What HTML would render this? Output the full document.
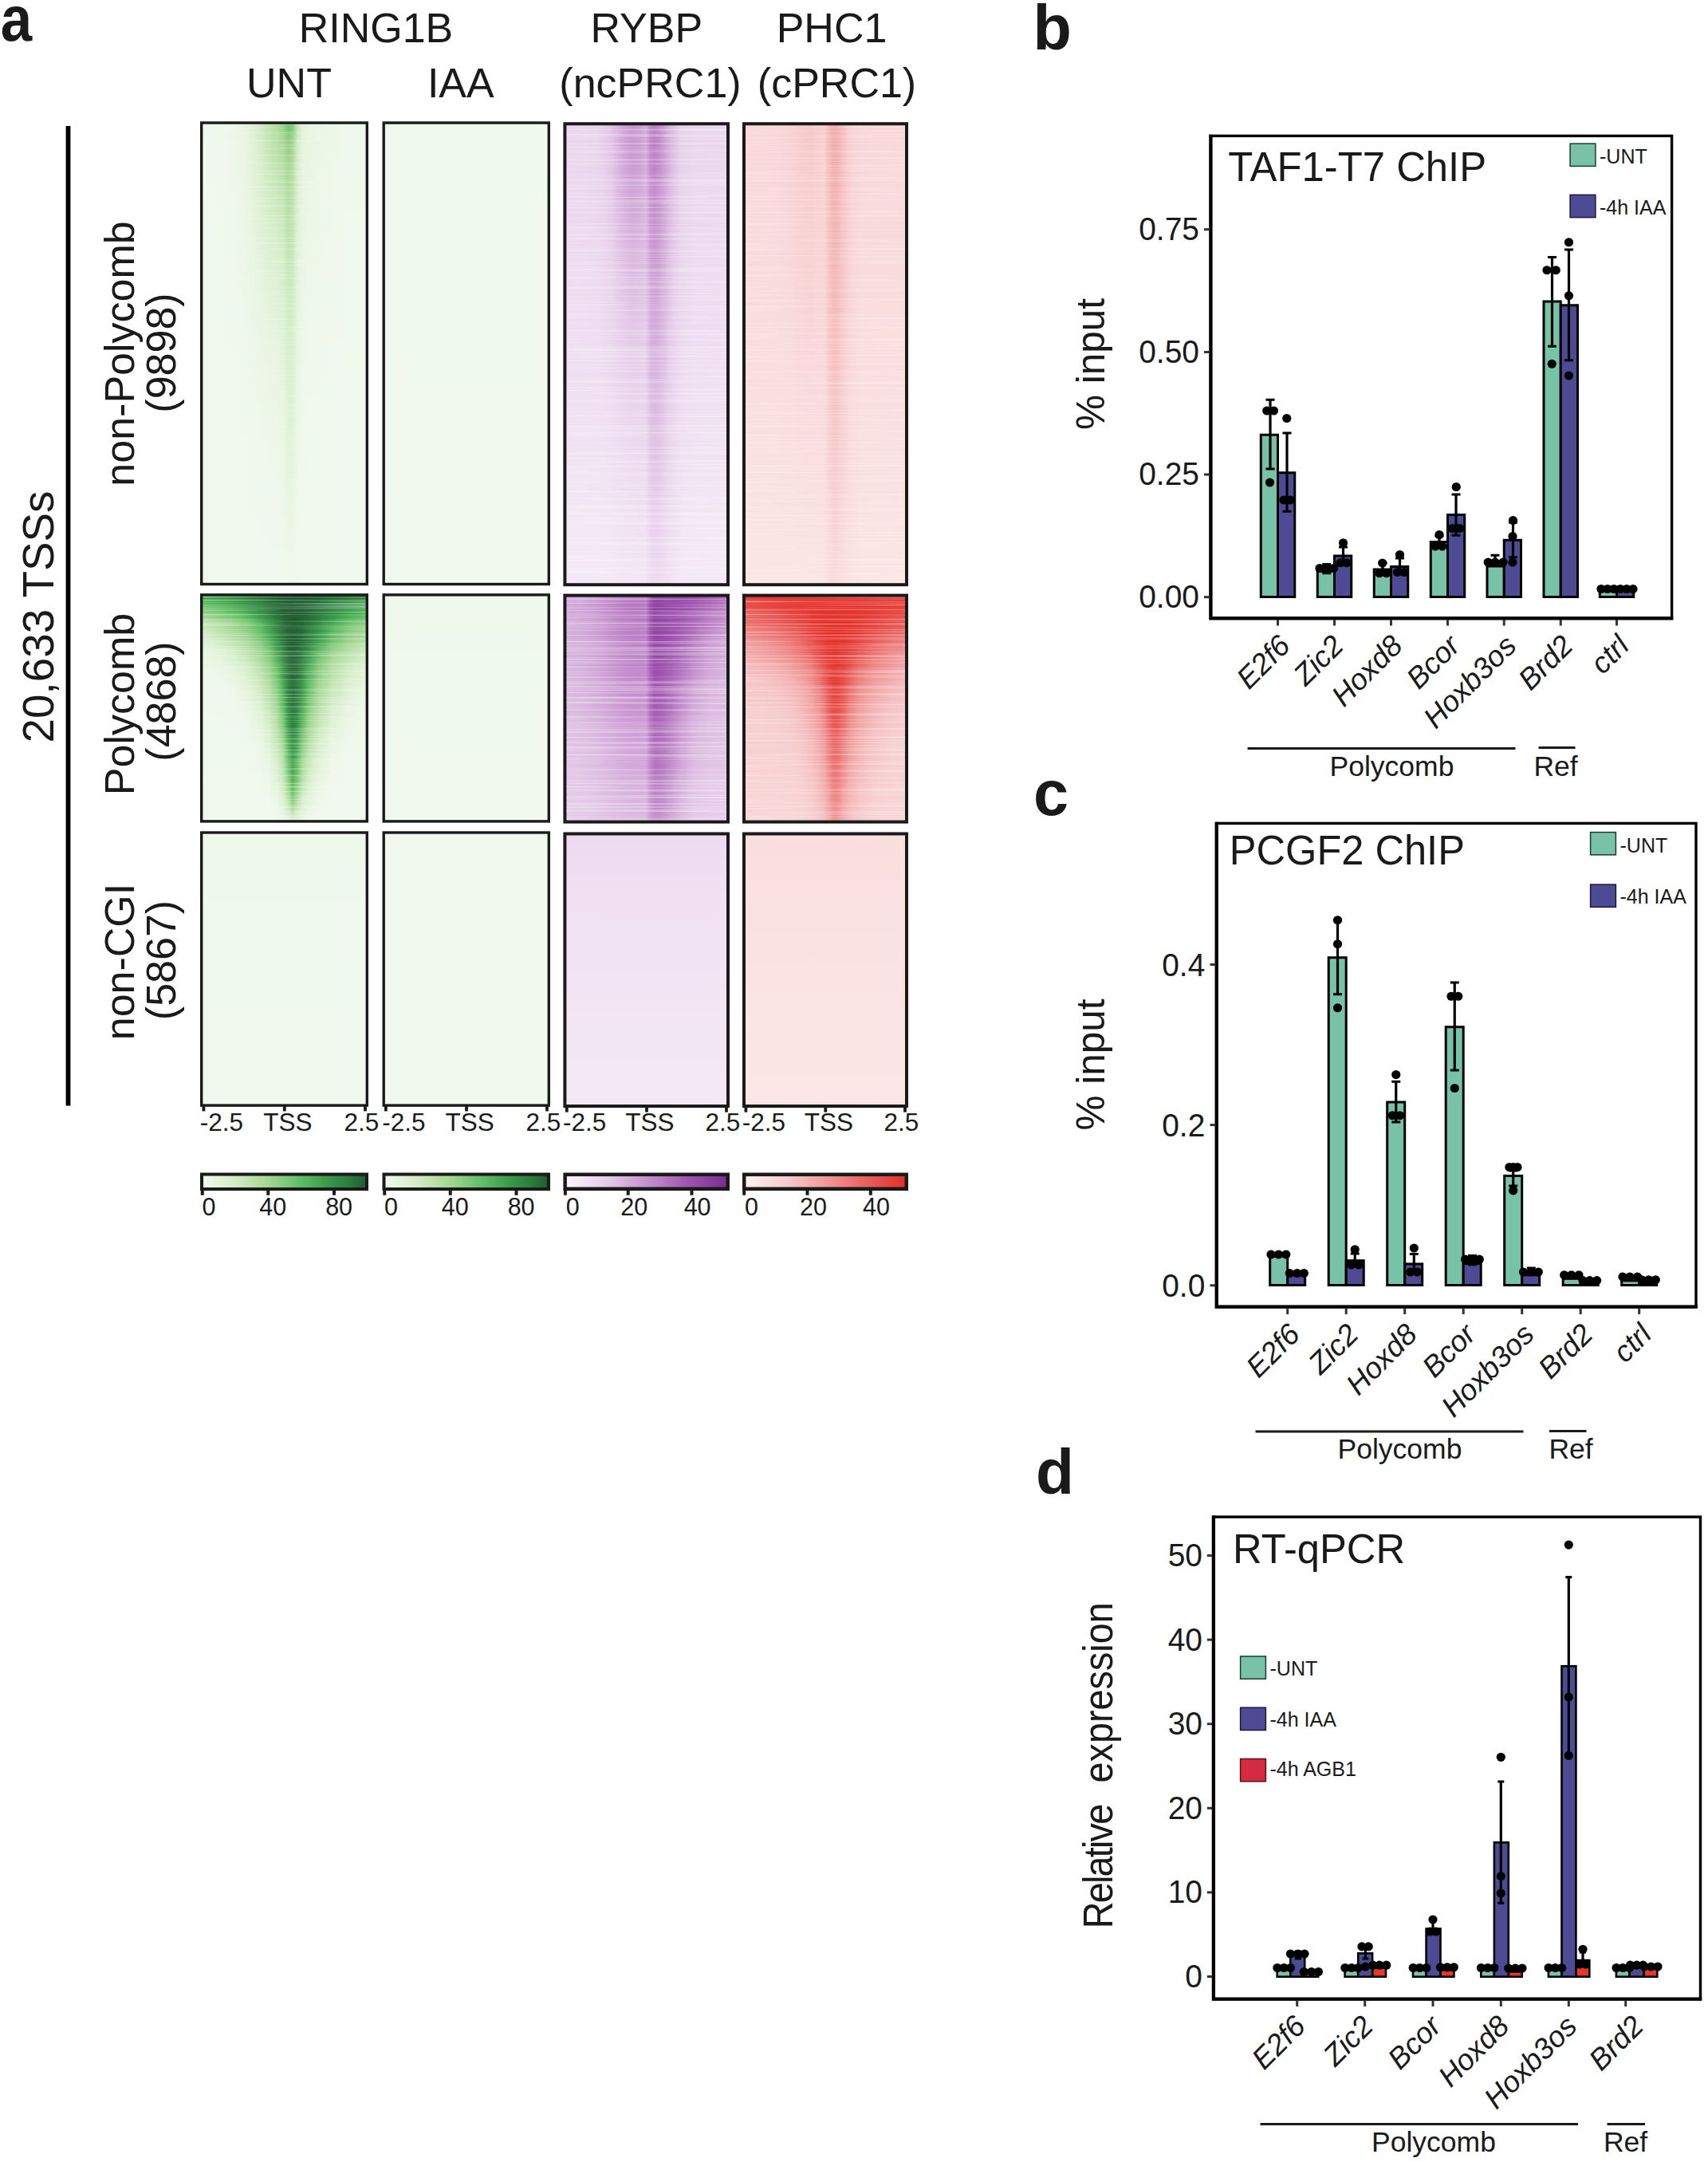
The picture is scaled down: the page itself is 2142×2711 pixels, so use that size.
<!DOCTYPE html>
<html lang="en"><head><meta charset="utf-8"><title>Figure</title>
<style>
html,body{margin:0;padding:0;background:#fff}
svg{display:block}
text{font-family:'Liberation Sans', Arial, Helvetica, sans-serif;}
</style></head><body>
<svg width="2142" height="2711" viewBox="0 0 2142 2711">
<defs>
<linearGradient id="h1"><stop offset="0" stop-color="#f0f9ed"/><stop offset="0.1" stop-color="#eff8ec"/><stop offset="0.2" stop-color="#ecf7e8"/><stop offset="0.28" stop-color="#e4f4dd"/><stop offset="0.35" stop-color="#d5eec8"/><stop offset="0.41" stop-color="#bee3ae"/><stop offset="0.46" stop-color="#afdc9e"/><stop offset="0.495" stop-color="#95d189"/><stop offset="0.525" stop-color="#70c470"/><stop offset="0.55" stop-color="#81ca7b"/><stop offset="0.575" stop-color="#c0e4b1"/><stop offset="0.61" stop-color="#e3f3db"/><stop offset="0.65" stop-color="#e8f5e2"/><stop offset="0.71" stop-color="#eaf6e5"/><stop offset="0.79" stop-color="#edf7e8"/><stop offset="0.89" stop-color="#eff8ec"/><stop offset="1" stop-color="#f0f9ed"/></linearGradient>
<linearGradient id="h2"><stop offset="0" stop-color="#f0f9ed"/><stop offset="0.1" stop-color="#eff8ec"/><stop offset="0.2" stop-color="#ecf7e8"/><stop offset="0.28" stop-color="#e5f4de"/><stop offset="0.35" stop-color="#d6eec9"/><stop offset="0.41" stop-color="#c0e4b1"/><stop offset="0.46" stop-color="#b3dea2"/><stop offset="0.495" stop-color="#9fd58f"/><stop offset="0.525" stop-color="#80ca7a"/><stop offset="0.55" stop-color="#90d085"/><stop offset="0.575" stop-color="#c5e6b7"/><stop offset="0.61" stop-color="#e4f4dc"/><stop offset="0.65" stop-color="#e8f5e2"/><stop offset="0.71" stop-color="#eaf6e5"/><stop offset="0.79" stop-color="#edf7e9"/><stop offset="0.89" stop-color="#eff8ec"/><stop offset="1" stop-color="#f0f9ed"/></linearGradient>
<linearGradient id="h3"><stop offset="0" stop-color="#f1f9ed"/><stop offset="0.1" stop-color="#eff8ec"/><stop offset="0.2" stop-color="#edf7e8"/><stop offset="0.28" stop-color="#e5f4de"/><stop offset="0.35" stop-color="#d7eecb"/><stop offset="0.41" stop-color="#c3e5b4"/><stop offset="0.46" stop-color="#b6dfa6"/><stop offset="0.495" stop-color="#a7d896"/><stop offset="0.525" stop-color="#8dcf83"/><stop offset="0.55" stop-color="#9dd48e"/><stop offset="0.575" stop-color="#cae9bc"/><stop offset="0.61" stop-color="#e4f4dd"/><stop offset="0.65" stop-color="#e8f6e3"/><stop offset="0.71" stop-color="#ebf6e5"/><stop offset="0.79" stop-color="#edf7e9"/><stop offset="0.89" stop-color="#eff8ec"/><stop offset="1" stop-color="#f1f9ed"/></linearGradient>
<linearGradient id="h4"><stop offset="0" stop-color="#f1f9ed"/><stop offset="0.1" stop-color="#f0f8ec"/><stop offset="0.2" stop-color="#edf7e8"/><stop offset="0.28" stop-color="#e6f4df"/><stop offset="0.35" stop-color="#d8efcc"/><stop offset="0.41" stop-color="#c5e6b7"/><stop offset="0.46" stop-color="#bae1aa"/><stop offset="0.495" stop-color="#acda9b"/><stop offset="0.525" stop-color="#95d188"/><stop offset="0.55" stop-color="#a5d793"/><stop offset="0.575" stop-color="#cdeabf"/><stop offset="0.61" stop-color="#e5f4de"/><stop offset="0.65" stop-color="#e9f6e3"/><stop offset="0.71" stop-color="#ebf7e6"/><stop offset="0.79" stop-color="#edf7e9"/><stop offset="0.89" stop-color="#eff8ec"/><stop offset="1" stop-color="#f1f9ed"/></linearGradient>
<linearGradient id="h5"><stop offset="0" stop-color="#f1f9ed"/><stop offset="0.1" stop-color="#f0f8ec"/><stop offset="0.2" stop-color="#edf7e8"/><stop offset="0.28" stop-color="#e6f5df"/><stop offset="0.35" stop-color="#d9efce"/><stop offset="0.41" stop-color="#c8e8ba"/><stop offset="0.46" stop-color="#bde2ae"/><stop offset="0.495" stop-color="#b0dc9f"/><stop offset="0.525" stop-color="#9dd48e"/><stop offset="0.55" stop-color="#a9d998"/><stop offset="0.575" stop-color="#d0ebc2"/><stop offset="0.61" stop-color="#e5f4df"/><stop offset="0.65" stop-color="#e9f6e3"/><stop offset="0.71" stop-color="#ebf7e6"/><stop offset="0.79" stop-color="#edf8e9"/><stop offset="0.89" stop-color="#eff8ec"/><stop offset="1" stop-color="#f1f9ed"/></linearGradient>
<linearGradient id="h6"><stop offset="0" stop-color="#f1f9ed"/><stop offset="0.1" stop-color="#f0f8ec"/><stop offset="0.2" stop-color="#edf7e9"/><stop offset="0.28" stop-color="#e6f5e0"/><stop offset="0.35" stop-color="#daf0cf"/><stop offset="0.41" stop-color="#cae9bc"/><stop offset="0.46" stop-color="#c0e4b1"/><stop offset="0.495" stop-color="#b4dea4"/><stop offset="0.525" stop-color="#a5d793"/><stop offset="0.55" stop-color="#aedb9d"/><stop offset="0.575" stop-color="#d2edc5"/><stop offset="0.61" stop-color="#e6f5df"/><stop offset="0.65" stop-color="#e9f6e4"/><stop offset="0.71" stop-color="#ebf7e6"/><stop offset="0.79" stop-color="#edf8e9"/><stop offset="0.89" stop-color="#eff8ec"/><stop offset="1" stop-color="#f1f9ed"/></linearGradient>
<linearGradient id="h7"><stop offset="0" stop-color="#f1f9ed"/><stop offset="0.1" stop-color="#f0f8ec"/><stop offset="0.2" stop-color="#edf7e9"/><stop offset="0.28" stop-color="#e7f5e0"/><stop offset="0.35" stop-color="#dbf0d0"/><stop offset="0.41" stop-color="#cdeabf"/><stop offset="0.46" stop-color="#c3e5b4"/><stop offset="0.495" stop-color="#b8e0a8"/><stop offset="0.525" stop-color="#aad998"/><stop offset="0.55" stop-color="#b3dea2"/><stop offset="0.575" stop-color="#d4eec8"/><stop offset="0.61" stop-color="#e6f5e0"/><stop offset="0.65" stop-color="#eaf6e4"/><stop offset="0.71" stop-color="#ebf7e7"/><stop offset="0.79" stop-color="#eef8e9"/><stop offset="0.89" stop-color="#f0f8ec"/><stop offset="1" stop-color="#f1f9ed"/></linearGradient>
<linearGradient id="h8"><stop offset="0" stop-color="#f1f9ed"/><stop offset="0.1" stop-color="#f0f8ec"/><stop offset="0.2" stop-color="#edf8e9"/><stop offset="0.28" stop-color="#e7f5e1"/><stop offset="0.35" stop-color="#dcf0d1"/><stop offset="0.41" stop-color="#cfebc1"/><stop offset="0.46" stop-color="#c5e7b7"/><stop offset="0.495" stop-color="#bbe2ac"/><stop offset="0.525" stop-color="#addb9c"/><stop offset="0.55" stop-color="#b6dfa6"/><stop offset="0.575" stop-color="#d6eeca"/><stop offset="0.61" stop-color="#e7f5e1"/><stop offset="0.65" stop-color="#eaf6e4"/><stop offset="0.71" stop-color="#ecf7e7"/><stop offset="0.79" stop-color="#eef8ea"/><stop offset="0.89" stop-color="#f0f8ec"/><stop offset="1" stop-color="#f1f9ed"/></linearGradient>
<linearGradient id="h9"><stop offset="0" stop-color="#f1f9ed"/><stop offset="0.1" stop-color="#f0f9ec"/><stop offset="0.2" stop-color="#edf8e9"/><stop offset="0.28" stop-color="#e8f5e1"/><stop offset="0.35" stop-color="#dcf1d3"/><stop offset="0.41" stop-color="#d1ecc3"/><stop offset="0.46" stop-color="#c8e8ba"/><stop offset="0.495" stop-color="#bee3af"/><stop offset="0.525" stop-color="#b0dc9f"/><stop offset="0.55" stop-color="#b8e0a8"/><stop offset="0.575" stop-color="#d7eecb"/><stop offset="0.61" stop-color="#e7f5e1"/><stop offset="0.65" stop-color="#eaf6e5"/><stop offset="0.71" stop-color="#ecf7e7"/><stop offset="0.79" stop-color="#eef8ea"/><stop offset="0.89" stop-color="#f0f8ec"/><stop offset="1" stop-color="#f1f9ed"/></linearGradient>
<linearGradient id="h10"><stop offset="0" stop-color="#f1f9ed"/><stop offset="0.1" stop-color="#f0f9ec"/><stop offset="0.2" stop-color="#eef8e9"/><stop offset="0.28" stop-color="#e8f5e2"/><stop offset="0.35" stop-color="#ddf1d4"/><stop offset="0.41" stop-color="#d3edc6"/><stop offset="0.46" stop-color="#cae9bc"/><stop offset="0.495" stop-color="#c1e4b2"/><stop offset="0.525" stop-color="#b2dda2"/><stop offset="0.55" stop-color="#bae1aa"/><stop offset="0.575" stop-color="#d8efcc"/><stop offset="0.61" stop-color="#e8f5e2"/><stop offset="0.65" stop-color="#eaf6e5"/><stop offset="0.71" stop-color="#ecf7e7"/><stop offset="0.79" stop-color="#eef8ea"/><stop offset="0.89" stop-color="#f0f8ec"/><stop offset="1" stop-color="#f1f9ed"/></linearGradient>
<linearGradient id="h11"><stop offset="0" stop-color="#f1f9ee"/><stop offset="0.1" stop-color="#f0f9ec"/><stop offset="0.2" stop-color="#eef8ea"/><stop offset="0.28" stop-color="#e8f6e2"/><stop offset="0.35" stop-color="#def1d5"/><stop offset="0.41" stop-color="#d4edc7"/><stop offset="0.46" stop-color="#cdeabf"/><stop offset="0.495" stop-color="#c3e6b5"/><stop offset="0.525" stop-color="#b4dea4"/><stop offset="0.55" stop-color="#bce2ac"/><stop offset="0.575" stop-color="#d8efcd"/><stop offset="0.61" stop-color="#e8f5e2"/><stop offset="0.65" stop-color="#ebf6e5"/><stop offset="0.71" stop-color="#ecf7e8"/><stop offset="0.79" stop-color="#eef8ea"/><stop offset="0.89" stop-color="#f0f8ec"/><stop offset="1" stop-color="#f1f9ee"/></linearGradient>
<linearGradient id="h12"><stop offset="0" stop-color="#f1f9ee"/><stop offset="0.1" stop-color="#f0f9ed"/><stop offset="0.2" stop-color="#eef8ea"/><stop offset="0.28" stop-color="#e9f6e3"/><stop offset="0.35" stop-color="#dff2d6"/><stop offset="0.41" stop-color="#d5eec9"/><stop offset="0.46" stop-color="#cfebc2"/><stop offset="0.495" stop-color="#c6e7b8"/><stop offset="0.525" stop-color="#b7e0a7"/><stop offset="0.55" stop-color="#bee3ae"/><stop offset="0.575" stop-color="#d9f0ce"/><stop offset="0.61" stop-color="#e9f6e3"/><stop offset="0.65" stop-color="#ebf7e6"/><stop offset="0.71" stop-color="#ecf7e8"/><stop offset="0.79" stop-color="#eef8ea"/><stop offset="0.89" stop-color="#f0f9ec"/><stop offset="1" stop-color="#f1f9ee"/></linearGradient>
<linearGradient id="h13"><stop offset="0" stop-color="#f1f9ee"/><stop offset="0.1" stop-color="#f0f9ed"/><stop offset="0.2" stop-color="#eef8ea"/><stop offset="0.28" stop-color="#e9f6e3"/><stop offset="0.35" stop-color="#e0f2d7"/><stop offset="0.41" stop-color="#d7efcb"/><stop offset="0.46" stop-color="#d2ecc5"/><stop offset="0.495" stop-color="#c9e8ba"/><stop offset="0.525" stop-color="#b9e1a9"/><stop offset="0.55" stop-color="#c0e4b0"/><stop offset="0.575" stop-color="#daf0d0"/><stop offset="0.61" stop-color="#e9f6e3"/><stop offset="0.65" stop-color="#ebf7e6"/><stop offset="0.71" stop-color="#edf7e8"/><stop offset="0.79" stop-color="#eef8ea"/><stop offset="0.89" stop-color="#f0f9ec"/><stop offset="1" stop-color="#f1f9ee"/></linearGradient>
<linearGradient id="h14"><stop offset="0" stop-color="#f1f9ee"/><stop offset="0.1" stop-color="#f0f9ed"/><stop offset="0.2" stop-color="#eef8ea"/><stop offset="0.28" stop-color="#eaf6e4"/><stop offset="0.35" stop-color="#e1f2d8"/><stop offset="0.41" stop-color="#d8efcd"/><stop offset="0.46" stop-color="#d4edc7"/><stop offset="0.495" stop-color="#cbe9bd"/><stop offset="0.525" stop-color="#bce2ac"/><stop offset="0.55" stop-color="#c1e5b3"/><stop offset="0.575" stop-color="#dbf0d1"/><stop offset="0.61" stop-color="#e9f6e4"/><stop offset="0.65" stop-color="#ebf7e7"/><stop offset="0.71" stop-color="#edf7e8"/><stop offset="0.79" stop-color="#eef8eb"/><stop offset="0.89" stop-color="#f0f9ed"/><stop offset="1" stop-color="#f1f9ee"/></linearGradient>
<linearGradient id="h15"><stop offset="0" stop-color="#f1f9ee"/><stop offset="0.1" stop-color="#f0f9ed"/><stop offset="0.2" stop-color="#eef8ea"/><stop offset="0.28" stop-color="#eaf6e5"/><stop offset="0.35" stop-color="#e2f3d9"/><stop offset="0.41" stop-color="#d9f0cf"/><stop offset="0.46" stop-color="#d5eec9"/><stop offset="0.495" stop-color="#ceebc0"/><stop offset="0.525" stop-color="#bee3af"/><stop offset="0.55" stop-color="#c3e6b5"/><stop offset="0.575" stop-color="#dcf1d2"/><stop offset="0.61" stop-color="#eaf6e4"/><stop offset="0.65" stop-color="#ecf7e7"/><stop offset="0.71" stop-color="#edf7e9"/><stop offset="0.79" stop-color="#eff8eb"/><stop offset="0.89" stop-color="#f0f9ed"/><stop offset="1" stop-color="#f1f9ee"/></linearGradient>
<linearGradient id="h16"><stop offset="0" stop-color="#f1f9ee"/><stop offset="0.1" stop-color="#f0f9ed"/><stop offset="0.2" stop-color="#eef8eb"/><stop offset="0.28" stop-color="#eaf6e5"/><stop offset="0.35" stop-color="#e2f3db"/><stop offset="0.41" stop-color="#dbf0d0"/><stop offset="0.46" stop-color="#d7efcb"/><stop offset="0.495" stop-color="#d0ecc3"/><stop offset="0.525" stop-color="#c0e4b1"/><stop offset="0.55" stop-color="#c5e6b7"/><stop offset="0.575" stop-color="#ddf1d3"/><stop offset="0.61" stop-color="#eaf6e5"/><stop offset="0.65" stop-color="#ecf7e7"/><stop offset="0.71" stop-color="#edf7e9"/><stop offset="0.79" stop-color="#eff8eb"/><stop offset="0.89" stop-color="#f0f9ed"/><stop offset="1" stop-color="#f1f9ee"/></linearGradient>
<linearGradient id="h17"><stop offset="0" stop-color="#f1f9ee"/><stop offset="0.1" stop-color="#f0f9ed"/><stop offset="0.2" stop-color="#eff8eb"/><stop offset="0.28" stop-color="#ebf6e6"/><stop offset="0.35" stop-color="#e3f4dc"/><stop offset="0.41" stop-color="#dcf1d2"/><stop offset="0.46" stop-color="#d9efcd"/><stop offset="0.495" stop-color="#d3edc6"/><stop offset="0.525" stop-color="#c3e5b4"/><stop offset="0.55" stop-color="#c7e7b9"/><stop offset="0.575" stop-color="#def1d4"/><stop offset="0.61" stop-color="#eaf6e5"/><stop offset="0.65" stop-color="#ecf7e8"/><stop offset="0.71" stop-color="#edf8e9"/><stop offset="0.79" stop-color="#eff8eb"/><stop offset="0.89" stop-color="#f0f9ed"/><stop offset="1" stop-color="#f1f9ee"/></linearGradient>
<linearGradient id="h18"><stop offset="0" stop-color="#f1f9ee"/><stop offset="0.1" stop-color="#f0f9ed"/><stop offset="0.2" stop-color="#eff8eb"/><stop offset="0.28" stop-color="#ebf7e6"/><stop offset="0.35" stop-color="#e4f4dd"/><stop offset="0.41" stop-color="#ddf1d4"/><stop offset="0.46" stop-color="#daf0cf"/><stop offset="0.495" stop-color="#d5eec8"/><stop offset="0.525" stop-color="#c5e6b7"/><stop offset="0.55" stop-color="#c9e8bb"/><stop offset="0.575" stop-color="#dff2d6"/><stop offset="0.61" stop-color="#ebf7e6"/><stop offset="0.65" stop-color="#ecf7e8"/><stop offset="0.71" stop-color="#eef8e9"/><stop offset="0.79" stop-color="#eff8eb"/><stop offset="0.89" stop-color="#f0f9ed"/><stop offset="1" stop-color="#f1f9ee"/></linearGradient>
<linearGradient id="h19"><stop offset="0" stop-color="#f1f9ee"/><stop offset="0.1" stop-color="#f0f9ed"/><stop offset="0.2" stop-color="#eff8eb"/><stop offset="0.28" stop-color="#ebf7e6"/><stop offset="0.35" stop-color="#e5f4de"/><stop offset="0.41" stop-color="#def2d5"/><stop offset="0.46" stop-color="#dbf0d1"/><stop offset="0.495" stop-color="#d6eeca"/><stop offset="0.525" stop-color="#c7e7b8"/><stop offset="0.55" stop-color="#cbe9bd"/><stop offset="0.575" stop-color="#dff2d7"/><stop offset="0.61" stop-color="#ebf7e6"/><stop offset="0.65" stop-color="#edf7e8"/><stop offset="0.71" stop-color="#eef8ea"/><stop offset="0.79" stop-color="#eff8eb"/><stop offset="0.89" stop-color="#f0f9ed"/><stop offset="1" stop-color="#f1f9ee"/></linearGradient>
<linearGradient id="h20"><stop offset="0" stop-color="#f1f9ee"/><stop offset="0.1" stop-color="#f0f9ed"/><stop offset="0.2" stop-color="#eff8eb"/><stop offset="0.28" stop-color="#ecf7e7"/><stop offset="0.35" stop-color="#e5f4de"/><stop offset="0.41" stop-color="#dff2d6"/><stop offset="0.46" stop-color="#dcf1d2"/><stop offset="0.495" stop-color="#d7efcb"/><stop offset="0.525" stop-color="#c9e8ba"/><stop offset="0.55" stop-color="#cceabe"/><stop offset="0.575" stop-color="#e0f2d7"/><stop offset="0.61" stop-color="#ebf7e7"/><stop offset="0.65" stop-color="#edf7e8"/><stop offset="0.71" stop-color="#eef8ea"/><stop offset="0.79" stop-color="#eff8eb"/><stop offset="0.89" stop-color="#f0f9ed"/><stop offset="1" stop-color="#f1f9ee"/></linearGradient>
<linearGradient id="h21"><stop offset="0" stop-color="#f1f9ee"/><stop offset="0.1" stop-color="#f0f9ed"/><stop offset="0.2" stop-color="#eff8eb"/><stop offset="0.28" stop-color="#ecf7e7"/><stop offset="0.35" stop-color="#e6f5df"/><stop offset="0.41" stop-color="#e0f2d7"/><stop offset="0.46" stop-color="#ddf1d4"/><stop offset="0.495" stop-color="#d8efcd"/><stop offset="0.525" stop-color="#cae9bc"/><stop offset="0.55" stop-color="#ceeac0"/><stop offset="0.575" stop-color="#e1f3d8"/><stop offset="0.61" stop-color="#ecf7e7"/><stop offset="0.65" stop-color="#edf7e9"/><stop offset="0.71" stop-color="#eef8ea"/><stop offset="0.79" stop-color="#eff8ec"/><stop offset="0.89" stop-color="#f0f9ed"/><stop offset="1" stop-color="#f1f9ee"/></linearGradient>
<linearGradient id="h22"><stop offset="0" stop-color="#f1f9ee"/><stop offset="0.1" stop-color="#f0f9ed"/><stop offset="0.2" stop-color="#eff8eb"/><stop offset="0.28" stop-color="#ecf7e7"/><stop offset="0.35" stop-color="#e6f5e0"/><stop offset="0.41" stop-color="#e1f3d9"/><stop offset="0.46" stop-color="#def2d5"/><stop offset="0.495" stop-color="#d9f0cf"/><stop offset="0.525" stop-color="#cceabe"/><stop offset="0.55" stop-color="#cfebc2"/><stop offset="0.575" stop-color="#e1f3d9"/><stop offset="0.61" stop-color="#ecf7e7"/><stop offset="0.65" stop-color="#edf7e9"/><stop offset="0.71" stop-color="#eef8ea"/><stop offset="0.79" stop-color="#eff8ec"/><stop offset="0.89" stop-color="#f0f9ed"/><stop offset="1" stop-color="#f1f9ee"/></linearGradient>
<linearGradient id="h23"><stop offset="0" stop-color="#f1f9ee"/><stop offset="0.1" stop-color="#f0f9ed"/><stop offset="0.2" stop-color="#eff8ec"/><stop offset="0.28" stop-color="#ecf7e8"/><stop offset="0.35" stop-color="#e7f5e1"/><stop offset="0.41" stop-color="#e2f3da"/><stop offset="0.46" stop-color="#dff2d7"/><stop offset="0.495" stop-color="#dbf0d0"/><stop offset="0.525" stop-color="#ceebc0"/><stop offset="0.55" stop-color="#d1ecc3"/><stop offset="0.575" stop-color="#e2f3da"/><stop offset="0.61" stop-color="#ecf7e8"/><stop offset="0.65" stop-color="#edf8e9"/><stop offset="0.71" stop-color="#eef8ea"/><stop offset="0.79" stop-color="#eff8ec"/><stop offset="0.89" stop-color="#f0f9ed"/><stop offset="1" stop-color="#f1f9ee"/></linearGradient>
<linearGradient id="h24"><stop offset="0" stop-color="#f1f9ee"/><stop offset="0.1" stop-color="#f0f9ed"/><stop offset="0.2" stop-color="#eff8ec"/><stop offset="0.28" stop-color="#edf7e8"/><stop offset="0.35" stop-color="#e8f5e2"/><stop offset="0.41" stop-color="#e3f3db"/><stop offset="0.46" stop-color="#e0f2d8"/><stop offset="0.495" stop-color="#dcf1d2"/><stop offset="0.525" stop-color="#d0ebc2"/><stop offset="0.55" stop-color="#d2edc5"/><stop offset="0.575" stop-color="#e3f3db"/><stop offset="0.61" stop-color="#edf7e8"/><stop offset="0.65" stop-color="#eef8ea"/><stop offset="0.71" stop-color="#eef8eb"/><stop offset="0.79" stop-color="#eff8ec"/><stop offset="0.89" stop-color="#f0f9ed"/><stop offset="1" stop-color="#f1f9ee"/></linearGradient>
<linearGradient id="h25"><stop offset="0" stop-color="#f1f9ee"/><stop offset="0.1" stop-color="#f0f9ed"/><stop offset="0.2" stop-color="#eff8ec"/><stop offset="0.28" stop-color="#edf7e9"/><stop offset="0.35" stop-color="#e8f6e2"/><stop offset="0.41" stop-color="#e4f4dc"/><stop offset="0.46" stop-color="#e2f3d9"/><stop offset="0.495" stop-color="#ddf1d3"/><stop offset="0.525" stop-color="#d1ecc4"/><stop offset="0.55" stop-color="#d3edc7"/><stop offset="0.575" stop-color="#e3f4dc"/><stop offset="0.61" stop-color="#edf7e8"/><stop offset="0.65" stop-color="#eef8ea"/><stop offset="0.71" stop-color="#eff8eb"/><stop offset="0.79" stop-color="#f0f8ec"/><stop offset="0.89" stop-color="#f0f9ed"/><stop offset="1" stop-color="#f1f9ee"/></linearGradient>
<linearGradient id="h26"><stop offset="0" stop-color="#f1f9ee"/><stop offset="0.1" stop-color="#f0f9ed"/><stop offset="0.2" stop-color="#eff8ec"/><stop offset="0.28" stop-color="#edf7e9"/><stop offset="0.35" stop-color="#e9f6e3"/><stop offset="0.41" stop-color="#e5f4de"/><stop offset="0.46" stop-color="#e3f3db"/><stop offset="0.495" stop-color="#def1d5"/><stop offset="0.525" stop-color="#d3edc6"/><stop offset="0.55" stop-color="#d4eec8"/><stop offset="0.575" stop-color="#e4f4dd"/><stop offset="0.61" stop-color="#edf7e9"/><stop offset="0.65" stop-color="#eef8ea"/><stop offset="0.71" stop-color="#eff8eb"/><stop offset="0.79" stop-color="#f0f8ec"/><stop offset="0.89" stop-color="#f0f9ed"/><stop offset="1" stop-color="#f1f9ee"/></linearGradient>
<linearGradient id="h27"><stop offset="0" stop-color="#f1f9ee"/><stop offset="0.1" stop-color="#f1f9ed"/><stop offset="0.2" stop-color="#f0f8ec"/><stop offset="0.28" stop-color="#edf8e9"/><stop offset="0.35" stop-color="#e9f6e4"/><stop offset="0.41" stop-color="#e6f4df"/><stop offset="0.46" stop-color="#e4f4dc"/><stop offset="0.495" stop-color="#dff2d7"/><stop offset="0.525" stop-color="#d4edc8"/><stop offset="0.55" stop-color="#d5eec9"/><stop offset="0.575" stop-color="#e5f4de"/><stop offset="0.61" stop-color="#edf8e9"/><stop offset="0.65" stop-color="#eef8ea"/><stop offset="0.71" stop-color="#eff8eb"/><stop offset="0.79" stop-color="#f0f8ec"/><stop offset="0.89" stop-color="#f0f9ed"/><stop offset="1" stop-color="#f1f9ee"/></linearGradient>
<linearGradient id="h28"><stop offset="0" stop-color="#f1f9ee"/><stop offset="0.1" stop-color="#f1f9ed"/><stop offset="0.2" stop-color="#f0f8ec"/><stop offset="0.28" stop-color="#eef8ea"/><stop offset="0.35" stop-color="#eaf6e5"/><stop offset="0.41" stop-color="#e6f5e0"/><stop offset="0.46" stop-color="#e5f4de"/><stop offset="0.495" stop-color="#e1f2d8"/><stop offset="0.525" stop-color="#d5eec9"/><stop offset="0.55" stop-color="#d6eeca"/><stop offset="0.575" stop-color="#e5f4df"/><stop offset="0.61" stop-color="#eef8ea"/><stop offset="0.65" stop-color="#eef8eb"/><stop offset="0.71" stop-color="#eff8eb"/><stop offset="0.79" stop-color="#f0f9ec"/><stop offset="0.89" stop-color="#f0f9ed"/><stop offset="1" stop-color="#f1f9ee"/></linearGradient>
<linearGradient id="h29"><stop offset="0" stop-color="#f1f9ee"/><stop offset="0.1" stop-color="#f1f9ed"/><stop offset="0.2" stop-color="#f0f9ec"/><stop offset="0.28" stop-color="#eef8ea"/><stop offset="0.35" stop-color="#ebf6e6"/><stop offset="0.41" stop-color="#e7f5e1"/><stop offset="0.46" stop-color="#e6f5df"/><stop offset="0.495" stop-color="#e2f3da"/><stop offset="0.525" stop-color="#d7eecb"/><stop offset="0.55" stop-color="#d7efcc"/><stop offset="0.575" stop-color="#e6f5df"/><stop offset="0.61" stop-color="#eef8ea"/><stop offset="0.65" stop-color="#eff8eb"/><stop offset="0.71" stop-color="#eff8ec"/><stop offset="0.79" stop-color="#f0f9ed"/><stop offset="0.89" stop-color="#f1f9ed"/><stop offset="1" stop-color="#f1f9ee"/></linearGradient>
<linearGradient id="h30"><stop offset="0" stop-color="#f1f9ee"/><stop offset="0.1" stop-color="#f1f9ed"/><stop offset="0.2" stop-color="#f0f9ed"/><stop offset="0.28" stop-color="#eef8ea"/><stop offset="0.35" stop-color="#ebf7e6"/><stop offset="0.41" stop-color="#e8f5e2"/><stop offset="0.46" stop-color="#e7f5e0"/><stop offset="0.495" stop-color="#e3f3db"/><stop offset="0.525" stop-color="#d8efcc"/><stop offset="0.55" stop-color="#d8efcd"/><stop offset="0.575" stop-color="#e7f5e0"/><stop offset="0.61" stop-color="#eef8ea"/><stop offset="0.65" stop-color="#eff8eb"/><stop offset="0.71" stop-color="#eff8ec"/><stop offset="0.79" stop-color="#f0f9ed"/><stop offset="0.89" stop-color="#f1f9ed"/><stop offset="1" stop-color="#f1f9ee"/></linearGradient>
<linearGradient id="h31"><stop offset="0" stop-color="#f1f9ee"/><stop offset="0.1" stop-color="#f1f9ee"/><stop offset="0.2" stop-color="#f0f9ed"/><stop offset="0.28" stop-color="#eef8eb"/><stop offset="0.35" stop-color="#ecf7e7"/><stop offset="0.41" stop-color="#e9f6e3"/><stop offset="0.46" stop-color="#e7f5e1"/><stop offset="0.495" stop-color="#e4f4dc"/><stop offset="0.525" stop-color="#d9efce"/><stop offset="0.55" stop-color="#d9efce"/><stop offset="0.575" stop-color="#e7f5e1"/><stop offset="0.61" stop-color="#eef8eb"/><stop offset="0.65" stop-color="#eff8eb"/><stop offset="0.71" stop-color="#f0f8ec"/><stop offset="0.79" stop-color="#f0f9ed"/><stop offset="0.89" stop-color="#f1f9ed"/><stop offset="1" stop-color="#f1f9ee"/></linearGradient>
<linearGradient id="h32"><stop offset="0" stop-color="#f1f9ee"/><stop offset="0.1" stop-color="#f1f9ee"/><stop offset="0.2" stop-color="#f0f9ed"/><stop offset="0.28" stop-color="#eff8eb"/><stop offset="0.35" stop-color="#ecf7e7"/><stop offset="0.41" stop-color="#e9f6e4"/><stop offset="0.46" stop-color="#e8f5e2"/><stop offset="0.495" stop-color="#e5f4dd"/><stop offset="0.525" stop-color="#daf0cf"/><stop offset="0.55" stop-color="#daf0d0"/><stop offset="0.575" stop-color="#e8f5e2"/><stop offset="0.61" stop-color="#eff8eb"/><stop offset="0.65" stop-color="#eff8ec"/><stop offset="0.71" stop-color="#f0f8ec"/><stop offset="0.79" stop-color="#f0f9ed"/><stop offset="0.89" stop-color="#f1f9ee"/><stop offset="1" stop-color="#f1f9ee"/></linearGradient>
<linearGradient id="h33"><stop offset="0" stop-color="#f1f9ee"/><stop offset="0.1" stop-color="#f1f9ee"/><stop offset="0.2" stop-color="#f0f9ed"/><stop offset="0.28" stop-color="#eff8eb"/><stop offset="0.35" stop-color="#ecf7e8"/><stop offset="0.41" stop-color="#eaf6e4"/><stop offset="0.46" stop-color="#e9f6e3"/><stop offset="0.495" stop-color="#e5f4de"/><stop offset="0.525" stop-color="#dbf0d0"/><stop offset="0.55" stop-color="#dbf0d1"/><stop offset="0.575" stop-color="#e9f6e3"/><stop offset="0.61" stop-color="#eff8eb"/><stop offset="0.65" stop-color="#eff8ec"/><stop offset="0.71" stop-color="#f0f9ec"/><stop offset="0.79" stop-color="#f0f9ed"/><stop offset="0.89" stop-color="#f1f9ee"/><stop offset="1" stop-color="#f1f9ee"/></linearGradient>
<linearGradient id="h34"><stop offset="0" stop-color="#f1f9ee"/><stop offset="0.1" stop-color="#f1f9ee"/><stop offset="0.2" stop-color="#f0f9ed"/><stop offset="0.28" stop-color="#eff8eb"/><stop offset="0.35" stop-color="#edf7e8"/><stop offset="0.41" stop-color="#eaf6e5"/><stop offset="0.46" stop-color="#e9f6e4"/><stop offset="0.495" stop-color="#e6f5e0"/><stop offset="0.525" stop-color="#dcf1d2"/><stop offset="0.55" stop-color="#dcf1d2"/><stop offset="0.575" stop-color="#e9f6e4"/><stop offset="0.61" stop-color="#eff8ec"/><stop offset="0.65" stop-color="#f0f8ec"/><stop offset="0.71" stop-color="#f0f9ed"/><stop offset="0.79" stop-color="#f0f9ed"/><stop offset="0.89" stop-color="#f1f9ee"/><stop offset="1" stop-color="#f1f9ee"/></linearGradient>
<linearGradient id="h35"><stop offset="0" stop-color="#f1f9ee"/><stop offset="0.1" stop-color="#f1f9ee"/><stop offset="0.2" stop-color="#f0f9ed"/><stop offset="0.28" stop-color="#eff8ec"/><stop offset="0.35" stop-color="#edf7e9"/><stop offset="0.41" stop-color="#ebf7e6"/><stop offset="0.46" stop-color="#eaf6e5"/><stop offset="0.495" stop-color="#e7f5e1"/><stop offset="0.525" stop-color="#ddf1d3"/><stop offset="0.55" stop-color="#ddf1d3"/><stop offset="0.575" stop-color="#eaf6e4"/><stop offset="0.61" stop-color="#eff8ec"/><stop offset="0.65" stop-color="#f0f9ec"/><stop offset="0.71" stop-color="#f0f9ed"/><stop offset="0.79" stop-color="#f0f9ed"/><stop offset="0.89" stop-color="#f1f9ee"/><stop offset="1" stop-color="#f1f9ee"/></linearGradient>
<linearGradient id="h36"><stop offset="0" stop-color="#f1f9ee"/><stop offset="0.1" stop-color="#f1f9ee"/><stop offset="0.2" stop-color="#f0f9ed"/><stop offset="0.28" stop-color="#eff8ec"/><stop offset="0.35" stop-color="#edf8e9"/><stop offset="0.41" stop-color="#ebf7e7"/><stop offset="0.46" stop-color="#ebf6e5"/><stop offset="0.495" stop-color="#e8f5e2"/><stop offset="0.525" stop-color="#def1d4"/><stop offset="0.55" stop-color="#def1d5"/><stop offset="0.575" stop-color="#eaf6e5"/><stop offset="0.61" stop-color="#f0f8ec"/><stop offset="0.65" stop-color="#f0f9ed"/><stop offset="0.71" stop-color="#f0f9ed"/><stop offset="0.79" stop-color="#f0f9ed"/><stop offset="0.89" stop-color="#f1f9ee"/><stop offset="1" stop-color="#f1f9ee"/></linearGradient>
<linearGradient id="h37"><stop offset="0" stop-color="#f1f9ee"/><stop offset="0.1" stop-color="#f1f9ee"/><stop offset="0.2" stop-color="#f0f9ed"/><stop offset="0.28" stop-color="#eff8ec"/><stop offset="0.35" stop-color="#eef8ea"/><stop offset="0.41" stop-color="#ecf7e7"/><stop offset="0.46" stop-color="#ebf7e6"/><stop offset="0.495" stop-color="#e8f6e2"/><stop offset="0.525" stop-color="#dff2d6"/><stop offset="0.55" stop-color="#dff2d6"/><stop offset="0.575" stop-color="#ebf6e5"/><stop offset="0.61" stop-color="#f0f8ec"/><stop offset="0.65" stop-color="#f0f9ed"/><stop offset="0.71" stop-color="#f0f9ed"/><stop offset="0.79" stop-color="#f1f9ed"/><stop offset="0.89" stop-color="#f1f9ee"/><stop offset="1" stop-color="#f1f9ee"/></linearGradient>
<linearGradient id="h38"><stop offset="0" stop-color="#f1f9ee"/><stop offset="0.1" stop-color="#f1f9ee"/><stop offset="0.2" stop-color="#f0f9ed"/><stop offset="0.28" stop-color="#f0f8ec"/><stop offset="0.35" stop-color="#eef8ea"/><stop offset="0.41" stop-color="#ecf7e8"/><stop offset="0.46" stop-color="#ebf7e7"/><stop offset="0.495" stop-color="#e9f6e3"/><stop offset="0.525" stop-color="#dff2d7"/><stop offset="0.55" stop-color="#dff2d7"/><stop offset="0.575" stop-color="#ebf7e6"/><stop offset="0.61" stop-color="#f0f8ec"/><stop offset="0.65" stop-color="#f0f9ed"/><stop offset="0.71" stop-color="#f0f9ed"/><stop offset="0.79" stop-color="#f1f9ed"/><stop offset="0.89" stop-color="#f1f9ee"/><stop offset="1" stop-color="#f1f9ee"/></linearGradient>
<linearGradient id="h39"><stop offset="0" stop-color="#f1f9ee"/><stop offset="0.1" stop-color="#f1f9ee"/><stop offset="0.2" stop-color="#f1f9ed"/><stop offset="0.28" stop-color="#f0f8ec"/><stop offset="0.35" stop-color="#eef8ea"/><stop offset="0.41" stop-color="#edf7e8"/><stop offset="0.46" stop-color="#ecf7e7"/><stop offset="0.495" stop-color="#eaf6e4"/><stop offset="0.525" stop-color="#e0f2d8"/><stop offset="0.55" stop-color="#e0f2d8"/><stop offset="0.575" stop-color="#ebf7e6"/><stop offset="0.61" stop-color="#f0f9ec"/><stop offset="0.65" stop-color="#f0f9ed"/><stop offset="0.71" stop-color="#f0f9ed"/><stop offset="0.79" stop-color="#f1f9ed"/><stop offset="0.89" stop-color="#f1f9ee"/><stop offset="1" stop-color="#f1f9ee"/></linearGradient>
<linearGradient id="h40"><stop offset="0" stop-color="#f1f9ee"/><stop offset="0.1" stop-color="#f1f9ee"/><stop offset="0.2" stop-color="#f1f9ed"/><stop offset="0.28" stop-color="#f0f9ec"/><stop offset="0.35" stop-color="#eef8ea"/><stop offset="0.41" stop-color="#edf7e9"/><stop offset="0.46" stop-color="#ecf7e8"/><stop offset="0.495" stop-color="#eaf6e5"/><stop offset="0.525" stop-color="#e1f3d9"/><stop offset="0.55" stop-color="#e1f3d9"/><stop offset="0.575" stop-color="#ecf7e7"/><stop offset="0.61" stop-color="#f0f9ec"/><stop offset="0.65" stop-color="#f0f9ed"/><stop offset="0.71" stop-color="#f0f9ed"/><stop offset="0.79" stop-color="#f1f9ed"/><stop offset="0.89" stop-color="#f1f9ee"/><stop offset="1" stop-color="#f1f9ee"/></linearGradient>
<linearGradient id="h41"><stop offset="0" stop-color="#f1f9ee"/><stop offset="0.1" stop-color="#f1f9ee"/><stop offset="0.2" stop-color="#f1f9ed"/><stop offset="0.28" stop-color="#f0f9ed"/><stop offset="0.35" stop-color="#eff8eb"/><stop offset="0.41" stop-color="#edf8e9"/><stop offset="0.46" stop-color="#edf7e8"/><stop offset="0.495" stop-color="#ebf7e6"/><stop offset="0.525" stop-color="#e2f3da"/><stop offset="0.55" stop-color="#e2f3da"/><stop offset="0.575" stop-color="#ecf7e7"/><stop offset="0.61" stop-color="#f0f9ed"/><stop offset="0.65" stop-color="#f0f9ed"/><stop offset="0.71" stop-color="#f0f9ed"/><stop offset="0.79" stop-color="#f1f9ed"/><stop offset="0.89" stop-color="#f1f9ee"/><stop offset="1" stop-color="#f1f9ee"/></linearGradient>
<linearGradient id="h42"><stop offset="0" stop-color="#f1f9ee"/><stop offset="0.1" stop-color="#f1f9ee"/><stop offset="0.2" stop-color="#f1f9ed"/><stop offset="0.28" stop-color="#f0f9ed"/><stop offset="0.35" stop-color="#eff8eb"/><stop offset="0.41" stop-color="#eef8e9"/><stop offset="0.46" stop-color="#edf7e9"/><stop offset="0.495" stop-color="#ebf7e6"/><stop offset="0.525" stop-color="#e3f3db"/><stop offset="0.55" stop-color="#e3f3db"/><stop offset="0.575" stop-color="#ecf7e8"/><stop offset="0.61" stop-color="#f0f9ed"/><stop offset="0.65" stop-color="#f0f9ed"/><stop offset="0.71" stop-color="#f0f9ed"/><stop offset="0.79" stop-color="#f1f9ee"/><stop offset="0.89" stop-color="#f1f9ee"/><stop offset="1" stop-color="#f1f9ee"/></linearGradient>
<linearGradient id="h43"><stop offset="0" stop-color="#f1f9ee"/><stop offset="0.1" stop-color="#f1f9ee"/><stop offset="0.2" stop-color="#f1f9ed"/><stop offset="0.28" stop-color="#f0f9ed"/><stop offset="0.35" stop-color="#eff8eb"/><stop offset="0.41" stop-color="#eef8ea"/><stop offset="0.46" stop-color="#edf8e9"/><stop offset="0.495" stop-color="#ecf7e7"/><stop offset="0.525" stop-color="#e4f4dc"/><stop offset="0.55" stop-color="#e4f4dc"/><stop offset="0.575" stop-color="#edf7e8"/><stop offset="0.61" stop-color="#f0f9ed"/><stop offset="0.65" stop-color="#f0f9ed"/><stop offset="0.71" stop-color="#f0f9ed"/><stop offset="0.79" stop-color="#f1f9ee"/><stop offset="0.89" stop-color="#f1f9ee"/><stop offset="1" stop-color="#f1f9ee"/></linearGradient>
<linearGradient id="h44"><stop offset="0" stop-color="#f1f9ee"/><stop offset="0.1" stop-color="#f1f9ee"/><stop offset="0.2" stop-color="#f1f9ee"/><stop offset="0.28" stop-color="#f0f9ed"/><stop offset="0.35" stop-color="#eff8eb"/><stop offset="0.41" stop-color="#eef8ea"/><stop offset="0.46" stop-color="#eef8e9"/><stop offset="0.495" stop-color="#ecf7e7"/><stop offset="0.525" stop-color="#e5f4de"/><stop offset="0.55" stop-color="#e5f4dd"/><stop offset="0.575" stop-color="#edf7e9"/><stop offset="0.61" stop-color="#f0f9ed"/><stop offset="0.65" stop-color="#f0f9ed"/><stop offset="0.71" stop-color="#f0f9ed"/><stop offset="0.79" stop-color="#f1f9ee"/><stop offset="0.89" stop-color="#f1f9ee"/><stop offset="1" stop-color="#f1f9ee"/></linearGradient>
<linearGradient id="h45"><stop offset="0" stop-color="#f1f9ee"/><stop offset="0.1" stop-color="#f1f9ee"/><stop offset="0.2" stop-color="#f1f9ee"/><stop offset="0.28" stop-color="#f0f9ed"/><stop offset="0.35" stop-color="#eff8ec"/><stop offset="0.41" stop-color="#eef8ea"/><stop offset="0.46" stop-color="#eef8ea"/><stop offset="0.495" stop-color="#ecf7e8"/><stop offset="0.525" stop-color="#e6f4df"/><stop offset="0.55" stop-color="#e5f4df"/><stop offset="0.575" stop-color="#eef8e9"/><stop offset="0.61" stop-color="#f0f9ed"/><stop offset="0.65" stop-color="#f0f9ed"/><stop offset="0.71" stop-color="#f1f9ed"/><stop offset="0.79" stop-color="#f1f9ee"/><stop offset="0.89" stop-color="#f1f9ee"/><stop offset="1" stop-color="#f1f9ee"/></linearGradient>
<linearGradient id="h46"><stop offset="0" stop-color="#f1f9ee"/><stop offset="0.1" stop-color="#f1f9ee"/><stop offset="0.2" stop-color="#f1f9ee"/><stop offset="0.28" stop-color="#f0f9ed"/><stop offset="0.35" stop-color="#eff8ec"/><stop offset="0.41" stop-color="#eef8eb"/><stop offset="0.46" stop-color="#eef8ea"/><stop offset="0.495" stop-color="#edf7e9"/><stop offset="0.525" stop-color="#e7f5e0"/><stop offset="0.55" stop-color="#e6f5e0"/><stop offset="0.575" stop-color="#eef8ea"/><stop offset="0.61" stop-color="#f0f9ed"/><stop offset="0.65" stop-color="#f0f9ed"/><stop offset="0.71" stop-color="#f1f9ed"/><stop offset="0.79" stop-color="#f1f9ee"/><stop offset="0.89" stop-color="#f1f9ee"/><stop offset="1" stop-color="#f1f9ee"/></linearGradient>
<linearGradient id="h47"><stop offset="0" stop-color="#f1f9ee"/><stop offset="0.1" stop-color="#f1f9ee"/><stop offset="0.2" stop-color="#f1f9ee"/><stop offset="0.28" stop-color="#f0f9ed"/><stop offset="0.35" stop-color="#eff8ec"/><stop offset="0.41" stop-color="#eff8eb"/><stop offset="0.46" stop-color="#eef8ea"/><stop offset="0.495" stop-color="#edf8e9"/><stop offset="0.525" stop-color="#e7f5e1"/><stop offset="0.55" stop-color="#e7f5e1"/><stop offset="0.575" stop-color="#eef8ea"/><stop offset="0.61" stop-color="#f0f9ed"/><stop offset="0.65" stop-color="#f0f9ed"/><stop offset="0.71" stop-color="#f1f9ed"/><stop offset="0.79" stop-color="#f1f9ee"/><stop offset="0.89" stop-color="#f1f9ee"/><stop offset="1" stop-color="#f1f9ee"/></linearGradient>
<linearGradient id="h48"><stop offset="0" stop-color="#f1f9ee"/><stop offset="0.1" stop-color="#f1f9ee"/><stop offset="0.2" stop-color="#f1f9ee"/><stop offset="0.28" stop-color="#f0f9ed"/><stop offset="0.35" stop-color="#f0f8ec"/><stop offset="0.41" stop-color="#eff8eb"/><stop offset="0.46" stop-color="#eff8eb"/><stop offset="0.495" stop-color="#eef8ea"/><stop offset="0.525" stop-color="#e8f6e2"/><stop offset="0.55" stop-color="#e8f5e2"/><stop offset="0.575" stop-color="#eef8eb"/><stop offset="0.61" stop-color="#f0f9ed"/><stop offset="0.65" stop-color="#f0f9ed"/><stop offset="0.71" stop-color="#f1f9ed"/><stop offset="0.79" stop-color="#f1f9ee"/><stop offset="0.89" stop-color="#f1f9ee"/><stop offset="1" stop-color="#f1f9ee"/></linearGradient>
<linearGradient id="h49"><stop offset="0" stop-color="#f1f9ee"/><stop offset="0.1" stop-color="#f1f9ee"/><stop offset="0.2" stop-color="#f1f9ee"/><stop offset="0.28" stop-color="#f0f9ed"/><stop offset="0.35" stop-color="#f0f8ec"/><stop offset="0.41" stop-color="#eff8eb"/><stop offset="0.46" stop-color="#eff8eb"/><stop offset="0.495" stop-color="#eef8ea"/><stop offset="0.525" stop-color="#e9f6e4"/><stop offset="0.55" stop-color="#e9f6e3"/><stop offset="0.575" stop-color="#eff8eb"/><stop offset="0.61" stop-color="#f0f9ed"/><stop offset="0.65" stop-color="#f1f9ed"/><stop offset="0.71" stop-color="#f1f9ee"/><stop offset="0.79" stop-color="#f1f9ee"/><stop offset="0.89" stop-color="#f1f9ee"/><stop offset="1" stop-color="#f1f9ee"/></linearGradient>
<linearGradient id="h50"><stop offset="0" stop-color="#f1f9ee"/><stop offset="0.1" stop-color="#f1f9ee"/><stop offset="0.2" stop-color="#f1f9ee"/><stop offset="0.28" stop-color="#f0f9ed"/><stop offset="0.35" stop-color="#f0f9ec"/><stop offset="0.41" stop-color="#eff8ec"/><stop offset="0.46" stop-color="#eff8eb"/><stop offset="0.495" stop-color="#eef8eb"/><stop offset="0.525" stop-color="#eaf6e5"/><stop offset="0.55" stop-color="#eaf6e4"/><stop offset="0.575" stop-color="#eff8eb"/><stop offset="0.61" stop-color="#f0f9ed"/><stop offset="0.65" stop-color="#f1f9ed"/><stop offset="0.71" stop-color="#f1f9ee"/><stop offset="0.79" stop-color="#f1f9ee"/><stop offset="0.89" stop-color="#f1f9ee"/><stop offset="1" stop-color="#f1f9ee"/></linearGradient>
<linearGradient id="h51"><stop offset="0" stop-color="#f1f9ee"/><stop offset="0.1" stop-color="#f1f9ee"/><stop offset="0.2" stop-color="#f1f9ee"/><stop offset="0.28" stop-color="#f1f9ed"/><stop offset="0.35" stop-color="#f0f9ed"/><stop offset="0.41" stop-color="#eff8ec"/><stop offset="0.46" stop-color="#eff8ec"/><stop offset="0.495" stop-color="#eff8eb"/><stop offset="0.525" stop-color="#ebf6e5"/><stop offset="0.55" stop-color="#eaf6e5"/><stop offset="0.575" stop-color="#eff8ec"/><stop offset="0.61" stop-color="#f1f9ed"/><stop offset="0.65" stop-color="#f1f9ee"/><stop offset="0.71" stop-color="#f1f9ee"/><stop offset="0.79" stop-color="#f1f9ee"/><stop offset="0.89" stop-color="#f1f9ee"/><stop offset="1" stop-color="#f1f9ee"/></linearGradient>
<linearGradient id="h52"><stop offset="0" stop-color="#f1f9ee"/><stop offset="0.1" stop-color="#f1f9ee"/><stop offset="0.2" stop-color="#f1f9ee"/><stop offset="0.28" stop-color="#f1f9ed"/><stop offset="0.35" stop-color="#f0f9ed"/><stop offset="0.41" stop-color="#f0f8ec"/><stop offset="0.46" stop-color="#eff8ec"/><stop offset="0.495" stop-color="#eff8eb"/><stop offset="0.525" stop-color="#ebf7e6"/><stop offset="0.55" stop-color="#ebf7e6"/><stop offset="0.575" stop-color="#f0f8ec"/><stop offset="0.61" stop-color="#f1f9ed"/><stop offset="0.65" stop-color="#f1f9ee"/><stop offset="0.71" stop-color="#f1f9ee"/><stop offset="0.79" stop-color="#f1f9ee"/><stop offset="0.89" stop-color="#f1f9ee"/><stop offset="1" stop-color="#f1f9ee"/></linearGradient>
<linearGradient id="h53"><stop offset="0" stop-color="#f1f9ee"/><stop offset="0.1" stop-color="#f1f9ee"/><stop offset="0.2" stop-color="#f1f9ee"/><stop offset="0.28" stop-color="#f1f9ee"/><stop offset="0.35" stop-color="#f0f9ed"/><stop offset="0.41" stop-color="#f0f9ed"/><stop offset="0.46" stop-color="#f0f8ec"/><stop offset="0.495" stop-color="#eff8ec"/><stop offset="0.525" stop-color="#ecf7e7"/><stop offset="0.55" stop-color="#ecf7e7"/><stop offset="0.575" stop-color="#f0f8ec"/><stop offset="0.61" stop-color="#f1f9ee"/><stop offset="0.65" stop-color="#f1f9ee"/><stop offset="0.71" stop-color="#f1f9ee"/><stop offset="0.79" stop-color="#f1f9ee"/><stop offset="0.89" stop-color="#f1f9ee"/><stop offset="1" stop-color="#f1f9ee"/></linearGradient>
<linearGradient id="h54"><stop offset="0" stop-color="#f1f9ee"/><stop offset="0.1" stop-color="#f1f9ee"/><stop offset="0.2" stop-color="#f1f9ee"/><stop offset="0.28" stop-color="#f1f9ee"/><stop offset="0.35" stop-color="#f0f9ed"/><stop offset="0.41" stop-color="#f0f9ed"/><stop offset="0.46" stop-color="#f0f9ed"/><stop offset="0.495" stop-color="#f0f8ec"/><stop offset="0.525" stop-color="#edf7e8"/><stop offset="0.55" stop-color="#ecf7e8"/><stop offset="0.575" stop-color="#f0f9ed"/><stop offset="0.61" stop-color="#f1f9ee"/><stop offset="0.65" stop-color="#f1f9ee"/><stop offset="0.71" stop-color="#f1f9ee"/><stop offset="0.79" stop-color="#f1f9ee"/><stop offset="0.89" stop-color="#f1f9ee"/><stop offset="1" stop-color="#f1f9ee"/></linearGradient>
<linearGradient id="h55"><stop offset="0" stop-color="#f1f9ee"/><stop offset="0.1" stop-color="#f1f9ee"/><stop offset="0.2" stop-color="#f1f9ee"/><stop offset="0.28" stop-color="#f1f9ee"/><stop offset="0.35" stop-color="#f1f9ed"/><stop offset="0.41" stop-color="#f0f9ed"/><stop offset="0.46" stop-color="#f0f9ed"/><stop offset="0.495" stop-color="#f0f9ed"/><stop offset="0.525" stop-color="#edf7e9"/><stop offset="0.55" stop-color="#edf7e9"/><stop offset="0.575" stop-color="#f0f9ed"/><stop offset="0.61" stop-color="#f1f9ee"/><stop offset="0.65" stop-color="#f1f9ee"/><stop offset="0.71" stop-color="#f1f9ee"/><stop offset="0.79" stop-color="#f1f9ee"/><stop offset="0.89" stop-color="#f1f9ee"/><stop offset="1" stop-color="#f1f9ee"/></linearGradient>
<linearGradient id="h56"><stop offset="0" stop-color="#f1f9ee"/><stop offset="0.1" stop-color="#f1f9ee"/><stop offset="0.2" stop-color="#f1f9ee"/><stop offset="0.28" stop-color="#f1f9ee"/><stop offset="0.35" stop-color="#f1f9ee"/><stop offset="0.41" stop-color="#f1f9ed"/><stop offset="0.46" stop-color="#f0f9ed"/><stop offset="0.495" stop-color="#f0f9ed"/><stop offset="0.525" stop-color="#eef8ea"/><stop offset="0.55" stop-color="#eef8ea"/><stop offset="0.575" stop-color="#f0f9ed"/><stop offset="0.61" stop-color="#f1f9ee"/><stop offset="0.65" stop-color="#f1f9ee"/><stop offset="0.71" stop-color="#f1f9ee"/><stop offset="0.79" stop-color="#f1f9ee"/><stop offset="0.89" stop-color="#f1f9ee"/><stop offset="1" stop-color="#f1f9ee"/></linearGradient>
<linearGradient id="h57"><stop offset="0" stop-color="#f1f9ee"/><stop offset="0.1" stop-color="#f1f9ee"/><stop offset="0.2" stop-color="#f1f9ee"/><stop offset="0.28" stop-color="#f1f9ee"/><stop offset="0.35" stop-color="#f1f9ee"/><stop offset="0.41" stop-color="#f1f9ee"/><stop offset="0.46" stop-color="#f1f9ee"/><stop offset="0.495" stop-color="#f0f9ed"/><stop offset="0.525" stop-color="#eef8eb"/><stop offset="0.55" stop-color="#eef8ea"/><stop offset="0.575" stop-color="#f0f9ed"/><stop offset="0.61" stop-color="#f1f9ee"/><stop offset="0.65" stop-color="#f1f9ee"/><stop offset="0.71" stop-color="#f1f9ee"/><stop offset="0.79" stop-color="#f1f9ee"/><stop offset="0.89" stop-color="#f1f9ee"/><stop offset="1" stop-color="#f1f9ee"/></linearGradient>
<linearGradient id="h58"><stop offset="0" stop-color="#f1f9ee"/><stop offset="0.1" stop-color="#f1f9ee"/><stop offset="0.2" stop-color="#f1f9ee"/><stop offset="0.28" stop-color="#f1f9ee"/><stop offset="0.35" stop-color="#f1f9ee"/><stop offset="0.41" stop-color="#f1f9ee"/><stop offset="0.46" stop-color="#f1f9ee"/><stop offset="0.495" stop-color="#f1f9ee"/><stop offset="0.525" stop-color="#eff8eb"/><stop offset="0.55" stop-color="#eff8eb"/><stop offset="0.575" stop-color="#f1f9ee"/><stop offset="0.61" stop-color="#f1f9ee"/><stop offset="0.65" stop-color="#f1f9ee"/><stop offset="0.71" stop-color="#f1f9ee"/><stop offset="0.79" stop-color="#f1f9ee"/><stop offset="0.89" stop-color="#f1f9ee"/><stop offset="1" stop-color="#f1f9ee"/></linearGradient>
<linearGradient id="h59"><stop offset="0" stop-color="#4aa955"/><stop offset="0.1" stop-color="#3e9e4c"/><stop offset="0.2" stop-color="#358f45"/><stop offset="0.28" stop-color="#2e823f"/><stop offset="0.35" stop-color="#277439"/><stop offset="0.41" stop-color="#226834"/><stop offset="0.46" stop-color="#1f6031"/><stop offset="0.495" stop-color="#1e5c2f"/><stop offset="0.525" stop-color="#1d5b2e"/><stop offset="0.55" stop-color="#1d5a2e"/><stop offset="0.575" stop-color="#1d5a2e"/><stop offset="0.61" stop-color="#1e5c2f"/><stop offset="0.65" stop-color="#1f5e30"/><stop offset="0.71" stop-color="#216432"/><stop offset="0.79" stop-color="#256f37"/><stop offset="0.89" stop-color="#2c7e3e"/><stop offset="1" stop-color="#338c44"/></linearGradient>
<linearGradient id="h60"><stop offset="0" stop-color="#5ebd63"/><stop offset="0.1" stop-color="#51b15a"/><stop offset="0.2" stop-color="#40a04e"/><stop offset="0.28" stop-color="#358f45"/><stop offset="0.35" stop-color="#2c7f3e"/><stop offset="0.41" stop-color="#256f37"/><stop offset="0.46" stop-color="#216432"/><stop offset="0.495" stop-color="#1f5e30"/><stop offset="0.525" stop-color="#1d5b2f"/><stop offset="0.55" stop-color="#1d5a2e"/><stop offset="0.575" stop-color="#1d5b2e"/><stop offset="0.61" stop-color="#1e5d2f"/><stop offset="0.65" stop-color="#206131"/><stop offset="0.71" stop-color="#236a35"/><stop offset="0.79" stop-color="#2a7a3c"/><stop offset="0.89" stop-color="#328a43"/><stop offset="1" stop-color="#3c9c4b"/></linearGradient>
<linearGradient id="h61"><stop offset="0" stop-color="#78c775"/><stop offset="0.1" stop-color="#64c067"/><stop offset="0.2" stop-color="#4faf59"/><stop offset="0.28" stop-color="#3b9b4b"/><stop offset="0.35" stop-color="#318842"/><stop offset="0.41" stop-color="#28773a"/><stop offset="0.46" stop-color="#226734"/><stop offset="0.495" stop-color="#1f6030"/><stop offset="0.525" stop-color="#1e5c2f"/><stop offset="0.55" stop-color="#1d5b2e"/><stop offset="0.575" stop-color="#1e5b2f"/><stop offset="0.61" stop-color="#1f5e30"/><stop offset="0.65" stop-color="#216332"/><stop offset="0.71" stop-color="#256f37"/><stop offset="0.79" stop-color="#2e813f"/><stop offset="0.89" stop-color="#389548"/><stop offset="1" stop-color="#4aaa55"/></linearGradient>
<linearGradient id="h62"><stop offset="0" stop-color="#8ecf83"/><stop offset="0.1" stop-color="#79c775"/><stop offset="0.2" stop-color="#5dbc63"/><stop offset="0.28" stop-color="#48a753"/><stop offset="0.35" stop-color="#369146"/><stop offset="0.41" stop-color="#2c7e3d"/><stop offset="0.46" stop-color="#246c35"/><stop offset="0.495" stop-color="#206231"/><stop offset="0.525" stop-color="#1e5d2f"/><stop offset="0.55" stop-color="#1e5b2f"/><stop offset="0.575" stop-color="#1e5c2f"/><stop offset="0.61" stop-color="#1f5f30"/><stop offset="0.65" stop-color="#226633"/><stop offset="0.71" stop-color="#28763a"/><stop offset="0.79" stop-color="#328943"/><stop offset="0.89" stop-color="#41a14f"/><stop offset="1" stop-color="#58b85f"/></linearGradient>
<linearGradient id="h63"><stop offset="0" stop-color="#a6d794"/><stop offset="0.1" stop-color="#90d085"/><stop offset="0.2" stop-color="#74c672"/><stop offset="0.28" stop-color="#57b65e"/><stop offset="0.35" stop-color="#3d9d4c"/><stop offset="0.41" stop-color="#308641"/><stop offset="0.46" stop-color="#267238"/><stop offset="0.495" stop-color="#216432"/><stop offset="0.525" stop-color="#1e5e30"/><stop offset="0.55" stop-color="#1e5c2f"/><stop offset="0.575" stop-color="#1e5d2f"/><stop offset="0.61" stop-color="#206131"/><stop offset="0.65" stop-color="#246b35"/><stop offset="0.71" stop-color="#2b7e3d"/><stop offset="0.79" stop-color="#389447"/><stop offset="0.89" stop-color="#50b059"/><stop offset="1" stop-color="#6dc36d"/></linearGradient>
<linearGradient id="h64"><stop offset="0" stop-color="#b9e1a9"/><stop offset="0.1" stop-color="#a9d998"/><stop offset="0.2" stop-color="#8fcf84"/><stop offset="0.28" stop-color="#6ec46e"/><stop offset="0.35" stop-color="#4ead58"/><stop offset="0.41" stop-color="#369146"/><stop offset="0.46" stop-color="#2a7a3c"/><stop offset="0.495" stop-color="#236834"/><stop offset="0.525" stop-color="#1f5f30"/><stop offset="0.55" stop-color="#1e5c2f"/><stop offset="0.575" stop-color="#1e5e30"/><stop offset="0.61" stop-color="#216432"/><stop offset="0.65" stop-color="#267138"/><stop offset="0.71" stop-color="#308641"/><stop offset="0.79" stop-color="#42a250"/><stop offset="0.89" stop-color="#64c067"/><stop offset="1" stop-color="#88cd7f"/></linearGradient>
<linearGradient id="h65"><stop offset="0" stop-color="#c6e7b7"/><stop offset="0.1" stop-color="#b5dfa5"/><stop offset="0.2" stop-color="#9fd58f"/><stop offset="0.28" stop-color="#80ca7a"/><stop offset="0.35" stop-color="#5ab960"/><stop offset="0.41" stop-color="#3b9a4a"/><stop offset="0.46" stop-color="#2d803e"/><stop offset="0.495" stop-color="#246c36"/><stop offset="0.525" stop-color="#1f6031"/><stop offset="0.55" stop-color="#1e5d2f"/><stop offset="0.575" stop-color="#1f5e30"/><stop offset="0.61" stop-color="#226733"/><stop offset="0.65" stop-color="#28763a"/><stop offset="0.71" stop-color="#348e45"/><stop offset="0.79" stop-color="#4ead58"/><stop offset="0.89" stop-color="#76c673"/><stop offset="1" stop-color="#99d38b"/></linearGradient>
<linearGradient id="h66"><stop offset="0" stop-color="#ceebc1"/><stop offset="0.1" stop-color="#bde3ae"/><stop offset="0.2" stop-color="#a9d997"/><stop offset="0.28" stop-color="#8cce82"/><stop offset="0.35" stop-color="#64c067"/><stop offset="0.41" stop-color="#41a14f"/><stop offset="0.46" stop-color="#2f8440"/><stop offset="0.495" stop-color="#256f37"/><stop offset="0.525" stop-color="#206131"/><stop offset="0.55" stop-color="#1e5d2f"/><stop offset="0.575" stop-color="#1f5f30"/><stop offset="0.61" stop-color="#236934"/><stop offset="0.65" stop-color="#2a7b3c"/><stop offset="0.71" stop-color="#379347"/><stop offset="0.79" stop-color="#56b55e"/><stop offset="0.89" stop-color="#82cb7c"/><stop offset="1" stop-color="#a4d792"/></linearGradient>
<linearGradient id="h67"><stop offset="0" stop-color="#d6eec9"/><stop offset="0.1" stop-color="#c6e7b8"/><stop offset="0.2" stop-color="#b1dda1"/><stop offset="0.28" stop-color="#99d38b"/><stop offset="0.35" stop-color="#72c570"/><stop offset="0.41" stop-color="#49a955"/><stop offset="0.46" stop-color="#318942"/><stop offset="0.495" stop-color="#277238"/><stop offset="0.525" stop-color="#206231"/><stop offset="0.55" stop-color="#1e5e30"/><stop offset="0.575" stop-color="#1f6031"/><stop offset="0.61" stop-color="#246b35"/><stop offset="0.65" stop-color="#2c7f3e"/><stop offset="0.71" stop-color="#3b9a4a"/><stop offset="0.79" stop-color="#5fbe64"/><stop offset="0.89" stop-color="#8fcf84"/><stop offset="1" stop-color="#addb9b"/></linearGradient>
<linearGradient id="h68"><stop offset="0" stop-color="#dbf0d1"/><stop offset="0.1" stop-color="#d0ecc3"/><stop offset="0.2" stop-color="#bae1ab"/><stop offset="0.28" stop-color="#a6d794"/><stop offset="0.35" stop-color="#80ca7a"/><stop offset="0.41" stop-color="#53b25b"/><stop offset="0.46" stop-color="#358f45"/><stop offset="0.495" stop-color="#28773a"/><stop offset="0.525" stop-color="#216432"/><stop offset="0.55" stop-color="#1f5e30"/><stop offset="0.575" stop-color="#206131"/><stop offset="0.61" stop-color="#256e37"/><stop offset="0.65" stop-color="#2f8340"/><stop offset="0.71" stop-color="#43a250"/><stop offset="0.79" stop-color="#6ec36e"/><stop offset="0.89" stop-color="#9cd48d"/><stop offset="1" stop-color="#b6dfa5"/></linearGradient>
<linearGradient id="h69"><stop offset="0" stop-color="#e1f3d9"/><stop offset="0.1" stop-color="#d8efcd"/><stop offset="0.2" stop-color="#c5e6b6"/><stop offset="0.28" stop-color="#afdc9e"/><stop offset="0.35" stop-color="#8fcf84"/><stop offset="0.41" stop-color="#5ebd63"/><stop offset="0.46" stop-color="#399648"/><stop offset="0.495" stop-color="#2a7c3c"/><stop offset="0.525" stop-color="#216533"/><stop offset="0.55" stop-color="#1f5f30"/><stop offset="0.575" stop-color="#206231"/><stop offset="0.61" stop-color="#277238"/><stop offset="0.65" stop-color="#328942"/><stop offset="0.71" stop-color="#4cac57"/><stop offset="0.79" stop-color="#7ec979"/><stop offset="0.89" stop-color="#a9d997"/><stop offset="1" stop-color="#c0e4b1"/></linearGradient>
<linearGradient id="h70"><stop offset="0" stop-color="#e7f5e0"/><stop offset="0.1" stop-color="#dff2d6"/><stop offset="0.2" stop-color="#d1ecc3"/><stop offset="0.28" stop-color="#bae1aa"/><stop offset="0.35" stop-color="#a0d58f"/><stop offset="0.41" stop-color="#6fc46f"/><stop offset="0.46" stop-color="#3f9f4d"/><stop offset="0.495" stop-color="#2d813f"/><stop offset="0.525" stop-color="#226734"/><stop offset="0.55" stop-color="#1f5f30"/><stop offset="0.575" stop-color="#216432"/><stop offset="0.61" stop-color="#29773a"/><stop offset="0.65" stop-color="#369046"/><stop offset="0.71" stop-color="#58b75f"/><stop offset="0.79" stop-color="#8fcf84"/><stop offset="0.89" stop-color="#b3dea3"/><stop offset="1" stop-color="#cbe9bd"/></linearGradient>
<linearGradient id="h71"><stop offset="0" stop-color="#e9f6e4"/><stop offset="0.1" stop-color="#e3f4dc"/><stop offset="0.2" stop-color="#d7efcb"/><stop offset="0.28" stop-color="#c2e5b3"/><stop offset="0.35" stop-color="#a9d998"/><stop offset="0.41" stop-color="#7cc978"/><stop offset="0.46" stop-color="#47a753"/><stop offset="0.495" stop-color="#308541"/><stop offset="0.525" stop-color="#236935"/><stop offset="0.55" stop-color="#1f6030"/><stop offset="0.575" stop-color="#216533"/><stop offset="0.61" stop-color="#2a7c3c"/><stop offset="0.65" stop-color="#399749"/><stop offset="0.71" stop-color="#62bf66"/><stop offset="0.79" stop-color="#9cd48d"/><stop offset="0.89" stop-color="#bbe2ac"/><stop offset="1" stop-color="#d4edc7"/></linearGradient>
<linearGradient id="h72"><stop offset="0" stop-color="#ebf7e6"/><stop offset="0.1" stop-color="#e6f5e0"/><stop offset="0.2" stop-color="#dbf0d1"/><stop offset="0.28" stop-color="#c9e8bb"/><stop offset="0.35" stop-color="#b0dc9f"/><stop offset="0.41" stop-color="#88cd7f"/><stop offset="0.46" stop-color="#4fae58"/><stop offset="0.495" stop-color="#328943"/><stop offset="0.525" stop-color="#246b35"/><stop offset="0.55" stop-color="#1f6031"/><stop offset="0.575" stop-color="#226633"/><stop offset="0.61" stop-color="#2c7f3e"/><stop offset="0.65" stop-color="#3c9c4b"/><stop offset="0.71" stop-color="#6ec36e"/><stop offset="0.79" stop-color="#a5d794"/><stop offset="0.89" stop-color="#c2e5b3"/><stop offset="1" stop-color="#d8efcd"/></linearGradient>
<linearGradient id="h73"><stop offset="0" stop-color="#edf7e8"/><stop offset="0.1" stop-color="#e9f6e4"/><stop offset="0.2" stop-color="#e0f2d7"/><stop offset="0.28" stop-color="#d1ecc4"/><stop offset="0.35" stop-color="#b7e0a7"/><stop offset="0.41" stop-color="#94d187"/><stop offset="0.46" stop-color="#57b65e"/><stop offset="0.495" stop-color="#358f45"/><stop offset="0.525" stop-color="#256e37"/><stop offset="0.55" stop-color="#206131"/><stop offset="0.575" stop-color="#236834"/><stop offset="0.61" stop-color="#2e8340"/><stop offset="0.65" stop-color="#44a451"/><stop offset="0.71" stop-color="#7bc877"/><stop offset="0.79" stop-color="#addb9b"/><stop offset="0.89" stop-color="#cae9bc"/><stop offset="1" stop-color="#ddf1d3"/></linearGradient>
<linearGradient id="h74"><stop offset="0" stop-color="#edf8e9"/><stop offset="0.1" stop-color="#ebf7e6"/><stop offset="0.2" stop-color="#e3f4dc"/><stop offset="0.28" stop-color="#d6eeca"/><stop offset="0.35" stop-color="#bee3ae"/><stop offset="0.41" stop-color="#9ed58e"/><stop offset="0.46" stop-color="#5fbe64"/><stop offset="0.495" stop-color="#389447"/><stop offset="0.525" stop-color="#267238"/><stop offset="0.55" stop-color="#216332"/><stop offset="0.575" stop-color="#246b35"/><stop offset="0.61" stop-color="#318742"/><stop offset="0.65" stop-color="#4bab56"/><stop offset="0.71" stop-color="#86cc7e"/><stop offset="0.79" stop-color="#b3dea3"/><stop offset="0.89" stop-color="#d1ecc4"/><stop offset="1" stop-color="#e1f3d8"/></linearGradient>
<linearGradient id="h75"><stop offset="0" stop-color="#eef8ea"/><stop offset="0.1" stop-color="#ecf7e8"/><stop offset="0.2" stop-color="#e6f4df"/><stop offset="0.28" stop-color="#d9efce"/><stop offset="0.35" stop-color="#c2e5b3"/><stop offset="0.41" stop-color="#a5d793"/><stop offset="0.46" stop-color="#67c169"/><stop offset="0.495" stop-color="#3a9849"/><stop offset="0.525" stop-color="#28753a"/><stop offset="0.55" stop-color="#216533"/><stop offset="0.575" stop-color="#256e37"/><stop offset="0.61" stop-color="#338b43"/><stop offset="0.65" stop-color="#50b05a"/><stop offset="0.71" stop-color="#8ecf83"/><stop offset="0.79" stop-color="#b7e0a7"/><stop offset="0.89" stop-color="#d4eec8"/><stop offset="1" stop-color="#e3f3dc"/></linearGradient>
<linearGradient id="h76"><stop offset="0" stop-color="#eff8eb"/><stop offset="0.1" stop-color="#edf8e9"/><stop offset="0.2" stop-color="#e8f5e1"/><stop offset="0.28" stop-color="#dcf1d2"/><stop offset="0.35" stop-color="#c6e7b8"/><stop offset="0.41" stop-color="#a9d998"/><stop offset="0.46" stop-color="#6fc46f"/><stop offset="0.495" stop-color="#3d9d4b"/><stop offset="0.525" stop-color="#29793b"/><stop offset="0.55" stop-color="#226734"/><stop offset="0.575" stop-color="#267138"/><stop offset="0.61" stop-color="#358e45"/><stop offset="0.65" stop-color="#56b55d"/><stop offset="0.71" stop-color="#95d188"/><stop offset="0.79" stop-color="#bce2ac"/><stop offset="0.89" stop-color="#d7efcc"/><stop offset="1" stop-color="#e5f4df"/></linearGradient>
<linearGradient id="h77"><stop offset="0" stop-color="#eff8ec"/><stop offset="0.1" stop-color="#eef8ea"/><stop offset="0.2" stop-color="#e9f6e4"/><stop offset="0.28" stop-color="#dff2d6"/><stop offset="0.35" stop-color="#cbe9bd"/><stop offset="0.41" stop-color="#aedb9d"/><stop offset="0.46" stop-color="#77c774"/><stop offset="0.495" stop-color="#41a14f"/><stop offset="0.525" stop-color="#2a7c3c"/><stop offset="0.55" stop-color="#236935"/><stop offset="0.575" stop-color="#277439"/><stop offset="0.61" stop-color="#379246"/><stop offset="0.65" stop-color="#5bba61"/><stop offset="0.71" stop-color="#9cd48d"/><stop offset="0.79" stop-color="#c0e4b1"/><stop offset="0.89" stop-color="#daf0d0"/><stop offset="1" stop-color="#e8f5e1"/></linearGradient>
<linearGradient id="h78"><stop offset="0" stop-color="#eff8ec"/><stop offset="0.1" stop-color="#eff8eb"/><stop offset="0.2" stop-color="#ebf7e6"/><stop offset="0.28" stop-color="#e1f3d9"/><stop offset="0.35" stop-color="#d0ebc2"/><stop offset="0.41" stop-color="#b2dda2"/><stop offset="0.46" stop-color="#80ca7a"/><stop offset="0.495" stop-color="#46a652"/><stop offset="0.525" stop-color="#2c7e3e"/><stop offset="0.55" stop-color="#246c35"/><stop offset="0.575" stop-color="#28773a"/><stop offset="0.61" stop-color="#399648"/><stop offset="0.65" stop-color="#62bf66"/><stop offset="0.71" stop-color="#a4d692"/><stop offset="0.79" stop-color="#c5e6b6"/><stop offset="0.89" stop-color="#ddf1d4"/><stop offset="1" stop-color="#e9f6e4"/></linearGradient>
<linearGradient id="h79"><stop offset="0" stop-color="#f0f8ec"/><stop offset="0.1" stop-color="#eff8ec"/><stop offset="0.2" stop-color="#ecf7e8"/><stop offset="0.28" stop-color="#e4f4dc"/><stop offset="0.35" stop-color="#d4edc7"/><stop offset="0.41" stop-color="#b7dfa7"/><stop offset="0.46" stop-color="#88cd7f"/><stop offset="0.495" stop-color="#4cab56"/><stop offset="0.525" stop-color="#2d813f"/><stop offset="0.55" stop-color="#256e36"/><stop offset="0.575" stop-color="#2a7a3c"/><stop offset="0.61" stop-color="#3b9a4a"/><stop offset="0.65" stop-color="#6ac26b"/><stop offset="0.71" stop-color="#a9d997"/><stop offset="0.79" stop-color="#c9e8bb"/><stop offset="0.89" stop-color="#e0f2d7"/><stop offset="1" stop-color="#ebf7e6"/></linearGradient>
<linearGradient id="h80"><stop offset="0" stop-color="#f0f8ec"/><stop offset="0.1" stop-color="#eff8ec"/><stop offset="0.2" stop-color="#edf8e9"/><stop offset="0.28" stop-color="#e6f5df"/><stop offset="0.35" stop-color="#d7efcb"/><stop offset="0.41" stop-color="#bbe2ac"/><stop offset="0.46" stop-color="#90d085"/><stop offset="0.495" stop-color="#51b15a"/><stop offset="0.525" stop-color="#2f8440"/><stop offset="0.55" stop-color="#267037"/><stop offset="0.575" stop-color="#2b7c3d"/><stop offset="0.61" stop-color="#3f9f4d"/><stop offset="0.65" stop-color="#73c571"/><stop offset="0.71" stop-color="#addb9c"/><stop offset="0.79" stop-color="#ceebc1"/><stop offset="0.89" stop-color="#e3f3db"/><stop offset="1" stop-color="#ecf7e8"/></linearGradient>
<linearGradient id="h81"><stop offset="0" stop-color="#f0f8ec"/><stop offset="0.1" stop-color="#f0f8ec"/><stop offset="0.2" stop-color="#eef8ea"/><stop offset="0.28" stop-color="#e8f5e2"/><stop offset="0.35" stop-color="#daf0d0"/><stop offset="0.41" stop-color="#c0e4b1"/><stop offset="0.46" stop-color="#98d28b"/><stop offset="0.495" stop-color="#57b65e"/><stop offset="0.525" stop-color="#308741"/><stop offset="0.55" stop-color="#267238"/><stop offset="0.575" stop-color="#2c7f3e"/><stop offset="0.61" stop-color="#44a451"/><stop offset="0.65" stop-color="#7cc878"/><stop offset="0.71" stop-color="#b2dda2"/><stop offset="0.79" stop-color="#d3edc6"/><stop offset="0.89" stop-color="#e5f4de"/><stop offset="1" stop-color="#edf7e9"/></linearGradient>
<linearGradient id="h82"><stop offset="0" stop-color="#f0f8ec"/><stop offset="0.1" stop-color="#f0f8ec"/><stop offset="0.2" stop-color="#eff8eb"/><stop offset="0.28" stop-color="#eaf6e5"/><stop offset="0.35" stop-color="#ddf1d4"/><stop offset="0.41" stop-color="#c5e6b7"/><stop offset="0.46" stop-color="#a1d690"/><stop offset="0.495" stop-color="#5dbc63"/><stop offset="0.525" stop-color="#328a43"/><stop offset="0.55" stop-color="#277439"/><stop offset="0.575" stop-color="#2d813f"/><stop offset="0.61" stop-color="#4aa955"/><stop offset="0.65" stop-color="#85cc7e"/><stop offset="0.71" stop-color="#b7e0a7"/><stop offset="0.79" stop-color="#d7eecb"/><stop offset="0.89" stop-color="#e7f5e1"/><stop offset="1" stop-color="#eef8ea"/></linearGradient>
<linearGradient id="h83"><stop offset="0" stop-color="#f0f9ec"/><stop offset="0.1" stop-color="#f0f9ec"/><stop offset="0.2" stop-color="#eff8ec"/><stop offset="0.28" stop-color="#ecf7e7"/><stop offset="0.35" stop-color="#e0f2d8"/><stop offset="0.41" stop-color="#cae9bc"/><stop offset="0.46" stop-color="#a8d896"/><stop offset="0.495" stop-color="#67c169"/><stop offset="0.525" stop-color="#358e45"/><stop offset="0.55" stop-color="#29783b"/><stop offset="0.575" stop-color="#2f8541"/><stop offset="0.61" stop-color="#50b059"/><stop offset="0.65" stop-color="#8fcf84"/><stop offset="0.71" stop-color="#bce2ad"/><stop offset="0.79" stop-color="#daf0cf"/><stop offset="0.89" stop-color="#e9f6e4"/><stop offset="1" stop-color="#eff8eb"/></linearGradient>
<linearGradient id="h84"><stop offset="0" stop-color="#f0f9ec"/><stop offset="0.1" stop-color="#f0f9ec"/><stop offset="0.2" stop-color="#eff8ec"/><stop offset="0.28" stop-color="#ecf7e8"/><stop offset="0.35" stop-color="#e2f3da"/><stop offset="0.41" stop-color="#ceebc1"/><stop offset="0.46" stop-color="#acda9b"/><stop offset="0.495" stop-color="#6fc46f"/><stop offset="0.525" stop-color="#379347"/><stop offset="0.55" stop-color="#2b7c3d"/><stop offset="0.575" stop-color="#328942"/><stop offset="0.61" stop-color="#56b55d"/><stop offset="0.65" stop-color="#96d289"/><stop offset="0.71" stop-color="#c0e4b1"/><stop offset="0.79" stop-color="#dcf1d2"/><stop offset="0.89" stop-color="#ebf6e5"/><stop offset="1" stop-color="#eff8eb"/></linearGradient>
<linearGradient id="h85"><stop offset="0" stop-color="#f0f9ed"/><stop offset="0.1" stop-color="#f0f9ed"/><stop offset="0.2" stop-color="#f0f8ec"/><stop offset="0.28" stop-color="#edf8e9"/><stop offset="0.35" stop-color="#e4f4dd"/><stop offset="0.41" stop-color="#d2edc5"/><stop offset="0.46" stop-color="#b0dc9f"/><stop offset="0.495" stop-color="#77c774"/><stop offset="0.525" stop-color="#399749"/><stop offset="0.55" stop-color="#2c7f3e"/><stop offset="0.575" stop-color="#348d44"/><stop offset="0.61" stop-color="#5bba61"/><stop offset="0.65" stop-color="#9ed48e"/><stop offset="0.71" stop-color="#c4e6b5"/><stop offset="0.79" stop-color="#def2d5"/><stop offset="0.89" stop-color="#ecf7e7"/><stop offset="1" stop-color="#eff8ec"/></linearGradient>
<linearGradient id="h86"><stop offset="0" stop-color="#f0f9ed"/><stop offset="0.1" stop-color="#f0f9ed"/><stop offset="0.2" stop-color="#f0f9ec"/><stop offset="0.28" stop-color="#eef8ea"/><stop offset="0.35" stop-color="#e6f5df"/><stop offset="0.41" stop-color="#d5eec9"/><stop offset="0.46" stop-color="#b4dea4"/><stop offset="0.495" stop-color="#7fca7a"/><stop offset="0.525" stop-color="#3c9b4b"/><stop offset="0.55" stop-color="#2e823f"/><stop offset="0.575" stop-color="#369046"/><stop offset="0.61" stop-color="#62bf66"/><stop offset="0.65" stop-color="#a5d793"/><stop offset="0.71" stop-color="#c8e8ba"/><stop offset="0.79" stop-color="#e1f2d8"/><stop offset="0.89" stop-color="#edf7e8"/><stop offset="1" stop-color="#f0f8ec"/></linearGradient>
<linearGradient id="h87"><stop offset="0" stop-color="#f0f9ed"/><stop offset="0.1" stop-color="#f0f9ed"/><stop offset="0.2" stop-color="#f0f9ed"/><stop offset="0.28" stop-color="#eff8eb"/><stop offset="0.35" stop-color="#e8f5e2"/><stop offset="0.41" stop-color="#d8efcc"/><stop offset="0.46" stop-color="#b9e0a9"/><stop offset="0.495" stop-color="#88cd7f"/><stop offset="0.525" stop-color="#40a04e"/><stop offset="0.55" stop-color="#308541"/><stop offset="0.575" stop-color="#389448"/><stop offset="0.61" stop-color="#6ac26c"/><stop offset="0.65" stop-color="#aad998"/><stop offset="0.71" stop-color="#cceabe"/><stop offset="0.79" stop-color="#e3f3db"/><stop offset="0.89" stop-color="#edf8e9"/><stop offset="1" stop-color="#f0f9ec"/></linearGradient>
<linearGradient id="h88"><stop offset="0" stop-color="#f0f9ed"/><stop offset="0.1" stop-color="#f0f9ed"/><stop offset="0.2" stop-color="#f0f9ed"/><stop offset="0.28" stop-color="#eff8eb"/><stop offset="0.35" stop-color="#e9f6e4"/><stop offset="0.41" stop-color="#daf0d0"/><stop offset="0.46" stop-color="#bde2ae"/><stop offset="0.495" stop-color="#90d085"/><stop offset="0.525" stop-color="#45a551"/><stop offset="0.55" stop-color="#318842"/><stop offset="0.575" stop-color="#3a9949"/><stop offset="0.61" stop-color="#73c572"/><stop offset="0.65" stop-color="#aedb9d"/><stop offset="0.71" stop-color="#d0ecc3"/><stop offset="0.79" stop-color="#e5f4de"/><stop offset="0.89" stop-color="#eef8ea"/><stop offset="1" stop-color="#f0f9ed"/></linearGradient>
<linearGradient id="h89"><stop offset="0" stop-color="#f0f9ed"/><stop offset="0.1" stop-color="#f0f9ed"/><stop offset="0.2" stop-color="#f0f9ed"/><stop offset="0.28" stop-color="#eff8ec"/><stop offset="0.35" stop-color="#ebf7e6"/><stop offset="0.41" stop-color="#ddf1d3"/><stop offset="0.46" stop-color="#c1e5b2"/><stop offset="0.495" stop-color="#99d38b"/><stop offset="0.525" stop-color="#4aaa55"/><stop offset="0.55" stop-color="#338c44"/><stop offset="0.575" stop-color="#3d9d4c"/><stop offset="0.61" stop-color="#7cc878"/><stop offset="0.65" stop-color="#b3dea3"/><stop offset="0.71" stop-color="#d4edc7"/><stop offset="0.79" stop-color="#e7f5e0"/><stop offset="0.89" stop-color="#eff8eb"/><stop offset="1" stop-color="#f0f9ed"/></linearGradient>
<linearGradient id="h90"><stop offset="0" stop-color="#f0f9ed"/><stop offset="0.1" stop-color="#f0f9ed"/><stop offset="0.2" stop-color="#f0f9ed"/><stop offset="0.28" stop-color="#f0f9ec"/><stop offset="0.35" stop-color="#ecf7e8"/><stop offset="0.41" stop-color="#dff2d7"/><stop offset="0.46" stop-color="#c6e7b8"/><stop offset="0.495" stop-color="#a2d691"/><stop offset="0.525" stop-color="#50af59"/><stop offset="0.55" stop-color="#359045"/><stop offset="0.575" stop-color="#42a24f"/><stop offset="0.61" stop-color="#86cc7e"/><stop offset="0.65" stop-color="#b8e0a8"/><stop offset="0.71" stop-color="#d7efcb"/><stop offset="0.79" stop-color="#e9f6e3"/><stop offset="0.89" stop-color="#eff8ec"/><stop offset="1" stop-color="#f0f9ed"/></linearGradient>
<linearGradient id="h91"><stop offset="0" stop-color="#f0f9ed"/><stop offset="0.1" stop-color="#f0f9ed"/><stop offset="0.2" stop-color="#f0f9ed"/><stop offset="0.28" stop-color="#f0f9ed"/><stop offset="0.35" stop-color="#edf8e9"/><stop offset="0.41" stop-color="#e2f3da"/><stop offset="0.46" stop-color="#cbe9bd"/><stop offset="0.495" stop-color="#a9d997"/><stop offset="0.525" stop-color="#57b65e"/><stop offset="0.55" stop-color="#389447"/><stop offset="0.575" stop-color="#48a854"/><stop offset="0.61" stop-color="#90d085"/><stop offset="0.65" stop-color="#bde3ae"/><stop offset="0.71" stop-color="#daf0cf"/><stop offset="0.79" stop-color="#eaf6e5"/><stop offset="0.89" stop-color="#f0f8ec"/><stop offset="1" stop-color="#f0f9ed"/></linearGradient>
<linearGradient id="h92"><stop offset="0" stop-color="#f0f9ed"/><stop offset="0.1" stop-color="#f0f9ed"/><stop offset="0.2" stop-color="#f0f9ed"/><stop offset="0.28" stop-color="#f0f9ed"/><stop offset="0.35" stop-color="#eef8ea"/><stop offset="0.41" stop-color="#e4f4dd"/><stop offset="0.46" stop-color="#cfebc2"/><stop offset="0.495" stop-color="#afdc9e"/><stop offset="0.525" stop-color="#5dbc63"/><stop offset="0.55" stop-color="#3a9849"/><stop offset="0.575" stop-color="#4ead58"/><stop offset="0.61" stop-color="#9ad38c"/><stop offset="0.65" stop-color="#c2e5b3"/><stop offset="0.71" stop-color="#ddf1d3"/><stop offset="0.79" stop-color="#ecf7e7"/><stop offset="0.89" stop-color="#f0f9ed"/><stop offset="1" stop-color="#f0f9ed"/></linearGradient>
<linearGradient id="h93"><stop offset="0" stop-color="#f0f9ed"/><stop offset="0.1" stop-color="#f0f9ed"/><stop offset="0.2" stop-color="#f0f9ed"/><stop offset="0.28" stop-color="#f0f9ed"/><stop offset="0.35" stop-color="#eff8eb"/><stop offset="0.41" stop-color="#e6f5e0"/><stop offset="0.46" stop-color="#d3edc6"/><stop offset="0.495" stop-color="#b3dea3"/><stop offset="0.525" stop-color="#65c068"/><stop offset="0.55" stop-color="#3d9d4b"/><stop offset="0.575" stop-color="#53b35c"/><stop offset="0.61" stop-color="#a2d691"/><stop offset="0.65" stop-color="#c6e7b7"/><stop offset="0.71" stop-color="#dff2d6"/><stop offset="0.79" stop-color="#edf7e8"/><stop offset="0.89" stop-color="#f0f9ed"/><stop offset="1" stop-color="#f0f9ed"/></linearGradient>
<linearGradient id="h94"><stop offset="0" stop-color="#f0f9ed"/><stop offset="0.1" stop-color="#f0f9ed"/><stop offset="0.2" stop-color="#f0f9ed"/><stop offset="0.28" stop-color="#f0f9ed"/><stop offset="0.35" stop-color="#eff8ec"/><stop offset="0.41" stop-color="#e8f5e2"/><stop offset="0.46" stop-color="#d6eeca"/><stop offset="0.495" stop-color="#b8e0a8"/><stop offset="0.525" stop-color="#6ec36e"/><stop offset="0.55" stop-color="#41a14f"/><stop offset="0.575" stop-color="#59b860"/><stop offset="0.61" stop-color="#a9d997"/><stop offset="0.65" stop-color="#cae9bc"/><stop offset="0.71" stop-color="#e1f3d9"/><stop offset="0.79" stop-color="#eef8ea"/><stop offset="0.89" stop-color="#f0f9ed"/><stop offset="1" stop-color="#f0f9ed"/></linearGradient>
<linearGradient id="h95"><stop offset="0" stop-color="#f0f9ed"/><stop offset="0.1" stop-color="#f0f9ed"/><stop offset="0.2" stop-color="#f0f9ed"/><stop offset="0.28" stop-color="#f0f9ed"/><stop offset="0.35" stop-color="#f0f8ec"/><stop offset="0.41" stop-color="#e9f6e4"/><stop offset="0.46" stop-color="#d8efcd"/><stop offset="0.495" stop-color="#bde2ad"/><stop offset="0.525" stop-color="#77c774"/><stop offset="0.55" stop-color="#46a652"/><stop offset="0.575" stop-color="#5fbe64"/><stop offset="0.61" stop-color="#aedb9d"/><stop offset="0.65" stop-color="#ceebc1"/><stop offset="0.71" stop-color="#e3f4dc"/><stop offset="0.79" stop-color="#eef8eb"/><stop offset="0.89" stop-color="#f0f9ed"/><stop offset="1" stop-color="#f0f9ed"/></linearGradient>
<linearGradient id="h96"><stop offset="0" stop-color="#f0f9ed"/><stop offset="0.1" stop-color="#f0f9ed"/><stop offset="0.2" stop-color="#f0f9ed"/><stop offset="0.28" stop-color="#f0f9ed"/><stop offset="0.35" stop-color="#f0f9ed"/><stop offset="0.41" stop-color="#ebf7e6"/><stop offset="0.46" stop-color="#dbf0d0"/><stop offset="0.495" stop-color="#c1e5b2"/><stop offset="0.525" stop-color="#80ca7a"/><stop offset="0.55" stop-color="#4aaa55"/><stop offset="0.575" stop-color="#67c16a"/><stop offset="0.61" stop-color="#b3dea3"/><stop offset="0.65" stop-color="#d2edc5"/><stop offset="0.71" stop-color="#e5f4df"/><stop offset="0.79" stop-color="#eff8eb"/><stop offset="0.89" stop-color="#f0f9ed"/><stop offset="1" stop-color="#f0f9ed"/></linearGradient>
<linearGradient id="h97"><stop offset="0" stop-color="#f1f9ed"/><stop offset="0.1" stop-color="#f1f9ed"/><stop offset="0.2" stop-color="#f1f9ed"/><stop offset="0.28" stop-color="#f1f9ed"/><stop offset="0.35" stop-color="#f0f9ed"/><stop offset="0.41" stop-color="#ecf7e8"/><stop offset="0.46" stop-color="#def1d4"/><stop offset="0.495" stop-color="#c7e7b8"/><stop offset="0.525" stop-color="#8cce82"/><stop offset="0.55" stop-color="#51b05a"/><stop offset="0.575" stop-color="#73c571"/><stop offset="0.61" stop-color="#bae1aa"/><stop offset="0.65" stop-color="#d6eec9"/><stop offset="0.71" stop-color="#e7f5e1"/><stop offset="0.79" stop-color="#f0f8ec"/><stop offset="0.89" stop-color="#f1f9ed"/><stop offset="1" stop-color="#f1f9ed"/></linearGradient>
<linearGradient id="h98"><stop offset="0" stop-color="#f1f9ed"/><stop offset="0.1" stop-color="#f1f9ed"/><stop offset="0.2" stop-color="#f1f9ed"/><stop offset="0.28" stop-color="#f1f9ed"/><stop offset="0.35" stop-color="#f0f9ed"/><stop offset="0.41" stop-color="#edf8e9"/><stop offset="0.46" stop-color="#e0f2d8"/><stop offset="0.495" stop-color="#cceabe"/><stop offset="0.525" stop-color="#99d38b"/><stop offset="0.55" stop-color="#59b860"/><stop offset="0.575" stop-color="#80ca7a"/><stop offset="0.61" stop-color="#c0e4b1"/><stop offset="0.65" stop-color="#d9efce"/><stop offset="0.71" stop-color="#e9f6e4"/><stop offset="0.79" stop-color="#f0f9ed"/><stop offset="0.89" stop-color="#f1f9ed"/><stop offset="1" stop-color="#f1f9ed"/></linearGradient>
<linearGradient id="h99"><stop offset="0" stop-color="#f1f9ee"/><stop offset="0.1" stop-color="#f1f9ee"/><stop offset="0.2" stop-color="#f1f9ee"/><stop offset="0.28" stop-color="#f1f9ee"/><stop offset="0.35" stop-color="#f1f9ed"/><stop offset="0.41" stop-color="#eef8eb"/><stop offset="0.46" stop-color="#e3f3db"/><stop offset="0.495" stop-color="#d2ecc4"/><stop offset="0.525" stop-color="#a5d793"/><stop offset="0.55" stop-color="#62bf66"/><stop offset="0.575" stop-color="#8dce83"/><stop offset="0.61" stop-color="#c6e7b8"/><stop offset="0.65" stop-color="#dcf1d2"/><stop offset="0.71" stop-color="#ebf7e6"/><stop offset="0.79" stop-color="#f0f9ed"/><stop offset="0.89" stop-color="#f1f9ee"/><stop offset="1" stop-color="#f1f9ee"/></linearGradient>
<linearGradient id="h100"><stop offset="0" stop-color="#f1f9ee"/><stop offset="0.1" stop-color="#f1f9ee"/><stop offset="0.2" stop-color="#f1f9ee"/><stop offset="0.28" stop-color="#f1f9ee"/><stop offset="0.35" stop-color="#f1f9ee"/><stop offset="0.41" stop-color="#eff8ec"/><stop offset="0.46" stop-color="#e6f4df"/><stop offset="0.495" stop-color="#d6eec9"/><stop offset="0.525" stop-color="#addb9c"/><stop offset="0.55" stop-color="#6ec36e"/><stop offset="0.575" stop-color="#9ad38b"/><stop offset="0.61" stop-color="#cceabf"/><stop offset="0.65" stop-color="#dff2d6"/><stop offset="0.71" stop-color="#edf7e8"/><stop offset="0.79" stop-color="#f0f9ed"/><stop offset="0.89" stop-color="#f1f9ee"/><stop offset="1" stop-color="#f1f9ee"/></linearGradient>
<linearGradient id="h101"><stop offset="0" stop-color="#f1f9ee"/><stop offset="0.1" stop-color="#f1f9ee"/><stop offset="0.2" stop-color="#f1f9ee"/><stop offset="0.28" stop-color="#f1f9ee"/><stop offset="0.35" stop-color="#f1f9ee"/><stop offset="0.41" stop-color="#f0f9ec"/><stop offset="0.46" stop-color="#e8f5e2"/><stop offset="0.495" stop-color="#d9efce"/><stop offset="0.525" stop-color="#b6dfa5"/><stop offset="0.55" stop-color="#7ac776"/><stop offset="0.575" stop-color="#a6d794"/><stop offset="0.61" stop-color="#d2edc5"/><stop offset="0.65" stop-color="#e2f3da"/><stop offset="0.71" stop-color="#eef8ea"/><stop offset="0.79" stop-color="#f1f9ee"/><stop offset="0.89" stop-color="#f1f9ee"/><stop offset="1" stop-color="#f1f9ee"/></linearGradient>
<linearGradient id="h102"><stop offset="0" stop-color="#f1f9ee"/><stop offset="0.1" stop-color="#f1f9ee"/><stop offset="0.2" stop-color="#f1f9ee"/><stop offset="0.28" stop-color="#f1f9ee"/><stop offset="0.35" stop-color="#f1f9ee"/><stop offset="0.41" stop-color="#f0f9ed"/><stop offset="0.46" stop-color="#ebf6e5"/><stop offset="0.495" stop-color="#def1d4"/><stop offset="0.525" stop-color="#c3e5b4"/><stop offset="0.55" stop-color="#93d187"/><stop offset="0.575" stop-color="#b5dfa5"/><stop offset="0.61" stop-color="#d8efcd"/><stop offset="0.65" stop-color="#e5f4df"/><stop offset="0.71" stop-color="#eff8eb"/><stop offset="0.79" stop-color="#f1f9ee"/><stop offset="0.89" stop-color="#f1f9ee"/><stop offset="1" stop-color="#f1f9ee"/></linearGradient>
<linearGradient id="h103"><stop offset="0" stop-color="#f1f9ee"/><stop offset="0.1" stop-color="#f1f9ee"/><stop offset="0.2" stop-color="#f1f9ee"/><stop offset="0.28" stop-color="#f1f9ee"/><stop offset="0.35" stop-color="#f1f9ee"/><stop offset="0.41" stop-color="#f1f9ed"/><stop offset="0.46" stop-color="#edf7e8"/><stop offset="0.495" stop-color="#e2f3db"/><stop offset="0.525" stop-color="#d0ebc3"/><stop offset="0.55" stop-color="#abda9a"/><stop offset="0.575" stop-color="#c4e6b6"/><stop offset="0.61" stop-color="#def1d4"/><stop offset="0.65" stop-color="#e9f6e3"/><stop offset="0.71" stop-color="#f0f9ec"/><stop offset="0.79" stop-color="#f1f9ee"/><stop offset="0.89" stop-color="#f1f9ee"/><stop offset="1" stop-color="#f1f9ee"/></linearGradient>
<linearGradient id="h104"><stop offset="0" stop-color="#f1f9ee"/><stop offset="0.1" stop-color="#f1f9ee"/><stop offset="0.2" stop-color="#f1f9ee"/><stop offset="0.28" stop-color="#f1f9ee"/><stop offset="0.35" stop-color="#f1f9ee"/><stop offset="0.41" stop-color="#f1f9ee"/><stop offset="0.46" stop-color="#eff8eb"/><stop offset="0.495" stop-color="#e7f5e0"/><stop offset="0.525" stop-color="#d9efce"/><stop offset="0.55" stop-color="#bde3ae"/><stop offset="0.575" stop-color="#d3edc6"/><stop offset="0.61" stop-color="#e3f3db"/><stop offset="0.65" stop-color="#ecf7e7"/><stop offset="0.71" stop-color="#f0f9ed"/><stop offset="0.79" stop-color="#f1f9ee"/><stop offset="0.89" stop-color="#f1f9ee"/><stop offset="1" stop-color="#f1f9ee"/></linearGradient>
<linearGradient id="h105"><stop offset="0" stop-color="#f1f9ee"/><stop offset="0.1" stop-color="#f1f9ee"/><stop offset="0.2" stop-color="#f1f9ee"/><stop offset="0.28" stop-color="#f1f9ee"/><stop offset="0.35" stop-color="#f1f9ee"/><stop offset="0.41" stop-color="#f1f9ee"/><stop offset="0.46" stop-color="#f0f9ec"/><stop offset="0.495" stop-color="#ebf7e6"/><stop offset="0.525" stop-color="#e2f3da"/><stop offset="0.55" stop-color="#d3edc6"/><stop offset="0.575" stop-color="#def1d4"/><stop offset="0.61" stop-color="#e8f5e2"/><stop offset="0.65" stop-color="#eef8ea"/><stop offset="0.71" stop-color="#f1f9ee"/><stop offset="0.79" stop-color="#f1f9ee"/><stop offset="0.89" stop-color="#f1f9ee"/><stop offset="1" stop-color="#f1f9ee"/></linearGradient>
<linearGradient id="h106"><stop offset="0" stop-color="#f1f9ee"/><stop offset="0.1" stop-color="#f1f9ee"/><stop offset="0.2" stop-color="#f1f9ee"/><stop offset="0.28" stop-color="#f1f9ee"/><stop offset="0.35" stop-color="#f1f9ee"/><stop offset="0.41" stop-color="#f1f9ee"/><stop offset="0.46" stop-color="#f0f9ed"/><stop offset="0.495" stop-color="#edf8e9"/><stop offset="0.525" stop-color="#e7f5e1"/><stop offset="0.55" stop-color="#ddf1d3"/><stop offset="0.575" stop-color="#e4f4dd"/><stop offset="0.61" stop-color="#ebf7e7"/><stop offset="0.65" stop-color="#eff8ec"/><stop offset="0.71" stop-color="#f1f9ee"/><stop offset="0.79" stop-color="#f1f9ee"/><stop offset="0.89" stop-color="#f1f9ee"/><stop offset="1" stop-color="#f1f9ee"/></linearGradient>
<linearGradient id="h107" x1="0" y1="0" x2="0" y2="1"><stop offset="0" stop-color="#eef8ea"/><stop offset="0.3" stop-color="#f0f9ed"/><stop offset="1" stop-color="#f1f9ee"/></linearGradient>
<linearGradient id="h108" x1="0" y1="0" x2="0" y2="1"><stop offset="0" stop-color="#f0f9ed"/><stop offset="1" stop-color="#f1f9ee"/></linearGradient>
<linearGradient id="h109" x1="0" y1="0" x2="0" y2="1"><stop offset="0" stop-color="#eff8eb"/><stop offset="0.3" stop-color="#f0f9ed"/><stop offset="1" stop-color="#f1f9ee"/></linearGradient>
<linearGradient id="h110" x1="0" y1="0" x2="0" y2="1"><stop offset="0" stop-color="#f1f9ee"/><stop offset="1" stop-color="#f1f9ee"/></linearGradient>
<linearGradient id="h111"><stop offset="0" stop-color="#ead6ee"/><stop offset="0.1" stop-color="#ead6ee"/><stop offset="0.2" stop-color="#e9d3ed"/><stop offset="0.28" stop-color="#e1c4e6"/><stop offset="0.35" stop-color="#d0a5d7"/><stop offset="0.41" stop-color="#c793cf"/><stop offset="0.46" stop-color="#ca9ad2"/><stop offset="0.495" stop-color="#d2a9d9"/><stop offset="0.525" stop-color="#bd84c7"/><stop offset="0.55" stop-color="#b97dc4"/><stop offset="0.575" stop-color="#bf86c8"/><stop offset="0.61" stop-color="#cb9bd2"/><stop offset="0.65" stop-color="#dab6df"/><stop offset="0.71" stop-color="#e7cfeb"/><stop offset="0.79" stop-color="#ead5ee"/><stop offset="0.89" stop-color="#ead6ee"/><stop offset="1" stop-color="#ead6ee"/></linearGradient>
<linearGradient id="h112"><stop offset="0" stop-color="#ebd6ee"/><stop offset="0.1" stop-color="#ebd6ee"/><stop offset="0.2" stop-color="#e9d4ed"/><stop offset="0.28" stop-color="#e2c5e6"/><stop offset="0.35" stop-color="#d1a6d8"/><stop offset="0.41" stop-color="#c795cf"/><stop offset="0.46" stop-color="#cb9cd3"/><stop offset="0.495" stop-color="#d3aad9"/><stop offset="0.525" stop-color="#be85c8"/><stop offset="0.55" stop-color="#ba7ec4"/><stop offset="0.575" stop-color="#bf87c9"/><stop offset="0.61" stop-color="#cc9cd3"/><stop offset="0.65" stop-color="#dab7e0"/><stop offset="0.71" stop-color="#e7d0eb"/><stop offset="0.79" stop-color="#ead6ee"/><stop offset="0.89" stop-color="#ebd6ee"/><stop offset="1" stop-color="#ebd6ee"/></linearGradient>
<linearGradient id="h113"><stop offset="0" stop-color="#ebd6ee"/><stop offset="0.1" stop-color="#ebd6ee"/><stop offset="0.2" stop-color="#ead4ed"/><stop offset="0.28" stop-color="#e2c6e6"/><stop offset="0.35" stop-color="#d2a8d8"/><stop offset="0.41" stop-color="#c896d0"/><stop offset="0.46" stop-color="#cc9dd3"/><stop offset="0.495" stop-color="#d4abda"/><stop offset="0.525" stop-color="#bf87c8"/><stop offset="0.55" stop-color="#bb80c5"/><stop offset="0.575" stop-color="#c089c9"/><stop offset="0.61" stop-color="#cc9dd3"/><stop offset="0.65" stop-color="#dab8e0"/><stop offset="0.71" stop-color="#e8d0eb"/><stop offset="0.79" stop-color="#ebd6ee"/><stop offset="0.89" stop-color="#ebd6ee"/><stop offset="1" stop-color="#ebd6ee"/></linearGradient>
<linearGradient id="h114"><stop offset="0" stop-color="#ebd7ee"/><stop offset="0.1" stop-color="#ebd7ee"/><stop offset="0.2" stop-color="#ead4ed"/><stop offset="0.28" stop-color="#e2c6e7"/><stop offset="0.35" stop-color="#d3a9d9"/><stop offset="0.41" stop-color="#c998d1"/><stop offset="0.46" stop-color="#cd9ed4"/><stop offset="0.495" stop-color="#d4acda"/><stop offset="0.525" stop-color="#c088c9"/><stop offset="0.55" stop-color="#bc81c6"/><stop offset="0.575" stop-color="#c18aca"/><stop offset="0.61" stop-color="#cd9ed4"/><stop offset="0.65" stop-color="#dbb8e0"/><stop offset="0.71" stop-color="#e8d0eb"/><stop offset="0.79" stop-color="#ebd6ee"/><stop offset="0.89" stop-color="#ebd7ee"/><stop offset="1" stop-color="#ebd7ee"/></linearGradient>
<linearGradient id="h115"><stop offset="0" stop-color="#ebd7ee"/><stop offset="0.1" stop-color="#ebd7ee"/><stop offset="0.2" stop-color="#ead5ed"/><stop offset="0.28" stop-color="#e3c7e7"/><stop offset="0.35" stop-color="#d3aada"/><stop offset="0.41" stop-color="#ca9ad2"/><stop offset="0.46" stop-color="#cea0d5"/><stop offset="0.495" stop-color="#d5addb"/><stop offset="0.525" stop-color="#c189ca"/><stop offset="0.55" stop-color="#bc83c6"/><stop offset="0.575" stop-color="#c28bcb"/><stop offset="0.61" stop-color="#cd9fd4"/><stop offset="0.65" stop-color="#dbb9e1"/><stop offset="0.71" stop-color="#e8d1ec"/><stop offset="0.79" stop-color="#ebd7ee"/><stop offset="0.89" stop-color="#ebd7ee"/><stop offset="1" stop-color="#ebd7ee"/></linearGradient>
<linearGradient id="h116"><stop offset="0" stop-color="#ebd7ee"/><stop offset="0.1" stop-color="#ebd7ee"/><stop offset="0.2" stop-color="#ead5ed"/><stop offset="0.28" stop-color="#e3c8e8"/><stop offset="0.35" stop-color="#d4acda"/><stop offset="0.41" stop-color="#cb9bd2"/><stop offset="0.46" stop-color="#cea1d5"/><stop offset="0.495" stop-color="#d5aedb"/><stop offset="0.525" stop-color="#c28bca"/><stop offset="0.55" stop-color="#bd84c7"/><stop offset="0.575" stop-color="#c38ccb"/><stop offset="0.61" stop-color="#cea0d5"/><stop offset="0.65" stop-color="#dcbae1"/><stop offset="0.71" stop-color="#e8d1ec"/><stop offset="0.79" stop-color="#ebd7ee"/><stop offset="0.89" stop-color="#ebd7ee"/><stop offset="1" stop-color="#ebd7ee"/></linearGradient>
<linearGradient id="h117"><stop offset="0" stop-color="#ebd8ee"/><stop offset="0.1" stop-color="#ebd7ee"/><stop offset="0.2" stop-color="#ead5ed"/><stop offset="0.28" stop-color="#e4c9e8"/><stop offset="0.35" stop-color="#d5addb"/><stop offset="0.41" stop-color="#cc9dd3"/><stop offset="0.46" stop-color="#cfa3d6"/><stop offset="0.495" stop-color="#d6b0dc"/><stop offset="0.525" stop-color="#c38dcb"/><stop offset="0.55" stop-color="#be86c8"/><stop offset="0.575" stop-color="#c48ecc"/><stop offset="0.61" stop-color="#cea1d5"/><stop offset="0.65" stop-color="#dcbbe1"/><stop offset="0.71" stop-color="#e8d2ec"/><stop offset="0.79" stop-color="#ebd7ee"/><stop offset="0.89" stop-color="#ebd8ee"/><stop offset="1" stop-color="#ebd8ee"/></linearGradient>
<linearGradient id="h118"><stop offset="0" stop-color="#ecd8ef"/><stop offset="0.1" stop-color="#ecd8ef"/><stop offset="0.2" stop-color="#ead6ee"/><stop offset="0.28" stop-color="#e4cae9"/><stop offset="0.35" stop-color="#d6afdc"/><stop offset="0.41" stop-color="#cea0d5"/><stop offset="0.46" stop-color="#d1a5d7"/><stop offset="0.495" stop-color="#d7b1dd"/><stop offset="0.525" stop-color="#c48fcc"/><stop offset="0.55" stop-color="#c088c9"/><stop offset="0.575" stop-color="#c590cd"/><stop offset="0.61" stop-color="#cfa3d6"/><stop offset="0.65" stop-color="#ddbce2"/><stop offset="0.71" stop-color="#e9d2ec"/><stop offset="0.79" stop-color="#ebd7ee"/><stop offset="0.89" stop-color="#ecd8ef"/><stop offset="1" stop-color="#ecd8ef"/></linearGradient>
<linearGradient id="h119"><stop offset="0" stop-color="#ecd8ef"/><stop offset="0.1" stop-color="#ecd8ef"/><stop offset="0.2" stop-color="#ebd6ee"/><stop offset="0.28" stop-color="#e5cbe9"/><stop offset="0.35" stop-color="#d7b1dd"/><stop offset="0.41" stop-color="#cfa2d6"/><stop offset="0.46" stop-color="#d2a8d8"/><stop offset="0.495" stop-color="#d8b3de"/><stop offset="0.525" stop-color="#c591cd"/><stop offset="0.55" stop-color="#c18aca"/><stop offset="0.575" stop-color="#c692ce"/><stop offset="0.61" stop-color="#d0a4d7"/><stop offset="0.65" stop-color="#ddbde2"/><stop offset="0.71" stop-color="#e9d2ec"/><stop offset="0.79" stop-color="#ecd8ef"/><stop offset="0.89" stop-color="#ecd8ef"/><stop offset="1" stop-color="#ecd8ef"/></linearGradient>
<linearGradient id="h120"><stop offset="0" stop-color="#ecd8ef"/><stop offset="0.1" stop-color="#ecd8ef"/><stop offset="0.2" stop-color="#ebd6ee"/><stop offset="0.28" stop-color="#e5cce9"/><stop offset="0.35" stop-color="#d8b3de"/><stop offset="0.41" stop-color="#d0a5d7"/><stop offset="0.46" stop-color="#d3aad9"/><stop offset="0.495" stop-color="#d9b5de"/><stop offset="0.525" stop-color="#c693ce"/><stop offset="0.55" stop-color="#c28ccb"/><stop offset="0.575" stop-color="#c794cf"/><stop offset="0.61" stop-color="#d1a6d7"/><stop offset="0.65" stop-color="#debee3"/><stop offset="0.71" stop-color="#e9d3ec"/><stop offset="0.79" stop-color="#ecd8ef"/><stop offset="0.89" stop-color="#ecd8ef"/><stop offset="1" stop-color="#ecd8ef"/></linearGradient>
<linearGradient id="h121"><stop offset="0" stop-color="#ecd9ef"/><stop offset="0.1" stop-color="#ecd9ef"/><stop offset="0.2" stop-color="#ebd7ee"/><stop offset="0.28" stop-color="#e6cdea"/><stop offset="0.35" stop-color="#d9b5df"/><stop offset="0.41" stop-color="#d1a7d8"/><stop offset="0.46" stop-color="#d4acda"/><stop offset="0.495" stop-color="#dab6df"/><stop offset="0.525" stop-color="#c795cf"/><stop offset="0.55" stop-color="#c38ecc"/><stop offset="0.575" stop-color="#c895d0"/><stop offset="0.61" stop-color="#d1a7d8"/><stop offset="0.65" stop-color="#debfe3"/><stop offset="0.71" stop-color="#e9d3ed"/><stop offset="0.79" stop-color="#ecd8ef"/><stop offset="0.89" stop-color="#ecd9ef"/><stop offset="1" stop-color="#ecd9ef"/></linearGradient>
<linearGradient id="h122"><stop offset="0" stop-color="#ecd9ef"/><stop offset="0.1" stop-color="#ecd9ef"/><stop offset="0.2" stop-color="#ebd7ee"/><stop offset="0.28" stop-color="#e6ceea"/><stop offset="0.35" stop-color="#dab7e0"/><stop offset="0.41" stop-color="#d3aad9"/><stop offset="0.46" stop-color="#d5aedb"/><stop offset="0.495" stop-color="#dab8e0"/><stop offset="0.525" stop-color="#c997d0"/><stop offset="0.55" stop-color="#c590cd"/><stop offset="0.575" stop-color="#c997d0"/><stop offset="0.61" stop-color="#d2a9d9"/><stop offset="0.65" stop-color="#dfc0e4"/><stop offset="0.71" stop-color="#e9d4ed"/><stop offset="0.79" stop-color="#ecd9ef"/><stop offset="0.89" stop-color="#ecd9ef"/><stop offset="1" stop-color="#ecd9ef"/></linearGradient>
<linearGradient id="h123"><stop offset="0" stop-color="#ecd9ef"/><stop offset="0.1" stop-color="#ecd9ef"/><stop offset="0.2" stop-color="#ebd7ee"/><stop offset="0.28" stop-color="#e7ceeb"/><stop offset="0.35" stop-color="#dbb9e0"/><stop offset="0.41" stop-color="#d4acda"/><stop offset="0.46" stop-color="#d6b0dc"/><stop offset="0.495" stop-color="#dbb9e1"/><stop offset="0.525" stop-color="#ca99d1"/><stop offset="0.55" stop-color="#c692ce"/><stop offset="0.575" stop-color="#ca99d1"/><stop offset="0.61" stop-color="#d3aad9"/><stop offset="0.65" stop-color="#dfc1e4"/><stop offset="0.71" stop-color="#ead4ed"/><stop offset="0.79" stop-color="#ecd9ef"/><stop offset="0.89" stop-color="#ecd9ef"/><stop offset="1" stop-color="#ecd9ef"/></linearGradient>
<linearGradient id="h124"><stop offset="0" stop-color="#ecdaef"/><stop offset="0.1" stop-color="#ecdaef"/><stop offset="0.2" stop-color="#ecd8ef"/><stop offset="0.28" stop-color="#e7cfeb"/><stop offset="0.35" stop-color="#dcbbe1"/><stop offset="0.41" stop-color="#d5aedc"/><stop offset="0.46" stop-color="#d8b2dd"/><stop offset="0.495" stop-color="#dcbbe1"/><stop offset="0.525" stop-color="#cb9bd2"/><stop offset="0.55" stop-color="#c794cf"/><stop offset="0.575" stop-color="#cb9bd2"/><stop offset="0.61" stop-color="#d4abda"/><stop offset="0.65" stop-color="#e0c2e5"/><stop offset="0.71" stop-color="#ead4ed"/><stop offset="0.79" stop-color="#ecd9ef"/><stop offset="0.89" stop-color="#ecdaef"/><stop offset="1" stop-color="#ecdaef"/></linearGradient>
<linearGradient id="h125"><stop offset="0" stop-color="#eddaef"/><stop offset="0.1" stop-color="#eddaef"/><stop offset="0.2" stop-color="#ecd8ef"/><stop offset="0.28" stop-color="#e8d0eb"/><stop offset="0.35" stop-color="#ddbde2"/><stop offset="0.41" stop-color="#d7b1dd"/><stop offset="0.46" stop-color="#d9b5de"/><stop offset="0.495" stop-color="#ddbce2"/><stop offset="0.525" stop-color="#cc9dd3"/><stop offset="0.55" stop-color="#c896d0"/><stop offset="0.575" stop-color="#cc9cd3"/><stop offset="0.61" stop-color="#d5addb"/><stop offset="0.65" stop-color="#e0c3e5"/><stop offset="0.71" stop-color="#ead5ed"/><stop offset="0.79" stop-color="#ecdaef"/><stop offset="0.89" stop-color="#eddaef"/><stop offset="1" stop-color="#eddaef"/></linearGradient>
<linearGradient id="h126"><stop offset="0" stop-color="#eddaf0"/><stop offset="0.1" stop-color="#eddaf0"/><stop offset="0.2" stop-color="#ecd9ef"/><stop offset="0.28" stop-color="#e8d1ec"/><stop offset="0.35" stop-color="#debfe3"/><stop offset="0.41" stop-color="#d8b3de"/><stop offset="0.46" stop-color="#dab7df"/><stop offset="0.495" stop-color="#debee3"/><stop offset="0.525" stop-color="#cd9fd4"/><stop offset="0.55" stop-color="#c998d1"/><stop offset="0.575" stop-color="#cd9ed4"/><stop offset="0.61" stop-color="#d5aedb"/><stop offset="0.65" stop-color="#e1c4e6"/><stop offset="0.71" stop-color="#ead5ed"/><stop offset="0.79" stop-color="#eddaef"/><stop offset="0.89" stop-color="#eddaf0"/><stop offset="1" stop-color="#eddaf0"/></linearGradient>
<linearGradient id="h127"><stop offset="0" stop-color="#eddbf0"/><stop offset="0.1" stop-color="#eddaf0"/><stop offset="0.2" stop-color="#ecd9ef"/><stop offset="0.28" stop-color="#e8d1ec"/><stop offset="0.35" stop-color="#dfc1e4"/><stop offset="0.41" stop-color="#d9b6df"/><stop offset="0.46" stop-color="#dbb9e0"/><stop offset="0.495" stop-color="#dfc0e4"/><stop offset="0.525" stop-color="#cea1d5"/><stop offset="0.55" stop-color="#ca9ad2"/><stop offset="0.575" stop-color="#cea0d5"/><stop offset="0.61" stop-color="#d6b0dc"/><stop offset="0.65" stop-color="#e1c5e6"/><stop offset="0.71" stop-color="#ead6ee"/><stop offset="0.79" stop-color="#eddaf0"/><stop offset="0.89" stop-color="#eddbf0"/><stop offset="1" stop-color="#eddbf0"/></linearGradient>
<linearGradient id="h128"><stop offset="0" stop-color="#eddbf0"/><stop offset="0.1" stop-color="#eddbf0"/><stop offset="0.2" stop-color="#ecd9ef"/><stop offset="0.28" stop-color="#e9d2ec"/><stop offset="0.35" stop-color="#e0c2e5"/><stop offset="0.41" stop-color="#dbb8e0"/><stop offset="0.46" stop-color="#dcbbe1"/><stop offset="0.495" stop-color="#e0c1e4"/><stop offset="0.525" stop-color="#cfa2d6"/><stop offset="0.55" stop-color="#cb9cd3"/><stop offset="0.575" stop-color="#cfa2d5"/><stop offset="0.61" stop-color="#d7b1dd"/><stop offset="0.65" stop-color="#e2c5e6"/><stop offset="0.71" stop-color="#ebd6ee"/><stop offset="0.79" stop-color="#eddbf0"/><stop offset="0.89" stop-color="#eddbf0"/><stop offset="1" stop-color="#eddbf0"/></linearGradient>
<linearGradient id="h129"><stop offset="0" stop-color="#eddbf0"/><stop offset="0.1" stop-color="#eddbf0"/><stop offset="0.2" stop-color="#ecdaef"/><stop offset="0.28" stop-color="#e9d3ec"/><stop offset="0.35" stop-color="#e1c4e6"/><stop offset="0.41" stop-color="#dcbae1"/><stop offset="0.46" stop-color="#ddbde2"/><stop offset="0.495" stop-color="#e0c3e5"/><stop offset="0.525" stop-color="#d0a4d7"/><stop offset="0.55" stop-color="#cc9ed4"/><stop offset="0.575" stop-color="#cfa3d6"/><stop offset="0.61" stop-color="#d8b2dd"/><stop offset="0.65" stop-color="#e2c6e7"/><stop offset="0.71" stop-color="#ebd6ee"/><stop offset="0.79" stop-color="#eddbf0"/><stop offset="0.89" stop-color="#eddbf0"/><stop offset="1" stop-color="#eddbf0"/></linearGradient>
<linearGradient id="h130"><stop offset="0" stop-color="#eddbf0"/><stop offset="0.1" stop-color="#eddbf0"/><stop offset="0.2" stop-color="#eddaef"/><stop offset="0.28" stop-color="#e9d3ed"/><stop offset="0.35" stop-color="#e2c5e6"/><stop offset="0.41" stop-color="#ddbce2"/><stop offset="0.46" stop-color="#debee3"/><stop offset="0.495" stop-color="#e1c4e6"/><stop offset="0.525" stop-color="#d1a6d8"/><stop offset="0.55" stop-color="#cda0d4"/><stop offset="0.575" stop-color="#d0a5d7"/><stop offset="0.61" stop-color="#d8b4de"/><stop offset="0.65" stop-color="#e3c7e7"/><stop offset="0.71" stop-color="#ebd7ee"/><stop offset="0.79" stop-color="#eddbf0"/><stop offset="0.89" stop-color="#eddbf0"/><stop offset="1" stop-color="#eddbf0"/></linearGradient>
<linearGradient id="h131"><stop offset="0" stop-color="#eedcf0"/><stop offset="0.1" stop-color="#eddcf0"/><stop offset="0.2" stop-color="#eddaf0"/><stop offset="0.28" stop-color="#ead4ed"/><stop offset="0.35" stop-color="#e3c7e7"/><stop offset="0.41" stop-color="#debee3"/><stop offset="0.46" stop-color="#dfc0e4"/><stop offset="0.495" stop-color="#e2c5e6"/><stop offset="0.525" stop-color="#d2a8d8"/><stop offset="0.55" stop-color="#cea2d5"/><stop offset="0.575" stop-color="#d1a7d8"/><stop offset="0.61" stop-color="#d9b5df"/><stop offset="0.65" stop-color="#e4c8e8"/><stop offset="0.71" stop-color="#ebd7ee"/><stop offset="0.79" stop-color="#eddbf0"/><stop offset="0.89" stop-color="#eedcf0"/><stop offset="1" stop-color="#eedcf0"/></linearGradient>
<linearGradient id="h132"><stop offset="0" stop-color="#eedcf0"/><stop offset="0.1" stop-color="#eedcf0"/><stop offset="0.2" stop-color="#eddbf0"/><stop offset="0.28" stop-color="#ead5ed"/><stop offset="0.35" stop-color="#e3c8e8"/><stop offset="0.41" stop-color="#dfbfe4"/><stop offset="0.46" stop-color="#e0c2e5"/><stop offset="0.495" stop-color="#e3c7e7"/><stop offset="0.525" stop-color="#d3aad9"/><stop offset="0.55" stop-color="#cfa3d6"/><stop offset="0.575" stop-color="#d2a9d9"/><stop offset="0.61" stop-color="#dab7df"/><stop offset="0.65" stop-color="#e4c9e8"/><stop offset="0.71" stop-color="#ebd8ee"/><stop offset="0.79" stop-color="#eedcf0"/><stop offset="0.89" stop-color="#eedcf0"/><stop offset="1" stop-color="#eedcf0"/></linearGradient>
<linearGradient id="h133"><stop offset="0" stop-color="#eedcf0"/><stop offset="0.1" stop-color="#eedcf0"/><stop offset="0.2" stop-color="#eddbf0"/><stop offset="0.28" stop-color="#ead5ed"/><stop offset="0.35" stop-color="#e4cae8"/><stop offset="0.41" stop-color="#e0c1e4"/><stop offset="0.46" stop-color="#e1c3e5"/><stop offset="0.495" stop-color="#e3c8e8"/><stop offset="0.525" stop-color="#d4acda"/><stop offset="0.55" stop-color="#d1a5d7"/><stop offset="0.575" stop-color="#d3aada"/><stop offset="0.61" stop-color="#dbb8e0"/><stop offset="0.65" stop-color="#e5cae9"/><stop offset="0.71" stop-color="#ecd8ef"/><stop offset="0.79" stop-color="#eedcf0"/><stop offset="0.89" stop-color="#eedcf0"/><stop offset="1" stop-color="#eedcf0"/></linearGradient>
<linearGradient id="h134"><stop offset="0" stop-color="#eeddf1"/><stop offset="0.1" stop-color="#eeddf1"/><stop offset="0.2" stop-color="#eddbf0"/><stop offset="0.28" stop-color="#ead6ee"/><stop offset="0.35" stop-color="#e5cbe9"/><stop offset="0.41" stop-color="#e1c3e5"/><stop offset="0.46" stop-color="#e2c5e6"/><stop offset="0.495" stop-color="#e4c9e8"/><stop offset="0.525" stop-color="#d5addb"/><stop offset="0.55" stop-color="#d1a7d8"/><stop offset="0.575" stop-color="#d4acda"/><stop offset="0.61" stop-color="#dbb9e1"/><stop offset="0.65" stop-color="#e5cbe9"/><stop offset="0.71" stop-color="#ecd8ef"/><stop offset="0.79" stop-color="#eedcf0"/><stop offset="0.89" stop-color="#eeddf1"/><stop offset="1" stop-color="#eeddf1"/></linearGradient>
<linearGradient id="h135"><stop offset="0" stop-color="#eeddf1"/><stop offset="0.1" stop-color="#eeddf1"/><stop offset="0.2" stop-color="#eedcf0"/><stop offset="0.28" stop-color="#ebd6ee"/><stop offset="0.35" stop-color="#e6cdea"/><stop offset="0.41" stop-color="#e2c5e6"/><stop offset="0.46" stop-color="#e2c6e7"/><stop offset="0.495" stop-color="#e5cae9"/><stop offset="0.525" stop-color="#d6afdc"/><stop offset="0.55" stop-color="#d2a9d9"/><stop offset="0.575" stop-color="#d5addb"/><stop offset="0.61" stop-color="#dcbae1"/><stop offset="0.65" stop-color="#e5ccea"/><stop offset="0.71" stop-color="#ecd9ef"/><stop offset="0.79" stop-color="#eeddf1"/><stop offset="0.89" stop-color="#eeddf1"/><stop offset="1" stop-color="#eeddf1"/></linearGradient>
<linearGradient id="h136"><stop offset="0" stop-color="#eeddf1"/><stop offset="0.1" stop-color="#eeddf1"/><stop offset="0.2" stop-color="#eedcf0"/><stop offset="0.28" stop-color="#ebd7ee"/><stop offset="0.35" stop-color="#e6ceea"/><stop offset="0.41" stop-color="#e3c7e7"/><stop offset="0.46" stop-color="#e3c8e8"/><stop offset="0.495" stop-color="#e5cce9"/><stop offset="0.525" stop-color="#d6b0dc"/><stop offset="0.55" stop-color="#d3aad9"/><stop offset="0.575" stop-color="#d6afdc"/><stop offset="0.61" stop-color="#ddbce2"/><stop offset="0.65" stop-color="#e6cdea"/><stop offset="0.71" stop-color="#ecd9ef"/><stop offset="0.79" stop-color="#eeddf1"/><stop offset="0.89" stop-color="#eeddf1"/><stop offset="1" stop-color="#eeddf1"/></linearGradient>
<linearGradient id="h137"><stop offset="0" stop-color="#eeddf1"/><stop offset="0.1" stop-color="#eeddf1"/><stop offset="0.2" stop-color="#eedcf0"/><stop offset="0.28" stop-color="#ebd8ee"/><stop offset="0.35" stop-color="#e7cfeb"/><stop offset="0.41" stop-color="#e4c9e8"/><stop offset="0.46" stop-color="#e4cae8"/><stop offset="0.495" stop-color="#e6cdea"/><stop offset="0.525" stop-color="#d7b2dd"/><stop offset="0.55" stop-color="#d4acda"/><stop offset="0.575" stop-color="#d6b0dc"/><stop offset="0.61" stop-color="#ddbde2"/><stop offset="0.65" stop-color="#e6cdea"/><stop offset="0.71" stop-color="#ecd9ef"/><stop offset="0.79" stop-color="#eeddf1"/><stop offset="0.89" stop-color="#eeddf1"/><stop offset="1" stop-color="#eeddf1"/></linearGradient>
<linearGradient id="h138"><stop offset="0" stop-color="#efdef1"/><stop offset="0.1" stop-color="#efdef1"/><stop offset="0.2" stop-color="#eeddf1"/><stop offset="0.28" stop-color="#ecd8ef"/><stop offset="0.35" stop-color="#e8d0eb"/><stop offset="0.41" stop-color="#e5cae9"/><stop offset="0.46" stop-color="#e5cbe9"/><stop offset="0.495" stop-color="#e6ceea"/><stop offset="0.525" stop-color="#d8b3de"/><stop offset="0.55" stop-color="#d5addb"/><stop offset="0.575" stop-color="#d7b1dd"/><stop offset="0.61" stop-color="#debee3"/><stop offset="0.65" stop-color="#e7ceea"/><stop offset="0.71" stop-color="#eddaef"/><stop offset="0.79" stop-color="#eedef1"/><stop offset="0.89" stop-color="#efdef1"/><stop offset="1" stop-color="#efdef1"/></linearGradient>
<linearGradient id="h139"><stop offset="0" stop-color="#efdef1"/><stop offset="0.1" stop-color="#efdef1"/><stop offset="0.2" stop-color="#eeddf1"/><stop offset="0.28" stop-color="#ecd9ef"/><stop offset="0.35" stop-color="#e8d1ec"/><stop offset="0.41" stop-color="#e6ccea"/><stop offset="0.46" stop-color="#e6cdea"/><stop offset="0.495" stop-color="#e7cfeb"/><stop offset="0.525" stop-color="#d9b5df"/><stop offset="0.55" stop-color="#d6afdc"/><stop offset="0.575" stop-color="#d8b3de"/><stop offset="0.61" stop-color="#debfe3"/><stop offset="0.65" stop-color="#e7cfeb"/><stop offset="0.71" stop-color="#eddaf0"/><stop offset="0.79" stop-color="#efdef1"/><stop offset="0.89" stop-color="#efdef1"/><stop offset="1" stop-color="#efdef1"/></linearGradient>
<linearGradient id="h140"><stop offset="0" stop-color="#efdef1"/><stop offset="0.1" stop-color="#efdef1"/><stop offset="0.2" stop-color="#eedef1"/><stop offset="0.28" stop-color="#ecd9ef"/><stop offset="0.35" stop-color="#e9d2ec"/><stop offset="0.41" stop-color="#e6ceea"/><stop offset="0.46" stop-color="#e7ceea"/><stop offset="0.495" stop-color="#e7d0eb"/><stop offset="0.525" stop-color="#dab6df"/><stop offset="0.55" stop-color="#d6b0dc"/><stop offset="0.575" stop-color="#d9b4de"/><stop offset="0.61" stop-color="#dfc0e4"/><stop offset="0.65" stop-color="#e7cfeb"/><stop offset="0.71" stop-color="#eddbf0"/><stop offset="0.79" stop-color="#efdef1"/><stop offset="0.89" stop-color="#efdef1"/><stop offset="1" stop-color="#efdef1"/></linearGradient>
<linearGradient id="h141"><stop offset="0" stop-color="#efdff1"/><stop offset="0.1" stop-color="#efdff1"/><stop offset="0.2" stop-color="#efdef1"/><stop offset="0.28" stop-color="#eddaef"/><stop offset="0.35" stop-color="#e9d3ed"/><stop offset="0.41" stop-color="#e7cfeb"/><stop offset="0.46" stop-color="#e7cfeb"/><stop offset="0.495" stop-color="#e8d0eb"/><stop offset="0.525" stop-color="#dbb8e0"/><stop offset="0.55" stop-color="#d7b2dd"/><stop offset="0.575" stop-color="#d9b6df"/><stop offset="0.61" stop-color="#e0c1e4"/><stop offset="0.65" stop-color="#e8d0eb"/><stop offset="0.71" stop-color="#eddbf0"/><stop offset="0.79" stop-color="#efdff1"/><stop offset="0.89" stop-color="#efdff1"/><stop offset="1" stop-color="#efdff1"/></linearGradient>
<linearGradient id="h142"><stop offset="0" stop-color="#efdff2"/><stop offset="0.1" stop-color="#efdff2"/><stop offset="0.2" stop-color="#efdef1"/><stop offset="0.28" stop-color="#eddbf0"/><stop offset="0.35" stop-color="#ead4ed"/><stop offset="0.41" stop-color="#e8d0eb"/><stop offset="0.46" stop-color="#e8d0eb"/><stop offset="0.495" stop-color="#e8d1ec"/><stop offset="0.525" stop-color="#dbb9e1"/><stop offset="0.55" stop-color="#d8b3de"/><stop offset="0.575" stop-color="#dab7e0"/><stop offset="0.61" stop-color="#e0c3e5"/><stop offset="0.65" stop-color="#e8d1ec"/><stop offset="0.71" stop-color="#eddcf0"/><stop offset="0.79" stop-color="#efdff2"/><stop offset="0.89" stop-color="#efdff2"/><stop offset="1" stop-color="#efdff2"/></linearGradient>
<linearGradient id="h143"><stop offset="0" stop-color="#f0e0f2"/><stop offset="0.1" stop-color="#efe0f2"/><stop offset="0.2" stop-color="#efdff1"/><stop offset="0.28" stop-color="#eddbf0"/><stop offset="0.35" stop-color="#ead5ed"/><stop offset="0.41" stop-color="#e8d1ec"/><stop offset="0.46" stop-color="#e8d1ec"/><stop offset="0.495" stop-color="#e9d2ec"/><stop offset="0.525" stop-color="#dcbbe1"/><stop offset="0.55" stop-color="#d9b5df"/><stop offset="0.575" stop-color="#dbb9e0"/><stop offset="0.61" stop-color="#e1c4e6"/><stop offset="0.65" stop-color="#e8d1ec"/><stop offset="0.71" stop-color="#eedcf0"/><stop offset="0.79" stop-color="#efdff2"/><stop offset="0.89" stop-color="#f0e0f2"/><stop offset="1" stop-color="#f0e0f2"/></linearGradient>
<linearGradient id="h144"><stop offset="0" stop-color="#f0e0f2"/><stop offset="0.1" stop-color="#f0e0f2"/><stop offset="0.2" stop-color="#efdff2"/><stop offset="0.28" stop-color="#eedcf0"/><stop offset="0.35" stop-color="#ebd6ee"/><stop offset="0.41" stop-color="#e9d2ec"/><stop offset="0.46" stop-color="#e9d2ec"/><stop offset="0.495" stop-color="#e9d3ec"/><stop offset="0.525" stop-color="#ddbde2"/><stop offset="0.55" stop-color="#dab6df"/><stop offset="0.575" stop-color="#dcbae1"/><stop offset="0.61" stop-color="#e2c5e6"/><stop offset="0.65" stop-color="#e9d2ec"/><stop offset="0.71" stop-color="#eedcf0"/><stop offset="0.79" stop-color="#f0e0f2"/><stop offset="0.89" stop-color="#f0e0f2"/><stop offset="1" stop-color="#f0e0f2"/></linearGradient>
<linearGradient id="h145"><stop offset="0" stop-color="#f0e0f2"/><stop offset="0.1" stop-color="#f0e0f2"/><stop offset="0.2" stop-color="#f0e0f2"/><stop offset="0.28" stop-color="#eedcf0"/><stop offset="0.35" stop-color="#ebd7ee"/><stop offset="0.41" stop-color="#e9d3ed"/><stop offset="0.46" stop-color="#e9d3ed"/><stop offset="0.495" stop-color="#e9d4ed"/><stop offset="0.525" stop-color="#debee3"/><stop offset="0.55" stop-color="#dbb8e0"/><stop offset="0.575" stop-color="#ddbce2"/><stop offset="0.61" stop-color="#e2c6e7"/><stop offset="0.65" stop-color="#e9d3ec"/><stop offset="0.71" stop-color="#eeddf1"/><stop offset="0.79" stop-color="#f0e0f2"/><stop offset="0.89" stop-color="#f0e0f2"/><stop offset="1" stop-color="#f0e0f2"/></linearGradient>
<linearGradient id="h146"><stop offset="0" stop-color="#f0e1f2"/><stop offset="0.1" stop-color="#f0e1f2"/><stop offset="0.2" stop-color="#f0e0f2"/><stop offset="0.28" stop-color="#eeddf1"/><stop offset="0.35" stop-color="#ebd8ee"/><stop offset="0.41" stop-color="#ead4ed"/><stop offset="0.46" stop-color="#ead4ed"/><stop offset="0.495" stop-color="#ead5ed"/><stop offset="0.525" stop-color="#dfc0e4"/><stop offset="0.55" stop-color="#dcbae1"/><stop offset="0.575" stop-color="#ddbde2"/><stop offset="0.61" stop-color="#e3c7e7"/><stop offset="0.65" stop-color="#e9d3ed"/><stop offset="0.71" stop-color="#eeddf1"/><stop offset="0.79" stop-color="#f0e1f2"/><stop offset="0.89" stop-color="#f0e1f2"/><stop offset="1" stop-color="#f0e1f2"/></linearGradient>
<linearGradient id="h147"><stop offset="0" stop-color="#f0e1f2"/><stop offset="0.1" stop-color="#f0e1f2"/><stop offset="0.2" stop-color="#f0e1f2"/><stop offset="0.28" stop-color="#efdef1"/><stop offset="0.35" stop-color="#ecd9ef"/><stop offset="0.41" stop-color="#ead6ee"/><stop offset="0.46" stop-color="#ead5ed"/><stop offset="0.495" stop-color="#ead6ee"/><stop offset="0.525" stop-color="#e0c1e4"/><stop offset="0.55" stop-color="#dcbbe2"/><stop offset="0.575" stop-color="#debfe3"/><stop offset="0.61" stop-color="#e4c9e8"/><stop offset="0.65" stop-color="#ead4ed"/><stop offset="0.71" stop-color="#efdef1"/><stop offset="0.79" stop-color="#f0e1f2"/><stop offset="0.89" stop-color="#f0e1f2"/><stop offset="1" stop-color="#f0e1f2"/></linearGradient>
<linearGradient id="h148"><stop offset="0" stop-color="#f1e2f3"/><stop offset="0.1" stop-color="#f0e2f3"/><stop offset="0.2" stop-color="#f0e1f2"/><stop offset="0.28" stop-color="#efdef1"/><stop offset="0.35" stop-color="#ecdaef"/><stop offset="0.41" stop-color="#ebd7ee"/><stop offset="0.46" stop-color="#ebd6ee"/><stop offset="0.495" stop-color="#ebd6ee"/><stop offset="0.525" stop-color="#e0c3e5"/><stop offset="0.55" stop-color="#ddbde2"/><stop offset="0.575" stop-color="#dfc0e4"/><stop offset="0.61" stop-color="#e4cae9"/><stop offset="0.65" stop-color="#ead5ed"/><stop offset="0.71" stop-color="#efdef1"/><stop offset="0.79" stop-color="#f0e1f3"/><stop offset="0.89" stop-color="#f1e2f3"/><stop offset="1" stop-color="#f1e2f3"/></linearGradient>
<linearGradient id="h149"><stop offset="0" stop-color="#f1e2f3"/><stop offset="0.1" stop-color="#f1e2f3"/><stop offset="0.2" stop-color="#f0e1f3"/><stop offset="0.28" stop-color="#efdff1"/><stop offset="0.35" stop-color="#eddaf0"/><stop offset="0.41" stop-color="#ecd8ef"/><stop offset="0.46" stop-color="#ebd7ee"/><stop offset="0.495" stop-color="#ebd7ee"/><stop offset="0.525" stop-color="#e1c4e6"/><stop offset="0.55" stop-color="#debee3"/><stop offset="0.575" stop-color="#e0c1e5"/><stop offset="0.61" stop-color="#e5cbe9"/><stop offset="0.65" stop-color="#ead5ed"/><stop offset="0.71" stop-color="#efdff1"/><stop offset="0.79" stop-color="#f1e2f3"/><stop offset="0.89" stop-color="#f1e2f3"/><stop offset="1" stop-color="#f1e2f3"/></linearGradient>
<linearGradient id="h150"><stop offset="0" stop-color="#f1e2f3"/><stop offset="0.1" stop-color="#f1e2f3"/><stop offset="0.2" stop-color="#f1e2f3"/><stop offset="0.28" stop-color="#efe0f2"/><stop offset="0.35" stop-color="#eddbf0"/><stop offset="0.41" stop-color="#ecd9ef"/><stop offset="0.46" stop-color="#ecd8ef"/><stop offset="0.495" stop-color="#ecd8ef"/><stop offset="0.525" stop-color="#e2c6e7"/><stop offset="0.55" stop-color="#dfc0e4"/><stop offset="0.575" stop-color="#e1c3e5"/><stop offset="0.61" stop-color="#e6ccea"/><stop offset="0.65" stop-color="#ebd6ee"/><stop offset="0.71" stop-color="#efdff2"/><stop offset="0.79" stop-color="#f1e2f3"/><stop offset="0.89" stop-color="#f1e2f3"/><stop offset="1" stop-color="#f1e2f3"/></linearGradient>
<linearGradient id="h151"><stop offset="0" stop-color="#f1e3f3"/><stop offset="0.1" stop-color="#f1e3f3"/><stop offset="0.2" stop-color="#f1e2f3"/><stop offset="0.28" stop-color="#f0e0f2"/><stop offset="0.35" stop-color="#eedcf0"/><stop offset="0.41" stop-color="#eddaef"/><stop offset="0.46" stop-color="#ecd9ef"/><stop offset="0.495" stop-color="#ecd9ef"/><stop offset="0.525" stop-color="#e3c7e7"/><stop offset="0.55" stop-color="#e0c2e5"/><stop offset="0.575" stop-color="#e1c4e6"/><stop offset="0.61" stop-color="#e6cdea"/><stop offset="0.65" stop-color="#ebd7ee"/><stop offset="0.71" stop-color="#f0e0f2"/><stop offset="0.79" stop-color="#f1e3f3"/><stop offset="0.89" stop-color="#f1e3f3"/><stop offset="1" stop-color="#f1e3f3"/></linearGradient>
<linearGradient id="h152"><stop offset="0" stop-color="#f1e3f3"/><stop offset="0.1" stop-color="#f1e3f3"/><stop offset="0.2" stop-color="#f1e3f3"/><stop offset="0.28" stop-color="#f0e1f2"/><stop offset="0.35" stop-color="#eeddf1"/><stop offset="0.41" stop-color="#eddbf0"/><stop offset="0.46" stop-color="#eddaf0"/><stop offset="0.495" stop-color="#ecdaef"/><stop offset="0.525" stop-color="#e4c9e8"/><stop offset="0.55" stop-color="#e1c3e5"/><stop offset="0.575" stop-color="#e2c6e7"/><stop offset="0.61" stop-color="#e7ceeb"/><stop offset="0.65" stop-color="#ebd7ee"/><stop offset="0.71" stop-color="#f0e0f2"/><stop offset="0.79" stop-color="#f1e3f3"/><stop offset="0.89" stop-color="#f1e3f3"/><stop offset="1" stop-color="#f1e3f3"/></linearGradient>
<linearGradient id="h153"><stop offset="0" stop-color="#f1e3f3"/><stop offset="0.1" stop-color="#f1e3f3"/><stop offset="0.2" stop-color="#f1e3f3"/><stop offset="0.28" stop-color="#f0e1f2"/><stop offset="0.35" stop-color="#eedef1"/><stop offset="0.41" stop-color="#eddbf0"/><stop offset="0.46" stop-color="#eddbf0"/><stop offset="0.495" stop-color="#eddaf0"/><stop offset="0.525" stop-color="#e5cbe9"/><stop offset="0.55" stop-color="#e2c5e6"/><stop offset="0.575" stop-color="#e3c8e8"/><stop offset="0.61" stop-color="#e7cfeb"/><stop offset="0.65" stop-color="#ecd8ef"/><stop offset="0.71" stop-color="#f0e1f2"/><stop offset="0.79" stop-color="#f1e3f3"/><stop offset="0.89" stop-color="#f1e3f3"/><stop offset="1" stop-color="#f1e3f3"/></linearGradient>
<linearGradient id="h154"><stop offset="0" stop-color="#f2e4f4"/><stop offset="0.1" stop-color="#f2e4f4"/><stop offset="0.2" stop-color="#f1e3f3"/><stop offset="0.28" stop-color="#f1e2f3"/><stop offset="0.35" stop-color="#efdef1"/><stop offset="0.41" stop-color="#eedcf0"/><stop offset="0.46" stop-color="#eddcf0"/><stop offset="0.495" stop-color="#eddbf0"/><stop offset="0.525" stop-color="#e6ccea"/><stop offset="0.55" stop-color="#e3c7e7"/><stop offset="0.575" stop-color="#e4cae8"/><stop offset="0.61" stop-color="#e8d1eb"/><stop offset="0.65" stop-color="#ecd9ef"/><stop offset="0.71" stop-color="#f0e1f2"/><stop offset="0.79" stop-color="#f2e4f3"/><stop offset="0.89" stop-color="#f2e4f4"/><stop offset="1" stop-color="#f2e4f4"/></linearGradient>
<linearGradient id="h155"><stop offset="0" stop-color="#f2e4f4"/><stop offset="0.1" stop-color="#f2e4f4"/><stop offset="0.2" stop-color="#f2e4f4"/><stop offset="0.28" stop-color="#f1e2f3"/><stop offset="0.35" stop-color="#efdff1"/><stop offset="0.41" stop-color="#eeddf1"/><stop offset="0.46" stop-color="#eedcf0"/><stop offset="0.495" stop-color="#eedcf0"/><stop offset="0.525" stop-color="#e6ceea"/><stop offset="0.55" stop-color="#e4c9e8"/><stop offset="0.575" stop-color="#e5cbe9"/><stop offset="0.61" stop-color="#e8d2ec"/><stop offset="0.65" stop-color="#ecdaef"/><stop offset="0.71" stop-color="#f1e2f3"/><stop offset="0.79" stop-color="#f2e4f4"/><stop offset="0.89" stop-color="#f2e4f4"/><stop offset="1" stop-color="#f2e4f4"/></linearGradient>
<linearGradient id="h156"><stop offset="0" stop-color="#f2e5f4"/><stop offset="0.1" stop-color="#f2e5f4"/><stop offset="0.2" stop-color="#f2e4f4"/><stop offset="0.28" stop-color="#f1e3f3"/><stop offset="0.35" stop-color="#efdff2"/><stop offset="0.41" stop-color="#eedef1"/><stop offset="0.46" stop-color="#eeddf1"/><stop offset="0.495" stop-color="#eeddf1"/><stop offset="0.525" stop-color="#e7cfeb"/><stop offset="0.55" stop-color="#e5cbe9"/><stop offset="0.575" stop-color="#e6cdea"/><stop offset="0.61" stop-color="#e9d3ec"/><stop offset="0.65" stop-color="#eddaf0"/><stop offset="0.71" stop-color="#f1e2f3"/><stop offset="0.79" stop-color="#f2e4f4"/><stop offset="0.89" stop-color="#f2e5f4"/><stop offset="1" stop-color="#f2e5f4"/></linearGradient>
<linearGradient id="h157"><stop offset="0" stop-color="#f2e5f4"/><stop offset="0.1" stop-color="#f2e5f4"/><stop offset="0.2" stop-color="#f2e5f4"/><stop offset="0.28" stop-color="#f1e3f3"/><stop offset="0.35" stop-color="#f0e0f2"/><stop offset="0.41" stop-color="#efdef1"/><stop offset="0.46" stop-color="#efdef1"/><stop offset="0.495" stop-color="#eeddf1"/><stop offset="0.525" stop-color="#e8d0eb"/><stop offset="0.55" stop-color="#e6ccea"/><stop offset="0.575" stop-color="#e7ceeb"/><stop offset="0.61" stop-color="#e9d4ed"/><stop offset="0.65" stop-color="#eddbf0"/><stop offset="0.71" stop-color="#f1e3f3"/><stop offset="0.79" stop-color="#f2e5f4"/><stop offset="0.89" stop-color="#f2e5f4"/><stop offset="1" stop-color="#f2e5f4"/></linearGradient>
<linearGradient id="h158"><stop offset="0" stop-color="#f2e5f4"/><stop offset="0.1" stop-color="#f2e5f4"/><stop offset="0.2" stop-color="#f2e5f4"/><stop offset="0.28" stop-color="#f1e3f3"/><stop offset="0.35" stop-color="#f0e1f2"/><stop offset="0.41" stop-color="#efdff1"/><stop offset="0.46" stop-color="#efdef1"/><stop offset="0.495" stop-color="#efdef1"/><stop offset="0.525" stop-color="#e8d1ec"/><stop offset="0.55" stop-color="#e6ceea"/><stop offset="0.575" stop-color="#e7cfeb"/><stop offset="0.61" stop-color="#ead5ed"/><stop offset="0.65" stop-color="#eedcf0"/><stop offset="0.71" stop-color="#f1e3f3"/><stop offset="0.79" stop-color="#f2e5f4"/><stop offset="0.89" stop-color="#f2e5f4"/><stop offset="1" stop-color="#f2e5f4"/></linearGradient>
<linearGradient id="h159"><stop offset="0" stop-color="#f3e6f4"/><stop offset="0.1" stop-color="#f3e6f4"/><stop offset="0.2" stop-color="#f3e5f4"/><stop offset="0.28" stop-color="#f2e4f4"/><stop offset="0.35" stop-color="#f0e1f2"/><stop offset="0.41" stop-color="#efe0f2"/><stop offset="0.46" stop-color="#efdff2"/><stop offset="0.495" stop-color="#efdff1"/><stop offset="0.525" stop-color="#e9d2ec"/><stop offset="0.55" stop-color="#e7cfeb"/><stop offset="0.575" stop-color="#e8d1ec"/><stop offset="0.61" stop-color="#ead6ee"/><stop offset="0.65" stop-color="#eeddf1"/><stop offset="0.71" stop-color="#f2e4f3"/><stop offset="0.79" stop-color="#f3e6f4"/><stop offset="0.89" stop-color="#f3e6f4"/><stop offset="1" stop-color="#f3e6f4"/></linearGradient>
<linearGradient id="h160"><stop offset="0" stop-color="#f3e6f5"/><stop offset="0.1" stop-color="#f3e6f5"/><stop offset="0.2" stop-color="#f3e6f4"/><stop offset="0.28" stop-color="#f2e4f4"/><stop offset="0.35" stop-color="#f1e2f3"/><stop offset="0.41" stop-color="#f0e0f2"/><stop offset="0.46" stop-color="#f0e0f2"/><stop offset="0.495" stop-color="#efe0f2"/><stop offset="0.525" stop-color="#e9d3ed"/><stop offset="0.55" stop-color="#e8d0eb"/><stop offset="0.575" stop-color="#e9d2ec"/><stop offset="0.61" stop-color="#ebd7ee"/><stop offset="0.65" stop-color="#eeddf1"/><stop offset="0.71" stop-color="#f2e4f4"/><stop offset="0.79" stop-color="#f3e6f4"/><stop offset="0.89" stop-color="#f3e6f5"/><stop offset="1" stop-color="#f3e6f5"/></linearGradient>
<linearGradient id="h161"><stop offset="0" stop-color="#f3e7f5"/><stop offset="0.1" stop-color="#f3e7f5"/><stop offset="0.2" stop-color="#f3e6f5"/><stop offset="0.28" stop-color="#f2e5f4"/><stop offset="0.35" stop-color="#f1e2f3"/><stop offset="0.41" stop-color="#f0e1f2"/><stop offset="0.46" stop-color="#f0e0f2"/><stop offset="0.495" stop-color="#f0e0f2"/><stop offset="0.525" stop-color="#ead5ed"/><stop offset="0.55" stop-color="#e8d2ec"/><stop offset="0.575" stop-color="#e9d3ed"/><stop offset="0.61" stop-color="#ecd8ef"/><stop offset="0.65" stop-color="#efdef1"/><stop offset="0.71" stop-color="#f2e4f4"/><stop offset="0.79" stop-color="#f3e6f5"/><stop offset="0.89" stop-color="#f3e7f5"/><stop offset="1" stop-color="#f3e7f5"/></linearGradient>
<linearGradient id="h162"><stop offset="0" stop-color="#f3e7f5"/><stop offset="0.1" stop-color="#f3e7f5"/><stop offset="0.2" stop-color="#f3e7f5"/><stop offset="0.28" stop-color="#f2e5f4"/><stop offset="0.35" stop-color="#f1e3f3"/><stop offset="0.41" stop-color="#f1e2f3"/><stop offset="0.46" stop-color="#f0e1f2"/><stop offset="0.495" stop-color="#f0e1f2"/><stop offset="0.525" stop-color="#ebd6ee"/><stop offset="0.55" stop-color="#e9d3ed"/><stop offset="0.575" stop-color="#ead4ed"/><stop offset="0.61" stop-color="#ecd9ef"/><stop offset="0.65" stop-color="#efdff2"/><stop offset="0.71" stop-color="#f2e5f4"/><stop offset="0.79" stop-color="#f3e7f5"/><stop offset="0.89" stop-color="#f3e7f5"/><stop offset="1" stop-color="#f3e7f5"/></linearGradient>
<linearGradient id="h163"><stop offset="0" stop-color="#f3e7f5"/><stop offset="0.1" stop-color="#f3e7f5"/><stop offset="0.2" stop-color="#f3e7f5"/><stop offset="0.28" stop-color="#f3e6f4"/><stop offset="0.35" stop-color="#f2e4f3"/><stop offset="0.41" stop-color="#f1e2f3"/><stop offset="0.46" stop-color="#f1e2f3"/><stop offset="0.495" stop-color="#f1e2f3"/><stop offset="0.525" stop-color="#ebd7ee"/><stop offset="0.55" stop-color="#ead4ed"/><stop offset="0.575" stop-color="#ead6ee"/><stop offset="0.61" stop-color="#eddaef"/><stop offset="0.65" stop-color="#f0e0f2"/><stop offset="0.71" stop-color="#f2e5f4"/><stop offset="0.79" stop-color="#f3e7f5"/><stop offset="0.89" stop-color="#f3e7f5"/><stop offset="1" stop-color="#f3e7f5"/></linearGradient>
<linearGradient id="h164"><stop offset="0" stop-color="#f4e8f5"/><stop offset="0.1" stop-color="#f4e8f5"/><stop offset="0.2" stop-color="#f4e7f5"/><stop offset="0.28" stop-color="#f3e6f5"/><stop offset="0.35" stop-color="#f2e4f4"/><stop offset="0.41" stop-color="#f1e3f3"/><stop offset="0.46" stop-color="#f1e3f3"/><stop offset="0.495" stop-color="#f1e3f3"/><stop offset="0.525" stop-color="#ecd8ef"/><stop offset="0.55" stop-color="#ead6ee"/><stop offset="0.575" stop-color="#ebd7ee"/><stop offset="0.61" stop-color="#eddbf0"/><stop offset="0.65" stop-color="#f0e0f2"/><stop offset="0.71" stop-color="#f3e6f4"/><stop offset="0.79" stop-color="#f4e8f5"/><stop offset="0.89" stop-color="#f4e8f5"/><stop offset="1" stop-color="#f4e8f5"/></linearGradient>
<linearGradient id="h165"><stop offset="0" stop-color="#f4e8f5"/><stop offset="0.1" stop-color="#f4e8f5"/><stop offset="0.2" stop-color="#f4e8f5"/><stop offset="0.28" stop-color="#f3e7f5"/><stop offset="0.35" stop-color="#f2e5f4"/><stop offset="0.41" stop-color="#f2e4f3"/><stop offset="0.46" stop-color="#f1e3f3"/><stop offset="0.495" stop-color="#f1e3f3"/><stop offset="0.525" stop-color="#ecd9ef"/><stop offset="0.55" stop-color="#ebd7ee"/><stop offset="0.575" stop-color="#ecd8ef"/><stop offset="0.61" stop-color="#eedcf0"/><stop offset="0.65" stop-color="#f0e1f2"/><stop offset="0.71" stop-color="#f3e6f5"/><stop offset="0.79" stop-color="#f4e8f5"/><stop offset="0.89" stop-color="#f4e8f5"/><stop offset="1" stop-color="#f4e8f5"/></linearGradient>
<linearGradient id="h166"><stop offset="0" stop-color="#f4e8f6"/><stop offset="0.1" stop-color="#f4e8f6"/><stop offset="0.2" stop-color="#f4e8f5"/><stop offset="0.28" stop-color="#f3e7f5"/><stop offset="0.35" stop-color="#f3e5f4"/><stop offset="0.41" stop-color="#f2e4f4"/><stop offset="0.46" stop-color="#f2e4f4"/><stop offset="0.495" stop-color="#f2e4f4"/><stop offset="0.525" stop-color="#eddbf0"/><stop offset="0.55" stop-color="#ecd8ef"/><stop offset="0.575" stop-color="#ecd9ef"/><stop offset="0.61" stop-color="#eeddf1"/><stop offset="0.65" stop-color="#f1e2f3"/><stop offset="0.71" stop-color="#f3e7f5"/><stop offset="0.79" stop-color="#f4e8f5"/><stop offset="0.89" stop-color="#f4e8f6"/><stop offset="1" stop-color="#f4e8f6"/></linearGradient>
<linearGradient id="h167"><stop offset="0" stop-color="#f4e9f6"/><stop offset="0.1" stop-color="#f4e9f6"/><stop offset="0.2" stop-color="#f4e9f6"/><stop offset="0.28" stop-color="#f4e8f5"/><stop offset="0.35" stop-color="#f3e6f4"/><stop offset="0.41" stop-color="#f2e5f4"/><stop offset="0.46" stop-color="#f2e5f4"/><stop offset="0.495" stop-color="#f2e5f4"/><stop offset="0.525" stop-color="#eedcf0"/><stop offset="0.55" stop-color="#ecdaef"/><stop offset="0.575" stop-color="#eddbf0"/><stop offset="0.61" stop-color="#efdef1"/><stop offset="0.65" stop-color="#f1e3f3"/><stop offset="0.71" stop-color="#f3e7f5"/><stop offset="0.79" stop-color="#f4e9f6"/><stop offset="0.89" stop-color="#f4e9f6"/><stop offset="1" stop-color="#f4e9f6"/></linearGradient>
<linearGradient id="h168"><stop offset="0" stop-color="#f4e9f6"/><stop offset="0.1" stop-color="#f4e9f6"/><stop offset="0.2" stop-color="#f4e9f6"/><stop offset="0.28" stop-color="#f4e8f5"/><stop offset="0.35" stop-color="#f3e7f5"/><stop offset="0.41" stop-color="#f3e6f4"/><stop offset="0.46" stop-color="#f2e5f4"/><stop offset="0.495" stop-color="#f2e5f4"/><stop offset="0.525" stop-color="#eeddf1"/><stop offset="0.55" stop-color="#eddbf0"/><stop offset="0.575" stop-color="#eedcf0"/><stop offset="0.61" stop-color="#efdff2"/><stop offset="0.65" stop-color="#f1e3f3"/><stop offset="0.71" stop-color="#f4e8f5"/><stop offset="0.79" stop-color="#f4e9f6"/><stop offset="0.89" stop-color="#f4e9f6"/><stop offset="1" stop-color="#f4e9f6"/></linearGradient>
<linearGradient id="h169"><stop offset="0" stop-color="#d2a9d9"/><stop offset="0.1" stop-color="#d0a4d7"/><stop offset="0.2" stop-color="#c998d1"/><stop offset="0.28" stop-color="#c088c9"/><stop offset="0.35" stop-color="#b87cc3"/><stop offset="0.41" stop-color="#b476c0"/><stop offset="0.46" stop-color="#b475c0"/><stop offset="0.495" stop-color="#b77ac2"/><stop offset="0.525" stop-color="#994daa"/><stop offset="0.55" stop-color="#8b3c9e"/><stop offset="0.575" stop-color="#8d3e9f"/><stop offset="0.61" stop-color="#9042a2"/><stop offset="0.65" stop-color="#9345a4"/><stop offset="0.71" stop-color="#9649a7"/><stop offset="0.79" stop-color="#9d52ae"/><stop offset="0.89" stop-color="#a963b7"/><stop offset="1" stop-color="#b678c1"/></linearGradient>
<linearGradient id="h170"><stop offset="0" stop-color="#d3aad9"/><stop offset="0.1" stop-color="#d0a5d7"/><stop offset="0.2" stop-color="#ca99d1"/><stop offset="0.28" stop-color="#c18aca"/><stop offset="0.35" stop-color="#b97dc4"/><stop offset="0.41" stop-color="#b577c1"/><stop offset="0.46" stop-color="#b577c1"/><stop offset="0.495" stop-color="#b87cc3"/><stop offset="0.525" stop-color="#9a4eab"/><stop offset="0.55" stop-color="#8c3e9f"/><stop offset="0.575" stop-color="#8e3fa0"/><stop offset="0.61" stop-color="#9143a3"/><stop offset="0.65" stop-color="#9446a5"/><stop offset="0.71" stop-color="#984ba9"/><stop offset="0.79" stop-color="#9f54af"/><stop offset="0.89" stop-color="#ab67b9"/><stop offset="1" stop-color="#b97dc4"/></linearGradient>
<linearGradient id="h171"><stop offset="0" stop-color="#d3abda"/><stop offset="0.1" stop-color="#d1a6d7"/><stop offset="0.2" stop-color="#ca9ad2"/><stop offset="0.28" stop-color="#c28bcb"/><stop offset="0.35" stop-color="#ba7ec4"/><stop offset="0.41" stop-color="#b678c1"/><stop offset="0.46" stop-color="#b678c1"/><stop offset="0.495" stop-color="#b97dc4"/><stop offset="0.525" stop-color="#9b4fab"/><stop offset="0.55" stop-color="#8d3f9f"/><stop offset="0.575" stop-color="#8f41a1"/><stop offset="0.61" stop-color="#9244a4"/><stop offset="0.65" stop-color="#9548a6"/><stop offset="0.71" stop-color="#994daa"/><stop offset="0.79" stop-color="#a258b1"/><stop offset="0.89" stop-color="#ae6cbb"/><stop offset="1" stop-color="#bc82c6"/></linearGradient>
<linearGradient id="h172"><stop offset="0" stop-color="#d4acda"/><stop offset="0.1" stop-color="#d1a7d8"/><stop offset="0.2" stop-color="#cb9bd2"/><stop offset="0.28" stop-color="#c28ccb"/><stop offset="0.35" stop-color="#bb80c5"/><stop offset="0.41" stop-color="#b77ac2"/><stop offset="0.46" stop-color="#b779c2"/><stop offset="0.495" stop-color="#ba7ec4"/><stop offset="0.525" stop-color="#9c50ac"/><stop offset="0.55" stop-color="#8e40a0"/><stop offset="0.575" stop-color="#9042a2"/><stop offset="0.61" stop-color="#9346a5"/><stop offset="0.65" stop-color="#9649a7"/><stop offset="0.71" stop-color="#9b4fac"/><stop offset="0.79" stop-color="#a45cb3"/><stop offset="0.89" stop-color="#b271be"/><stop offset="1" stop-color="#c088c9"/></linearGradient>
<linearGradient id="h173"><stop offset="0" stop-color="#d4addb"/><stop offset="0.1" stop-color="#d2a8d8"/><stop offset="0.2" stop-color="#cc9cd3"/><stop offset="0.28" stop-color="#c38dcc"/><stop offset="0.35" stop-color="#bb81c6"/><stop offset="0.41" stop-color="#b87bc3"/><stop offset="0.46" stop-color="#b77bc3"/><stop offset="0.495" stop-color="#ba7fc5"/><stop offset="0.525" stop-color="#9d51ad"/><stop offset="0.55" stop-color="#8f41a1"/><stop offset="0.575" stop-color="#9143a2"/><stop offset="0.61" stop-color="#9447a5"/><stop offset="0.65" stop-color="#974ba8"/><stop offset="0.71" stop-color="#9d51ad"/><stop offset="0.79" stop-color="#a760b5"/><stop offset="0.89" stop-color="#b577c1"/><stop offset="1" stop-color="#c38ecc"/></linearGradient>
<linearGradient id="h174"><stop offset="0" stop-color="#d5aedb"/><stop offset="0.1" stop-color="#d3a9d9"/><stop offset="0.2" stop-color="#cc9dd3"/><stop offset="0.28" stop-color="#c48fcc"/><stop offset="0.35" stop-color="#bc82c6"/><stop offset="0.41" stop-color="#b97dc3"/><stop offset="0.46" stop-color="#b87cc3"/><stop offset="0.495" stop-color="#bb81c5"/><stop offset="0.525" stop-color="#9e52ae"/><stop offset="0.55" stop-color="#9042a2"/><stop offset="0.575" stop-color="#9244a3"/><stop offset="0.61" stop-color="#9548a6"/><stop offset="0.65" stop-color="#994ca9"/><stop offset="0.71" stop-color="#9f53af"/><stop offset="0.79" stop-color="#aa65b8"/><stop offset="0.89" stop-color="#b97dc4"/><stop offset="1" stop-color="#c794cf"/></linearGradient>
<linearGradient id="h175"><stop offset="0" stop-color="#d6afdc"/><stop offset="0.1" stop-color="#d3aad9"/><stop offset="0.2" stop-color="#cd9ed4"/><stop offset="0.28" stop-color="#c590cd"/><stop offset="0.35" stop-color="#bd84c7"/><stop offset="0.41" stop-color="#ba7ec4"/><stop offset="0.46" stop-color="#b97dc4"/><stop offset="0.495" stop-color="#bc82c6"/><stop offset="0.525" stop-color="#9e53af"/><stop offset="0.55" stop-color="#9143a3"/><stop offset="0.575" stop-color="#9345a4"/><stop offset="0.61" stop-color="#9649a7"/><stop offset="0.65" stop-color="#9a4eab"/><stop offset="0.71" stop-color="#a156b1"/><stop offset="0.79" stop-color="#ad6aba"/><stop offset="0.89" stop-color="#bd83c7"/><stop offset="1" stop-color="#ca9ad2"/></linearGradient>
<linearGradient id="h176"><stop offset="0" stop-color="#d6b0dc"/><stop offset="0.1" stop-color="#d4abda"/><stop offset="0.2" stop-color="#cd9fd4"/><stop offset="0.28" stop-color="#c691ce"/><stop offset="0.35" stop-color="#be85c8"/><stop offset="0.41" stop-color="#ba7fc5"/><stop offset="0.46" stop-color="#ba7fc5"/><stop offset="0.495" stop-color="#bd83c7"/><stop offset="0.525" stop-color="#9f54af"/><stop offset="0.55" stop-color="#9244a4"/><stop offset="0.575" stop-color="#9446a5"/><stop offset="0.61" stop-color="#974ba8"/><stop offset="0.65" stop-color="#9b4fac"/><stop offset="0.71" stop-color="#a35ab2"/><stop offset="0.79" stop-color="#b16fbd"/><stop offset="0.89" stop-color="#c18aca"/><stop offset="1" stop-color="#cd9fd4"/></linearGradient>
<linearGradient id="h177"><stop offset="0" stop-color="#d7b1dd"/><stop offset="0.1" stop-color="#d4acda"/><stop offset="0.2" stop-color="#cea1d5"/><stop offset="0.28" stop-color="#c692ce"/><stop offset="0.35" stop-color="#bf86c8"/><stop offset="0.41" stop-color="#bb81c5"/><stop offset="0.46" stop-color="#bb80c5"/><stop offset="0.495" stop-color="#be84c7"/><stop offset="0.525" stop-color="#a055b0"/><stop offset="0.55" stop-color="#9345a4"/><stop offset="0.575" stop-color="#9547a6"/><stop offset="0.61" stop-color="#984ca9"/><stop offset="0.65" stop-color="#9d51ad"/><stop offset="0.71" stop-color="#a65eb5"/><stop offset="0.79" stop-color="#b476c0"/><stop offset="0.89" stop-color="#c691ce"/><stop offset="1" stop-color="#d0a5d7"/></linearGradient>
<linearGradient id="h178"><stop offset="0" stop-color="#d7b2dd"/><stop offset="0.1" stop-color="#d5addb"/><stop offset="0.2" stop-color="#cfa2d5"/><stop offset="0.28" stop-color="#c794cf"/><stop offset="0.35" stop-color="#c088c9"/><stop offset="0.41" stop-color="#bc82c6"/><stop offset="0.46" stop-color="#bc81c6"/><stop offset="0.495" stop-color="#be86c8"/><stop offset="0.525" stop-color="#a157b1"/><stop offset="0.55" stop-color="#9447a5"/><stop offset="0.575" stop-color="#9648a7"/><stop offset="0.61" stop-color="#9a4daa"/><stop offset="0.65" stop-color="#9f53af"/><stop offset="0.71" stop-color="#a963b7"/><stop offset="0.79" stop-color="#b97dc4"/><stop offset="0.89" stop-color="#ca99d1"/><stop offset="1" stop-color="#d3aad9"/></linearGradient>
<linearGradient id="h179"><stop offset="0" stop-color="#d8b3dd"/><stop offset="0.1" stop-color="#d5aedb"/><stop offset="0.2" stop-color="#cfa3d6"/><stop offset="0.28" stop-color="#c795cf"/><stop offset="0.35" stop-color="#c089c9"/><stop offset="0.41" stop-color="#bd83c7"/><stop offset="0.46" stop-color="#bc83c6"/><stop offset="0.495" stop-color="#bf87c9"/><stop offset="0.525" stop-color="#a259b2"/><stop offset="0.55" stop-color="#9548a6"/><stop offset="0.575" stop-color="#974aa8"/><stop offset="0.61" stop-color="#9b4fab"/><stop offset="0.65" stop-color="#a055b0"/><stop offset="0.71" stop-color="#ab66b8"/><stop offset="0.79" stop-color="#bb80c5"/><stop offset="0.89" stop-color="#cb9bd2"/><stop offset="1" stop-color="#d4acda"/></linearGradient>
<linearGradient id="h180"><stop offset="0" stop-color="#d8b3de"/><stop offset="0.1" stop-color="#d6afdc"/><stop offset="0.2" stop-color="#cfa3d6"/><stop offset="0.28" stop-color="#c896d0"/><stop offset="0.35" stop-color="#c18aca"/><stop offset="0.41" stop-color="#bd84c7"/><stop offset="0.46" stop-color="#bd84c7"/><stop offset="0.495" stop-color="#c088c9"/><stop offset="0.525" stop-color="#a35ab3"/><stop offset="0.55" stop-color="#9649a7"/><stop offset="0.575" stop-color="#984ba9"/><stop offset="0.61" stop-color="#9c50ac"/><stop offset="0.65" stop-color="#a157b1"/><stop offset="0.71" stop-color="#ac69ba"/><stop offset="0.79" stop-color="#bd83c7"/><stop offset="0.89" stop-color="#cd9ed4"/><stop offset="1" stop-color="#d5aedb"/></linearGradient>
<linearGradient id="h181"><stop offset="0" stop-color="#d8b4de"/><stop offset="0.1" stop-color="#d6b0dc"/><stop offset="0.2" stop-color="#d0a4d7"/><stop offset="0.28" stop-color="#c897d0"/><stop offset="0.35" stop-color="#c28bcb"/><stop offset="0.41" stop-color="#be85c8"/><stop offset="0.46" stop-color="#be85c8"/><stop offset="0.495" stop-color="#c089ca"/><stop offset="0.525" stop-color="#a45cb3"/><stop offset="0.55" stop-color="#974ba8"/><stop offset="0.575" stop-color="#994caa"/><stop offset="0.61" stop-color="#9d52ad"/><stop offset="0.65" stop-color="#a35ab2"/><stop offset="0.71" stop-color="#ae6bbb"/><stop offset="0.79" stop-color="#bf86c8"/><stop offset="0.89" stop-color="#cea1d5"/><stop offset="1" stop-color="#d6afdc"/></linearGradient>
<linearGradient id="h182"><stop offset="0" stop-color="#d9b5df"/><stop offset="0.1" stop-color="#d6b0dc"/><stop offset="0.2" stop-color="#d0a5d7"/><stop offset="0.28" stop-color="#c997d1"/><stop offset="0.35" stop-color="#c28ccb"/><stop offset="0.41" stop-color="#bf87c8"/><stop offset="0.46" stop-color="#bf86c8"/><stop offset="0.495" stop-color="#c18aca"/><stop offset="0.525" stop-color="#a55db4"/><stop offset="0.55" stop-color="#984ca9"/><stop offset="0.575" stop-color="#9a4eab"/><stop offset="0.61" stop-color="#9e53af"/><stop offset="0.65" stop-color="#a45cb3"/><stop offset="0.71" stop-color="#b06ebc"/><stop offset="0.79" stop-color="#c18aca"/><stop offset="0.89" stop-color="#cfa3d6"/><stop offset="1" stop-color="#d7b1dd"/></linearGradient>
<linearGradient id="h183"><stop offset="0" stop-color="#d9b6df"/><stop offset="0.1" stop-color="#d7b1dd"/><stop offset="0.2" stop-color="#d1a6d8"/><stop offset="0.28" stop-color="#ca99d1"/><stop offset="0.35" stop-color="#c38dcc"/><stop offset="0.41" stop-color="#c088c9"/><stop offset="0.46" stop-color="#bf87c9"/><stop offset="0.495" stop-color="#c28ccb"/><stop offset="0.525" stop-color="#a65fb5"/><stop offset="0.55" stop-color="#994daa"/><stop offset="0.575" stop-color="#9b4fac"/><stop offset="0.61" stop-color="#a054b0"/><stop offset="0.65" stop-color="#a65eb5"/><stop offset="0.71" stop-color="#b271be"/><stop offset="0.79" stop-color="#c38dcb"/><stop offset="0.89" stop-color="#d1a6d8"/><stop offset="1" stop-color="#d8b3dd"/></linearGradient>
<linearGradient id="h184"><stop offset="0" stop-color="#dab6df"/><stop offset="0.1" stop-color="#d7b2dd"/><stop offset="0.2" stop-color="#d1a7d8"/><stop offset="0.28" stop-color="#ca9ad2"/><stop offset="0.35" stop-color="#c48fcc"/><stop offset="0.41" stop-color="#c189ca"/><stop offset="0.46" stop-color="#c089ca"/><stop offset="0.495" stop-color="#c38dcc"/><stop offset="0.525" stop-color="#a761b6"/><stop offset="0.55" stop-color="#9b4fab"/><stop offset="0.575" stop-color="#9c50ad"/><stop offset="0.61" stop-color="#a156b1"/><stop offset="0.65" stop-color="#a761b6"/><stop offset="0.71" stop-color="#b374bf"/><stop offset="0.79" stop-color="#c590cd"/><stop offset="0.89" stop-color="#d2a9d9"/><stop offset="1" stop-color="#d8b4de"/></linearGradient>
<linearGradient id="h185"><stop offset="0" stop-color="#dab7e0"/><stop offset="0.1" stop-color="#d8b3de"/><stop offset="0.2" stop-color="#d2a8d9"/><stop offset="0.28" stop-color="#cb9bd2"/><stop offset="0.35" stop-color="#c590cd"/><stop offset="0.41" stop-color="#c28bcb"/><stop offset="0.46" stop-color="#c18aca"/><stop offset="0.495" stop-color="#c48ecc"/><stop offset="0.525" stop-color="#a963b7"/><stop offset="0.55" stop-color="#9c50ac"/><stop offset="0.575" stop-color="#9d52ae"/><stop offset="0.61" stop-color="#a258b2"/><stop offset="0.65" stop-color="#a963b7"/><stop offset="0.71" stop-color="#b577c1"/><stop offset="0.79" stop-color="#c794cf"/><stop offset="0.89" stop-color="#d4abda"/><stop offset="1" stop-color="#d9b5df"/></linearGradient>
<linearGradient id="h186"><stop offset="0" stop-color="#dbb8e0"/><stop offset="0.1" stop-color="#d8b4de"/><stop offset="0.2" stop-color="#d3a9d9"/><stop offset="0.28" stop-color="#cc9cd3"/><stop offset="0.35" stop-color="#c692ce"/><stop offset="0.41" stop-color="#c38dcb"/><stop offset="0.46" stop-color="#c28ccb"/><stop offset="0.495" stop-color="#c590cd"/><stop offset="0.525" stop-color="#aa65b8"/><stop offset="0.55" stop-color="#9d51ad"/><stop offset="0.575" stop-color="#9e53af"/><stop offset="0.61" stop-color="#a35ab3"/><stop offset="0.65" stop-color="#aa65b8"/><stop offset="0.71" stop-color="#b77ac2"/><stop offset="0.79" stop-color="#c997d0"/><stop offset="0.89" stop-color="#d5aedb"/><stop offset="1" stop-color="#dab7df"/></linearGradient>
<linearGradient id="h187"><stop offset="0" stop-color="#dbb9e0"/><stop offset="0.1" stop-color="#d9b5de"/><stop offset="0.2" stop-color="#d3aada"/><stop offset="0.28" stop-color="#cc9ed4"/><stop offset="0.35" stop-color="#c793cf"/><stop offset="0.41" stop-color="#c48ecc"/><stop offset="0.46" stop-color="#c38ecc"/><stop offset="0.495" stop-color="#c691ce"/><stop offset="0.525" stop-color="#ab66b9"/><stop offset="0.55" stop-color="#9e53ae"/><stop offset="0.575" stop-color="#a054b0"/><stop offset="0.61" stop-color="#a55cb4"/><stop offset="0.65" stop-color="#ac68b9"/><stop offset="0.71" stop-color="#b97ec4"/><stop offset="0.79" stop-color="#ca9ad2"/><stop offset="0.89" stop-color="#d6b0dc"/><stop offset="1" stop-color="#dbb8e0"/></linearGradient>
<linearGradient id="h188"><stop offset="0" stop-color="#dbb9e1"/><stop offset="0.1" stop-color="#d9b5df"/><stop offset="0.2" stop-color="#d4abda"/><stop offset="0.28" stop-color="#cd9fd4"/><stop offset="0.35" stop-color="#c895cf"/><stop offset="0.41" stop-color="#c590cd"/><stop offset="0.46" stop-color="#c48fcd"/><stop offset="0.495" stop-color="#c693ce"/><stop offset="0.525" stop-color="#ac68b9"/><stop offset="0.55" stop-color="#9f54af"/><stop offset="0.575" stop-color="#a156b1"/><stop offset="0.61" stop-color="#a65eb5"/><stop offset="0.65" stop-color="#ad6abb"/><stop offset="0.71" stop-color="#bb81c6"/><stop offset="0.79" stop-color="#cc9dd3"/><stop offset="0.89" stop-color="#d7b2dd"/><stop offset="1" stop-color="#dbb9e1"/></linearGradient>
<linearGradient id="h189"><stop offset="0" stop-color="#dcbae1"/><stop offset="0.1" stop-color="#dab6df"/><stop offset="0.2" stop-color="#d4acdb"/><stop offset="0.28" stop-color="#cea0d5"/><stop offset="0.35" stop-color="#c896d0"/><stop offset="0.41" stop-color="#c692ce"/><stop offset="0.46" stop-color="#c591cd"/><stop offset="0.495" stop-color="#c794cf"/><stop offset="0.525" stop-color="#ad6aba"/><stop offset="0.55" stop-color="#a056b0"/><stop offset="0.575" stop-color="#a258b2"/><stop offset="0.61" stop-color="#a761b6"/><stop offset="0.65" stop-color="#af6dbc"/><stop offset="0.71" stop-color="#bd84c7"/><stop offset="0.79" stop-color="#cea1d5"/><stop offset="0.89" stop-color="#d9b4de"/><stop offset="1" stop-color="#dcbae1"/></linearGradient>
<linearGradient id="h190"><stop offset="0" stop-color="#dcbbe1"/><stop offset="0.1" stop-color="#dab7e0"/><stop offset="0.2" stop-color="#d5addb"/><stop offset="0.28" stop-color="#cea2d5"/><stop offset="0.35" stop-color="#c998d1"/><stop offset="0.41" stop-color="#c793cf"/><stop offset="0.46" stop-color="#c692ce"/><stop offset="0.495" stop-color="#c896d0"/><stop offset="0.525" stop-color="#ae6cbb"/><stop offset="0.55" stop-color="#a258b1"/><stop offset="0.575" stop-color="#a35ab2"/><stop offset="0.61" stop-color="#a963b7"/><stop offset="0.65" stop-color="#b170bd"/><stop offset="0.71" stop-color="#c088c9"/><stop offset="0.79" stop-color="#d0a4d6"/><stop offset="0.89" stop-color="#dab6df"/><stop offset="1" stop-color="#dcbbe2"/></linearGradient>
<linearGradient id="h191"><stop offset="0" stop-color="#ddbce2"/><stop offset="0.1" stop-color="#dbb8e0"/><stop offset="0.2" stop-color="#d5aedb"/><stop offset="0.28" stop-color="#cfa3d6"/><stop offset="0.35" stop-color="#ca99d1"/><stop offset="0.41" stop-color="#c795cf"/><stop offset="0.46" stop-color="#c794cf"/><stop offset="0.495" stop-color="#c997d0"/><stop offset="0.525" stop-color="#af6ebc"/><stop offset="0.55" stop-color="#a35ab2"/><stop offset="0.575" stop-color="#a45cb3"/><stop offset="0.61" stop-color="#aa65b8"/><stop offset="0.65" stop-color="#b273bf"/><stop offset="0.71" stop-color="#c28bcb"/><stop offset="0.79" stop-color="#d1a7d8"/><stop offset="0.89" stop-color="#dbb8e0"/><stop offset="1" stop-color="#ddbce2"/></linearGradient>
<linearGradient id="h192"><stop offset="0" stop-color="#ddbce2"/><stop offset="0.1" stop-color="#dbb9e0"/><stop offset="0.2" stop-color="#d6afdc"/><stop offset="0.28" stop-color="#d0a4d7"/><stop offset="0.35" stop-color="#cb9bd2"/><stop offset="0.41" stop-color="#c896d0"/><stop offset="0.46" stop-color="#c896d0"/><stop offset="0.495" stop-color="#c998d1"/><stop offset="0.525" stop-color="#b06fbd"/><stop offset="0.55" stop-color="#a45cb3"/><stop offset="0.575" stop-color="#a65eb4"/><stop offset="0.61" stop-color="#ab67b9"/><stop offset="0.65" stop-color="#b475c0"/><stop offset="0.71" stop-color="#c48fcc"/><stop offset="0.79" stop-color="#d3aada"/><stop offset="0.89" stop-color="#dcbae1"/><stop offset="1" stop-color="#ddbde3"/></linearGradient>
<linearGradient id="h193"><stop offset="0" stop-color="#ddbde3"/><stop offset="0.1" stop-color="#dcbae1"/><stop offset="0.2" stop-color="#d7b1dc"/><stop offset="0.28" stop-color="#d1a5d7"/><stop offset="0.35" stop-color="#cc9cd3"/><stop offset="0.41" stop-color="#c998d1"/><stop offset="0.46" stop-color="#c997d0"/><stop offset="0.495" stop-color="#ca9ad2"/><stop offset="0.525" stop-color="#b271be"/><stop offset="0.55" stop-color="#a55eb4"/><stop offset="0.575" stop-color="#a760b5"/><stop offset="0.61" stop-color="#ad69ba"/><stop offset="0.65" stop-color="#b678c1"/><stop offset="0.71" stop-color="#c591ce"/><stop offset="0.79" stop-color="#d4acda"/><stop offset="0.89" stop-color="#dcbbe1"/><stop offset="1" stop-color="#debee3"/></linearGradient>
<linearGradient id="h194"><stop offset="0" stop-color="#debee3"/><stop offset="0.1" stop-color="#dcbbe1"/><stop offset="0.2" stop-color="#d7b2dd"/><stop offset="0.28" stop-color="#d1a7d8"/><stop offset="0.35" stop-color="#cc9ed4"/><stop offset="0.41" stop-color="#ca99d2"/><stop offset="0.46" stop-color="#ca99d1"/><stop offset="0.495" stop-color="#cb9bd2"/><stop offset="0.525" stop-color="#b373bf"/><stop offset="0.55" stop-color="#a760b5"/><stop offset="0.575" stop-color="#a862b6"/><stop offset="0.61" stop-color="#ae6bbb"/><stop offset="0.65" stop-color="#b77ac2"/><stop offset="0.71" stop-color="#c793cf"/><stop offset="0.79" stop-color="#d5aedb"/><stop offset="0.89" stop-color="#ddbce2"/><stop offset="1" stop-color="#debfe3"/></linearGradient>
<linearGradient id="h195"><stop offset="0" stop-color="#debfe3"/><stop offset="0.1" stop-color="#dcbbe2"/><stop offset="0.2" stop-color="#d8b3dd"/><stop offset="0.28" stop-color="#d2a8d8"/><stop offset="0.35" stop-color="#cd9fd4"/><stop offset="0.41" stop-color="#cb9bd2"/><stop offset="0.46" stop-color="#ca9ad2"/><stop offset="0.495" stop-color="#cc9dd3"/><stop offset="0.525" stop-color="#b475c0"/><stop offset="0.55" stop-color="#a862b6"/><stop offset="0.575" stop-color="#a964b7"/><stop offset="0.61" stop-color="#af6dbc"/><stop offset="0.65" stop-color="#b87cc3"/><stop offset="0.71" stop-color="#c895cf"/><stop offset="0.79" stop-color="#d6afdc"/><stop offset="0.89" stop-color="#ddbde2"/><stop offset="1" stop-color="#dfc0e4"/></linearGradient>
<linearGradient id="h196"><stop offset="0" stop-color="#dfc0e4"/><stop offset="0.1" stop-color="#ddbce2"/><stop offset="0.2" stop-color="#d8b4de"/><stop offset="0.28" stop-color="#d3a9d9"/><stop offset="0.35" stop-color="#cea1d5"/><stop offset="0.41" stop-color="#cc9dd3"/><stop offset="0.46" stop-color="#cb9cd3"/><stop offset="0.495" stop-color="#cd9ed4"/><stop offset="0.525" stop-color="#b577c1"/><stop offset="0.55" stop-color="#a964b7"/><stop offset="0.575" stop-color="#ab66b8"/><stop offset="0.61" stop-color="#b06fbd"/><stop offset="0.65" stop-color="#b97ec4"/><stop offset="0.71" stop-color="#c997d0"/><stop offset="0.79" stop-color="#d7b1dd"/><stop offset="0.89" stop-color="#debee3"/><stop offset="1" stop-color="#dfc0e4"/></linearGradient>
<linearGradient id="h197"><stop offset="0" stop-color="#dfc0e4"/><stop offset="0.1" stop-color="#ddbde2"/><stop offset="0.2" stop-color="#d9b5de"/><stop offset="0.28" stop-color="#d3abda"/><stop offset="0.35" stop-color="#cfa2d6"/><stop offset="0.41" stop-color="#cd9ed4"/><stop offset="0.46" stop-color="#cc9dd3"/><stop offset="0.495" stop-color="#cd9fd4"/><stop offset="0.525" stop-color="#b779c2"/><stop offset="0.55" stop-color="#ab66b8"/><stop offset="0.575" stop-color="#ac68ba"/><stop offset="0.61" stop-color="#b271be"/><stop offset="0.65" stop-color="#bb80c5"/><stop offset="0.71" stop-color="#ca99d1"/><stop offset="0.79" stop-color="#d8b2dd"/><stop offset="0.89" stop-color="#debfe3"/><stop offset="1" stop-color="#e0c1e4"/></linearGradient>
<linearGradient id="h198"><stop offset="0" stop-color="#e0c1e4"/><stop offset="0.1" stop-color="#debee3"/><stop offset="0.2" stop-color="#d9b6df"/><stop offset="0.28" stop-color="#d4acda"/><stop offset="0.35" stop-color="#d0a4d6"/><stop offset="0.41" stop-color="#cda0d5"/><stop offset="0.46" stop-color="#cd9fd4"/><stop offset="0.495" stop-color="#cea1d5"/><stop offset="0.525" stop-color="#b87bc3"/><stop offset="0.55" stop-color="#ac68ba"/><stop offset="0.575" stop-color="#ad6abb"/><stop offset="0.61" stop-color="#b373bf"/><stop offset="0.65" stop-color="#bc82c6"/><stop offset="0.71" stop-color="#cb9bd2"/><stop offset="0.79" stop-color="#d8b4de"/><stop offset="0.89" stop-color="#dfc0e4"/><stop offset="1" stop-color="#e0c2e5"/></linearGradient>
<linearGradient id="h199"><stop offset="0" stop-color="#e0c2e5"/><stop offset="0.1" stop-color="#debfe3"/><stop offset="0.2" stop-color="#dab7df"/><stop offset="0.28" stop-color="#d5addb"/><stop offset="0.35" stop-color="#d0a5d7"/><stop offset="0.41" stop-color="#cea1d5"/><stop offset="0.46" stop-color="#cea1d5"/><stop offset="0.495" stop-color="#cfa2d6"/><stop offset="0.525" stop-color="#b97dc4"/><stop offset="0.55" stop-color="#ad6bbb"/><stop offset="0.575" stop-color="#af6dbc"/><stop offset="0.61" stop-color="#b476c0"/><stop offset="0.65" stop-color="#bd84c7"/><stop offset="0.71" stop-color="#cc9dd3"/><stop offset="0.79" stop-color="#d9b5df"/><stop offset="0.89" stop-color="#dfc1e4"/><stop offset="1" stop-color="#e0c3e5"/></linearGradient>
<linearGradient id="h200"><stop offset="0" stop-color="#e0c3e5"/><stop offset="0.1" stop-color="#dfc0e4"/><stop offset="0.2" stop-color="#dbb8e0"/><stop offset="0.28" stop-color="#d5aedc"/><stop offset="0.35" stop-color="#d1a7d8"/><stop offset="0.41" stop-color="#cfa3d6"/><stop offset="0.46" stop-color="#cfa2d6"/><stop offset="0.495" stop-color="#d0a4d6"/><stop offset="0.525" stop-color="#ba7fc5"/><stop offset="0.55" stop-color="#af6dbc"/><stop offset="0.575" stop-color="#b06fbd"/><stop offset="0.61" stop-color="#b678c1"/><stop offset="0.65" stop-color="#bf86c8"/><stop offset="0.71" stop-color="#cd9fd4"/><stop offset="0.79" stop-color="#dab7df"/><stop offset="0.89" stop-color="#e0c2e5"/><stop offset="1" stop-color="#e1c3e5"/></linearGradient>
<linearGradient id="h201"><stop offset="0" stop-color="#e1c3e5"/><stop offset="0.1" stop-color="#dfc0e4"/><stop offset="0.2" stop-color="#dbb9e0"/><stop offset="0.28" stop-color="#d6b0dc"/><stop offset="0.35" stop-color="#d2a8d9"/><stop offset="0.41" stop-color="#d0a5d7"/><stop offset="0.46" stop-color="#d0a4d6"/><stop offset="0.495" stop-color="#d0a5d7"/><stop offset="0.525" stop-color="#bb81c6"/><stop offset="0.55" stop-color="#b06fbd"/><stop offset="0.575" stop-color="#b171be"/><stop offset="0.61" stop-color="#b77ac2"/><stop offset="0.65" stop-color="#c088c9"/><stop offset="0.71" stop-color="#cea0d5"/><stop offset="0.79" stop-color="#dbb8e0"/><stop offset="0.89" stop-color="#e0c3e5"/><stop offset="1" stop-color="#e1c4e6"/></linearGradient>
<linearGradient id="h202"><stop offset="0" stop-color="#e1c4e6"/><stop offset="0.1" stop-color="#e0c1e4"/><stop offset="0.2" stop-color="#dcbae1"/><stop offset="0.28" stop-color="#d7b1dd"/><stop offset="0.35" stop-color="#d3aad9"/><stop offset="0.41" stop-color="#d1a6d8"/><stop offset="0.46" stop-color="#d0a5d7"/><stop offset="0.495" stop-color="#d1a7d8"/><stop offset="0.525" stop-color="#bd83c7"/><stop offset="0.55" stop-color="#b171be"/><stop offset="0.575" stop-color="#b373bf"/><stop offset="0.61" stop-color="#b87cc3"/><stop offset="0.65" stop-color="#c18aca"/><stop offset="0.71" stop-color="#cfa2d6"/><stop offset="0.79" stop-color="#dbb9e1"/><stop offset="0.89" stop-color="#e1c3e5"/><stop offset="1" stop-color="#e2c5e6"/></linearGradient>
<linearGradient id="h203"><stop offset="0" stop-color="#e2c5e6"/><stop offset="0.1" stop-color="#e0c2e5"/><stop offset="0.2" stop-color="#dcbbe1"/><stop offset="0.28" stop-color="#d8b2dd"/><stop offset="0.35" stop-color="#d4abda"/><stop offset="0.41" stop-color="#d2a8d8"/><stop offset="0.46" stop-color="#d1a7d8"/><stop offset="0.495" stop-color="#d2a8d9"/><stop offset="0.525" stop-color="#be85c8"/><stop offset="0.55" stop-color="#b373bf"/><stop offset="0.575" stop-color="#b475c0"/><stop offset="0.61" stop-color="#b97ec4"/><stop offset="0.65" stop-color="#c28ccb"/><stop offset="0.71" stop-color="#d0a4d7"/><stop offset="0.79" stop-color="#dcbbe1"/><stop offset="0.89" stop-color="#e1c4e6"/><stop offset="1" stop-color="#e2c6e7"/></linearGradient>
<linearGradient id="h204"><stop offset="0" stop-color="#e2c6e7"/><stop offset="0.1" stop-color="#e1c3e5"/><stop offset="0.2" stop-color="#ddbce2"/><stop offset="0.28" stop-color="#d8b4de"/><stop offset="0.35" stop-color="#d5addb"/><stop offset="0.41" stop-color="#d3a9d9"/><stop offset="0.46" stop-color="#d2a9d9"/><stop offset="0.495" stop-color="#d3aad9"/><stop offset="0.525" stop-color="#bf87c8"/><stop offset="0.55" stop-color="#b475c0"/><stop offset="0.575" stop-color="#b577c1"/><stop offset="0.61" stop-color="#bb80c5"/><stop offset="0.65" stop-color="#c48ecc"/><stop offset="0.71" stop-color="#d1a6d8"/><stop offset="0.79" stop-color="#ddbce2"/><stop offset="0.89" stop-color="#e2c5e6"/><stop offset="1" stop-color="#e2c6e7"/></linearGradient>
<linearGradient id="h205"><stop offset="0" stop-color="#e2c6e7"/><stop offset="0.1" stop-color="#e1c4e6"/><stop offset="0.2" stop-color="#ddbde2"/><stop offset="0.28" stop-color="#d9b5df"/><stop offset="0.35" stop-color="#d5aedb"/><stop offset="0.41" stop-color="#d4abda"/><stop offset="0.46" stop-color="#d3aad9"/><stop offset="0.495" stop-color="#d4abda"/><stop offset="0.525" stop-color="#c089c9"/><stop offset="0.55" stop-color="#b577c1"/><stop offset="0.575" stop-color="#b679c2"/><stop offset="0.61" stop-color="#bc82c6"/><stop offset="0.65" stop-color="#c590cd"/><stop offset="0.71" stop-color="#d2a8d8"/><stop offset="0.79" stop-color="#debee3"/><stop offset="0.89" stop-color="#e2c6e7"/><stop offset="1" stop-color="#e3c7e7"/></linearGradient>
<linearGradient id="h206"><stop offset="0" stop-color="#e3c7e7"/><stop offset="0.1" stop-color="#e2c5e6"/><stop offset="0.2" stop-color="#debee3"/><stop offset="0.28" stop-color="#dab6df"/><stop offset="0.35" stop-color="#d6b0dc"/><stop offset="0.41" stop-color="#d4addb"/><stop offset="0.46" stop-color="#d4acda"/><stop offset="0.495" stop-color="#d4addb"/><stop offset="0.525" stop-color="#c18bca"/><stop offset="0.55" stop-color="#b77ac2"/><stop offset="0.575" stop-color="#b87bc3"/><stop offset="0.61" stop-color="#bd84c7"/><stop offset="0.65" stop-color="#c692ce"/><stop offset="0.71" stop-color="#d3aad9"/><stop offset="0.79" stop-color="#debfe3"/><stop offset="0.89" stop-color="#e3c7e7"/><stop offset="1" stop-color="#e3c8e8"/></linearGradient>
<linearGradient id="h207"><stop offset="0" stop-color="#e3c8e8"/><stop offset="0.1" stop-color="#e2c6e6"/><stop offset="0.2" stop-color="#dfbfe3"/><stop offset="0.28" stop-color="#dab8e0"/><stop offset="0.35" stop-color="#d7b1dd"/><stop offset="0.41" stop-color="#d5aedb"/><stop offset="0.46" stop-color="#d5addb"/><stop offset="0.495" stop-color="#d5aedb"/><stop offset="0.525" stop-color="#c38dcb"/><stop offset="0.55" stop-color="#b87cc3"/><stop offset="0.575" stop-color="#b97ec4"/><stop offset="0.61" stop-color="#bf86c8"/><stop offset="0.65" stop-color="#c795cf"/><stop offset="0.71" stop-color="#d4acda"/><stop offset="0.79" stop-color="#dfc0e4"/><stop offset="0.89" stop-color="#e3c8e8"/><stop offset="1" stop-color="#e4c9e8"/></linearGradient>
<linearGradient id="h208"><stop offset="0" stop-color="#e4c9e8"/><stop offset="0.1" stop-color="#e2c6e7"/><stop offset="0.2" stop-color="#dfc0e4"/><stop offset="0.28" stop-color="#dbb9e0"/><stop offset="0.35" stop-color="#d8b3de"/><stop offset="0.41" stop-color="#d6b0dc"/><stop offset="0.46" stop-color="#d6afdc"/><stop offset="0.495" stop-color="#d6b0dc"/><stop offset="0.525" stop-color="#c48fcd"/><stop offset="0.55" stop-color="#ba7fc5"/><stop offset="0.575" stop-color="#bb80c5"/><stop offset="0.61" stop-color="#c089ca"/><stop offset="0.65" stop-color="#c997d0"/><stop offset="0.71" stop-color="#d5aedb"/><stop offset="0.79" stop-color="#e0c2e5"/><stop offset="0.89" stop-color="#e4c9e8"/><stop offset="1" stop-color="#e4c9e8"/></linearGradient>
<linearGradient id="h209"><stop offset="0" stop-color="#e4cae8"/><stop offset="0.1" stop-color="#e3c7e7"/><stop offset="0.2" stop-color="#e0c1e4"/><stop offset="0.28" stop-color="#dcbae1"/><stop offset="0.35" stop-color="#d9b4de"/><stop offset="0.41" stop-color="#d7b2dd"/><stop offset="0.46" stop-color="#d7b1dd"/><stop offset="0.495" stop-color="#d7b1dd"/><stop offset="0.525" stop-color="#c692ce"/><stop offset="0.55" stop-color="#bc82c6"/><stop offset="0.575" stop-color="#bd83c7"/><stop offset="0.61" stop-color="#c28bcb"/><stop offset="0.65" stop-color="#ca99d2"/><stop offset="0.71" stop-color="#d6b0dc"/><stop offset="0.79" stop-color="#e1c3e5"/><stop offset="0.89" stop-color="#e4cae8"/><stop offset="1" stop-color="#e4cae9"/></linearGradient>
<linearGradient id="h210"><stop offset="0" stop-color="#e5cae9"/><stop offset="0.1" stop-color="#e3c8e8"/><stop offset="0.2" stop-color="#e0c2e5"/><stop offset="0.28" stop-color="#ddbce2"/><stop offset="0.35" stop-color="#d9b6df"/><stop offset="0.41" stop-color="#d8b3de"/><stop offset="0.46" stop-color="#d7b2dd"/><stop offset="0.495" stop-color="#d8b3de"/><stop offset="0.525" stop-color="#c794cf"/><stop offset="0.55" stop-color="#bd84c7"/><stop offset="0.575" stop-color="#be86c8"/><stop offset="0.61" stop-color="#c48ecc"/><stop offset="0.65" stop-color="#cb9cd3"/><stop offset="0.71" stop-color="#d7b2dd"/><stop offset="0.79" stop-color="#e1c4e6"/><stop offset="0.89" stop-color="#e5cae9"/><stop offset="1" stop-color="#e5cbe9"/></linearGradient>
<linearGradient id="h211"><stop offset="0" stop-color="#e5cbe9"/><stop offset="0.1" stop-color="#e4c9e8"/><stop offset="0.2" stop-color="#e1c4e6"/><stop offset="0.28" stop-color="#ddbde2"/><stop offset="0.35" stop-color="#dab7e0"/><stop offset="0.41" stop-color="#d9b5df"/><stop offset="0.46" stop-color="#d8b4de"/><stop offset="0.495" stop-color="#d9b5de"/><stop offset="0.525" stop-color="#c896d0"/><stop offset="0.55" stop-color="#bf87c9"/><stop offset="0.575" stop-color="#c088c9"/><stop offset="0.61" stop-color="#c591cd"/><stop offset="0.65" stop-color="#cd9ed4"/><stop offset="0.71" stop-color="#d8b4de"/><stop offset="0.79" stop-color="#e2c6e6"/><stop offset="0.89" stop-color="#e5cbe9"/><stop offset="1" stop-color="#e5cce9"/></linearGradient>
<linearGradient id="h212"><stop offset="0" stop-color="#e5cce9"/><stop offset="0.1" stop-color="#e4cae9"/><stop offset="0.2" stop-color="#e1c5e6"/><stop offset="0.28" stop-color="#debee3"/><stop offset="0.35" stop-color="#dbb9e0"/><stop offset="0.41" stop-color="#dab6df"/><stop offset="0.46" stop-color="#d9b5df"/><stop offset="0.495" stop-color="#dab6df"/><stop offset="0.525" stop-color="#ca99d1"/><stop offset="0.55" stop-color="#c18aca"/><stop offset="0.575" stop-color="#c28bcb"/><stop offset="0.61" stop-color="#c793cf"/><stop offset="0.65" stop-color="#cea1d5"/><stop offset="0.71" stop-color="#d9b6df"/><stop offset="0.79" stop-color="#e3c7e7"/><stop offset="0.89" stop-color="#e5ccea"/><stop offset="1" stop-color="#e6ccea"/></linearGradient>
<linearGradient id="h213"><stop offset="0" stop-color="#e6cdea"/><stop offset="0.1" stop-color="#e5cbe9"/><stop offset="0.2" stop-color="#e2c6e7"/><stop offset="0.28" stop-color="#dfbfe4"/><stop offset="0.35" stop-color="#dcbae1"/><stop offset="0.41" stop-color="#dbb8e0"/><stop offset="0.46" stop-color="#dab7e0"/><stop offset="0.495" stop-color="#dbb8e0"/><stop offset="0.525" stop-color="#cb9bd2"/><stop offset="0.55" stop-color="#c38ccb"/><stop offset="0.575" stop-color="#c38ecc"/><stop offset="0.61" stop-color="#c896d0"/><stop offset="0.65" stop-color="#cfa3d6"/><stop offset="0.71" stop-color="#dab8e0"/><stop offset="0.79" stop-color="#e3c8e8"/><stop offset="0.89" stop-color="#e6cdea"/><stop offset="1" stop-color="#e6cdea"/></linearGradient>
<linearGradient id="h214"><stop offset="0" stop-color="#e6cdea"/><stop offset="0.1" stop-color="#e5cce9"/><stop offset="0.2" stop-color="#e3c7e7"/><stop offset="0.28" stop-color="#dfc1e4"/><stop offset="0.35" stop-color="#ddbce2"/><stop offset="0.41" stop-color="#dbbae1"/><stop offset="0.46" stop-color="#dbb9e0"/><stop offset="0.495" stop-color="#dbb9e1"/><stop offset="0.525" stop-color="#cc9dd3"/><stop offset="0.55" stop-color="#c48fcd"/><stop offset="0.575" stop-color="#c590cd"/><stop offset="0.61" stop-color="#c998d1"/><stop offset="0.65" stop-color="#d0a5d7"/><stop offset="0.71" stop-color="#dbbae1"/><stop offset="0.79" stop-color="#e4c9e8"/><stop offset="0.89" stop-color="#e6cdea"/><stop offset="1" stop-color="#e6ceea"/></linearGradient>
<linearGradient id="h215"><stop offset="0" stop-color="#e6ceea"/><stop offset="0.1" stop-color="#e6ccea"/><stop offset="0.2" stop-color="#e3c8e8"/><stop offset="0.28" stop-color="#e0c2e5"/><stop offset="0.35" stop-color="#debde3"/><stop offset="0.41" stop-color="#dcbbe2"/><stop offset="0.46" stop-color="#dcbae1"/><stop offset="0.495" stop-color="#dcbbe1"/><stop offset="0.525" stop-color="#cd9fd4"/><stop offset="0.55" stop-color="#c692ce"/><stop offset="0.575" stop-color="#c793ce"/><stop offset="0.61" stop-color="#cb9bd2"/><stop offset="0.65" stop-color="#d2a8d8"/><stop offset="0.71" stop-color="#dcbbe2"/><stop offset="0.79" stop-color="#e5cae9"/><stop offset="0.89" stop-color="#e7ceea"/><stop offset="1" stop-color="#e7ceeb"/></linearGradient>
<linearGradient id="h216"><stop offset="0" stop-color="#e7ceeb"/><stop offset="0.1" stop-color="#e6cdea"/><stop offset="0.2" stop-color="#e4c8e8"/><stop offset="0.28" stop-color="#e1c3e5"/><stop offset="0.35" stop-color="#debee3"/><stop offset="0.41" stop-color="#ddbce2"/><stop offset="0.46" stop-color="#dcbbe2"/><stop offset="0.495" stop-color="#ddbce2"/><stop offset="0.525" stop-color="#cea1d5"/><stop offset="0.55" stop-color="#c794cf"/><stop offset="0.575" stop-color="#c795cf"/><stop offset="0.61" stop-color="#cc9cd3"/><stop offset="0.65" stop-color="#d3a9d9"/><stop offset="0.71" stop-color="#ddbde2"/><stop offset="0.79" stop-color="#e5cbe9"/><stop offset="0.89" stop-color="#e7ceeb"/><stop offset="1" stop-color="#e7cfeb"/></linearGradient>
<linearGradient id="h217" x1="0" y1="0" x2="0" y2="1"><stop offset="0" stop-color="#ecd9ef"/><stop offset="0.2" stop-color="#f0e0f2"/><stop offset="1" stop-color="#f5e9f6"/></linearGradient>
<linearGradient id="h218"><stop offset="0" stop-color="#f9d7d8"/><stop offset="0.1" stop-color="#f9d7d8"/><stop offset="0.2" stop-color="#f9d7d7"/><stop offset="0.28" stop-color="#f8d3d3"/><stop offset="0.35" stop-color="#f7cbcc"/><stop offset="0.41" stop-color="#f6c8c8"/><stop offset="0.46" stop-color="#f7cecf"/><stop offset="0.495" stop-color="#f7cfd0"/><stop offset="0.525" stop-color="#f4b7b8"/><stop offset="0.55" stop-color="#f2aaab"/><stop offset="0.575" stop-color="#f3aeae"/><stop offset="0.61" stop-color="#f5bebf"/><stop offset="0.65" stop-color="#f7d0d0"/><stop offset="0.71" stop-color="#f9d7d7"/><stop offset="0.79" stop-color="#f9d7d8"/><stop offset="0.89" stop-color="#f9d7d8"/><stop offset="1" stop-color="#f9d7d8"/></linearGradient>
<linearGradient id="h219"><stop offset="0" stop-color="#f9d8d8"/><stop offset="0.1" stop-color="#f9d8d8"/><stop offset="0.2" stop-color="#f9d7d7"/><stop offset="0.28" stop-color="#f8d3d4"/><stop offset="0.35" stop-color="#f7cccc"/><stop offset="0.41" stop-color="#f6c8c9"/><stop offset="0.46" stop-color="#f7cecf"/><stop offset="0.495" stop-color="#f7cfd0"/><stop offset="0.525" stop-color="#f4b8b9"/><stop offset="0.55" stop-color="#f2abab"/><stop offset="0.575" stop-color="#f3aeaf"/><stop offset="0.61" stop-color="#f5bebf"/><stop offset="0.65" stop-color="#f7d0d1"/><stop offset="0.71" stop-color="#f9d7d7"/><stop offset="0.79" stop-color="#f9d8d8"/><stop offset="0.89" stop-color="#f9d8d8"/><stop offset="1" stop-color="#f9d8d8"/></linearGradient>
<linearGradient id="h220"><stop offset="0" stop-color="#f9d8d8"/><stop offset="0.1" stop-color="#f9d8d8"/><stop offset="0.2" stop-color="#f9d7d8"/><stop offset="0.28" stop-color="#f8d3d4"/><stop offset="0.35" stop-color="#f7cccd"/><stop offset="0.41" stop-color="#f6c9ca"/><stop offset="0.46" stop-color="#f7cfcf"/><stop offset="0.495" stop-color="#f7d0d0"/><stop offset="0.525" stop-color="#f4b9b9"/><stop offset="0.55" stop-color="#f2acac"/><stop offset="0.575" stop-color="#f3afaf"/><stop offset="0.61" stop-color="#f5bfc0"/><stop offset="0.65" stop-color="#f7d0d1"/><stop offset="0.71" stop-color="#f9d7d8"/><stop offset="0.79" stop-color="#f9d8d8"/><stop offset="0.89" stop-color="#f9d8d8"/><stop offset="1" stop-color="#f9d8d8"/></linearGradient>
<linearGradient id="h221"><stop offset="0" stop-color="#f9d8d8"/><stop offset="0.1" stop-color="#f9d8d8"/><stop offset="0.2" stop-color="#f9d7d8"/><stop offset="0.28" stop-color="#f8d4d4"/><stop offset="0.35" stop-color="#f7cdce"/><stop offset="0.41" stop-color="#f7cacb"/><stop offset="0.46" stop-color="#f7cfd0"/><stop offset="0.495" stop-color="#f7d0d1"/><stop offset="0.525" stop-color="#f4b9ba"/><stop offset="0.55" stop-color="#f3adad"/><stop offset="0.575" stop-color="#f3b0b0"/><stop offset="0.61" stop-color="#f5c0c0"/><stop offset="0.65" stop-color="#f8d0d1"/><stop offset="0.71" stop-color="#f9d7d8"/><stop offset="0.79" stop-color="#f9d8d8"/><stop offset="0.89" stop-color="#f9d8d8"/><stop offset="1" stop-color="#f9d8d8"/></linearGradient>
<linearGradient id="h222"><stop offset="0" stop-color="#f9d8d9"/><stop offset="0.1" stop-color="#f9d8d9"/><stop offset="0.2" stop-color="#f9d8d8"/><stop offset="0.28" stop-color="#f8d4d5"/><stop offset="0.35" stop-color="#f7cdce"/><stop offset="0.41" stop-color="#f7cbcb"/><stop offset="0.46" stop-color="#f7cfd0"/><stop offset="0.495" stop-color="#f8d0d1"/><stop offset="0.525" stop-color="#f4babb"/><stop offset="0.55" stop-color="#f3adae"/><stop offset="0.575" stop-color="#f3b0b1"/><stop offset="0.61" stop-color="#f5c0c1"/><stop offset="0.65" stop-color="#f8d1d1"/><stop offset="0.71" stop-color="#f9d8d8"/><stop offset="0.79" stop-color="#f9d8d9"/><stop offset="0.89" stop-color="#f9d8d9"/><stop offset="1" stop-color="#f9d8d9"/></linearGradient>
<linearGradient id="h223"><stop offset="0" stop-color="#f9d8d9"/><stop offset="0.1" stop-color="#f9d8d9"/><stop offset="0.2" stop-color="#f9d8d8"/><stop offset="0.28" stop-color="#f8d4d5"/><stop offset="0.35" stop-color="#f7cecf"/><stop offset="0.41" stop-color="#f7cbcc"/><stop offset="0.46" stop-color="#f7d0d1"/><stop offset="0.495" stop-color="#f8d1d1"/><stop offset="0.525" stop-color="#f4bbbb"/><stop offset="0.55" stop-color="#f3aeaf"/><stop offset="0.575" stop-color="#f3b1b2"/><stop offset="0.61" stop-color="#f5c1c1"/><stop offset="0.65" stop-color="#f8d1d2"/><stop offset="0.71" stop-color="#f9d8d8"/><stop offset="0.79" stop-color="#f9d8d9"/><stop offset="0.89" stop-color="#f9d8d9"/><stop offset="1" stop-color="#f9d8d9"/></linearGradient>
<linearGradient id="h224"><stop offset="0" stop-color="#f9d9d9"/><stop offset="0.1" stop-color="#f9d9d9"/><stop offset="0.2" stop-color="#f9d8d9"/><stop offset="0.28" stop-color="#f8d5d5"/><stop offset="0.35" stop-color="#f7cecf"/><stop offset="0.41" stop-color="#f7cccd"/><stop offset="0.46" stop-color="#f8d0d1"/><stop offset="0.495" stop-color="#f8d1d2"/><stop offset="0.525" stop-color="#f5bbbc"/><stop offset="0.55" stop-color="#f3afaf"/><stop offset="0.575" stop-color="#f3b2b2"/><stop offset="0.61" stop-color="#f5c1c2"/><stop offset="0.65" stop-color="#f8d1d2"/><stop offset="0.71" stop-color="#f9d8d8"/><stop offset="0.79" stop-color="#f9d9d9"/><stop offset="0.89" stop-color="#f9d9d9"/><stop offset="1" stop-color="#f9d9d9"/></linearGradient>
<linearGradient id="h225"><stop offset="0" stop-color="#f9d9d9"/><stop offset="0.1" stop-color="#f9d9d9"/><stop offset="0.2" stop-color="#f9d8d9"/><stop offset="0.28" stop-color="#f8d5d5"/><stop offset="0.35" stop-color="#f7cfd0"/><stop offset="0.41" stop-color="#f7cdce"/><stop offset="0.46" stop-color="#f8d1d1"/><stop offset="0.495" stop-color="#f8d1d2"/><stop offset="0.525" stop-color="#f5bcbd"/><stop offset="0.55" stop-color="#f3b0b0"/><stop offset="0.575" stop-color="#f3b3b3"/><stop offset="0.61" stop-color="#f5c2c3"/><stop offset="0.65" stop-color="#f8d1d2"/><stop offset="0.71" stop-color="#f9d8d9"/><stop offset="0.79" stop-color="#f9d9d9"/><stop offset="0.89" stop-color="#f9d9d9"/><stop offset="1" stop-color="#f9d9d9"/></linearGradient>
<linearGradient id="h226"><stop offset="0" stop-color="#f9d9d9"/><stop offset="0.1" stop-color="#f9d9d9"/><stop offset="0.2" stop-color="#f9d9d9"/><stop offset="0.28" stop-color="#f8d5d6"/><stop offset="0.35" stop-color="#f7cfd0"/><stop offset="0.41" stop-color="#f7cdce"/><stop offset="0.46" stop-color="#f8d1d2"/><stop offset="0.495" stop-color="#f8d2d2"/><stop offset="0.525" stop-color="#f5bdbd"/><stop offset="0.55" stop-color="#f3b0b1"/><stop offset="0.575" stop-color="#f3b3b4"/><stop offset="0.61" stop-color="#f6c2c3"/><stop offset="0.65" stop-color="#f8d2d3"/><stop offset="0.71" stop-color="#f9d8d9"/><stop offset="0.79" stop-color="#f9d9d9"/><stop offset="0.89" stop-color="#f9d9d9"/><stop offset="1" stop-color="#f9d9d9"/></linearGradient>
<linearGradient id="h227"><stop offset="0" stop-color="#f9d9da"/><stop offset="0.1" stop-color="#f9d9da"/><stop offset="0.2" stop-color="#f9d9d9"/><stop offset="0.28" stop-color="#f8d6d6"/><stop offset="0.35" stop-color="#f7d0d1"/><stop offset="0.41" stop-color="#f7cecf"/><stop offset="0.46" stop-color="#f8d1d2"/><stop offset="0.495" stop-color="#f8d2d3"/><stop offset="0.525" stop-color="#f5bdbe"/><stop offset="0.55" stop-color="#f3b1b2"/><stop offset="0.575" stop-color="#f4b4b5"/><stop offset="0.61" stop-color="#f6c3c4"/><stop offset="0.65" stop-color="#f8d2d3"/><stop offset="0.71" stop-color="#f9d9d9"/><stop offset="0.79" stop-color="#f9d9da"/><stop offset="0.89" stop-color="#f9d9da"/><stop offset="1" stop-color="#f9d9da"/></linearGradient>
<linearGradient id="h228"><stop offset="0" stop-color="#f9dada"/><stop offset="0.1" stop-color="#f9dada"/><stop offset="0.2" stop-color="#f9d9d9"/><stop offset="0.28" stop-color="#f8d6d6"/><stop offset="0.35" stop-color="#f8d0d1"/><stop offset="0.41" stop-color="#f7cecf"/><stop offset="0.46" stop-color="#f8d2d3"/><stop offset="0.495" stop-color="#f8d2d3"/><stop offset="0.525" stop-color="#f5bebf"/><stop offset="0.55" stop-color="#f3b2b2"/><stop offset="0.575" stop-color="#f4b5b5"/><stop offset="0.61" stop-color="#f6c4c4"/><stop offset="0.65" stop-color="#f8d2d3"/><stop offset="0.71" stop-color="#f9d9d9"/><stop offset="0.79" stop-color="#f9dada"/><stop offset="0.89" stop-color="#f9dada"/><stop offset="1" stop-color="#f9dada"/></linearGradient>
<linearGradient id="h229"><stop offset="0" stop-color="#f9dada"/><stop offset="0.1" stop-color="#f9dada"/><stop offset="0.2" stop-color="#f9d9da"/><stop offset="0.28" stop-color="#f8d6d7"/><stop offset="0.35" stop-color="#f8d1d2"/><stop offset="0.41" stop-color="#f7cfd0"/><stop offset="0.46" stop-color="#f8d2d3"/><stop offset="0.495" stop-color="#f8d3d3"/><stop offset="0.525" stop-color="#f5bfbf"/><stop offset="0.55" stop-color="#f3b3b3"/><stop offset="0.575" stop-color="#f4b6b6"/><stop offset="0.61" stop-color="#f6c4c5"/><stop offset="0.65" stop-color="#f8d3d3"/><stop offset="0.71" stop-color="#f9d9d9"/><stop offset="0.79" stop-color="#f9dada"/><stop offset="0.89" stop-color="#f9dada"/><stop offset="1" stop-color="#f9dada"/></linearGradient>
<linearGradient id="h230"><stop offset="0" stop-color="#f9dada"/><stop offset="0.1" stop-color="#f9dada"/><stop offset="0.2" stop-color="#f9d9da"/><stop offset="0.28" stop-color="#f9d7d7"/><stop offset="0.35" stop-color="#f8d1d2"/><stop offset="0.41" stop-color="#f7d0d0"/><stop offset="0.46" stop-color="#f8d3d3"/><stop offset="0.495" stop-color="#f8d3d4"/><stop offset="0.525" stop-color="#f5bfc0"/><stop offset="0.55" stop-color="#f4b4b4"/><stop offset="0.575" stop-color="#f4b6b7"/><stop offset="0.61" stop-color="#f6c5c5"/><stop offset="0.65" stop-color="#f8d3d4"/><stop offset="0.71" stop-color="#f9d9da"/><stop offset="0.79" stop-color="#f9dada"/><stop offset="0.89" stop-color="#f9dada"/><stop offset="1" stop-color="#f9dada"/></linearGradient>
<linearGradient id="h231"><stop offset="0" stop-color="#f9dada"/><stop offset="0.1" stop-color="#f9dada"/><stop offset="0.2" stop-color="#f9dada"/><stop offset="0.28" stop-color="#f9d7d7"/><stop offset="0.35" stop-color="#f8d2d2"/><stop offset="0.41" stop-color="#f7d0d1"/><stop offset="0.46" stop-color="#f8d3d4"/><stop offset="0.495" stop-color="#f8d3d4"/><stop offset="0.525" stop-color="#f5c0c1"/><stop offset="0.55" stop-color="#f4b4b5"/><stop offset="0.575" stop-color="#f4b7b8"/><stop offset="0.61" stop-color="#f6c5c6"/><stop offset="0.65" stop-color="#f8d3d4"/><stop offset="0.71" stop-color="#f9dada"/><stop offset="0.79" stop-color="#f9dada"/><stop offset="0.89" stop-color="#f9dada"/><stop offset="1" stop-color="#f9dada"/></linearGradient>
<linearGradient id="h232"><stop offset="0" stop-color="#f9dadb"/><stop offset="0.1" stop-color="#f9dadb"/><stop offset="0.2" stop-color="#f9dada"/><stop offset="0.28" stop-color="#f9d7d8"/><stop offset="0.35" stop-color="#f8d2d3"/><stop offset="0.41" stop-color="#f8d1d1"/><stop offset="0.46" stop-color="#f8d4d4"/><stop offset="0.495" stop-color="#f8d4d4"/><stop offset="0.525" stop-color="#f5c1c1"/><stop offset="0.55" stop-color="#f4b5b6"/><stop offset="0.575" stop-color="#f4b8b8"/><stop offset="0.61" stop-color="#f6c6c7"/><stop offset="0.65" stop-color="#f8d3d4"/><stop offset="0.71" stop-color="#f9dada"/><stop offset="0.79" stop-color="#f9dadb"/><stop offset="0.89" stop-color="#f9dadb"/><stop offset="1" stop-color="#f9dadb"/></linearGradient>
<linearGradient id="h233"><stop offset="0" stop-color="#f9dbdb"/><stop offset="0.1" stop-color="#f9dbdb"/><stop offset="0.2" stop-color="#f9dada"/><stop offset="0.28" stop-color="#f9d7d8"/><stop offset="0.35" stop-color="#f8d3d3"/><stop offset="0.41" stop-color="#f8d1d2"/><stop offset="0.46" stop-color="#f8d4d5"/><stop offset="0.495" stop-color="#f8d4d5"/><stop offset="0.525" stop-color="#f5c1c2"/><stop offset="0.55" stop-color="#f4b6b6"/><stop offset="0.575" stop-color="#f4b8b9"/><stop offset="0.61" stop-color="#f6c6c7"/><stop offset="0.65" stop-color="#f8d4d4"/><stop offset="0.71" stop-color="#f9dada"/><stop offset="0.79" stop-color="#f9dbdb"/><stop offset="0.89" stop-color="#f9dbdb"/><stop offset="1" stop-color="#f9dbdb"/></linearGradient>
<linearGradient id="h234"><stop offset="0" stop-color="#f9dbdb"/><stop offset="0.1" stop-color="#f9dbdb"/><stop offset="0.2" stop-color="#f9dadb"/><stop offset="0.28" stop-color="#f9d8d8"/><stop offset="0.35" stop-color="#f8d3d4"/><stop offset="0.41" stop-color="#f8d2d2"/><stop offset="0.46" stop-color="#f8d4d5"/><stop offset="0.495" stop-color="#f8d4d5"/><stop offset="0.525" stop-color="#f5c2c3"/><stop offset="0.55" stop-color="#f4b7b7"/><stop offset="0.575" stop-color="#f4b9ba"/><stop offset="0.61" stop-color="#f6c7c8"/><stop offset="0.65" stop-color="#f8d4d5"/><stop offset="0.71" stop-color="#f9dada"/><stop offset="0.79" stop-color="#f9dbdb"/><stop offset="0.89" stop-color="#f9dbdb"/><stop offset="1" stop-color="#f9dbdb"/></linearGradient>
<linearGradient id="h235"><stop offset="0" stop-color="#f9dbdb"/><stop offset="0.1" stop-color="#f9dbdb"/><stop offset="0.2" stop-color="#f9dbdb"/><stop offset="0.28" stop-color="#f9d8d8"/><stop offset="0.35" stop-color="#f8d4d4"/><stop offset="0.41" stop-color="#f8d2d3"/><stop offset="0.46" stop-color="#f8d5d5"/><stop offset="0.495" stop-color="#f8d5d5"/><stop offset="0.525" stop-color="#f6c3c3"/><stop offset="0.55" stop-color="#f4b7b8"/><stop offset="0.575" stop-color="#f4babb"/><stop offset="0.61" stop-color="#f6c7c8"/><stop offset="0.65" stop-color="#f8d4d5"/><stop offset="0.71" stop-color="#f9dadb"/><stop offset="0.79" stop-color="#f9dbdb"/><stop offset="0.89" stop-color="#f9dbdb"/><stop offset="1" stop-color="#f9dbdb"/></linearGradient>
<linearGradient id="h236"><stop offset="0" stop-color="#f9dbdb"/><stop offset="0.1" stop-color="#f9dbdb"/><stop offset="0.2" stop-color="#f9dbdb"/><stop offset="0.28" stop-color="#f9d8d9"/><stop offset="0.35" stop-color="#f8d4d5"/><stop offset="0.41" stop-color="#f8d3d3"/><stop offset="0.46" stop-color="#f8d5d6"/><stop offset="0.495" stop-color="#f8d5d6"/><stop offset="0.525" stop-color="#f6c3c4"/><stop offset="0.55" stop-color="#f4b8b9"/><stop offset="0.575" stop-color="#f4bbbb"/><stop offset="0.61" stop-color="#f6c8c9"/><stop offset="0.65" stop-color="#f8d5d5"/><stop offset="0.71" stop-color="#f9dbdb"/><stop offset="0.79" stop-color="#f9dbdb"/><stop offset="0.89" stop-color="#f9dbdb"/><stop offset="1" stop-color="#f9dbdb"/></linearGradient>
<linearGradient id="h237"><stop offset="0" stop-color="#f9dbdc"/><stop offset="0.1" stop-color="#f9dbdc"/><stop offset="0.2" stop-color="#f9dbdb"/><stop offset="0.28" stop-color="#f9d9d9"/><stop offset="0.35" stop-color="#f8d5d5"/><stop offset="0.41" stop-color="#f8d3d4"/><stop offset="0.46" stop-color="#f8d6d6"/><stop offset="0.495" stop-color="#f8d5d6"/><stop offset="0.525" stop-color="#f6c4c5"/><stop offset="0.55" stop-color="#f4b9b9"/><stop offset="0.575" stop-color="#f5bbbc"/><stop offset="0.61" stop-color="#f6c9ca"/><stop offset="0.65" stop-color="#f8d5d5"/><stop offset="0.71" stop-color="#f9dbdb"/><stop offset="0.79" stop-color="#f9dbdc"/><stop offset="0.89" stop-color="#f9dbdc"/><stop offset="1" stop-color="#f9dbdc"/></linearGradient>
<linearGradient id="h238"><stop offset="0" stop-color="#f9dcdc"/><stop offset="0.1" stop-color="#f9dcdc"/><stop offset="0.2" stop-color="#f9dbdb"/><stop offset="0.28" stop-color="#f9d9d9"/><stop offset="0.35" stop-color="#f8d5d5"/><stop offset="0.41" stop-color="#f8d4d4"/><stop offset="0.46" stop-color="#f8d6d6"/><stop offset="0.495" stop-color="#f8d6d6"/><stop offset="0.525" stop-color="#f6c5c5"/><stop offset="0.55" stop-color="#f4baba"/><stop offset="0.575" stop-color="#f5bcbd"/><stop offset="0.61" stop-color="#f6c9ca"/><stop offset="0.65" stop-color="#f8d5d6"/><stop offset="0.71" stop-color="#f9dbdb"/><stop offset="0.79" stop-color="#f9dcdc"/><stop offset="0.89" stop-color="#f9dcdc"/><stop offset="1" stop-color="#f9dcdc"/></linearGradient>
<linearGradient id="h239"><stop offset="0" stop-color="#f9dcdc"/><stop offset="0.1" stop-color="#f9dcdc"/><stop offset="0.2" stop-color="#f9dbdc"/><stop offset="0.28" stop-color="#f9d9da"/><stop offset="0.35" stop-color="#f8d5d6"/><stop offset="0.41" stop-color="#f8d4d5"/><stop offset="0.46" stop-color="#f9d6d7"/><stop offset="0.495" stop-color="#f8d6d7"/><stop offset="0.525" stop-color="#f6c5c6"/><stop offset="0.55" stop-color="#f4babb"/><stop offset="0.575" stop-color="#f5bdbd"/><stop offset="0.61" stop-color="#f7cacb"/><stop offset="0.65" stop-color="#f8d5d6"/><stop offset="0.71" stop-color="#f9dbdb"/><stop offset="0.79" stop-color="#f9dcdc"/><stop offset="0.89" stop-color="#f9dcdc"/><stop offset="1" stop-color="#f9dcdc"/></linearGradient>
<linearGradient id="h240"><stop offset="0" stop-color="#f9dcdc"/><stop offset="0.1" stop-color="#f9dcdc"/><stop offset="0.2" stop-color="#f9dcdc"/><stop offset="0.28" stop-color="#f9dada"/><stop offset="0.35" stop-color="#f8d6d6"/><stop offset="0.41" stop-color="#f8d5d5"/><stop offset="0.46" stop-color="#f9d7d7"/><stop offset="0.495" stop-color="#f9d6d7"/><stop offset="0.525" stop-color="#f6c6c7"/><stop offset="0.55" stop-color="#f5bbbc"/><stop offset="0.575" stop-color="#f5bdbe"/><stop offset="0.61" stop-color="#f7cacb"/><stop offset="0.65" stop-color="#f8d6d6"/><stop offset="0.71" stop-color="#f9dbdc"/><stop offset="0.79" stop-color="#f9dcdc"/><stop offset="0.89" stop-color="#f9dcdc"/><stop offset="1" stop-color="#f9dcdc"/></linearGradient>
<linearGradient id="h241"><stop offset="0" stop-color="#f9dcdc"/><stop offset="0.1" stop-color="#f9dcdc"/><stop offset="0.2" stop-color="#f9dcdc"/><stop offset="0.28" stop-color="#f9dada"/><stop offset="0.35" stop-color="#f8d6d7"/><stop offset="0.41" stop-color="#f8d5d6"/><stop offset="0.46" stop-color="#f9d7d8"/><stop offset="0.495" stop-color="#f9d7d7"/><stop offset="0.525" stop-color="#f6c6c7"/><stop offset="0.55" stop-color="#f5bcbc"/><stop offset="0.575" stop-color="#f5bebf"/><stop offset="0.61" stop-color="#f7cbcc"/><stop offset="0.65" stop-color="#f8d6d6"/><stop offset="0.71" stop-color="#f9dcdc"/><stop offset="0.79" stop-color="#f9dcdc"/><stop offset="0.89" stop-color="#f9dcdc"/><stop offset="1" stop-color="#f9dcdc"/></linearGradient>
<linearGradient id="h242"><stop offset="0" stop-color="#f9dcdd"/><stop offset="0.1" stop-color="#f9dcdd"/><stop offset="0.2" stop-color="#f9dcdc"/><stop offset="0.28" stop-color="#f9dada"/><stop offset="0.35" stop-color="#f9d7d7"/><stop offset="0.41" stop-color="#f8d5d6"/><stop offset="0.46" stop-color="#f9d7d8"/><stop offset="0.495" stop-color="#f9d7d7"/><stop offset="0.525" stop-color="#f6c7c8"/><stop offset="0.55" stop-color="#f5bdbd"/><stop offset="0.575" stop-color="#f5bfc0"/><stop offset="0.61" stop-color="#f7cbcc"/><stop offset="0.65" stop-color="#f8d6d7"/><stop offset="0.71" stop-color="#f9dcdc"/><stop offset="0.79" stop-color="#f9dcdd"/><stop offset="0.89" stop-color="#f9dcdd"/><stop offset="1" stop-color="#f9dcdd"/></linearGradient>
<linearGradient id="h243"><stop offset="0" stop-color="#fadddd"/><stop offset="0.1" stop-color="#fadddd"/><stop offset="0.2" stop-color="#f9dcdc"/><stop offset="0.28" stop-color="#f9dadb"/><stop offset="0.35" stop-color="#f9d7d7"/><stop offset="0.41" stop-color="#f8d6d6"/><stop offset="0.46" stop-color="#f9d8d8"/><stop offset="0.495" stop-color="#f9d7d8"/><stop offset="0.525" stop-color="#f6c8c9"/><stop offset="0.55" stop-color="#f5bdbe"/><stop offset="0.575" stop-color="#f5c0c0"/><stop offset="0.61" stop-color="#f7cccd"/><stop offset="0.65" stop-color="#f9d7d7"/><stop offset="0.71" stop-color="#f9dcdc"/><stop offset="0.79" stop-color="#fadddd"/><stop offset="0.89" stop-color="#fadddd"/><stop offset="1" stop-color="#fadddd"/></linearGradient>
<linearGradient id="h244"><stop offset="0" stop-color="#fadddd"/><stop offset="0.1" stop-color="#fadddd"/><stop offset="0.2" stop-color="#fadddd"/><stop offset="0.28" stop-color="#f9dbdb"/><stop offset="0.35" stop-color="#f9d7d8"/><stop offset="0.41" stop-color="#f9d6d7"/><stop offset="0.46" stop-color="#f9d8d9"/><stop offset="0.495" stop-color="#f9d8d8"/><stop offset="0.525" stop-color="#f6c8c9"/><stop offset="0.55" stop-color="#f5bebf"/><stop offset="0.575" stop-color="#f5c0c1"/><stop offset="0.61" stop-color="#f7cccd"/><stop offset="0.65" stop-color="#f9d7d7"/><stop offset="0.71" stop-color="#f9dcdc"/><stop offset="0.79" stop-color="#fadddd"/><stop offset="0.89" stop-color="#fadddd"/><stop offset="1" stop-color="#fadddd"/></linearGradient>
<linearGradient id="h245"><stop offset="0" stop-color="#fadddd"/><stop offset="0.1" stop-color="#fadddd"/><stop offset="0.2" stop-color="#fadddd"/><stop offset="0.28" stop-color="#f9dbdb"/><stop offset="0.35" stop-color="#f9d8d8"/><stop offset="0.41" stop-color="#f9d7d7"/><stop offset="0.46" stop-color="#f9d9d9"/><stop offset="0.495" stop-color="#f9d8d8"/><stop offset="0.525" stop-color="#f6c9ca"/><stop offset="0.55" stop-color="#f5bfbf"/><stop offset="0.575" stop-color="#f5c1c2"/><stop offset="0.61" stop-color="#f7cdce"/><stop offset="0.65" stop-color="#f9d7d8"/><stop offset="0.71" stop-color="#fadcdd"/><stop offset="0.79" stop-color="#fadddd"/><stop offset="0.89" stop-color="#fadddd"/><stop offset="1" stop-color="#fadddd"/></linearGradient>
<linearGradient id="h246"><stop offset="0" stop-color="#fadddd"/><stop offset="0.1" stop-color="#fadddd"/><stop offset="0.2" stop-color="#fadddd"/><stop offset="0.28" stop-color="#f9dbdb"/><stop offset="0.35" stop-color="#f9d8d9"/><stop offset="0.41" stop-color="#f9d7d8"/><stop offset="0.46" stop-color="#f9d9d9"/><stop offset="0.495" stop-color="#f9d8d9"/><stop offset="0.525" stop-color="#f7cacb"/><stop offset="0.55" stop-color="#f5bfc0"/><stop offset="0.575" stop-color="#f5c2c2"/><stop offset="0.61" stop-color="#f7cdce"/><stop offset="0.65" stop-color="#f9d7d8"/><stop offset="0.71" stop-color="#fadddd"/><stop offset="0.79" stop-color="#fadddd"/><stop offset="0.89" stop-color="#fadddd"/><stop offset="1" stop-color="#fadddd"/></linearGradient>
<linearGradient id="h247"><stop offset="0" stop-color="#faddde"/><stop offset="0.1" stop-color="#faddde"/><stop offset="0.2" stop-color="#fadddd"/><stop offset="0.28" stop-color="#f9dcdc"/><stop offset="0.35" stop-color="#f9d9d9"/><stop offset="0.41" stop-color="#f9d8d8"/><stop offset="0.46" stop-color="#f9d9da"/><stop offset="0.495" stop-color="#f9d9d9"/><stop offset="0.525" stop-color="#f7cacb"/><stop offset="0.55" stop-color="#f5c0c1"/><stop offset="0.575" stop-color="#f6c2c3"/><stop offset="0.61" stop-color="#f7cecf"/><stop offset="0.65" stop-color="#f9d8d8"/><stop offset="0.71" stop-color="#fadddd"/><stop offset="0.79" stop-color="#faddde"/><stop offset="0.89" stop-color="#faddde"/><stop offset="1" stop-color="#faddde"/></linearGradient>
<linearGradient id="h248"><stop offset="0" stop-color="#fadede"/><stop offset="0.1" stop-color="#fadede"/><stop offset="0.2" stop-color="#faddde"/><stop offset="0.28" stop-color="#f9dcdc"/><stop offset="0.35" stop-color="#f9d9da"/><stop offset="0.41" stop-color="#f9d8d9"/><stop offset="0.46" stop-color="#f9dada"/><stop offset="0.495" stop-color="#f9d9d9"/><stop offset="0.525" stop-color="#f7cbcc"/><stop offset="0.55" stop-color="#f5c1c2"/><stop offset="0.575" stop-color="#f6c3c4"/><stop offset="0.61" stop-color="#f7cecf"/><stop offset="0.65" stop-color="#f9d8d8"/><stop offset="0.71" stop-color="#fadddd"/><stop offset="0.79" stop-color="#fadede"/><stop offset="0.89" stop-color="#fadede"/><stop offset="1" stop-color="#fadede"/></linearGradient>
<linearGradient id="h249"><stop offset="0" stop-color="#fadede"/><stop offset="0.1" stop-color="#fadede"/><stop offset="0.2" stop-color="#fadede"/><stop offset="0.28" stop-color="#f9dcdc"/><stop offset="0.35" stop-color="#f9dada"/><stop offset="0.41" stop-color="#f9d9d9"/><stop offset="0.46" stop-color="#f9dada"/><stop offset="0.495" stop-color="#f9d9da"/><stop offset="0.525" stop-color="#f7cccd"/><stop offset="0.55" stop-color="#f5c2c3"/><stop offset="0.575" stop-color="#f6c4c5"/><stop offset="0.61" stop-color="#f7cfd0"/><stop offset="0.65" stop-color="#f9d8d9"/><stop offset="0.71" stop-color="#fadede"/><stop offset="0.79" stop-color="#fadede"/><stop offset="0.89" stop-color="#fadede"/><stop offset="1" stop-color="#fadede"/></linearGradient>
<linearGradient id="h250"><stop offset="0" stop-color="#fadede"/><stop offset="0.1" stop-color="#fadede"/><stop offset="0.2" stop-color="#fadede"/><stop offset="0.28" stop-color="#fadddd"/><stop offset="0.35" stop-color="#f9dada"/><stop offset="0.41" stop-color="#f9d9da"/><stop offset="0.46" stop-color="#f9dbdb"/><stop offset="0.495" stop-color="#f9dada"/><stop offset="0.525" stop-color="#f7cccd"/><stop offset="0.55" stop-color="#f6c3c4"/><stop offset="0.575" stop-color="#f6c5c6"/><stop offset="0.61" stop-color="#f7cfd0"/><stop offset="0.65" stop-color="#f9d9d9"/><stop offset="0.71" stop-color="#fadede"/><stop offset="0.79" stop-color="#fadede"/><stop offset="0.89" stop-color="#fadede"/><stop offset="1" stop-color="#fadede"/></linearGradient>
<linearGradient id="h251"><stop offset="0" stop-color="#fadfdf"/><stop offset="0.1" stop-color="#fadfdf"/><stop offset="0.2" stop-color="#fadede"/><stop offset="0.28" stop-color="#fadddd"/><stop offset="0.35" stop-color="#f9dbdb"/><stop offset="0.41" stop-color="#f9dada"/><stop offset="0.46" stop-color="#f9dbdb"/><stop offset="0.495" stop-color="#f9dada"/><stop offset="0.525" stop-color="#f7cdce"/><stop offset="0.55" stop-color="#f6c4c4"/><stop offset="0.575" stop-color="#f6c6c6"/><stop offset="0.61" stop-color="#f7d0d1"/><stop offset="0.65" stop-color="#f9d9d9"/><stop offset="0.71" stop-color="#fadede"/><stop offset="0.79" stop-color="#fadfdf"/><stop offset="0.89" stop-color="#fadfdf"/><stop offset="1" stop-color="#fadfdf"/></linearGradient>
<linearGradient id="h252"><stop offset="0" stop-color="#fadfdf"/><stop offset="0.1" stop-color="#fadfdf"/><stop offset="0.2" stop-color="#fadfdf"/><stop offset="0.28" stop-color="#faddde"/><stop offset="0.35" stop-color="#f9dbdb"/><stop offset="0.41" stop-color="#f9dadb"/><stop offset="0.46" stop-color="#f9dcdc"/><stop offset="0.495" stop-color="#f9dbdb"/><stop offset="0.525" stop-color="#f7cecf"/><stop offset="0.55" stop-color="#f6c4c5"/><stop offset="0.575" stop-color="#f6c6c7"/><stop offset="0.61" stop-color="#f8d0d1"/><stop offset="0.65" stop-color="#f9d9da"/><stop offset="0.71" stop-color="#fadede"/><stop offset="0.79" stop-color="#fadfdf"/><stop offset="0.89" stop-color="#fadfdf"/><stop offset="1" stop-color="#fadfdf"/></linearGradient>
<linearGradient id="h253"><stop offset="0" stop-color="#fadfdf"/><stop offset="0.1" stop-color="#fadfdf"/><stop offset="0.2" stop-color="#fadfdf"/><stop offset="0.28" stop-color="#fadede"/><stop offset="0.35" stop-color="#f9dcdc"/><stop offset="0.41" stop-color="#f9dbdb"/><stop offset="0.46" stop-color="#f9dcdc"/><stop offset="0.495" stop-color="#f9dbdb"/><stop offset="0.525" stop-color="#f7cecf"/><stop offset="0.55" stop-color="#f6c5c6"/><stop offset="0.575" stop-color="#f6c7c8"/><stop offset="0.61" stop-color="#f8d1d2"/><stop offset="0.65" stop-color="#f9dada"/><stop offset="0.71" stop-color="#fadfdf"/><stop offset="0.79" stop-color="#fadfdf"/><stop offset="0.89" stop-color="#fadfdf"/><stop offset="1" stop-color="#fadfdf"/></linearGradient>
<linearGradient id="h254"><stop offset="0" stop-color="#fadfdf"/><stop offset="0.1" stop-color="#fadfdf"/><stop offset="0.2" stop-color="#fadfdf"/><stop offset="0.28" stop-color="#fadede"/><stop offset="0.35" stop-color="#f9dcdc"/><stop offset="0.41" stop-color="#f9dbdc"/><stop offset="0.46" stop-color="#fadcdd"/><stop offset="0.495" stop-color="#f9dbdc"/><stop offset="0.525" stop-color="#f7cfd0"/><stop offset="0.55" stop-color="#f6c6c7"/><stop offset="0.575" stop-color="#f6c8c9"/><stop offset="0.61" stop-color="#f8d1d2"/><stop offset="0.65" stop-color="#f9dada"/><stop offset="0.71" stop-color="#fadfdf"/><stop offset="0.79" stop-color="#fadfdf"/><stop offset="0.89" stop-color="#fadfdf"/><stop offset="1" stop-color="#fadfdf"/></linearGradient>
<linearGradient id="h255"><stop offset="0" stop-color="#fae0e0"/><stop offset="0.1" stop-color="#fae0e0"/><stop offset="0.2" stop-color="#fae0e0"/><stop offset="0.28" stop-color="#fadedf"/><stop offset="0.35" stop-color="#fadddd"/><stop offset="0.41" stop-color="#f9dcdc"/><stop offset="0.46" stop-color="#fadddd"/><stop offset="0.495" stop-color="#f9dcdc"/><stop offset="0.525" stop-color="#f7cfd0"/><stop offset="0.55" stop-color="#f6c7c8"/><stop offset="0.575" stop-color="#f6c9ca"/><stop offset="0.61" stop-color="#f8d2d2"/><stop offset="0.65" stop-color="#f9dadb"/><stop offset="0.71" stop-color="#fadfdf"/><stop offset="0.79" stop-color="#fae0e0"/><stop offset="0.89" stop-color="#fae0e0"/><stop offset="1" stop-color="#fae0e0"/></linearGradient>
<linearGradient id="h256"><stop offset="0" stop-color="#fae0e0"/><stop offset="0.1" stop-color="#fae0e0"/><stop offset="0.2" stop-color="#fae0e0"/><stop offset="0.28" stop-color="#fadfdf"/><stop offset="0.35" stop-color="#fadddd"/><stop offset="0.41" stop-color="#fadddd"/><stop offset="0.46" stop-color="#fadddd"/><stop offset="0.495" stop-color="#f9dcdc"/><stop offset="0.525" stop-color="#f7d0d1"/><stop offset="0.55" stop-color="#f6c8c9"/><stop offset="0.575" stop-color="#f7cacb"/><stop offset="0.61" stop-color="#f8d2d3"/><stop offset="0.65" stop-color="#f9dbdb"/><stop offset="0.71" stop-color="#fae0e0"/><stop offset="0.79" stop-color="#fae0e0"/><stop offset="0.89" stop-color="#fae0e0"/><stop offset="1" stop-color="#fae0e0"/></linearGradient>
<linearGradient id="h257"><stop offset="0" stop-color="#fae0e0"/><stop offset="0.1" stop-color="#fae0e0"/><stop offset="0.2" stop-color="#fae0e0"/><stop offset="0.28" stop-color="#fadfdf"/><stop offset="0.35" stop-color="#fadede"/><stop offset="0.41" stop-color="#fadddd"/><stop offset="0.46" stop-color="#fadede"/><stop offset="0.495" stop-color="#fadcdd"/><stop offset="0.525" stop-color="#f8d0d1"/><stop offset="0.55" stop-color="#f6c9ca"/><stop offset="0.575" stop-color="#f7cacb"/><stop offset="0.61" stop-color="#f8d3d3"/><stop offset="0.65" stop-color="#f9dbdb"/><stop offset="0.71" stop-color="#fae0e0"/><stop offset="0.79" stop-color="#fae0e0"/><stop offset="0.89" stop-color="#fae0e0"/><stop offset="1" stop-color="#fae0e0"/></linearGradient>
<linearGradient id="h258"><stop offset="0" stop-color="#fae1e0"/><stop offset="0.1" stop-color="#fae1e0"/><stop offset="0.2" stop-color="#fae0e0"/><stop offset="0.28" stop-color="#fae0e0"/><stop offset="0.35" stop-color="#fadede"/><stop offset="0.41" stop-color="#fadede"/><stop offset="0.46" stop-color="#fadede"/><stop offset="0.495" stop-color="#fadddd"/><stop offset="0.525" stop-color="#f8d1d2"/><stop offset="0.55" stop-color="#f7caca"/><stop offset="0.575" stop-color="#f7cbcc"/><stop offset="0.61" stop-color="#f8d3d4"/><stop offset="0.65" stop-color="#f9dcdc"/><stop offset="0.71" stop-color="#fae0e0"/><stop offset="0.79" stop-color="#fae1e0"/><stop offset="0.89" stop-color="#fae1e0"/><stop offset="1" stop-color="#fae1e0"/></linearGradient>
<linearGradient id="h259"><stop offset="0" stop-color="#fae1e1"/><stop offset="0.1" stop-color="#fae1e1"/><stop offset="0.2" stop-color="#fae1e1"/><stop offset="0.28" stop-color="#fae0e0"/><stop offset="0.35" stop-color="#fadfdf"/><stop offset="0.41" stop-color="#fadede"/><stop offset="0.46" stop-color="#fadfdf"/><stop offset="0.495" stop-color="#fadddd"/><stop offset="0.525" stop-color="#f8d2d2"/><stop offset="0.55" stop-color="#f7cbcc"/><stop offset="0.575" stop-color="#f7cdce"/><stop offset="0.61" stop-color="#f8d4d4"/><stop offset="0.65" stop-color="#f9dcdc"/><stop offset="0.71" stop-color="#fae0e0"/><stop offset="0.79" stop-color="#fae1e1"/><stop offset="0.89" stop-color="#fae1e1"/><stop offset="1" stop-color="#fae1e1"/></linearGradient>
<linearGradient id="h260"><stop offset="0" stop-color="#fae1e1"/><stop offset="0.1" stop-color="#fae1e1"/><stop offset="0.2" stop-color="#fae1e1"/><stop offset="0.28" stop-color="#fae0e0"/><stop offset="0.35" stop-color="#fadfdf"/><stop offset="0.41" stop-color="#fadfdf"/><stop offset="0.46" stop-color="#fadfdf"/><stop offset="0.495" stop-color="#fadede"/><stop offset="0.525" stop-color="#f8d2d3"/><stop offset="0.55" stop-color="#f7cccd"/><stop offset="0.575" stop-color="#f7cecf"/><stop offset="0.61" stop-color="#f8d4d5"/><stop offset="0.65" stop-color="#fadcdd"/><stop offset="0.71" stop-color="#fae1e1"/><stop offset="0.79" stop-color="#fae1e1"/><stop offset="0.89" stop-color="#fae1e1"/><stop offset="1" stop-color="#fae1e1"/></linearGradient>
<linearGradient id="h261"><stop offset="0" stop-color="#fae1e1"/><stop offset="0.1" stop-color="#fae1e1"/><stop offset="0.2" stop-color="#fae1e1"/><stop offset="0.28" stop-color="#fae1e1"/><stop offset="0.35" stop-color="#fadfdf"/><stop offset="0.41" stop-color="#fadfdf"/><stop offset="0.46" stop-color="#fadfdf"/><stop offset="0.495" stop-color="#fadede"/><stop offset="0.525" stop-color="#f8d3d4"/><stop offset="0.55" stop-color="#f7cdce"/><stop offset="0.575" stop-color="#f7cfcf"/><stop offset="0.61" stop-color="#f8d5d6"/><stop offset="0.65" stop-color="#fadddd"/><stop offset="0.71" stop-color="#fae1e1"/><stop offset="0.79" stop-color="#fae1e1"/><stop offset="0.89" stop-color="#fae1e1"/><stop offset="1" stop-color="#fae1e1"/></linearGradient>
<linearGradient id="h262"><stop offset="0" stop-color="#fae2e2"/><stop offset="0.1" stop-color="#fae2e2"/><stop offset="0.2" stop-color="#fae2e1"/><stop offset="0.28" stop-color="#fae1e1"/><stop offset="0.35" stop-color="#fae0e0"/><stop offset="0.41" stop-color="#fadfdf"/><stop offset="0.46" stop-color="#fae0e0"/><stop offset="0.495" stop-color="#fadfdf"/><stop offset="0.525" stop-color="#f8d4d5"/><stop offset="0.55" stop-color="#f7cecf"/><stop offset="0.575" stop-color="#f7cfd0"/><stop offset="0.61" stop-color="#f8d6d6"/><stop offset="0.65" stop-color="#fadddd"/><stop offset="0.71" stop-color="#fae1e1"/><stop offset="0.79" stop-color="#fae2e2"/><stop offset="0.89" stop-color="#fae2e2"/><stop offset="1" stop-color="#fae2e2"/></linearGradient>
<linearGradient id="h263"><stop offset="0" stop-color="#fae2e2"/><stop offset="0.1" stop-color="#fae2e2"/><stop offset="0.2" stop-color="#fae2e2"/><stop offset="0.28" stop-color="#fae1e1"/><stop offset="0.35" stop-color="#fae0e0"/><stop offset="0.41" stop-color="#fae0e0"/><stop offset="0.46" stop-color="#fae0e0"/><stop offset="0.495" stop-color="#fadfdf"/><stop offset="0.525" stop-color="#f8d5d5"/><stop offset="0.55" stop-color="#f7cfd0"/><stop offset="0.575" stop-color="#f8d0d1"/><stop offset="0.61" stop-color="#f9d7d7"/><stop offset="0.65" stop-color="#fadede"/><stop offset="0.71" stop-color="#fae2e1"/><stop offset="0.79" stop-color="#fae2e2"/><stop offset="0.89" stop-color="#fae2e2"/><stop offset="1" stop-color="#fae2e2"/></linearGradient>
<linearGradient id="h264"><stop offset="0" stop-color="#fae2e2"/><stop offset="0.1" stop-color="#fae2e2"/><stop offset="0.2" stop-color="#fae2e2"/><stop offset="0.28" stop-color="#fae2e1"/><stop offset="0.35" stop-color="#fae1e1"/><stop offset="0.41" stop-color="#fae0e0"/><stop offset="0.46" stop-color="#fae1e1"/><stop offset="0.495" stop-color="#fae0e0"/><stop offset="0.525" stop-color="#f8d6d6"/><stop offset="0.55" stop-color="#f8d0d1"/><stop offset="0.575" stop-color="#f8d1d2"/><stop offset="0.61" stop-color="#f9d7d8"/><stop offset="0.65" stop-color="#fadede"/><stop offset="0.71" stop-color="#fae2e2"/><stop offset="0.79" stop-color="#fae2e2"/><stop offset="0.89" stop-color="#fae2e2"/><stop offset="1" stop-color="#fae2e2"/></linearGradient>
<linearGradient id="h265"><stop offset="0" stop-color="#fae3e2"/><stop offset="0.1" stop-color="#fae3e2"/><stop offset="0.2" stop-color="#fae2e2"/><stop offset="0.28" stop-color="#fae2e2"/><stop offset="0.35" stop-color="#fae1e1"/><stop offset="0.41" stop-color="#fae1e1"/><stop offset="0.46" stop-color="#fae1e1"/><stop offset="0.495" stop-color="#fae0e0"/><stop offset="0.525" stop-color="#f9d6d7"/><stop offset="0.55" stop-color="#f8d1d2"/><stop offset="0.575" stop-color="#f8d2d3"/><stop offset="0.61" stop-color="#f9d8d8"/><stop offset="0.65" stop-color="#fadfdf"/><stop offset="0.71" stop-color="#fae2e2"/><stop offset="0.79" stop-color="#fae3e2"/><stop offset="0.89" stop-color="#fae3e2"/><stop offset="1" stop-color="#fae3e2"/></linearGradient>
<linearGradient id="h266"><stop offset="0" stop-color="#fbe3e3"/><stop offset="0.1" stop-color="#fbe3e3"/><stop offset="0.2" stop-color="#fbe3e3"/><stop offset="0.28" stop-color="#fae2e2"/><stop offset="0.35" stop-color="#fae1e1"/><stop offset="0.41" stop-color="#fae1e1"/><stop offset="0.46" stop-color="#fae1e1"/><stop offset="0.495" stop-color="#fae0e0"/><stop offset="0.525" stop-color="#f9d7d8"/><stop offset="0.55" stop-color="#f8d2d3"/><stop offset="0.575" stop-color="#f8d3d4"/><stop offset="0.61" stop-color="#f9d9d9"/><stop offset="0.65" stop-color="#fadfdf"/><stop offset="0.71" stop-color="#fae2e2"/><stop offset="0.79" stop-color="#fbe3e3"/><stop offset="0.89" stop-color="#fbe3e3"/><stop offset="1" stop-color="#fbe3e3"/></linearGradient>
<linearGradient id="h267"><stop offset="0" stop-color="#fbe3e3"/><stop offset="0.1" stop-color="#fbe3e3"/><stop offset="0.2" stop-color="#fbe3e3"/><stop offset="0.28" stop-color="#fbe3e2"/><stop offset="0.35" stop-color="#fae2e2"/><stop offset="0.41" stop-color="#fae2e2"/><stop offset="0.46" stop-color="#fae2e2"/><stop offset="0.495" stop-color="#fae1e1"/><stop offset="0.525" stop-color="#f9d8d8"/><stop offset="0.55" stop-color="#f8d3d4"/><stop offset="0.575" stop-color="#f8d4d5"/><stop offset="0.61" stop-color="#f9d9da"/><stop offset="0.65" stop-color="#fadfdf"/><stop offset="0.71" stop-color="#fbe3e3"/><stop offset="0.79" stop-color="#fbe3e3"/><stop offset="0.89" stop-color="#fbe3e3"/><stop offset="1" stop-color="#fbe3e3"/></linearGradient>
<linearGradient id="h268"><stop offset="0" stop-color="#fbe3e3"/><stop offset="0.1" stop-color="#fbe3e3"/><stop offset="0.2" stop-color="#fbe3e3"/><stop offset="0.28" stop-color="#fbe3e3"/><stop offset="0.35" stop-color="#fae2e2"/><stop offset="0.41" stop-color="#fae2e2"/><stop offset="0.46" stop-color="#fae2e2"/><stop offset="0.495" stop-color="#fae1e1"/><stop offset="0.525" stop-color="#f9d9d9"/><stop offset="0.55" stop-color="#f8d4d5"/><stop offset="0.575" stop-color="#f8d5d6"/><stop offset="0.61" stop-color="#f9dada"/><stop offset="0.65" stop-color="#fae0e0"/><stop offset="0.71" stop-color="#fbe3e3"/><stop offset="0.79" stop-color="#fbe3e3"/><stop offset="0.89" stop-color="#fbe3e3"/><stop offset="1" stop-color="#fbe3e3"/></linearGradient>
<linearGradient id="h269"><stop offset="0" stop-color="#fbe4e3"/><stop offset="0.1" stop-color="#fbe4e3"/><stop offset="0.2" stop-color="#fbe4e3"/><stop offset="0.28" stop-color="#fbe3e3"/><stop offset="0.35" stop-color="#fbe3e3"/><stop offset="0.41" stop-color="#fae3e2"/><stop offset="0.46" stop-color="#fbe3e2"/><stop offset="0.495" stop-color="#fae2e2"/><stop offset="0.525" stop-color="#f9d9da"/><stop offset="0.55" stop-color="#f8d5d6"/><stop offset="0.575" stop-color="#f8d6d6"/><stop offset="0.61" stop-color="#f9dbdb"/><stop offset="0.65" stop-color="#fae0e0"/><stop offset="0.71" stop-color="#fbe3e3"/><stop offset="0.79" stop-color="#fbe4e3"/><stop offset="0.89" stop-color="#fbe4e3"/><stop offset="1" stop-color="#fbe4e3"/></linearGradient>
<linearGradient id="h270"><stop offset="0" stop-color="#fbe4e4"/><stop offset="0.1" stop-color="#fbe4e4"/><stop offset="0.2" stop-color="#fbe4e4"/><stop offset="0.28" stop-color="#fbe4e3"/><stop offset="0.35" stop-color="#fbe3e3"/><stop offset="0.41" stop-color="#fbe3e3"/><stop offset="0.46" stop-color="#fbe3e3"/><stop offset="0.495" stop-color="#fae2e2"/><stop offset="0.525" stop-color="#f9dada"/><stop offset="0.55" stop-color="#f8d6d7"/><stop offset="0.575" stop-color="#f9d7d7"/><stop offset="0.61" stop-color="#f9dbdc"/><stop offset="0.65" stop-color="#fae1e1"/><stop offset="0.71" stop-color="#fbe4e3"/><stop offset="0.79" stop-color="#fbe4e4"/><stop offset="0.89" stop-color="#fbe4e4"/><stop offset="1" stop-color="#fbe4e4"/></linearGradient>
<linearGradient id="h271"><stop offset="0" stop-color="#fbe4e4"/><stop offset="0.1" stop-color="#fbe4e4"/><stop offset="0.2" stop-color="#fbe4e4"/><stop offset="0.28" stop-color="#fbe4e4"/><stop offset="0.35" stop-color="#fbe4e3"/><stop offset="0.41" stop-color="#fbe3e3"/><stop offset="0.46" stop-color="#fbe3e3"/><stop offset="0.495" stop-color="#fbe3e2"/><stop offset="0.525" stop-color="#f9dbdb"/><stop offset="0.55" stop-color="#f9d7d7"/><stop offset="0.575" stop-color="#f9d8d8"/><stop offset="0.61" stop-color="#f9dcdc"/><stop offset="0.65" stop-color="#fae1e1"/><stop offset="0.71" stop-color="#fbe4e4"/><stop offset="0.79" stop-color="#fbe4e4"/><stop offset="0.89" stop-color="#fbe4e4"/><stop offset="1" stop-color="#fbe4e4"/></linearGradient>
<linearGradient id="h272"><stop offset="0" stop-color="#fbe4e4"/><stop offset="0.1" stop-color="#fbe4e4"/><stop offset="0.2" stop-color="#fbe4e4"/><stop offset="0.28" stop-color="#fbe4e4"/><stop offset="0.35" stop-color="#fbe4e4"/><stop offset="0.41" stop-color="#fbe4e4"/><stop offset="0.46" stop-color="#fbe4e4"/><stop offset="0.495" stop-color="#fbe3e3"/><stop offset="0.525" stop-color="#f9dcdc"/><stop offset="0.55" stop-color="#f9d8d8"/><stop offset="0.575" stop-color="#f9d9d9"/><stop offset="0.61" stop-color="#fadddd"/><stop offset="0.65" stop-color="#fae2e2"/><stop offset="0.71" stop-color="#fbe4e4"/><stop offset="0.79" stop-color="#fbe4e4"/><stop offset="0.89" stop-color="#fbe4e4"/><stop offset="1" stop-color="#fbe4e4"/></linearGradient>
<linearGradient id="h273"><stop offset="0" stop-color="#fbe5e4"/><stop offset="0.1" stop-color="#fbe5e4"/><stop offset="0.2" stop-color="#fbe5e4"/><stop offset="0.28" stop-color="#fbe5e4"/><stop offset="0.35" stop-color="#fbe4e4"/><stop offset="0.41" stop-color="#fbe4e4"/><stop offset="0.46" stop-color="#fbe4e4"/><stop offset="0.495" stop-color="#fbe3e3"/><stop offset="0.525" stop-color="#fadcdd"/><stop offset="0.55" stop-color="#f9d9d9"/><stop offset="0.575" stop-color="#f9dada"/><stop offset="0.61" stop-color="#fadede"/><stop offset="0.65" stop-color="#fae2e2"/><stop offset="0.71" stop-color="#fbe5e4"/><stop offset="0.79" stop-color="#fbe5e4"/><stop offset="0.89" stop-color="#fbe5e4"/><stop offset="1" stop-color="#fbe5e4"/></linearGradient>
<linearGradient id="h274"><stop offset="0" stop-color="#fbe5e5"/><stop offset="0.1" stop-color="#fbe5e5"/><stop offset="0.2" stop-color="#fbe5e5"/><stop offset="0.28" stop-color="#fbe5e5"/><stop offset="0.35" stop-color="#fbe5e5"/><stop offset="0.41" stop-color="#fbe5e5"/><stop offset="0.46" stop-color="#fbe5e4"/><stop offset="0.495" stop-color="#fbe4e4"/><stop offset="0.525" stop-color="#fadddd"/><stop offset="0.55" stop-color="#f9dada"/><stop offset="0.575" stop-color="#f9dbdb"/><stop offset="0.61" stop-color="#fadede"/><stop offset="0.65" stop-color="#fae3e2"/><stop offset="0.71" stop-color="#fbe5e5"/><stop offset="0.79" stop-color="#fbe5e5"/><stop offset="0.89" stop-color="#fbe5e5"/><stop offset="1" stop-color="#fbe5e5"/></linearGradient>
<linearGradient id="h275"><stop offset="0" stop-color="#fbe5e5"/><stop offset="0.1" stop-color="#fbe5e5"/><stop offset="0.2" stop-color="#fbe5e5"/><stop offset="0.28" stop-color="#fbe5e5"/><stop offset="0.35" stop-color="#fbe5e5"/><stop offset="0.41" stop-color="#fbe5e5"/><stop offset="0.46" stop-color="#fbe5e5"/><stop offset="0.495" stop-color="#fbe4e4"/><stop offset="0.525" stop-color="#fadede"/><stop offset="0.55" stop-color="#f9dbdb"/><stop offset="0.575" stop-color="#f9dbdc"/><stop offset="0.61" stop-color="#fadfdf"/><stop offset="0.65" stop-color="#fbe3e3"/><stop offset="0.71" stop-color="#fbe5e5"/><stop offset="0.79" stop-color="#fbe5e5"/><stop offset="0.89" stop-color="#fbe5e5"/><stop offset="1" stop-color="#fbe5e5"/></linearGradient>
<linearGradient id="h276"><stop offset="0" stop-color="#e63f3a"/><stop offset="0.1" stop-color="#e53a35"/><stop offset="0.2" stop-color="#e53530"/><stop offset="0.28" stop-color="#e4322c"/><stop offset="0.35" stop-color="#e42f29"/><stop offset="0.41" stop-color="#e42e28"/><stop offset="0.46" stop-color="#e42e28"/><stop offset="0.495" stop-color="#e42e28"/><stop offset="0.525" stop-color="#e42e28"/><stop offset="0.55" stop-color="#e42e28"/><stop offset="0.575" stop-color="#e42e28"/><stop offset="0.61" stop-color="#e42e28"/><stop offset="0.65" stop-color="#e42e28"/><stop offset="0.71" stop-color="#e42e28"/><stop offset="0.79" stop-color="#e42e28"/><stop offset="0.89" stop-color="#e4312b"/><stop offset="1" stop-color="#e5342f"/></linearGradient>
<linearGradient id="h277"><stop offset="0" stop-color="#e64742"/><stop offset="0.1" stop-color="#e6413c"/><stop offset="0.2" stop-color="#e53a35"/><stop offset="0.28" stop-color="#e5352f"/><stop offset="0.35" stop-color="#e4312b"/><stop offset="0.41" stop-color="#e42e28"/><stop offset="0.46" stop-color="#e42e28"/><stop offset="0.495" stop-color="#e42e28"/><stop offset="0.525" stop-color="#e42e28"/><stop offset="0.55" stop-color="#e42e28"/><stop offset="0.575" stop-color="#e42e28"/><stop offset="0.61" stop-color="#e42e28"/><stop offset="0.65" stop-color="#e42e28"/><stop offset="0.71" stop-color="#e42e28"/><stop offset="0.79" stop-color="#e42f29"/><stop offset="0.89" stop-color="#e5342e"/><stop offset="1" stop-color="#e53934"/></linearGradient>
<linearGradient id="h278"><stop offset="0" stop-color="#e8514d"/><stop offset="0.1" stop-color="#e74a46"/><stop offset="0.2" stop-color="#e6413d"/><stop offset="0.28" stop-color="#e53a35"/><stop offset="0.35" stop-color="#e5342f"/><stop offset="0.41" stop-color="#e4302a"/><stop offset="0.46" stop-color="#e42e28"/><stop offset="0.495" stop-color="#e42e28"/><stop offset="0.525" stop-color="#e42e28"/><stop offset="0.55" stop-color="#e42e28"/><stop offset="0.575" stop-color="#e42e28"/><stop offset="0.61" stop-color="#e42e28"/><stop offset="0.65" stop-color="#e42e28"/><stop offset="0.71" stop-color="#e42e28"/><stop offset="0.79" stop-color="#e4322c"/><stop offset="0.89" stop-color="#e53833"/><stop offset="1" stop-color="#e6403b"/></linearGradient>
<linearGradient id="h279"><stop offset="0" stop-color="#e95b58"/><stop offset="0.1" stop-color="#e85450"/><stop offset="0.2" stop-color="#e74a45"/><stop offset="0.28" stop-color="#e6403b"/><stop offset="0.35" stop-color="#e53833"/><stop offset="0.41" stop-color="#e4322c"/><stop offset="0.46" stop-color="#e42e28"/><stop offset="0.495" stop-color="#e42e28"/><stop offset="0.525" stop-color="#e42e28"/><stop offset="0.55" stop-color="#e42e28"/><stop offset="0.575" stop-color="#e42e28"/><stop offset="0.61" stop-color="#e42e28"/><stop offset="0.65" stop-color="#e42e28"/><stop offset="0.71" stop-color="#e4302a"/><stop offset="0.79" stop-color="#e53530"/><stop offset="0.89" stop-color="#e63e39"/><stop offset="1" stop-color="#e74843"/></linearGradient>
<linearGradient id="h280"><stop offset="0" stop-color="#ea6866"/><stop offset="0.1" stop-color="#e95f5c"/><stop offset="0.2" stop-color="#e85451"/><stop offset="0.28" stop-color="#e74945"/><stop offset="0.35" stop-color="#e63f3a"/><stop offset="0.41" stop-color="#e53630"/><stop offset="0.46" stop-color="#e4302a"/><stop offset="0.495" stop-color="#e42e28"/><stop offset="0.525" stop-color="#e42e28"/><stop offset="0.55" stop-color="#e42e28"/><stop offset="0.575" stop-color="#e42e28"/><stop offset="0.61" stop-color="#e42e28"/><stop offset="0.65" stop-color="#e42e28"/><stop offset="0.71" stop-color="#e4322c"/><stop offset="0.79" stop-color="#e53a35"/><stop offset="0.89" stop-color="#e64641"/><stop offset="1" stop-color="#e8524e"/></linearGradient>
<linearGradient id="h281"><stop offset="0" stop-color="#eb716f"/><stop offset="0.1" stop-color="#ea6866"/><stop offset="0.2" stop-color="#e95c59"/><stop offset="0.28" stop-color="#e7504c"/><stop offset="0.35" stop-color="#e6443f"/><stop offset="0.41" stop-color="#e53934"/><stop offset="0.46" stop-color="#e4322c"/><stop offset="0.495" stop-color="#e42e28"/><stop offset="0.525" stop-color="#e42e28"/><stop offset="0.55" stop-color="#e42e28"/><stop offset="0.575" stop-color="#e42e28"/><stop offset="0.61" stop-color="#e42e28"/><stop offset="0.65" stop-color="#e42f29"/><stop offset="0.71" stop-color="#e5342f"/><stop offset="0.79" stop-color="#e63f3a"/><stop offset="0.89" stop-color="#e74d48"/><stop offset="1" stop-color="#e85a57"/></linearGradient>
<linearGradient id="h282"><stop offset="0" stop-color="#ec7a78"/><stop offset="0.1" stop-color="#eb706e"/><stop offset="0.2" stop-color="#e96461"/><stop offset="0.28" stop-color="#e85753"/><stop offset="0.35" stop-color="#e74945"/><stop offset="0.41" stop-color="#e53d38"/><stop offset="0.46" stop-color="#e5342e"/><stop offset="0.495" stop-color="#e42f29"/><stop offset="0.525" stop-color="#e42e28"/><stop offset="0.55" stop-color="#e42e28"/><stop offset="0.575" stop-color="#e42e28"/><stop offset="0.61" stop-color="#e42e28"/><stop offset="0.65" stop-color="#e4302a"/><stop offset="0.71" stop-color="#e53731"/><stop offset="0.79" stop-color="#e6433e"/><stop offset="0.89" stop-color="#e8534f"/><stop offset="1" stop-color="#e9615e"/></linearGradient>
<linearGradient id="h283"><stop offset="0" stop-color="#ed8382"/><stop offset="0.1" stop-color="#ec7a78"/><stop offset="0.2" stop-color="#eb6d6b"/><stop offset="0.28" stop-color="#e95f5c"/><stop offset="0.35" stop-color="#e7504c"/><stop offset="0.41" stop-color="#e6423d"/><stop offset="0.46" stop-color="#e53731"/><stop offset="0.495" stop-color="#e4312b"/><stop offset="0.525" stop-color="#e42e28"/><stop offset="0.55" stop-color="#e42e28"/><stop offset="0.575" stop-color="#e42e28"/><stop offset="0.61" stop-color="#e42e28"/><stop offset="0.65" stop-color="#e4322c"/><stop offset="0.71" stop-color="#e53a35"/><stop offset="0.79" stop-color="#e74944"/><stop offset="0.89" stop-color="#e85a57"/><stop offset="1" stop-color="#ea6b68"/></linearGradient>
<linearGradient id="h284"><stop offset="0" stop-color="#ef8e8e"/><stop offset="0.1" stop-color="#ed8483"/><stop offset="0.2" stop-color="#ec7775"/><stop offset="0.28" stop-color="#ea6966"/><stop offset="0.35" stop-color="#e85855"/><stop offset="0.41" stop-color="#e74844"/><stop offset="0.46" stop-color="#e53b36"/><stop offset="0.495" stop-color="#e5332e"/><stop offset="0.525" stop-color="#e42f29"/><stop offset="0.55" stop-color="#e42e28"/><stop offset="0.575" stop-color="#e42e28"/><stop offset="0.61" stop-color="#e4302a"/><stop offset="0.65" stop-color="#e5342f"/><stop offset="0.71" stop-color="#e63f3a"/><stop offset="0.79" stop-color="#e7504d"/><stop offset="0.89" stop-color="#e96461"/><stop offset="1" stop-color="#eb7573"/></linearGradient>
<linearGradient id="h285"><stop offset="0" stop-color="#f09a9a"/><stop offset="0.1" stop-color="#ef8f8f"/><stop offset="0.2" stop-color="#ed8281"/><stop offset="0.28" stop-color="#eb7472"/><stop offset="0.35" stop-color="#e96260"/><stop offset="0.41" stop-color="#e7504c"/><stop offset="0.46" stop-color="#e6403b"/><stop offset="0.495" stop-color="#e53731"/><stop offset="0.525" stop-color="#e4312b"/><stop offset="0.55" stop-color="#e42f29"/><stop offset="0.575" stop-color="#e42f29"/><stop offset="0.61" stop-color="#e4312c"/><stop offset="0.65" stop-color="#e53832"/><stop offset="0.71" stop-color="#e64641"/><stop offset="0.79" stop-color="#e85a56"/><stop offset="0.89" stop-color="#eb6f6d"/><stop offset="1" stop-color="#ed807e"/></linearGradient>
<linearGradient id="h286"><stop offset="0" stop-color="#f1a1a1"/><stop offset="0.1" stop-color="#f09796"/><stop offset="0.2" stop-color="#ee8988"/><stop offset="0.28" stop-color="#ec7b7a"/><stop offset="0.35" stop-color="#ea6a68"/><stop offset="0.41" stop-color="#e85653"/><stop offset="0.46" stop-color="#e64440"/><stop offset="0.495" stop-color="#e53934"/><stop offset="0.525" stop-color="#e4332d"/><stop offset="0.55" stop-color="#e4302a"/><stop offset="0.575" stop-color="#e4302a"/><stop offset="0.61" stop-color="#e5332e"/><stop offset="0.65" stop-color="#e53b36"/><stop offset="0.71" stop-color="#e74a46"/><stop offset="0.79" stop-color="#e9605d"/><stop offset="0.89" stop-color="#ec7775"/><stop offset="1" stop-color="#ee8685"/></linearGradient>
<linearGradient id="h287"><stop offset="0" stop-color="#f2a8a8"/><stop offset="0.1" stop-color="#f19e9e"/><stop offset="0.2" stop-color="#ef9090"/><stop offset="0.28" stop-color="#ed8382"/><stop offset="0.35" stop-color="#eb7270"/><stop offset="0.41" stop-color="#e95d5a"/><stop offset="0.46" stop-color="#e74945"/><stop offset="0.495" stop-color="#e53d37"/><stop offset="0.525" stop-color="#e5352f"/><stop offset="0.55" stop-color="#e4312c"/><stop offset="0.575" stop-color="#e4312c"/><stop offset="0.61" stop-color="#e53530"/><stop offset="0.65" stop-color="#e63e39"/><stop offset="0.71" stop-color="#e7504c"/><stop offset="0.79" stop-color="#ea6866"/><stop offset="0.89" stop-color="#ed7e7d"/><stop offset="1" stop-color="#ef8e8d"/></linearGradient>
<linearGradient id="h288"><stop offset="0" stop-color="#f3afaf"/><stop offset="0.1" stop-color="#f2a6a6"/><stop offset="0.2" stop-color="#f09999"/><stop offset="0.28" stop-color="#ee8b8a"/><stop offset="0.35" stop-color="#ec7b79"/><stop offset="0.41" stop-color="#ea6562"/><stop offset="0.46" stop-color="#e74f4b"/><stop offset="0.495" stop-color="#e6403b"/><stop offset="0.525" stop-color="#e53731"/><stop offset="0.55" stop-color="#e4332d"/><stop offset="0.575" stop-color="#e4332d"/><stop offset="0.61" stop-color="#e53832"/><stop offset="0.65" stop-color="#e6433e"/><stop offset="0.71" stop-color="#e85753"/><stop offset="0.79" stop-color="#eb716f"/><stop offset="0.89" stop-color="#ee8685"/><stop offset="1" stop-color="#f09696"/></linearGradient>
<linearGradient id="h289"><stop offset="0" stop-color="#f4b5b6"/><stop offset="0.1" stop-color="#f3adae"/><stop offset="0.2" stop-color="#f1a1a1"/><stop offset="0.28" stop-color="#ef9393"/><stop offset="0.35" stop-color="#ed8482"/><stop offset="0.41" stop-color="#eb6f6d"/><stop offset="0.46" stop-color="#e85753"/><stop offset="0.495" stop-color="#e64541"/><stop offset="0.525" stop-color="#e53934"/><stop offset="0.55" stop-color="#e5342f"/><stop offset="0.575" stop-color="#e5342f"/><stop offset="0.61" stop-color="#e53b35"/><stop offset="0.65" stop-color="#e74843"/><stop offset="0.71" stop-color="#e95f5c"/><stop offset="0.79" stop-color="#ec7b79"/><stop offset="0.89" stop-color="#ef8f8e"/><stop offset="1" stop-color="#f19f9f"/></linearGradient>
<linearGradient id="h290"><stop offset="0" stop-color="#f4babb"/><stop offset="0.1" stop-color="#f4b4b5"/><stop offset="0.2" stop-color="#f2a9a9"/><stop offset="0.28" stop-color="#f09c9c"/><stop offset="0.35" stop-color="#ee8c8b"/><stop offset="0.41" stop-color="#ec7977"/><stop offset="0.46" stop-color="#e95e5b"/><stop offset="0.495" stop-color="#e74b46"/><stop offset="0.525" stop-color="#e53c37"/><stop offset="0.55" stop-color="#e53630"/><stop offset="0.575" stop-color="#e53631"/><stop offset="0.61" stop-color="#e63e39"/><stop offset="0.65" stop-color="#e74e49"/><stop offset="0.71" stop-color="#ea6866"/><stop offset="0.79" stop-color="#ed8482"/><stop offset="0.89" stop-color="#f09897"/><stop offset="1" stop-color="#f2a7a7"/></linearGradient>
<linearGradient id="h291"><stop offset="0" stop-color="#f5bebf"/><stop offset="0.1" stop-color="#f4b9ba"/><stop offset="0.2" stop-color="#f3afb0"/><stop offset="0.28" stop-color="#f1a2a2"/><stop offset="0.35" stop-color="#ef9392"/><stop offset="0.41" stop-color="#ed807e"/><stop offset="0.46" stop-color="#ea6563"/><stop offset="0.495" stop-color="#e7504c"/><stop offset="0.525" stop-color="#e6403b"/><stop offset="0.55" stop-color="#e53833"/><stop offset="0.575" stop-color="#e53933"/><stop offset="0.61" stop-color="#e6413d"/><stop offset="0.65" stop-color="#e8534f"/><stop offset="0.71" stop-color="#eb706e"/><stop offset="0.79" stop-color="#ee8a89"/><stop offset="0.89" stop-color="#f19e9e"/><stop offset="1" stop-color="#f3adad"/></linearGradient>
<linearGradient id="h292"><stop offset="0" stop-color="#f5c1c2"/><stop offset="0.1" stop-color="#f5bebf"/><stop offset="0.2" stop-color="#f4b5b6"/><stop offset="0.28" stop-color="#f2a9a9"/><stop offset="0.35" stop-color="#f09a9a"/><stop offset="0.41" stop-color="#ee8786"/><stop offset="0.46" stop-color="#eb6d6b"/><stop offset="0.495" stop-color="#e85551"/><stop offset="0.525" stop-color="#e6433e"/><stop offset="0.55" stop-color="#e53b36"/><stop offset="0.575" stop-color="#e53b36"/><stop offset="0.61" stop-color="#e64541"/><stop offset="0.65" stop-color="#e85955"/><stop offset="0.71" stop-color="#ec7876"/><stop offset="0.79" stop-color="#ef9191"/><stop offset="0.89" stop-color="#f1a4a4"/><stop offset="1" stop-color="#f3b3b4"/></linearGradient>
<linearGradient id="h293"><stop offset="0" stop-color="#f6c3c4"/><stop offset="0.1" stop-color="#f5c1c2"/><stop offset="0.2" stop-color="#f4babb"/><stop offset="0.28" stop-color="#f3aeaf"/><stop offset="0.35" stop-color="#f19fa0"/><stop offset="0.41" stop-color="#ef8e8d"/><stop offset="0.46" stop-color="#ec7573"/><stop offset="0.495" stop-color="#e85b58"/><stop offset="0.525" stop-color="#e64742"/><stop offset="0.55" stop-color="#e63d38"/><stop offset="0.575" stop-color="#e63e38"/><stop offset="0.61" stop-color="#e74945"/><stop offset="0.65" stop-color="#e95f5c"/><stop offset="0.71" stop-color="#ed7f7e"/><stop offset="0.79" stop-color="#f09898"/><stop offset="0.89" stop-color="#f2aaaa"/><stop offset="1" stop-color="#f4b8b9"/></linearGradient>
<linearGradient id="h294"><stop offset="0" stop-color="#f6c5c5"/><stop offset="0.1" stop-color="#f6c3c4"/><stop offset="0.2" stop-color="#f5bebf"/><stop offset="0.28" stop-color="#f4b4b5"/><stop offset="0.35" stop-color="#f2a6a6"/><stop offset="0.41" stop-color="#ef9594"/><stop offset="0.46" stop-color="#ec7d7b"/><stop offset="0.495" stop-color="#e9625f"/><stop offset="0.525" stop-color="#e74b47"/><stop offset="0.55" stop-color="#e6403b"/><stop offset="0.575" stop-color="#e6403b"/><stop offset="0.61" stop-color="#e74e4a"/><stop offset="0.65" stop-color="#ea6664"/><stop offset="0.71" stop-color="#ee8786"/><stop offset="0.79" stop-color="#f19e9e"/><stop offset="0.89" stop-color="#f3b0b1"/><stop offset="1" stop-color="#f5bdbe"/></linearGradient>
<linearGradient id="h295"><stop offset="0" stop-color="#f6c6c7"/><stop offset="0.1" stop-color="#f6c5c6"/><stop offset="0.2" stop-color="#f5c1c2"/><stop offset="0.28" stop-color="#f4b8b9"/><stop offset="0.35" stop-color="#f2aaab"/><stop offset="0.41" stop-color="#f09a9a"/><stop offset="0.46" stop-color="#ed8382"/><stop offset="0.495" stop-color="#ea6865"/><stop offset="0.525" stop-color="#e74f4b"/><stop offset="0.55" stop-color="#e6423d"/><stop offset="0.575" stop-color="#e6433e"/><stop offset="0.61" stop-color="#e8524e"/><stop offset="0.65" stop-color="#eb6d6a"/><stop offset="0.71" stop-color="#ee8c8c"/><stop offset="0.79" stop-color="#f1a2a3"/><stop offset="0.89" stop-color="#f4b5b5"/><stop offset="1" stop-color="#f5c0c1"/></linearGradient>
<linearGradient id="h296"><stop offset="0" stop-color="#f6c7c8"/><stop offset="0.1" stop-color="#f6c6c7"/><stop offset="0.2" stop-color="#f6c3c4"/><stop offset="0.28" stop-color="#f5bbbc"/><stop offset="0.35" stop-color="#f3aeae"/><stop offset="0.41" stop-color="#f09d9d"/><stop offset="0.46" stop-color="#ee8786"/><stop offset="0.495" stop-color="#ea6c6a"/><stop offset="0.525" stop-color="#e8524e"/><stop offset="0.55" stop-color="#e64540"/><stop offset="0.575" stop-color="#e64540"/><stop offset="0.61" stop-color="#e85552"/><stop offset="0.65" stop-color="#eb716f"/><stop offset="0.71" stop-color="#ef9190"/><stop offset="0.79" stop-color="#f2a6a6"/><stop offset="0.89" stop-color="#f4b8b8"/><stop offset="1" stop-color="#f6c2c3"/></linearGradient>
<linearGradient id="h297"><stop offset="0" stop-color="#f6c8c9"/><stop offset="0.1" stop-color="#f6c8c8"/><stop offset="0.2" stop-color="#f6c5c6"/><stop offset="0.28" stop-color="#f5bebf"/><stop offset="0.35" stop-color="#f3b1b2"/><stop offset="0.41" stop-color="#f1a1a1"/><stop offset="0.46" stop-color="#ee8c8b"/><stop offset="0.495" stop-color="#eb716f"/><stop offset="0.525" stop-color="#e85652"/><stop offset="0.55" stop-color="#e74743"/><stop offset="0.575" stop-color="#e74843"/><stop offset="0.61" stop-color="#e85955"/><stop offset="0.65" stop-color="#ec7674"/><stop offset="0.71" stop-color="#ef9595"/><stop offset="0.79" stop-color="#f2a9aa"/><stop offset="0.89" stop-color="#f5bbbc"/><stop offset="1" stop-color="#f6c4c5"/></linearGradient>
<linearGradient id="h298"><stop offset="0" stop-color="#f6c9ca"/><stop offset="0.1" stop-color="#f6c9ca"/><stop offset="0.2" stop-color="#f6c7c8"/><stop offset="0.28" stop-color="#f5c1c2"/><stop offset="0.35" stop-color="#f4b5b5"/><stop offset="0.41" stop-color="#f1a4a5"/><stop offset="0.46" stop-color="#ef9190"/><stop offset="0.495" stop-color="#ec7775"/><stop offset="0.525" stop-color="#e85a56"/><stop offset="0.55" stop-color="#e74a46"/><stop offset="0.575" stop-color="#e74b47"/><stop offset="0.61" stop-color="#e95d5a"/><stop offset="0.65" stop-color="#ec7c7a"/><stop offset="0.71" stop-color="#f09999"/><stop offset="0.79" stop-color="#f3adad"/><stop offset="0.89" stop-color="#f5bebf"/><stop offset="1" stop-color="#f6c6c7"/></linearGradient>
<linearGradient id="h299"><stop offset="0" stop-color="#f7cacb"/><stop offset="0.1" stop-color="#f7cacb"/><stop offset="0.2" stop-color="#f6c9c9"/><stop offset="0.28" stop-color="#f6c4c4"/><stop offset="0.35" stop-color="#f4b8b9"/><stop offset="0.41" stop-color="#f2a8a8"/><stop offset="0.46" stop-color="#ef9595"/><stop offset="0.495" stop-color="#ec7c7b"/><stop offset="0.525" stop-color="#e95e5b"/><stop offset="0.55" stop-color="#e74e49"/><stop offset="0.575" stop-color="#e74e4a"/><stop offset="0.61" stop-color="#e9625f"/><stop offset="0.65" stop-color="#ed8180"/><stop offset="0.71" stop-color="#f09d9d"/><stop offset="0.79" stop-color="#f3b1b1"/><stop offset="0.89" stop-color="#f5c1c2"/><stop offset="1" stop-color="#f6c8c9"/></linearGradient>
<linearGradient id="h300"><stop offset="0" stop-color="#f7cbcc"/><stop offset="0.1" stop-color="#f7cbcc"/><stop offset="0.2" stop-color="#f7cacb"/><stop offset="0.28" stop-color="#f6c5c6"/><stop offset="0.35" stop-color="#f4bbbb"/><stop offset="0.41" stop-color="#f2abab"/><stop offset="0.46" stop-color="#f09999"/><stop offset="0.495" stop-color="#ed807f"/><stop offset="0.525" stop-color="#e9615f"/><stop offset="0.55" stop-color="#e7514d"/><stop offset="0.575" stop-color="#e8514e"/><stop offset="0.61" stop-color="#ea6663"/><stop offset="0.65" stop-color="#ed8584"/><stop offset="0.71" stop-color="#f1a0a0"/><stop offset="0.79" stop-color="#f4b4b4"/><stop offset="0.89" stop-color="#f6c3c4"/><stop offset="1" stop-color="#f7c9ca"/></linearGradient>
<linearGradient id="h301"><stop offset="0" stop-color="#f7cccd"/><stop offset="0.1" stop-color="#f7cccd"/><stop offset="0.2" stop-color="#f7cbcc"/><stop offset="0.28" stop-color="#f6c7c8"/><stop offset="0.35" stop-color="#f5bdbe"/><stop offset="0.41" stop-color="#f3adae"/><stop offset="0.46" stop-color="#f09c9c"/><stop offset="0.495" stop-color="#ed8483"/><stop offset="0.525" stop-color="#ea6563"/><stop offset="0.55" stop-color="#e85450"/><stop offset="0.575" stop-color="#e85551"/><stop offset="0.61" stop-color="#ea6a67"/><stop offset="0.65" stop-color="#ee8988"/><stop offset="0.71" stop-color="#f1a3a3"/><stop offset="0.79" stop-color="#f4b6b6"/><stop offset="0.89" stop-color="#f6c5c6"/><stop offset="1" stop-color="#f7cbcc"/></linearGradient>
<linearGradient id="h302"><stop offset="0" stop-color="#f7cdce"/><stop offset="0.1" stop-color="#f7cdce"/><stop offset="0.2" stop-color="#f7cccd"/><stop offset="0.28" stop-color="#f6c9ca"/><stop offset="0.35" stop-color="#f5bfc0"/><stop offset="0.41" stop-color="#f3b0b0"/><stop offset="0.46" stop-color="#f19f9f"/><stop offset="0.495" stop-color="#ee8887"/><stop offset="0.525" stop-color="#ea6967"/><stop offset="0.55" stop-color="#e85754"/><stop offset="0.575" stop-color="#e85854"/><stop offset="0.61" stop-color="#eb6e6c"/><stop offset="0.65" stop-color="#ee8d8c"/><stop offset="0.71" stop-color="#f2a5a6"/><stop offset="0.79" stop-color="#f4b8b9"/><stop offset="0.89" stop-color="#f6c7c7"/><stop offset="1" stop-color="#f7cccd"/></linearGradient>
<linearGradient id="h303"><stop offset="0" stop-color="#f7cecf"/><stop offset="0.1" stop-color="#f7cecf"/><stop offset="0.2" stop-color="#f7cdce"/><stop offset="0.28" stop-color="#f7cacb"/><stop offset="0.35" stop-color="#f5c1c2"/><stop offset="0.41" stop-color="#f3b3b3"/><stop offset="0.46" stop-color="#f1a2a2"/><stop offset="0.495" stop-color="#ee8c8b"/><stop offset="0.525" stop-color="#eb6e6b"/><stop offset="0.55" stop-color="#e85a57"/><stop offset="0.575" stop-color="#e95b58"/><stop offset="0.61" stop-color="#eb7270"/><stop offset="0.65" stop-color="#ef9190"/><stop offset="0.71" stop-color="#f2a8a8"/><stop offset="0.79" stop-color="#f4bbbb"/><stop offset="0.89" stop-color="#f6c8c9"/><stop offset="1" stop-color="#f7cdce"/></linearGradient>
<linearGradient id="h304"><stop offset="0" stop-color="#f7cfcf"/><stop offset="0.1" stop-color="#f7cfcf"/><stop offset="0.2" stop-color="#f7cecf"/><stop offset="0.28" stop-color="#f7cccd"/><stop offset="0.35" stop-color="#f6c3c4"/><stop offset="0.41" stop-color="#f4b5b6"/><stop offset="0.46" stop-color="#f1a4a5"/><stop offset="0.495" stop-color="#ef908f"/><stop offset="0.525" stop-color="#eb726f"/><stop offset="0.55" stop-color="#e95e5b"/><stop offset="0.575" stop-color="#e95e5b"/><stop offset="0.61" stop-color="#ec7674"/><stop offset="0.65" stop-color="#ef9494"/><stop offset="0.71" stop-color="#f2abab"/><stop offset="0.79" stop-color="#f5bdbe"/><stop offset="0.89" stop-color="#f7cacb"/><stop offset="1" stop-color="#f7cecf"/></linearGradient>
<linearGradient id="h305"><stop offset="0" stop-color="#f7cfd0"/><stop offset="0.1" stop-color="#f7cfd0"/><stop offset="0.2" stop-color="#f7cfd0"/><stop offset="0.28" stop-color="#f7cdce"/><stop offset="0.35" stop-color="#f6c5c6"/><stop offset="0.41" stop-color="#f4b7b7"/><stop offset="0.46" stop-color="#f2a6a7"/><stop offset="0.495" stop-color="#ef9392"/><stop offset="0.525" stop-color="#ec7573"/><stop offset="0.55" stop-color="#e9605d"/><stop offset="0.575" stop-color="#e9615e"/><stop offset="0.61" stop-color="#ec7977"/><stop offset="0.65" stop-color="#f09797"/><stop offset="0.71" stop-color="#f3adad"/><stop offset="0.79" stop-color="#f5bfbf"/><stop offset="0.89" stop-color="#f7cbcc"/><stop offset="1" stop-color="#f7cecf"/></linearGradient>
<linearGradient id="h306"><stop offset="0" stop-color="#f7cfd0"/><stop offset="0.1" stop-color="#f7cfd0"/><stop offset="0.2" stop-color="#f7cfd0"/><stop offset="0.28" stop-color="#f7cdce"/><stop offset="0.35" stop-color="#f6c6c7"/><stop offset="0.41" stop-color="#f4b9b9"/><stop offset="0.46" stop-color="#f2a9a9"/><stop offset="0.495" stop-color="#ef9696"/><stop offset="0.525" stop-color="#ec7876"/><stop offset="0.55" stop-color="#e96360"/><stop offset="0.575" stop-color="#e96461"/><stop offset="0.61" stop-color="#ec7c7b"/><stop offset="0.65" stop-color="#f09a9a"/><stop offset="0.71" stop-color="#f3afaf"/><stop offset="0.79" stop-color="#f5c0c1"/><stop offset="0.89" stop-color="#f7cccd"/><stop offset="1" stop-color="#f7cfd0"/></linearGradient>
<linearGradient id="h307"><stop offset="0" stop-color="#f7d0d1"/><stop offset="0.1" stop-color="#f7d0d1"/><stop offset="0.2" stop-color="#f7d0d0"/><stop offset="0.28" stop-color="#f7cecf"/><stop offset="0.35" stop-color="#f6c8c9"/><stop offset="0.41" stop-color="#f4bbbb"/><stop offset="0.46" stop-color="#f2abab"/><stop offset="0.495" stop-color="#f09999"/><stop offset="0.525" stop-color="#ec7b7a"/><stop offset="0.55" stop-color="#ea6663"/><stop offset="0.575" stop-color="#ea6764"/><stop offset="0.61" stop-color="#ed807e"/><stop offset="0.65" stop-color="#f09d9d"/><stop offset="0.71" stop-color="#f3b1b1"/><stop offset="0.79" stop-color="#f6c2c3"/><stop offset="0.89" stop-color="#f7cdce"/><stop offset="1" stop-color="#f7cfd0"/></linearGradient>
<linearGradient id="h308"><stop offset="0" stop-color="#f7d0d1"/><stop offset="0.1" stop-color="#f7d0d1"/><stop offset="0.2" stop-color="#f7d0d1"/><stop offset="0.28" stop-color="#f7cfd0"/><stop offset="0.35" stop-color="#f6c9ca"/><stop offset="0.41" stop-color="#f5bdbd"/><stop offset="0.46" stop-color="#f3adad"/><stop offset="0.495" stop-color="#f09c9c"/><stop offset="0.525" stop-color="#ed7e7d"/><stop offset="0.55" stop-color="#ea6966"/><stop offset="0.575" stop-color="#ea6a67"/><stop offset="0.61" stop-color="#ed8382"/><stop offset="0.65" stop-color="#f19f9f"/><stop offset="0.71" stop-color="#f3b3b3"/><stop offset="0.79" stop-color="#f6c4c5"/><stop offset="0.89" stop-color="#f7cecf"/><stop offset="1" stop-color="#f7d0d1"/></linearGradient>
<linearGradient id="h309"><stop offset="0" stop-color="#f8d0d1"/><stop offset="0.1" stop-color="#f8d0d1"/><stop offset="0.2" stop-color="#f8d0d1"/><stop offset="0.28" stop-color="#f7cfd0"/><stop offset="0.35" stop-color="#f7cbcb"/><stop offset="0.41" stop-color="#f5bebf"/><stop offset="0.46" stop-color="#f3afaf"/><stop offset="0.495" stop-color="#f19e9e"/><stop offset="0.525" stop-color="#ed8280"/><stop offset="0.55" stop-color="#ea6c69"/><stop offset="0.575" stop-color="#eb6d6a"/><stop offset="0.61" stop-color="#ee8685"/><stop offset="0.65" stop-color="#f1a1a2"/><stop offset="0.71" stop-color="#f4b5b5"/><stop offset="0.79" stop-color="#f6c5c6"/><stop offset="0.89" stop-color="#f7cfd0"/><stop offset="1" stop-color="#f8d0d1"/></linearGradient>
<linearGradient id="h310"><stop offset="0" stop-color="#f8d1d2"/><stop offset="0.1" stop-color="#f8d1d2"/><stop offset="0.2" stop-color="#f8d1d2"/><stop offset="0.28" stop-color="#f7d0d1"/><stop offset="0.35" stop-color="#f7cccd"/><stop offset="0.41" stop-color="#f5c0c1"/><stop offset="0.46" stop-color="#f3b1b1"/><stop offset="0.495" stop-color="#f1a0a0"/><stop offset="0.525" stop-color="#ed8584"/><stop offset="0.55" stop-color="#eb6f6c"/><stop offset="0.575" stop-color="#eb706d"/><stop offset="0.61" stop-color="#ee8988"/><stop offset="0.65" stop-color="#f1a4a4"/><stop offset="0.71" stop-color="#f4b6b7"/><stop offset="0.79" stop-color="#f6c7c8"/><stop offset="0.89" stop-color="#f7cfd0"/><stop offset="1" stop-color="#f8d1d2"/></linearGradient>
<linearGradient id="h311"><stop offset="0" stop-color="#f8d1d2"/><stop offset="0.1" stop-color="#f8d1d2"/><stop offset="0.2" stop-color="#f8d1d2"/><stop offset="0.28" stop-color="#f8d0d1"/><stop offset="0.35" stop-color="#f7cdce"/><stop offset="0.41" stop-color="#f5c1c2"/><stop offset="0.46" stop-color="#f3b2b3"/><stop offset="0.495" stop-color="#f1a3a3"/><stop offset="0.525" stop-color="#ee8887"/><stop offset="0.55" stop-color="#eb7270"/><stop offset="0.575" stop-color="#eb7371"/><stop offset="0.61" stop-color="#ee8c8b"/><stop offset="0.65" stop-color="#f2a6a6"/><stop offset="0.71" stop-color="#f4b8b9"/><stop offset="0.79" stop-color="#f6c8c9"/><stop offset="0.89" stop-color="#f7d0d1"/><stop offset="1" stop-color="#f8d1d2"/></linearGradient>
<linearGradient id="h312"><stop offset="0" stop-color="#f8d2d2"/><stop offset="0.1" stop-color="#f8d2d2"/><stop offset="0.2" stop-color="#f8d2d2"/><stop offset="0.28" stop-color="#f8d1d2"/><stop offset="0.35" stop-color="#f7cecf"/><stop offset="0.41" stop-color="#f6c3c4"/><stop offset="0.46" stop-color="#f4b4b5"/><stop offset="0.495" stop-color="#f1a5a5"/><stop offset="0.525" stop-color="#ee8b8a"/><stop offset="0.55" stop-color="#eb7573"/><stop offset="0.575" stop-color="#ec7674"/><stop offset="0.61" stop-color="#ef8f8f"/><stop offset="0.65" stop-color="#f2a8a8"/><stop offset="0.71" stop-color="#f4babb"/><stop offset="0.79" stop-color="#f7c9ca"/><stop offset="0.89" stop-color="#f8d0d1"/><stop offset="1" stop-color="#f8d2d2"/></linearGradient>
<linearGradient id="h313"><stop offset="0" stop-color="#f8d2d3"/><stop offset="0.1" stop-color="#f8d2d3"/><stop offset="0.2" stop-color="#f8d2d3"/><stop offset="0.28" stop-color="#f8d1d2"/><stop offset="0.35" stop-color="#f7cecf"/><stop offset="0.41" stop-color="#f6c4c5"/><stop offset="0.46" stop-color="#f4b6b7"/><stop offset="0.495" stop-color="#f2a7a7"/><stop offset="0.525" stop-color="#ef8e8d"/><stop offset="0.55" stop-color="#ec7876"/><stop offset="0.575" stop-color="#ec7977"/><stop offset="0.61" stop-color="#ef9292"/><stop offset="0.65" stop-color="#f2aaaa"/><stop offset="0.71" stop-color="#f5bcbc"/><stop offset="0.79" stop-color="#f7cbcc"/><stop offset="0.89" stop-color="#f8d1d2"/><stop offset="1" stop-color="#f8d2d3"/></linearGradient>
<linearGradient id="h314"><stop offset="0" stop-color="#f8d2d3"/><stop offset="0.1" stop-color="#f8d2d3"/><stop offset="0.2" stop-color="#f8d2d3"/><stop offset="0.28" stop-color="#f8d2d3"/><stop offset="0.35" stop-color="#f7cfd0"/><stop offset="0.41" stop-color="#f6c6c7"/><stop offset="0.46" stop-color="#f4b8b9"/><stop offset="0.495" stop-color="#f2a9aa"/><stop offset="0.525" stop-color="#ef9190"/><stop offset="0.55" stop-color="#ec7b79"/><stop offset="0.575" stop-color="#ec7c7a"/><stop offset="0.61" stop-color="#ef9595"/><stop offset="0.65" stop-color="#f3acad"/><stop offset="0.71" stop-color="#f5bdbe"/><stop offset="0.79" stop-color="#f7cccd"/><stop offset="0.89" stop-color="#f8d1d2"/><stop offset="1" stop-color="#f8d2d3"/></linearGradient>
<linearGradient id="h315"><stop offset="0" stop-color="#f8d3d4"/><stop offset="0.1" stop-color="#f8d3d4"/><stop offset="0.2" stop-color="#f8d3d3"/><stop offset="0.28" stop-color="#f8d2d3"/><stop offset="0.35" stop-color="#f7d0d1"/><stop offset="0.41" stop-color="#f6c8c8"/><stop offset="0.46" stop-color="#f4baba"/><stop offset="0.495" stop-color="#f2acac"/><stop offset="0.525" stop-color="#ef9494"/><stop offset="0.55" stop-color="#ed7e7d"/><stop offset="0.575" stop-color="#ed7f7e"/><stop offset="0.61" stop-color="#f09898"/><stop offset="0.65" stop-color="#f3aeaf"/><stop offset="0.71" stop-color="#f5bfc0"/><stop offset="0.79" stop-color="#f7cdce"/><stop offset="0.89" stop-color="#f8d2d3"/><stop offset="1" stop-color="#f8d3d3"/></linearGradient>
<linearGradient id="h316"><stop offset="0" stop-color="#f8d3d4"/><stop offset="0.1" stop-color="#f8d3d4"/><stop offset="0.2" stop-color="#f8d3d4"/><stop offset="0.28" stop-color="#f8d3d4"/><stop offset="0.35" stop-color="#f8d1d1"/><stop offset="0.41" stop-color="#f6c9ca"/><stop offset="0.46" stop-color="#f5bcbc"/><stop offset="0.495" stop-color="#f3aeae"/><stop offset="0.525" stop-color="#f09897"/><stop offset="0.55" stop-color="#ed8280"/><stop offset="0.575" stop-color="#ed8381"/><stop offset="0.61" stop-color="#f09c9c"/><stop offset="0.65" stop-color="#f3b1b1"/><stop offset="0.71" stop-color="#f5c1c2"/><stop offset="0.79" stop-color="#f7cecf"/><stop offset="0.89" stop-color="#f8d2d3"/><stop offset="1" stop-color="#f8d3d4"/></linearGradient>
<linearGradient id="h317"><stop offset="0" stop-color="#f8d4d4"/><stop offset="0.1" stop-color="#f8d4d4"/><stop offset="0.2" stop-color="#f8d4d4"/><stop offset="0.28" stop-color="#f8d3d4"/><stop offset="0.35" stop-color="#f8d1d2"/><stop offset="0.41" stop-color="#f7cacb"/><stop offset="0.46" stop-color="#f5bebe"/><stop offset="0.495" stop-color="#f3b0b1"/><stop offset="0.525" stop-color="#f09b9b"/><stop offset="0.55" stop-color="#ed8584"/><stop offset="0.575" stop-color="#ee8685"/><stop offset="0.61" stop-color="#f19e9e"/><stop offset="0.65" stop-color="#f3b3b3"/><stop offset="0.71" stop-color="#f6c3c3"/><stop offset="0.79" stop-color="#f7cfd0"/><stop offset="0.89" stop-color="#f8d3d4"/><stop offset="1" stop-color="#f8d4d4"/></linearGradient>
<linearGradient id="h318"><stop offset="0" stop-color="#f8d4d5"/><stop offset="0.1" stop-color="#f8d4d5"/><stop offset="0.2" stop-color="#f8d4d5"/><stop offset="0.28" stop-color="#f8d4d4"/><stop offset="0.35" stop-color="#f8d2d3"/><stop offset="0.41" stop-color="#f7cccd"/><stop offset="0.46" stop-color="#f5bfc0"/><stop offset="0.495" stop-color="#f3b3b3"/><stop offset="0.525" stop-color="#f19e9e"/><stop offset="0.55" stop-color="#ee8888"/><stop offset="0.575" stop-color="#ee8989"/><stop offset="0.61" stop-color="#f1a1a1"/><stop offset="0.65" stop-color="#f4b5b6"/><stop offset="0.71" stop-color="#f6c4c5"/><stop offset="0.79" stop-color="#f7d0d1"/><stop offset="0.89" stop-color="#f8d3d4"/><stop offset="1" stop-color="#f8d4d5"/></linearGradient>
<linearGradient id="h319"><stop offset="0" stop-color="#f8d4d5"/><stop offset="0.1" stop-color="#f8d4d5"/><stop offset="0.2" stop-color="#f8d4d5"/><stop offset="0.28" stop-color="#f8d4d5"/><stop offset="0.35" stop-color="#f8d3d3"/><stop offset="0.41" stop-color="#f7cdce"/><stop offset="0.46" stop-color="#f5c1c2"/><stop offset="0.495" stop-color="#f4b5b5"/><stop offset="0.525" stop-color="#f1a1a1"/><stop offset="0.55" stop-color="#ee8c8b"/><stop offset="0.575" stop-color="#ee8d8c"/><stop offset="0.61" stop-color="#f1a4a4"/><stop offset="0.65" stop-color="#f4b7b8"/><stop offset="0.71" stop-color="#f6c6c7"/><stop offset="0.79" stop-color="#f8d1d1"/><stop offset="0.89" stop-color="#f8d4d5"/><stop offset="1" stop-color="#f8d4d5"/></linearGradient>
<linearGradient id="h320"><stop offset="0" stop-color="#f8d5d5"/><stop offset="0.1" stop-color="#f8d5d5"/><stop offset="0.2" stop-color="#f8d5d5"/><stop offset="0.28" stop-color="#f8d5d5"/><stop offset="0.35" stop-color="#f8d3d4"/><stop offset="0.41" stop-color="#f7cecf"/><stop offset="0.46" stop-color="#f6c3c4"/><stop offset="0.495" stop-color="#f4b7b8"/><stop offset="0.525" stop-color="#f1a3a4"/><stop offset="0.55" stop-color="#ef8f8f"/><stop offset="0.575" stop-color="#ef9090"/><stop offset="0.61" stop-color="#f2a7a7"/><stop offset="0.65" stop-color="#f4b9ba"/><stop offset="0.71" stop-color="#f6c8c9"/><stop offset="0.79" stop-color="#f8d1d2"/><stop offset="0.89" stop-color="#f8d4d5"/><stop offset="1" stop-color="#f8d5d5"/></linearGradient>
<linearGradient id="h321"><stop offset="0" stop-color="#f8d5d6"/><stop offset="0.1" stop-color="#f8d5d6"/><stop offset="0.2" stop-color="#f8d5d6"/><stop offset="0.28" stop-color="#f8d5d6"/><stop offset="0.35" stop-color="#f8d4d4"/><stop offset="0.41" stop-color="#f7cfd0"/><stop offset="0.46" stop-color="#f6c5c6"/><stop offset="0.495" stop-color="#f4b9ba"/><stop offset="0.525" stop-color="#f2a6a7"/><stop offset="0.55" stop-color="#ef9393"/><stop offset="0.575" stop-color="#ef9494"/><stop offset="0.61" stop-color="#f2aaaa"/><stop offset="0.65" stop-color="#f5bbbc"/><stop offset="0.71" stop-color="#f6c9ca"/><stop offset="0.79" stop-color="#f8d2d3"/><stop offset="0.89" stop-color="#f8d5d5"/><stop offset="1" stop-color="#f8d5d6"/></linearGradient>
<linearGradient id="h322"><stop offset="0" stop-color="#f8d6d6"/><stop offset="0.1" stop-color="#f8d6d6"/><stop offset="0.2" stop-color="#f8d6d6"/><stop offset="0.28" stop-color="#f8d5d6"/><stop offset="0.35" stop-color="#f8d4d5"/><stop offset="0.41" stop-color="#f8d0d1"/><stop offset="0.46" stop-color="#f6c7c7"/><stop offset="0.495" stop-color="#f5bbbc"/><stop offset="0.525" stop-color="#f2a9aa"/><stop offset="0.55" stop-color="#f09696"/><stop offset="0.575" stop-color="#f09797"/><stop offset="0.61" stop-color="#f3adad"/><stop offset="0.65" stop-color="#f5bebe"/><stop offset="0.71" stop-color="#f7cbcc"/><stop offset="0.79" stop-color="#f8d3d4"/><stop offset="0.89" stop-color="#f8d5d6"/><stop offset="1" stop-color="#f8d6d6"/></linearGradient>
<linearGradient id="h323"><stop offset="0" stop-color="#f8d6d6"/><stop offset="0.1" stop-color="#f8d6d6"/><stop offset="0.2" stop-color="#f8d6d6"/><stop offset="0.28" stop-color="#f8d6d6"/><stop offset="0.35" stop-color="#f8d5d5"/><stop offset="0.41" stop-color="#f8d1d2"/><stop offset="0.46" stop-color="#f6c8c9"/><stop offset="0.495" stop-color="#f5bdbe"/><stop offset="0.525" stop-color="#f2abac"/><stop offset="0.55" stop-color="#f09999"/><stop offset="0.575" stop-color="#f09a9a"/><stop offset="0.61" stop-color="#f3aeaf"/><stop offset="0.65" stop-color="#f5bfc0"/><stop offset="0.71" stop-color="#f7cccd"/><stop offset="0.79" stop-color="#f8d3d4"/><stop offset="0.89" stop-color="#f8d6d6"/><stop offset="1" stop-color="#f8d6d6"/></linearGradient>
<linearGradient id="h324" x1="0" y1="0" x2="0" y2="1"><stop offset="0" stop-color="#fadede"/><stop offset="0.3" stop-color="#fae1e1"/><stop offset="1" stop-color="#fbe7e6"/></linearGradient>
<filter id="streak00" x="0" y="0" width="1" height="1" color-interpolation-filters="sRGB"><feTurbulence type="fractalNoise" baseFrequency="0.003 0.5" numOctaves="2" seed="2"/><feColorMatrix type="matrix" values="0 0 0 0 0.945 0 0 0 0 0.976 0 0 0 0 0.933 1.2 0 0 0 -0.56"/></filter>
<filter id="streak01" x="0" y="0" width="1" height="1" color-interpolation-filters="sRGB"><feTurbulence type="fractalNoise" baseFrequency="0.003 0.5" numOctaves="2" seed="3"/><feColorMatrix type="matrix" values="0 0 0 0 0.945 0 0 0 0 0.976 0 0 0 0 0.933 1.4 0 0 0 -0.64"/></filter>
<filter id="streak02" x="0" y="0" width="1" height="1" color-interpolation-filters="sRGB"><feTurbulence type="fractalNoise" baseFrequency="0.003 0.5" numOctaves="2" seed="4"/><feColorMatrix type="matrix" values="0 0 0 0 0.945 0 0 0 0 0.976 0 0 0 0 0.933 1.0 0 0 0 -0.47"/></filter>
<filter id="streak20" x="0" y="0" width="1" height="1" color-interpolation-filters="sRGB"><feTurbulence type="fractalNoise" baseFrequency="0.003 0.5" numOctaves="2" seed="8"/><feColorMatrix type="matrix" values="0 0 0 0 0.988 0 0 0 0 0.973 0 0 0 0 0.988 1.2 0 0 0 -0.56"/></filter>
<filter id="streak21" x="0" y="0" width="1" height="1" color-interpolation-filters="sRGB"><feTurbulence type="fractalNoise" baseFrequency="0.003 0.5" numOctaves="2" seed="9"/><feColorMatrix type="matrix" values="0 0 0 0 0.988 0 0 0 0 0.973 0 0 0 0 0.988 1.4 0 0 0 -0.64"/></filter>
<filter id="streak22" x="0" y="0" width="1" height="1" color-interpolation-filters="sRGB"><feTurbulence type="fractalNoise" baseFrequency="0.003 0.5" numOctaves="2" seed="10"/><feColorMatrix type="matrix" values="0 0 0 0 0.988 0 0 0 0 0.973 0 0 0 0 0.988 1.0 0 0 0 -0.47"/></filter>
<filter id="streak30" x="0" y="0" width="1" height="1" color-interpolation-filters="sRGB"><feTurbulence type="fractalNoise" baseFrequency="0.003 0.5" numOctaves="2" seed="11"/><feColorMatrix type="matrix" values="0 0 0 0 0.992 0 0 0 0 0.949 0 0 0 0 0.945 1.2 0 0 0 -0.56"/></filter>
<filter id="streak31" x="0" y="0" width="1" height="1" color-interpolation-filters="sRGB"><feTurbulence type="fractalNoise" baseFrequency="0.003 0.5" numOctaves="2" seed="12"/><feColorMatrix type="matrix" values="0 0 0 0 0.992 0 0 0 0 0.949 0 0 0 0 0.945 1.4 0 0 0 -0.64"/></filter>
<filter id="streak32" x="0" y="0" width="1" height="1" color-interpolation-filters="sRGB"><feTurbulence type="fractalNoise" baseFrequency="0.003 0.5" numOctaves="2" seed="13"/><feColorMatrix type="matrix" values="0 0 0 0 0.992 0 0 0 0 0.949 0 0 0 0 0.945 1.0 0 0 0 -0.47"/></filter>
<clipPath id="clipA"><rect x="0" y="0" width="2142" height="2711"/></clipPath>
<linearGradient id="h325"><stop offset="0" stop-color="#f1f9ee"/><stop offset="0.2" stop-color="#d3edc6"/><stop offset="0.4" stop-color="#a5d793"/><stop offset="0.6" stop-color="#5fbe64"/><stop offset="0.75" stop-color="#3c9c4b"/><stop offset="0.9" stop-color="#2a7b3c"/><stop offset="1" stop-color="#1d5a2e"/></linearGradient>
<linearGradient id="h326"><stop offset="0" stop-color="#f1f9ee"/><stop offset="0.2" stop-color="#d3edc6"/><stop offset="0.4" stop-color="#a5d793"/><stop offset="0.6" stop-color="#5fbe64"/><stop offset="0.75" stop-color="#3c9c4b"/><stop offset="0.9" stop-color="#2a7b3c"/><stop offset="1" stop-color="#1d5a2e"/></linearGradient>
<linearGradient id="h327"><stop offset="0" stop-color="#fcf8fc"/><stop offset="0.25" stop-color="#e6cdea"/><stop offset="0.5" stop-color="#c692ce"/><stop offset="0.75" stop-color="#a055b0"/><stop offset="1" stop-color="#7c2a90"/></linearGradient>
<linearGradient id="h328"><stop offset="0" stop-color="#fdf2f1"/><stop offset="0.25" stop-color="#f7cdce"/><stop offset="0.5" stop-color="#f09a9a"/><stop offset="0.75" stop-color="#e9605d"/><stop offset="1" stop-color="#e42e28"/></linearGradient>
</defs>
<rect width="2142" height="2711" fill="#fff"/>
<g clip-path="url(#clipA)">
<rect x="252.70" y="154.00" width="207.60" height="10.60" fill="url(#h1)"/>
<rect x="252.70" y="164.00" width="207.60" height="10.60" fill="url(#h2)"/>
<rect x="252.70" y="174.00" width="207.60" height="10.60" fill="url(#h3)"/>
<rect x="252.70" y="184.00" width="207.60" height="10.60" fill="url(#h4)"/>
<rect x="252.70" y="194.00" width="207.60" height="10.60" fill="url(#h5)"/>
<rect x="252.70" y="204.00" width="207.60" height="10.60" fill="url(#h6)"/>
<rect x="252.70" y="214.00" width="207.60" height="10.60" fill="url(#h7)"/>
<rect x="252.70" y="224.00" width="207.60" height="10.60" fill="url(#h8)"/>
<rect x="252.70" y="234.00" width="207.60" height="10.60" fill="url(#h9)"/>
<rect x="252.70" y="244.00" width="207.60" height="10.60" fill="url(#h10)"/>
<rect x="252.70" y="254.00" width="207.60" height="10.60" fill="url(#h11)"/>
<rect x="252.70" y="264.00" width="207.60" height="10.60" fill="url(#h12)"/>
<rect x="252.70" y="274.00" width="207.60" height="10.60" fill="url(#h13)"/>
<rect x="252.70" y="284.00" width="207.60" height="10.60" fill="url(#h14)"/>
<rect x="252.70" y="294.00" width="207.60" height="10.60" fill="url(#h15)"/>
<rect x="252.70" y="304.00" width="207.60" height="10.60" fill="url(#h16)"/>
<rect x="252.70" y="314.00" width="207.60" height="10.60" fill="url(#h17)"/>
<rect x="252.70" y="324.00" width="207.60" height="10.60" fill="url(#h18)"/>
<rect x="252.70" y="334.00" width="207.60" height="10.60" fill="url(#h19)"/>
<rect x="252.70" y="344.00" width="207.60" height="10.60" fill="url(#h20)"/>
<rect x="252.70" y="354.00" width="207.60" height="10.60" fill="url(#h21)"/>
<rect x="252.70" y="364.00" width="207.60" height="10.60" fill="url(#h22)"/>
<rect x="252.70" y="374.00" width="207.60" height="10.60" fill="url(#h23)"/>
<rect x="252.70" y="384.00" width="207.60" height="10.60" fill="url(#h24)"/>
<rect x="252.70" y="394.00" width="207.60" height="10.60" fill="url(#h25)"/>
<rect x="252.70" y="404.00" width="207.60" height="10.60" fill="url(#h26)"/>
<rect x="252.70" y="414.00" width="207.60" height="10.60" fill="url(#h27)"/>
<rect x="252.70" y="424.00" width="207.60" height="10.60" fill="url(#h28)"/>
<rect x="252.70" y="434.00" width="207.60" height="10.60" fill="url(#h29)"/>
<rect x="252.70" y="444.00" width="207.60" height="10.60" fill="url(#h30)"/>
<rect x="252.70" y="454.00" width="207.60" height="10.60" fill="url(#h31)"/>
<rect x="252.70" y="464.00" width="207.60" height="10.60" fill="url(#h32)"/>
<rect x="252.70" y="474.00" width="207.60" height="10.60" fill="url(#h33)"/>
<rect x="252.70" y="484.00" width="207.60" height="10.60" fill="url(#h34)"/>
<rect x="252.70" y="494.00" width="207.60" height="10.60" fill="url(#h35)"/>
<rect x="252.70" y="504.00" width="207.60" height="10.60" fill="url(#h36)"/>
<rect x="252.70" y="514.00" width="207.60" height="10.60" fill="url(#h37)"/>
<rect x="252.70" y="524.00" width="207.60" height="10.60" fill="url(#h38)"/>
<rect x="252.70" y="534.00" width="207.60" height="10.60" fill="url(#h39)"/>
<rect x="252.70" y="544.00" width="207.60" height="10.60" fill="url(#h40)"/>
<rect x="252.70" y="554.00" width="207.60" height="10.60" fill="url(#h41)"/>
<rect x="252.70" y="564.00" width="207.60" height="10.60" fill="url(#h42)"/>
<rect x="252.70" y="574.00" width="207.60" height="10.60" fill="url(#h43)"/>
<rect x="252.70" y="584.00" width="207.60" height="10.60" fill="url(#h44)"/>
<rect x="252.70" y="594.00" width="207.60" height="10.60" fill="url(#h45)"/>
<rect x="252.70" y="604.00" width="207.60" height="10.60" fill="url(#h46)"/>
<rect x="252.70" y="614.00" width="207.60" height="10.60" fill="url(#h47)"/>
<rect x="252.70" y="624.00" width="207.60" height="10.60" fill="url(#h48)"/>
<rect x="252.70" y="634.00" width="207.60" height="10.60" fill="url(#h49)"/>
<rect x="252.70" y="644.00" width="207.60" height="10.60" fill="url(#h50)"/>
<rect x="252.70" y="654.00" width="207.60" height="10.60" fill="url(#h51)"/>
<rect x="252.70" y="664.00" width="207.60" height="10.60" fill="url(#h52)"/>
<rect x="252.70" y="674.00" width="207.60" height="10.60" fill="url(#h53)"/>
<rect x="252.70" y="684.00" width="207.60" height="10.60" fill="url(#h54)"/>
<rect x="252.70" y="694.00" width="207.60" height="10.60" fill="url(#h55)"/>
<rect x="252.70" y="704.00" width="207.60" height="10.60" fill="url(#h56)"/>
<rect x="252.70" y="714.00" width="207.60" height="10.60" fill="url(#h57)"/>
<rect x="252.70" y="724.00" width="207.60" height="9.10" fill="url(#h58)"/>
<rect x="252.70" y="154.00" width="207.60" height="578.50" fill="#fff" filter="url(#streak00)"/>
<rect x="252.70" y="154.00" width="207.60" height="578.50" fill="none" stroke="#1a1a1a" stroke-width="3.4"/>
<rect x="252.70" y="745.90" width="207.60" height="6.60" fill="url(#h59)"/>
<rect x="252.70" y="751.90" width="207.60" height="6.60" fill="url(#h60)"/>
<rect x="252.70" y="757.90" width="207.60" height="6.60" fill="url(#h61)"/>
<rect x="252.70" y="763.90" width="207.60" height="6.60" fill="url(#h62)"/>
<rect x="252.70" y="769.90" width="207.60" height="6.60" fill="url(#h63)"/>
<rect x="252.70" y="775.90" width="207.60" height="6.60" fill="url(#h64)"/>
<rect x="252.70" y="781.90" width="207.60" height="6.60" fill="url(#h65)"/>
<rect x="252.70" y="787.90" width="207.60" height="6.60" fill="url(#h66)"/>
<rect x="252.70" y="793.90" width="207.60" height="6.60" fill="url(#h67)"/>
<rect x="252.70" y="799.90" width="207.60" height="6.60" fill="url(#h68)"/>
<rect x="252.70" y="805.90" width="207.60" height="6.60" fill="url(#h69)"/>
<rect x="252.70" y="811.90" width="207.60" height="6.60" fill="url(#h70)"/>
<rect x="252.70" y="817.90" width="207.60" height="6.60" fill="url(#h71)"/>
<rect x="252.70" y="823.90" width="207.60" height="6.60" fill="url(#h72)"/>
<rect x="252.70" y="829.90" width="207.60" height="6.60" fill="url(#h73)"/>
<rect x="252.70" y="835.90" width="207.60" height="6.60" fill="url(#h74)"/>
<rect x="252.70" y="841.90" width="207.60" height="6.60" fill="url(#h75)"/>
<rect x="252.70" y="847.90" width="207.60" height="6.60" fill="url(#h76)"/>
<rect x="252.70" y="853.90" width="207.60" height="6.60" fill="url(#h77)"/>
<rect x="252.70" y="859.90" width="207.60" height="6.60" fill="url(#h78)"/>
<rect x="252.70" y="865.90" width="207.60" height="6.60" fill="url(#h79)"/>
<rect x="252.70" y="871.90" width="207.60" height="6.60" fill="url(#h80)"/>
<rect x="252.70" y="877.90" width="207.60" height="6.60" fill="url(#h81)"/>
<rect x="252.70" y="883.90" width="207.60" height="6.60" fill="url(#h82)"/>
<rect x="252.70" y="889.90" width="207.60" height="6.60" fill="url(#h83)"/>
<rect x="252.70" y="895.90" width="207.60" height="6.60" fill="url(#h84)"/>
<rect x="252.70" y="901.90" width="207.60" height="6.60" fill="url(#h85)"/>
<rect x="252.70" y="907.90" width="207.60" height="6.60" fill="url(#h86)"/>
<rect x="252.70" y="913.90" width="207.60" height="6.60" fill="url(#h87)"/>
<rect x="252.70" y="919.90" width="207.60" height="6.60" fill="url(#h88)"/>
<rect x="252.70" y="925.90" width="207.60" height="6.60" fill="url(#h89)"/>
<rect x="252.70" y="931.90" width="207.60" height="6.60" fill="url(#h90)"/>
<rect x="252.70" y="937.90" width="207.60" height="6.60" fill="url(#h91)"/>
<rect x="252.70" y="943.90" width="207.60" height="6.60" fill="url(#h92)"/>
<rect x="252.70" y="949.90" width="207.60" height="6.60" fill="url(#h93)"/>
<rect x="252.70" y="955.90" width="207.60" height="6.60" fill="url(#h94)"/>
<rect x="252.70" y="961.90" width="207.60" height="6.60" fill="url(#h95)"/>
<rect x="252.70" y="967.90" width="207.60" height="6.60" fill="url(#h96)"/>
<rect x="252.70" y="973.90" width="207.60" height="6.60" fill="url(#h97)"/>
<rect x="252.70" y="979.90" width="207.60" height="6.60" fill="url(#h98)"/>
<rect x="252.70" y="985.90" width="207.60" height="6.60" fill="url(#h99)"/>
<rect x="252.70" y="991.90" width="207.60" height="6.60" fill="url(#h100)"/>
<rect x="252.70" y="997.90" width="207.60" height="6.60" fill="url(#h101)"/>
<rect x="252.70" y="1003.90" width="207.60" height="6.60" fill="url(#h102)"/>
<rect x="252.70" y="1009.90" width="207.60" height="6.60" fill="url(#h103)"/>
<rect x="252.70" y="1015.90" width="207.60" height="6.60" fill="url(#h104)"/>
<rect x="252.70" y="1021.90" width="207.60" height="6.60" fill="url(#h105)"/>
<rect x="252.70" y="1027.90" width="207.60" height="2.60" fill="url(#h106)"/>
<rect x="252.70" y="745.90" width="207.60" height="284.00" fill="#fff" filter="url(#streak01)"/>
<rect x="252.70" y="745.90" width="207.60" height="284.00" fill="none" stroke="#1a1a1a" stroke-width="3.4"/>
<rect x="252.70" y="1044.00" width="207.60" height="342.10" fill="url(#h107)"/>
<rect x="252.70" y="1044.00" width="207.60" height="342.10" fill="none" stroke="#1a1a1a" stroke-width="3.4"/>
<rect x="481.20" y="154.00" width="207.10" height="578.50" fill="url(#h108)"/>
<rect x="481.20" y="154.00" width="207.10" height="578.50" fill="none" stroke="#1a1a1a" stroke-width="3.4"/>
<rect x="481.20" y="745.90" width="207.10" height="284.00" fill="url(#h109)"/>
<rect x="481.20" y="745.90" width="207.10" height="284.00" fill="none" stroke="#1a1a1a" stroke-width="3.4"/>
<rect x="481.20" y="1044.00" width="207.10" height="342.10" fill="url(#h110)"/>
<rect x="481.20" y="1044.00" width="207.10" height="342.10" fill="none" stroke="#1a1a1a" stroke-width="3.4"/>
<rect x="708.40" y="155.20" width="204.60" height="10.60" fill="url(#h111)"/>
<rect x="708.40" y="165.20" width="204.60" height="10.60" fill="url(#h112)"/>
<rect x="708.40" y="175.20" width="204.60" height="10.60" fill="url(#h113)"/>
<rect x="708.40" y="185.20" width="204.60" height="10.60" fill="url(#h114)"/>
<rect x="708.40" y="195.20" width="204.60" height="10.60" fill="url(#h115)"/>
<rect x="708.40" y="205.20" width="204.60" height="10.60" fill="url(#h116)"/>
<rect x="708.40" y="215.20" width="204.60" height="10.60" fill="url(#h117)"/>
<rect x="708.40" y="225.20" width="204.60" height="10.60" fill="url(#h118)"/>
<rect x="708.40" y="235.20" width="204.60" height="10.60" fill="url(#h119)"/>
<rect x="708.40" y="245.20" width="204.60" height="10.60" fill="url(#h120)"/>
<rect x="708.40" y="255.20" width="204.60" height="10.60" fill="url(#h121)"/>
<rect x="708.40" y="265.20" width="204.60" height="10.60" fill="url(#h122)"/>
<rect x="708.40" y="275.20" width="204.60" height="10.60" fill="url(#h123)"/>
<rect x="708.40" y="285.20" width="204.60" height="10.60" fill="url(#h124)"/>
<rect x="708.40" y="295.20" width="204.60" height="10.60" fill="url(#h125)"/>
<rect x="708.40" y="305.20" width="204.60" height="10.60" fill="url(#h126)"/>
<rect x="708.40" y="315.20" width="204.60" height="10.60" fill="url(#h127)"/>
<rect x="708.40" y="325.20" width="204.60" height="10.60" fill="url(#h128)"/>
<rect x="708.40" y="335.20" width="204.60" height="10.60" fill="url(#h129)"/>
<rect x="708.40" y="345.20" width="204.60" height="10.60" fill="url(#h130)"/>
<rect x="708.40" y="355.20" width="204.60" height="10.60" fill="url(#h131)"/>
<rect x="708.40" y="365.20" width="204.60" height="10.60" fill="url(#h132)"/>
<rect x="708.40" y="375.20" width="204.60" height="10.60" fill="url(#h133)"/>
<rect x="708.40" y="385.20" width="204.60" height="10.60" fill="url(#h134)"/>
<rect x="708.40" y="395.20" width="204.60" height="10.60" fill="url(#h135)"/>
<rect x="708.40" y="405.20" width="204.60" height="10.60" fill="url(#h136)"/>
<rect x="708.40" y="415.20" width="204.60" height="10.60" fill="url(#h137)"/>
<rect x="708.40" y="425.20" width="204.60" height="10.60" fill="url(#h138)"/>
<rect x="708.40" y="435.20" width="204.60" height="10.60" fill="url(#h139)"/>
<rect x="708.40" y="445.20" width="204.60" height="10.60" fill="url(#h140)"/>
<rect x="708.40" y="455.20" width="204.60" height="10.60" fill="url(#h141)"/>
<rect x="708.40" y="465.20" width="204.60" height="10.60" fill="url(#h142)"/>
<rect x="708.40" y="475.20" width="204.60" height="10.60" fill="url(#h143)"/>
<rect x="708.40" y="485.20" width="204.60" height="10.60" fill="url(#h144)"/>
<rect x="708.40" y="495.20" width="204.60" height="10.60" fill="url(#h145)"/>
<rect x="708.40" y="505.20" width="204.60" height="10.60" fill="url(#h146)"/>
<rect x="708.40" y="515.20" width="204.60" height="10.60" fill="url(#h147)"/>
<rect x="708.40" y="525.20" width="204.60" height="10.60" fill="url(#h148)"/>
<rect x="708.40" y="535.20" width="204.60" height="10.60" fill="url(#h149)"/>
<rect x="708.40" y="545.20" width="204.60" height="10.60" fill="url(#h150)"/>
<rect x="708.40" y="555.20" width="204.60" height="10.60" fill="url(#h151)"/>
<rect x="708.40" y="565.20" width="204.60" height="10.60" fill="url(#h152)"/>
<rect x="708.40" y="575.20" width="204.60" height="10.60" fill="url(#h153)"/>
<rect x="708.40" y="585.20" width="204.60" height="10.60" fill="url(#h154)"/>
<rect x="708.40" y="595.20" width="204.60" height="10.60" fill="url(#h155)"/>
<rect x="708.40" y="605.20" width="204.60" height="10.60" fill="url(#h156)"/>
<rect x="708.40" y="615.20" width="204.60" height="10.60" fill="url(#h157)"/>
<rect x="708.40" y="625.20" width="204.60" height="10.60" fill="url(#h158)"/>
<rect x="708.40" y="635.20" width="204.60" height="10.60" fill="url(#h159)"/>
<rect x="708.40" y="645.20" width="204.60" height="10.60" fill="url(#h160)"/>
<rect x="708.40" y="655.20" width="204.60" height="10.60" fill="url(#h161)"/>
<rect x="708.40" y="665.20" width="204.60" height="10.60" fill="url(#h162)"/>
<rect x="708.40" y="675.20" width="204.60" height="10.60" fill="url(#h163)"/>
<rect x="708.40" y="685.20" width="204.60" height="10.60" fill="url(#h164)"/>
<rect x="708.40" y="695.20" width="204.60" height="10.60" fill="url(#h165)"/>
<rect x="708.40" y="705.20" width="204.60" height="10.60" fill="url(#h166)"/>
<rect x="708.40" y="715.20" width="204.60" height="10.60" fill="url(#h167)"/>
<rect x="708.40" y="725.20" width="204.60" height="8.60" fill="url(#h168)"/>
<rect x="708.40" y="155.20" width="204.60" height="578.00" fill="#fff" filter="url(#streak20)"/>
<rect x="708.40" y="155.20" width="204.60" height="578.00" fill="none" stroke="#1a1a1a" stroke-width="4"/>
<rect x="708.40" y="746.60" width="204.60" height="6.60" fill="url(#h169)"/>
<rect x="708.40" y="752.60" width="204.60" height="6.60" fill="url(#h170)"/>
<rect x="708.40" y="758.60" width="204.60" height="6.60" fill="url(#h171)"/>
<rect x="708.40" y="764.60" width="204.60" height="6.60" fill="url(#h172)"/>
<rect x="708.40" y="770.60" width="204.60" height="6.60" fill="url(#h173)"/>
<rect x="708.40" y="776.60" width="204.60" height="6.60" fill="url(#h174)"/>
<rect x="708.40" y="782.60" width="204.60" height="6.60" fill="url(#h175)"/>
<rect x="708.40" y="788.60" width="204.60" height="6.60" fill="url(#h176)"/>
<rect x="708.40" y="794.60" width="204.60" height="6.60" fill="url(#h177)"/>
<rect x="708.40" y="800.60" width="204.60" height="6.60" fill="url(#h178)"/>
<rect x="708.40" y="806.60" width="204.60" height="6.60" fill="url(#h179)"/>
<rect x="708.40" y="812.60" width="204.60" height="6.60" fill="url(#h180)"/>
<rect x="708.40" y="818.60" width="204.60" height="6.60" fill="url(#h181)"/>
<rect x="708.40" y="824.60" width="204.60" height="6.60" fill="url(#h182)"/>
<rect x="708.40" y="830.60" width="204.60" height="6.60" fill="url(#h183)"/>
<rect x="708.40" y="836.60" width="204.60" height="6.60" fill="url(#h184)"/>
<rect x="708.40" y="842.60" width="204.60" height="6.60" fill="url(#h185)"/>
<rect x="708.40" y="848.60" width="204.60" height="6.60" fill="url(#h186)"/>
<rect x="708.40" y="854.60" width="204.60" height="6.60" fill="url(#h187)"/>
<rect x="708.40" y="860.60" width="204.60" height="6.60" fill="url(#h188)"/>
<rect x="708.40" y="866.60" width="204.60" height="6.60" fill="url(#h189)"/>
<rect x="708.40" y="872.60" width="204.60" height="6.60" fill="url(#h190)"/>
<rect x="708.40" y="878.60" width="204.60" height="6.60" fill="url(#h191)"/>
<rect x="708.40" y="884.60" width="204.60" height="6.60" fill="url(#h192)"/>
<rect x="708.40" y="890.60" width="204.60" height="6.60" fill="url(#h193)"/>
<rect x="708.40" y="896.60" width="204.60" height="6.60" fill="url(#h194)"/>
<rect x="708.40" y="902.60" width="204.60" height="6.60" fill="url(#h195)"/>
<rect x="708.40" y="908.60" width="204.60" height="6.60" fill="url(#h196)"/>
<rect x="708.40" y="914.60" width="204.60" height="6.60" fill="url(#h197)"/>
<rect x="708.40" y="920.60" width="204.60" height="6.60" fill="url(#h198)"/>
<rect x="708.40" y="926.60" width="204.60" height="6.60" fill="url(#h199)"/>
<rect x="708.40" y="932.60" width="204.60" height="6.60" fill="url(#h200)"/>
<rect x="708.40" y="938.60" width="204.60" height="6.60" fill="url(#h201)"/>
<rect x="708.40" y="944.60" width="204.60" height="6.60" fill="url(#h202)"/>
<rect x="708.40" y="950.60" width="204.60" height="6.60" fill="url(#h203)"/>
<rect x="708.40" y="956.60" width="204.60" height="6.60" fill="url(#h204)"/>
<rect x="708.40" y="962.60" width="204.60" height="6.60" fill="url(#h205)"/>
<rect x="708.40" y="968.60" width="204.60" height="6.60" fill="url(#h206)"/>
<rect x="708.40" y="974.60" width="204.60" height="6.60" fill="url(#h207)"/>
<rect x="708.40" y="980.60" width="204.60" height="6.60" fill="url(#h208)"/>
<rect x="708.40" y="986.60" width="204.60" height="6.60" fill="url(#h209)"/>
<rect x="708.40" y="992.60" width="204.60" height="6.60" fill="url(#h210)"/>
<rect x="708.40" y="998.60" width="204.60" height="6.60" fill="url(#h211)"/>
<rect x="708.40" y="1004.60" width="204.60" height="6.60" fill="url(#h212)"/>
<rect x="708.40" y="1010.60" width="204.60" height="6.60" fill="url(#h213)"/>
<rect x="708.40" y="1016.60" width="204.60" height="6.60" fill="url(#h214)"/>
<rect x="708.40" y="1022.60" width="204.60" height="6.60" fill="url(#h215)"/>
<rect x="708.40" y="1028.60" width="204.60" height="2.60" fill="url(#h216)"/>
<rect x="708.40" y="746.60" width="204.60" height="284.00" fill="#fff" filter="url(#streak21)"/>
<rect x="708.40" y="746.60" width="204.60" height="284.00" fill="none" stroke="#1a1a1a" stroke-width="4"/>
<rect x="708.40" y="1045.50" width="204.60" height="341.50" fill="url(#h217)"/>
<rect x="708.40" y="1045.50" width="204.60" height="341.50" fill="none" stroke="#1a1a1a" stroke-width="4"/>
<rect x="933.00" y="155.20" width="204.00" height="10.60" fill="url(#h218)"/>
<rect x="933.00" y="165.20" width="204.00" height="10.60" fill="url(#h219)"/>
<rect x="933.00" y="175.20" width="204.00" height="10.60" fill="url(#h220)"/>
<rect x="933.00" y="185.20" width="204.00" height="10.60" fill="url(#h221)"/>
<rect x="933.00" y="195.20" width="204.00" height="10.60" fill="url(#h222)"/>
<rect x="933.00" y="205.20" width="204.00" height="10.60" fill="url(#h223)"/>
<rect x="933.00" y="215.20" width="204.00" height="10.60" fill="url(#h224)"/>
<rect x="933.00" y="225.20" width="204.00" height="10.60" fill="url(#h225)"/>
<rect x="933.00" y="235.20" width="204.00" height="10.60" fill="url(#h226)"/>
<rect x="933.00" y="245.20" width="204.00" height="10.60" fill="url(#h227)"/>
<rect x="933.00" y="255.20" width="204.00" height="10.60" fill="url(#h228)"/>
<rect x="933.00" y="265.20" width="204.00" height="10.60" fill="url(#h229)"/>
<rect x="933.00" y="275.20" width="204.00" height="10.60" fill="url(#h230)"/>
<rect x="933.00" y="285.20" width="204.00" height="10.60" fill="url(#h231)"/>
<rect x="933.00" y="295.20" width="204.00" height="10.60" fill="url(#h232)"/>
<rect x="933.00" y="305.20" width="204.00" height="10.60" fill="url(#h233)"/>
<rect x="933.00" y="315.20" width="204.00" height="10.60" fill="url(#h234)"/>
<rect x="933.00" y="325.20" width="204.00" height="10.60" fill="url(#h235)"/>
<rect x="933.00" y="335.20" width="204.00" height="10.60" fill="url(#h236)"/>
<rect x="933.00" y="345.20" width="204.00" height="10.60" fill="url(#h237)"/>
<rect x="933.00" y="355.20" width="204.00" height="10.60" fill="url(#h238)"/>
<rect x="933.00" y="365.20" width="204.00" height="10.60" fill="url(#h239)"/>
<rect x="933.00" y="375.20" width="204.00" height="10.60" fill="url(#h240)"/>
<rect x="933.00" y="385.20" width="204.00" height="10.60" fill="url(#h241)"/>
<rect x="933.00" y="395.20" width="204.00" height="10.60" fill="url(#h242)"/>
<rect x="933.00" y="405.20" width="204.00" height="10.60" fill="url(#h243)"/>
<rect x="933.00" y="415.20" width="204.00" height="10.60" fill="url(#h244)"/>
<rect x="933.00" y="425.20" width="204.00" height="10.60" fill="url(#h245)"/>
<rect x="933.00" y="435.20" width="204.00" height="10.60" fill="url(#h246)"/>
<rect x="933.00" y="445.20" width="204.00" height="10.60" fill="url(#h247)"/>
<rect x="933.00" y="455.20" width="204.00" height="10.60" fill="url(#h248)"/>
<rect x="933.00" y="465.20" width="204.00" height="10.60" fill="url(#h249)"/>
<rect x="933.00" y="475.20" width="204.00" height="10.60" fill="url(#h250)"/>
<rect x="933.00" y="485.20" width="204.00" height="10.60" fill="url(#h251)"/>
<rect x="933.00" y="495.20" width="204.00" height="10.60" fill="url(#h252)"/>
<rect x="933.00" y="505.20" width="204.00" height="10.60" fill="url(#h253)"/>
<rect x="933.00" y="515.20" width="204.00" height="10.60" fill="url(#h254)"/>
<rect x="933.00" y="525.20" width="204.00" height="10.60" fill="url(#h255)"/>
<rect x="933.00" y="535.20" width="204.00" height="10.60" fill="url(#h256)"/>
<rect x="933.00" y="545.20" width="204.00" height="10.60" fill="url(#h257)"/>
<rect x="933.00" y="555.20" width="204.00" height="10.60" fill="url(#h258)"/>
<rect x="933.00" y="565.20" width="204.00" height="10.60" fill="url(#h259)"/>
<rect x="933.00" y="575.20" width="204.00" height="10.60" fill="url(#h260)"/>
<rect x="933.00" y="585.20" width="204.00" height="10.60" fill="url(#h261)"/>
<rect x="933.00" y="595.20" width="204.00" height="10.60" fill="url(#h262)"/>
<rect x="933.00" y="605.20" width="204.00" height="10.60" fill="url(#h263)"/>
<rect x="933.00" y="615.20" width="204.00" height="10.60" fill="url(#h264)"/>
<rect x="933.00" y="625.20" width="204.00" height="10.60" fill="url(#h265)"/>
<rect x="933.00" y="635.20" width="204.00" height="10.60" fill="url(#h266)"/>
<rect x="933.00" y="645.20" width="204.00" height="10.60" fill="url(#h267)"/>
<rect x="933.00" y="655.20" width="204.00" height="10.60" fill="url(#h268)"/>
<rect x="933.00" y="665.20" width="204.00" height="10.60" fill="url(#h269)"/>
<rect x="933.00" y="675.20" width="204.00" height="10.60" fill="url(#h270)"/>
<rect x="933.00" y="685.20" width="204.00" height="10.60" fill="url(#h271)"/>
<rect x="933.00" y="695.20" width="204.00" height="10.60" fill="url(#h272)"/>
<rect x="933.00" y="705.20" width="204.00" height="10.60" fill="url(#h273)"/>
<rect x="933.00" y="715.20" width="204.00" height="10.60" fill="url(#h274)"/>
<rect x="933.00" y="725.20" width="204.00" height="8.60" fill="url(#h275)"/>
<rect x="933.00" y="155.20" width="204.00" height="578.00" fill="#fff" filter="url(#streak30)"/>
<rect x="933.00" y="155.20" width="204.00" height="578.00" fill="none" stroke="#1a1a1a" stroke-width="4"/>
<rect x="933.00" y="746.60" width="204.00" height="6.60" fill="url(#h276)"/>
<rect x="933.00" y="752.60" width="204.00" height="6.60" fill="url(#h277)"/>
<rect x="933.00" y="758.60" width="204.00" height="6.60" fill="url(#h278)"/>
<rect x="933.00" y="764.60" width="204.00" height="6.60" fill="url(#h279)"/>
<rect x="933.00" y="770.60" width="204.00" height="6.60" fill="url(#h280)"/>
<rect x="933.00" y="776.60" width="204.00" height="6.60" fill="url(#h281)"/>
<rect x="933.00" y="782.60" width="204.00" height="6.60" fill="url(#h282)"/>
<rect x="933.00" y="788.60" width="204.00" height="6.60" fill="url(#h283)"/>
<rect x="933.00" y="794.60" width="204.00" height="6.60" fill="url(#h284)"/>
<rect x="933.00" y="800.60" width="204.00" height="6.60" fill="url(#h285)"/>
<rect x="933.00" y="806.60" width="204.00" height="6.60" fill="url(#h286)"/>
<rect x="933.00" y="812.60" width="204.00" height="6.60" fill="url(#h287)"/>
<rect x="933.00" y="818.60" width="204.00" height="6.60" fill="url(#h288)"/>
<rect x="933.00" y="824.60" width="204.00" height="6.60" fill="url(#h289)"/>
<rect x="933.00" y="830.60" width="204.00" height="6.60" fill="url(#h290)"/>
<rect x="933.00" y="836.60" width="204.00" height="6.60" fill="url(#h291)"/>
<rect x="933.00" y="842.60" width="204.00" height="6.60" fill="url(#h292)"/>
<rect x="933.00" y="848.60" width="204.00" height="6.60" fill="url(#h293)"/>
<rect x="933.00" y="854.60" width="204.00" height="6.60" fill="url(#h294)"/>
<rect x="933.00" y="860.60" width="204.00" height="6.60" fill="url(#h295)"/>
<rect x="933.00" y="866.60" width="204.00" height="6.60" fill="url(#h296)"/>
<rect x="933.00" y="872.60" width="204.00" height="6.60" fill="url(#h297)"/>
<rect x="933.00" y="878.60" width="204.00" height="6.60" fill="url(#h298)"/>
<rect x="933.00" y="884.60" width="204.00" height="6.60" fill="url(#h299)"/>
<rect x="933.00" y="890.60" width="204.00" height="6.60" fill="url(#h300)"/>
<rect x="933.00" y="896.60" width="204.00" height="6.60" fill="url(#h301)"/>
<rect x="933.00" y="902.60" width="204.00" height="6.60" fill="url(#h302)"/>
<rect x="933.00" y="908.60" width="204.00" height="6.60" fill="url(#h303)"/>
<rect x="933.00" y="914.60" width="204.00" height="6.60" fill="url(#h304)"/>
<rect x="933.00" y="920.60" width="204.00" height="6.60" fill="url(#h305)"/>
<rect x="933.00" y="926.60" width="204.00" height="6.60" fill="url(#h306)"/>
<rect x="933.00" y="932.60" width="204.00" height="6.60" fill="url(#h307)"/>
<rect x="933.00" y="938.60" width="204.00" height="6.60" fill="url(#h308)"/>
<rect x="933.00" y="944.60" width="204.00" height="6.60" fill="url(#h309)"/>
<rect x="933.00" y="950.60" width="204.00" height="6.60" fill="url(#h310)"/>
<rect x="933.00" y="956.60" width="204.00" height="6.60" fill="url(#h311)"/>
<rect x="933.00" y="962.60" width="204.00" height="6.60" fill="url(#h312)"/>
<rect x="933.00" y="968.60" width="204.00" height="6.60" fill="url(#h313)"/>
<rect x="933.00" y="974.60" width="204.00" height="6.60" fill="url(#h314)"/>
<rect x="933.00" y="980.60" width="204.00" height="6.60" fill="url(#h315)"/>
<rect x="933.00" y="986.60" width="204.00" height="6.60" fill="url(#h316)"/>
<rect x="933.00" y="992.60" width="204.00" height="6.60" fill="url(#h317)"/>
<rect x="933.00" y="998.60" width="204.00" height="6.60" fill="url(#h318)"/>
<rect x="933.00" y="1004.60" width="204.00" height="6.60" fill="url(#h319)"/>
<rect x="933.00" y="1010.60" width="204.00" height="6.60" fill="url(#h320)"/>
<rect x="933.00" y="1016.60" width="204.00" height="6.60" fill="url(#h321)"/>
<rect x="933.00" y="1022.60" width="204.00" height="6.60" fill="url(#h322)"/>
<rect x="933.00" y="1028.60" width="204.00" height="2.60" fill="url(#h323)"/>
<rect x="933.00" y="746.60" width="204.00" height="284.00" fill="#fff" filter="url(#streak31)"/>
<rect x="933.00" y="746.60" width="204.00" height="284.00" fill="none" stroke="#1a1a1a" stroke-width="4"/>
<rect x="933.00" y="1045.50" width="204.00" height="341.50" fill="url(#h324)"/>
<rect x="933.00" y="1045.50" width="204.00" height="341.50" fill="none" stroke="#1a1a1a" stroke-width="4"/>
</g>
<text x="471.50" y="52.50" font-size="52" text-anchor="middle" fill="#1a1a1a">RING1B</text>
<text x="362.50" y="121.50" font-size="52" text-anchor="middle" fill="#1a1a1a">UNT</text>
<text x="577.80" y="121.50" font-size="52" text-anchor="middle" fill="#1a1a1a">IAA</text>
<text x="810.75" y="52.50" font-size="52" text-anchor="middle" fill="#1a1a1a">RYBP</text>
<text x="815.50" y="121.50" font-size="52" text-anchor="middle" fill="#1a1a1a">(ncPRC1)</text>
<text x="1043.00" y="52.50" font-size="52" text-anchor="middle" fill="#1a1a1a">PHC1</text>
<text x="1049.50" y="121.50" font-size="52" text-anchor="middle" fill="#1a1a1a">(cPRC1)</text>
<text transform="translate(0.7 50.5) scale(0.945 1.056)" font-size="75" font-weight="bold" fill="#1a1a1a">a</text>
<text transform="translate(1295.5 61.6) scale(1.055 1.06)" font-size="75" font-weight="bold" fill="#1a1a1a">b</text>
<text transform="translate(1296.1 1022.3) scale(1.058 1.054)" font-size="75" font-weight="bold" fill="#1a1a1a">c</text>
<text transform="translate(1299 1872.6) scale(1.047 1.06)" font-size="75" font-weight="bold" fill="#1a1a1a">d</text>
<rect x="82.6" y="158" width="5.8" height="1228.5" fill="#000"/>
<text transform="translate(67.00 773.50) rotate(-90)" font-size="54.8" text-anchor="middle" fill="#1a1a1a">20,633 TSSs</text>
<text transform="translate(168.00 443.50) rotate(-90)" font-size="52" text-anchor="middle" fill="#1a1a1a">non-Polycomb</text>
<text transform="translate(219.70 442.50) rotate(-90)" font-size="52" text-anchor="middle" fill="#1a1a1a">(9898)</text>
<text transform="translate(168.00 883.00) rotate(-90)" font-size="52" text-anchor="middle" fill="#1a1a1a">Polycomb</text>
<text transform="translate(219.70 879.50) rotate(-90)" font-size="52" text-anchor="middle" fill="#1a1a1a">(4868)</text>
<text transform="translate(168.00 1206.00) rotate(-90)" font-size="52" text-anchor="middle" fill="#1a1a1a">non-CGI</text>
<text transform="translate(219.70 1204.00) rotate(-90)" font-size="52" text-anchor="middle" fill="#1a1a1a">(5867)</text>
<rect x="253.50" y="1386.80" width="3.8" height="6.6" fill="#1a1a1a"/>
<rect x="354.90" y="1386.80" width="3.8" height="6.6" fill="#1a1a1a"/>
<rect x="456.10" y="1386.80" width="3.8" height="6.6" fill="#1a1a1a"/>
<text x="250.70" y="1418.00" font-size="31.5" fill="#1a1a1a">-2.5</text>
<text x="360.80" y="1418.00" font-size="31.5" text-anchor="middle" fill="#1a1a1a">TSS</text>
<text x="475.30" y="1418.00" font-size="31.5" text-anchor="end" fill="#1a1a1a">2.5</text>
<rect x="482.00" y="1386.80" width="3.8" height="6.6" fill="#1a1a1a"/>
<rect x="583.15" y="1386.80" width="3.8" height="6.6" fill="#1a1a1a"/>
<rect x="684.10" y="1386.80" width="3.8" height="6.6" fill="#1a1a1a"/>
<text x="479.20" y="1418.00" font-size="31.5" fill="#1a1a1a">-2.5</text>
<text x="589.05" y="1418.00" font-size="31.5" text-anchor="middle" fill="#1a1a1a">TSS</text>
<text x="703.30" y="1418.00" font-size="31.5" text-anchor="end" fill="#1a1a1a">2.5</text>
<rect x="708.90" y="1388.00" width="3.8" height="6.6" fill="#1a1a1a"/>
<rect x="809.10" y="1388.00" width="3.8" height="6.6" fill="#1a1a1a"/>
<rect x="909.10" y="1388.00" width="3.8" height="6.6" fill="#1a1a1a"/>
<text x="706.10" y="1418.00" font-size="31.5" fill="#1a1a1a">-2.5</text>
<text x="815.00" y="1418.00" font-size="31.5" text-anchor="middle" fill="#1a1a1a">TSS</text>
<text x="928.30" y="1418.00" font-size="31.5" text-anchor="end" fill="#1a1a1a">2.5</text>
<rect x="933.50" y="1388.00" width="3.8" height="6.6" fill="#1a1a1a"/>
<rect x="1033.40" y="1388.00" width="3.8" height="6.6" fill="#1a1a1a"/>
<rect x="1133.10" y="1388.00" width="3.8" height="6.6" fill="#1a1a1a"/>
<text x="930.70" y="1418.00" font-size="31.5" fill="#1a1a1a">-2.5</text>
<text x="1039.30" y="1418.00" font-size="31.5" text-anchor="middle" fill="#1a1a1a">TSS</text>
<text x="1152.30" y="1418.00" font-size="31.5" text-anchor="end" fill="#1a1a1a">2.5</text>
<rect x="253.00" y="1472.50" width="207.00" height="18.50" fill="url(#h325)" stroke="#1a1a1a" stroke-width="4"/>
<rect x="251.75" y="1492.00" width="4" height="6.7" fill="#1a1a1a"/>
<text x="262.00" y="1523.75" font-size="30.5" text-anchor="middle" fill="#1a1a1a">0</text>
<rect x="334.25" y="1492.00" width="4" height="6.7" fill="#1a1a1a"/>
<text x="342.20" y="1523.75" font-size="30.5" text-anchor="middle" fill="#1a1a1a">40</text>
<rect x="417.00" y="1492.00" width="4" height="6.7" fill="#1a1a1a"/>
<text x="425.10" y="1523.75" font-size="30.5" text-anchor="middle" fill="#1a1a1a">80</text>
<rect x="481.50" y="1472.50" width="206.50" height="18.50" fill="url(#h326)" stroke="#1a1a1a" stroke-width="4"/>
<rect x="480.25" y="1492.00" width="4" height="6.7" fill="#1a1a1a"/>
<text x="490.50" y="1523.75" font-size="30.5" text-anchor="middle" fill="#1a1a1a">0</text>
<rect x="562.75" y="1492.00" width="4" height="6.7" fill="#1a1a1a"/>
<text x="570.70" y="1523.75" font-size="30.5" text-anchor="middle" fill="#1a1a1a">40</text>
<rect x="645.50" y="1492.00" width="4" height="6.7" fill="#1a1a1a"/>
<text x="653.60" y="1523.75" font-size="30.5" text-anchor="middle" fill="#1a1a1a">80</text>
<rect x="708.65" y="1472.75" width="204.10" height="18.00" fill="url(#h327)" stroke="#1a1a1a" stroke-width="4.5"/>
<rect x="706.90" y="1492.00" width="4" height="6.7" fill="#1a1a1a"/>
<text x="718.30" y="1523.75" font-size="30.5" text-anchor="middle" fill="#1a1a1a">0</text>
<rect x="785.70" y="1492.00" width="4" height="6.7" fill="#1a1a1a"/>
<text x="795.25" y="1523.75" font-size="30.5" text-anchor="middle" fill="#1a1a1a">20</text>
<rect x="865.50" y="1492.00" width="4" height="6.7" fill="#1a1a1a"/>
<text x="874.60" y="1523.75" font-size="30.5" text-anchor="middle" fill="#1a1a1a">40</text>
<rect x="933.25" y="1472.75" width="203.50" height="18.00" fill="url(#h328)" stroke="#1a1a1a" stroke-width="4.5"/>
<rect x="931.20" y="1492.00" width="4" height="6.7" fill="#1a1a1a"/>
<text x="942.50" y="1523.75" font-size="30.5" text-anchor="middle" fill="#1a1a1a">0</text>
<rect x="1010.50" y="1492.00" width="4" height="6.7" fill="#1a1a1a"/>
<text x="1020.00" y="1523.75" font-size="30.5" text-anchor="middle" fill="#1a1a1a">20</text>
<rect x="1089.80" y="1492.00" width="4" height="6.7" fill="#1a1a1a"/>
<text x="1099.00" y="1523.75" font-size="30.5" text-anchor="middle" fill="#1a1a1a">40</text>
<rect x="1518.40" y="170.40" width="578.20" height="604.90" fill="none" stroke="#000" stroke-width="3.4"/>
<path d="M1518.40 168.70V775.30H2098.30" fill="none" stroke="#000" stroke-width="4.3" stroke-linejoin="miter"/>
<text transform="translate(1540.3 227) scale(.972 1)" font-size="52.3" fill="#1a1a1a">TAF1-T7 ChIP</text>
<rect x="1510.00" y="286.20" width="7.00" height="3" fill="#333"/>
<text transform="translate(1504.00 300.70) scale(0.95 1)" font-size="41" text-anchor="end" fill="#1a1a1a">0.75</text>
<rect x="1510.00" y="440.00" width="7.00" height="3" fill="#333"/>
<text transform="translate(1504.00 454.50) scale(0.95 1)" font-size="41" text-anchor="end" fill="#1a1a1a">0.50</text>
<rect x="1510.00" y="593.50" width="7.00" height="3" fill="#333"/>
<text transform="translate(1504.00 608.00) scale(0.95 1)" font-size="41" text-anchor="end" fill="#1a1a1a">0.25</text>
<rect x="1510.00" y="747.20" width="7.00" height="3" fill="#333"/>
<text transform="translate(1504.00 761.70) scale(0.95 1)" font-size="41" text-anchor="end" fill="#1a1a1a">0.00</text>
<text transform="translate(1385.00 456.50) rotate(-90)" font-size="49.5" text-anchor="middle" fill="#1a1a1a">% input</text>
<rect x="1601.00" y="777.00" width="3" height="7.50" fill="#333"/>
<text transform="translate(1620.00 812.00) rotate(-45)" font-size="37" text-anchor="end" font-style="italic" fill="#1a1a1a">E2f6</text>
<rect x="1672.00" y="777.00" width="3" height="7.50" fill="#333"/>
<text transform="translate(1687.00 812.00) rotate(-45)" font-size="37" text-anchor="end" font-style="italic" fill="#1a1a1a">Zic2</text>
<rect x="1743.00" y="777.00" width="3" height="7.50" fill="#333"/>
<text transform="translate(1761.00 812.00) rotate(-45)" font-size="37" text-anchor="end" font-style="italic" fill="#1a1a1a">Hoxd8</text>
<rect x="1814.00" y="777.00" width="3" height="7.50" fill="#333"/>
<text transform="translate(1833.00 812.00) rotate(-45)" font-size="37" text-anchor="end" font-style="italic" fill="#1a1a1a">Bcor</text>
<rect x="1884.75" y="777.00" width="3" height="7.50" fill="#333"/>
<text transform="translate(1903.75 812.00) rotate(-45)" font-size="37" text-anchor="end" font-style="italic" fill="#1a1a1a">Hoxb3os</text>
<rect x="1955.75" y="777.00" width="3" height="7.50" fill="#333"/>
<text transform="translate(1974.75 812.00) rotate(-45)" font-size="37" text-anchor="end" font-style="italic" fill="#1a1a1a">Brd2</text>
<rect x="2026.00" y="777.00" width="3" height="7.50" fill="#333"/>
<text transform="translate(2045.00 812.00) rotate(-45)" font-size="37" text-anchor="end" font-style="italic" fill="#1a1a1a">ctrl</text>
<rect x="1581.25" y="545.25" width="21.25" height="203.25" fill="#78c2a8" stroke="#000" stroke-width="3"/>
<rect x="1602.50" y="592.75" width="21.25" height="155.75" fill="#4e4a94" stroke="#000" stroke-width="3"/>
<rect x="1652.25" y="716.50" width="21.25" height="32.00" fill="#78c2a8" stroke="#000" stroke-width="3"/>
<rect x="1673.50" y="697.00" width="21.25" height="51.50" fill="#4e4a94" stroke="#000" stroke-width="3"/>
<rect x="1723.25" y="714.00" width="21.25" height="34.50" fill="#78c2a8" stroke="#000" stroke-width="3"/>
<rect x="1744.50" y="710.50" width="21.25" height="38.00" fill="#4e4a94" stroke="#000" stroke-width="3"/>
<rect x="1794.25" y="679.50" width="21.25" height="69.00" fill="#78c2a8" stroke="#000" stroke-width="3"/>
<rect x="1815.50" y="645.50" width="21.25" height="103.00" fill="#4e4a94" stroke="#000" stroke-width="3"/>
<rect x="1865.00" y="710.00" width="21.25" height="38.50" fill="#78c2a8" stroke="#000" stroke-width="3"/>
<rect x="1886.25" y="677.25" width="21.25" height="71.25" fill="#4e4a94" stroke="#000" stroke-width="3"/>
<rect x="1936.00" y="378.00" width="21.25" height="370.50" fill="#78c2a8" stroke="#000" stroke-width="3"/>
<rect x="1957.25" y="382.75" width="21.25" height="365.75" fill="#4e4a94" stroke="#000" stroke-width="3"/>
<rect x="2006.25" y="741.50" width="21.25" height="7.00" fill="#78c2a8" stroke="#000" stroke-width="3"/>
<rect x="2027.50" y="741.50" width="21.25" height="7.00" fill="#4e4a94" stroke="#000" stroke-width="3"/>
<path d="M1593.00 501.25V588.00M1587.50 501.25h11.00M1587.50 588.00h11.00" stroke="#000" stroke-width="3.2" fill="none"/>
<path d="M1614.00 543.00V641.25M1608.50 543.00h11.00M1608.50 641.25h11.00" stroke="#000" stroke-width="3.2" fill="none"/>
<path d="M1663.75 707.50V718.75M1658.25 707.50h11.00M1658.25 718.75h11.00" stroke="#000" stroke-width="3.2" fill="none"/>
<path d="M1684.50 686.00V706.00M1679.00 686.00h11.00M1679.00 706.00h11.00" stroke="#000" stroke-width="3.2" fill="none"/>
<path d="M1734.00 706.00V719.00M1728.50 706.00h11.00M1728.50 719.00h11.00" stroke="#000" stroke-width="3.2" fill="none"/>
<path d="M1755.50 700.00V718.00M1750.00 700.00h11.00M1750.00 718.00h11.00" stroke="#000" stroke-width="3.2" fill="none"/>
<path d="M1805.00 672.00V685.00M1799.50 672.00h11.00M1799.50 685.00h11.00" stroke="#000" stroke-width="3.2" fill="none"/>
<path d="M1826.00 620.00V671.25M1820.50 620.00h11.00M1820.50 671.25h11.00" stroke="#000" stroke-width="3.2" fill="none"/>
<path d="M1875.00 696.25V708.75M1869.50 696.25h11.00M1869.50 708.75h11.00" stroke="#000" stroke-width="3.2" fill="none"/>
<path d="M1897.50 655.00V698.75M1892.00 655.00h11.00M1892.00 698.75h11.00" stroke="#000" stroke-width="3.2" fill="none"/>
<path d="M1946.50 322.50V434.25M1941.00 322.50h11.00M1941.00 434.25h11.00" stroke="#000" stroke-width="3.2" fill="none"/>
<path d="M1967.50 313.00V451.75M1962.00 313.00h11.00M1962.00 451.75h11.00" stroke="#000" stroke-width="3.2" fill="none"/>
<circle cx="1588.75" cy="515.00" r="5.6" fill="#000"/>
<circle cx="1597.50" cy="515.00" r="5.6" fill="#000"/>
<circle cx="1592.50" cy="605.00" r="5.6" fill="#000"/>
<circle cx="1613.75" cy="524.50" r="5.6" fill="#000"/>
<circle cx="1610.00" cy="627.00" r="5.6" fill="#000"/>
<circle cx="1618.00" cy="627.00" r="5.6" fill="#000"/>
<circle cx="1655.00" cy="712.50" r="5.6" fill="#000"/>
<circle cx="1663.75" cy="712.50" r="5.6" fill="#000"/>
<circle cx="1672.50" cy="712.50" r="5.6" fill="#000"/>
<circle cx="1684.50" cy="680.75" r="5.6" fill="#000"/>
<circle cx="1681.00" cy="705.75" r="5.6" fill="#000"/>
<circle cx="1688.75" cy="705.75" r="5.6" fill="#000"/>
<circle cx="1733.75" cy="706.00" r="5.6" fill="#000"/>
<circle cx="1730.00" cy="718.75" r="5.6" fill="#000"/>
<circle cx="1738.75" cy="718.75" r="5.6" fill="#000"/>
<circle cx="1755.50" cy="695.50" r="5.6" fill="#000"/>
<circle cx="1752.50" cy="717.50" r="5.6" fill="#000"/>
<circle cx="1761.00" cy="717.50" r="5.6" fill="#000"/>
<circle cx="1805.00" cy="670.50" r="5.6" fill="#000"/>
<circle cx="1800.00" cy="685.00" r="5.6" fill="#000"/>
<circle cx="1808.75" cy="685.00" r="5.6" fill="#000"/>
<circle cx="1826.25" cy="610.50" r="5.6" fill="#000"/>
<circle cx="1821.25" cy="662.50" r="5.6" fill="#000"/>
<circle cx="1830.50" cy="662.50" r="5.6" fill="#000"/>
<circle cx="1866.25" cy="705.00" r="5.6" fill="#000"/>
<circle cx="1875.00" cy="705.00" r="5.6" fill="#000"/>
<circle cx="1885.00" cy="705.00" r="5.6" fill="#000"/>
<circle cx="1897.50" cy="652.50" r="5.6" fill="#000"/>
<circle cx="1897.00" cy="672.50" r="5.6" fill="#000"/>
<circle cx="1897.00" cy="705.00" r="5.6" fill="#000"/>
<circle cx="1940.00" cy="338.75" r="5.6" fill="#000"/>
<circle cx="1951.25" cy="338.75" r="5.6" fill="#000"/>
<circle cx="1946.25" cy="456.25" r="5.6" fill="#000"/>
<circle cx="1967.50" cy="303.75" r="5.6" fill="#000"/>
<circle cx="1967.50" cy="370.75" r="5.6" fill="#000"/>
<circle cx="1967.50" cy="471.00" r="5.6" fill="#000"/>
<circle cx="2008.00" cy="738.50" r="5.6" fill="#000"/>
<circle cx="2016.00" cy="738.50" r="5.6" fill="#000"/>
<circle cx="2024.00" cy="738.50" r="5.6" fill="#000"/>
<circle cx="2032.00" cy="738.50" r="5.6" fill="#000"/>
<circle cx="2040.00" cy="738.50" r="5.6" fill="#000"/>
<circle cx="2048.00" cy="738.50" r="5.6" fill="#000"/>
<rect x="1969.10" y="180.10" width="31.80" height="28.30" fill="#78c2a8" stroke="#173d31" stroke-width="1.5"/>
<text x="2006.00" y="204.50" font-size="25" fill="#1a1a1a">-UNT</text>
<rect x="1969.10" y="244.35" width="31.80" height="28.30" fill="#4e4a94" stroke="#19173a" stroke-width="1.5"/>
<text x="2006.00" y="269.25" font-size="25" fill="#1a1a1a">-4h IAA</text>
<path d="M1564.5 938.5H1900.5M1929.5 937.5H1975.5" stroke="#1a1a1a" stroke-width="3" fill="none"/>
<text x="1745.50" y="972.50" font-size="35.5" text-anchor="middle" fill="#1a1a1a">Polycomb</text>
<text x="1951.00" y="972.50" font-size="35.5" text-anchor="middle" fill="#1a1a1a">Ref</text>
<rect x="1525.70" y="1032.40" width="601.30" height="606.20" fill="none" stroke="#000" stroke-width="3.4"/>
<path d="M1525.70 1030.70V1638.60H2128.70" fill="none" stroke="#000" stroke-width="4.3" stroke-linejoin="miter"/>
<text transform="translate(1541.8 1083.6) scale(.967 1)" font-size="52.3" fill="#1a1a1a">PCGF2 ChIP</text>
<rect x="1517.50" y="1208.00" width="7.00" height="3" fill="#333"/>
<text transform="translate(1511.30 1223.80) scale(0.95 1)" font-size="41" text-anchor="end" fill="#1a1a1a">0.4</text>
<rect x="1517.50" y="1409.10" width="7.00" height="3" fill="#333"/>
<text transform="translate(1511.30 1424.90) scale(0.95 1)" font-size="41" text-anchor="end" fill="#1a1a1a">0.2</text>
<rect x="1517.50" y="1610.30" width="7.00" height="3" fill="#333"/>
<text transform="translate(1511.30 1626.10) scale(0.95 1)" font-size="41" text-anchor="end" fill="#1a1a1a">0.0</text>
<text transform="translate(1384.50 1335.00) rotate(-90)" font-size="49.5" text-anchor="middle" fill="#1a1a1a">% input</text>
<rect x="1613.20" y="1640.50" width="3" height="7.50" fill="#333"/>
<text transform="translate(1632.20 1675.50) rotate(-45)" font-size="37" text-anchor="end" font-style="italic" fill="#1a1a1a">E2f6</text>
<rect x="1686.70" y="1640.50" width="3" height="7.50" fill="#333"/>
<text transform="translate(1705.70 1675.50) rotate(-45)" font-size="37" text-anchor="end" font-style="italic" fill="#1a1a1a">Zic2</text>
<rect x="1760.20" y="1640.50" width="3" height="7.50" fill="#333"/>
<text transform="translate(1779.20 1675.50) rotate(-45)" font-size="37" text-anchor="end" font-style="italic" fill="#1a1a1a">Hoxd8</text>
<rect x="1833.70" y="1640.50" width="3" height="7.50" fill="#333"/>
<text transform="translate(1852.70 1675.50) rotate(-45)" font-size="37" text-anchor="end" font-style="italic" fill="#1a1a1a">Bcor</text>
<rect x="1907.20" y="1640.50" width="3" height="7.50" fill="#333"/>
<text transform="translate(1926.20 1675.50) rotate(-45)" font-size="37" text-anchor="end" font-style="italic" fill="#1a1a1a">Hoxb3os</text>
<rect x="1980.70" y="1640.50" width="3" height="7.50" fill="#333"/>
<text transform="translate(1999.70 1675.50) rotate(-45)" font-size="37" text-anchor="end" font-style="italic" fill="#1a1a1a">Brd2</text>
<rect x="2054.20" y="1640.50" width="3" height="7.50" fill="#333"/>
<text transform="translate(2073.20 1675.50) rotate(-45)" font-size="37" text-anchor="end" font-style="italic" fill="#1a1a1a">ctrl</text>
<rect x="1592.70" y="1575.10" width="22.00" height="36.40" fill="#78c2a8" stroke="#000" stroke-width="3"/>
<rect x="1614.70" y="1598.80" width="22.00" height="12.70" fill="#4e4a94" stroke="#000" stroke-width="3"/>
<rect x="1666.20" y="1200.75" width="22.00" height="410.75" fill="#78c2a8" stroke="#000" stroke-width="3"/>
<rect x="1688.20" y="1580.70" width="22.00" height="30.80" fill="#4e4a94" stroke="#000" stroke-width="3"/>
<rect x="1739.70" y="1382.00" width="22.00" height="229.50" fill="#78c2a8" stroke="#000" stroke-width="3"/>
<rect x="1761.70" y="1584.90" width="22.00" height="26.60" fill="#4e4a94" stroke="#000" stroke-width="3"/>
<rect x="1813.20" y="1287.75" width="22.00" height="323.75" fill="#78c2a8" stroke="#000" stroke-width="3"/>
<rect x="1835.20" y="1584.50" width="22.00" height="27.00" fill="#4e4a94" stroke="#000" stroke-width="3"/>
<rect x="1886.70" y="1474.40" width="22.00" height="137.10" fill="#78c2a8" stroke="#000" stroke-width="3"/>
<rect x="1908.70" y="1598.80" width="22.00" height="12.70" fill="#4e4a94" stroke="#000" stroke-width="3"/>
<rect x="1960.20" y="1603.30" width="22.00" height="8.20" fill="#78c2a8" stroke="#000" stroke-width="3"/>
<rect x="1982.20" y="1608.20" width="22.00" height="3.30" fill="#4e4a94" stroke="#000" stroke-width="3"/>
<rect x="2033.70" y="1605.90" width="22.00" height="5.60" fill="#78c2a8" stroke="#000" stroke-width="3"/>
<rect x="2055.70" y="1608.90" width="22.00" height="2.60" fill="#4e4a94" stroke="#000" stroke-width="3"/>
<path d="M1677.50 1154.00V1246.75M1672.00 1154.00h11.00M1672.00 1246.75h11.00" stroke="#000" stroke-width="3.2" fill="none"/>
<path d="M1699.20 1572.00V1588.00M1693.70 1572.00h11.00M1693.70 1588.00h11.00" stroke="#000" stroke-width="3.2" fill="none"/>
<path d="M1750.75 1356.25V1407.00M1745.25 1356.25h11.00M1745.25 1407.00h11.00" stroke="#000" stroke-width="3.2" fill="none"/>
<path d="M1773.30 1572.50V1596.00M1767.80 1572.50h11.00M1767.80 1596.00h11.00" stroke="#000" stroke-width="3.2" fill="none"/>
<path d="M1824.25 1232.00V1342.00M1818.75 1232.00h11.00M1818.75 1342.00h11.00" stroke="#000" stroke-width="3.2" fill="none"/>
<path d="M1846.60 1574.70V1585.60M1841.10 1574.70h11.00M1841.10 1585.60h11.00" stroke="#000" stroke-width="3.2" fill="none"/>
<path d="M1897.70 1468.00V1487.00M1892.20 1468.00h11.00M1892.20 1487.00h11.00" stroke="#000" stroke-width="3.2" fill="none"/>
<path d="M1920.30 1590.00V1598.00M1914.80 1590.00h11.00M1914.80 1598.00h11.00" stroke="#000" stroke-width="3.2" fill="none"/>
<circle cx="1594.00" cy="1573.00" r="5.6" fill="#000"/>
<circle cx="1603.40" cy="1573.00" r="5.6" fill="#000"/>
<circle cx="1612.80" cy="1573.00" r="5.6" fill="#000"/>
<circle cx="1617.30" cy="1596.50" r="5.6" fill="#000"/>
<circle cx="1626.70" cy="1596.50" r="5.6" fill="#000"/>
<circle cx="1635.30" cy="1596.50" r="5.6" fill="#000"/>
<circle cx="1677.50" cy="1153.75" r="5.6" fill="#000"/>
<circle cx="1677.50" cy="1183.75" r="5.6" fill="#000"/>
<circle cx="1677.50" cy="1263.75" r="5.6" fill="#000"/>
<circle cx="1699.20" cy="1566.80" r="5.6" fill="#000"/>
<circle cx="1694.70" cy="1586.00" r="5.6" fill="#000"/>
<circle cx="1704.00" cy="1586.00" r="5.6" fill="#000"/>
<circle cx="1750.75" cy="1347.50" r="5.6" fill="#000"/>
<circle cx="1746.25" cy="1398.75" r="5.6" fill="#000"/>
<circle cx="1755.50" cy="1398.75" r="5.6" fill="#000"/>
<circle cx="1773.30" cy="1565.00" r="5.6" fill="#000"/>
<circle cx="1768.80" cy="1595.00" r="5.6" fill="#000"/>
<circle cx="1777.40" cy="1595.00" r="5.6" fill="#000"/>
<circle cx="1820.00" cy="1249.25" r="5.6" fill="#000"/>
<circle cx="1828.75" cy="1249.25" r="5.6" fill="#000"/>
<circle cx="1824.25" cy="1364.50" r="5.6" fill="#000"/>
<circle cx="1837.60" cy="1579.20" r="5.6" fill="#000"/>
<circle cx="1846.60" cy="1579.20" r="5.6" fill="#000"/>
<circle cx="1855.30" cy="1579.20" r="5.6" fill="#000"/>
<circle cx="1892.90" cy="1463.50" r="5.6" fill="#000"/>
<circle cx="1897.70" cy="1463.50" r="5.6" fill="#000"/>
<circle cx="1903.00" cy="1463.50" r="5.6" fill="#000"/>
<circle cx="1897.70" cy="1492.80" r="5.6" fill="#000"/>
<circle cx="1910.50" cy="1595.00" r="5.6" fill="#000"/>
<circle cx="1920.30" cy="1595.00" r="5.6" fill="#000"/>
<circle cx="1929.30" cy="1595.00" r="5.6" fill="#000"/>
<circle cx="1961.70" cy="1598.80" r="5.6" fill="#000"/>
<circle cx="1970.70" cy="1598.80" r="5.6" fill="#000"/>
<circle cx="1980.00" cy="1598.80" r="5.6" fill="#000"/>
<circle cx="1985.00" cy="1605.60" r="5.6" fill="#000"/>
<circle cx="1993.60" cy="1605.60" r="5.6" fill="#000"/>
<circle cx="2002.60" cy="1605.60" r="5.6" fill="#000"/>
<circle cx="2035.00" cy="1601.00" r="5.6" fill="#000"/>
<circle cx="2044.00" cy="1601.00" r="5.6" fill="#000"/>
<circle cx="2053.40" cy="1601.00" r="5.6" fill="#000"/>
<circle cx="2059.00" cy="1604.80" r="5.6" fill="#000"/>
<circle cx="2067.70" cy="1604.80" r="5.6" fill="#000"/>
<circle cx="2076.30" cy="1604.80" r="5.6" fill="#000"/>
<rect x="1994.60" y="1043.60" width="31.80" height="28.30" fill="#78c2a8" stroke="#173d31" stroke-width="1.5"/>
<text x="2031.50" y="1068.50" font-size="25" fill="#1a1a1a">-UNT</text>
<rect x="1994.60" y="1109.10" width="31.80" height="28.30" fill="#4e4a94" stroke="#19173a" stroke-width="1.5"/>
<text x="2031.50" y="1132.50" font-size="25" fill="#1a1a1a">-4h IAA</text>
<path d="M1574.5 1795H1910.5M1943 1794.5H1989.5" stroke="#1a1a1a" stroke-width="3" fill="none"/>
<text x="1755.50" y="1828.50" font-size="35.5" text-anchor="middle" fill="#1a1a1a">Polycomb</text>
<text x="1970.00" y="1828.50" font-size="35.5" text-anchor="middle" fill="#1a1a1a">Ref</text>
<rect x="1521.90" y="1902.10" width="610.60" height="604.60" fill="none" stroke="#000" stroke-width="3.4"/>
<path d="M1521.90 1900.40V2506.70H2134.20" fill="none" stroke="#000" stroke-width="4.3" stroke-linejoin="miter"/>
<text transform="translate(1546 1959.7) scale(.985 1)" font-size="51.5" fill="#1a1a1a">RT-qPCR</text>
<rect x="1513.80" y="1949.10" width="6.20" height="3" fill="#333"/>
<text transform="translate(1508.00 1964.10) scale(0.95 1)" font-size="41" text-anchor="end" fill="#1a1a1a">50</text>
<rect x="1513.80" y="2054.60" width="6.20" height="3" fill="#333"/>
<text transform="translate(1508.00 2069.60) scale(0.95 1)" font-size="41" text-anchor="end" fill="#1a1a1a">40</text>
<rect x="1513.80" y="2160.20" width="6.20" height="3" fill="#333"/>
<text transform="translate(1508.00 2175.20) scale(0.95 1)" font-size="41" text-anchor="end" fill="#1a1a1a">30</text>
<rect x="1513.80" y="2265.80" width="6.20" height="3" fill="#333"/>
<text transform="translate(1508.00 2280.80) scale(0.95 1)" font-size="41" text-anchor="end" fill="#1a1a1a">20</text>
<rect x="1513.80" y="2371.40" width="6.20" height="3" fill="#333"/>
<text transform="translate(1508.00 2386.40) scale(0.95 1)" font-size="41" text-anchor="end" fill="#1a1a1a">10</text>
<rect x="1513.80" y="2477.00" width="6.20" height="3" fill="#333"/>
<text transform="translate(1508.00 2492.00) scale(0.95 1)" font-size="41" text-anchor="end" fill="#1a1a1a">0</text>
<text transform="translate(1395.3 2418.2) rotate(-90) scale(.9 1)" font-size="52" fill="#1a1a1a"><tspan letter-spacing="-2">Relative</tspan><tspan x="188.54"> expression</tspan></text>
<rect x="1625.20" y="2508.50" width="3" height="7.50" fill="#333"/>
<text transform="translate(1639.20 2543.00) rotate(-45)" font-size="37" text-anchor="end" font-style="italic" fill="#1a1a1a">E2f6</text>
<rect x="1710.20" y="2508.50" width="3" height="7.50" fill="#333"/>
<text transform="translate(1724.20 2543.00) rotate(-45)" font-size="37" text-anchor="end" font-style="italic" fill="#1a1a1a">Zic2</text>
<rect x="1795.50" y="2508.50" width="3" height="7.50" fill="#333"/>
<text transform="translate(1809.50 2543.00) rotate(-45)" font-size="37" text-anchor="end" font-style="italic" fill="#1a1a1a">Bcor</text>
<rect x="1880.80" y="2508.50" width="3" height="7.50" fill="#333"/>
<text transform="translate(1894.80 2543.00) rotate(-45)" font-size="37" text-anchor="end" font-style="italic" fill="#1a1a1a">Hoxd8</text>
<rect x="1965.80" y="2508.50" width="3" height="7.50" fill="#333"/>
<text transform="translate(1979.80 2543.00) rotate(-45)" font-size="37" text-anchor="end" font-style="italic" fill="#1a1a1a">Hoxb3os</text>
<rect x="2037.20" y="2508.50" width="3" height="7.50" fill="#333"/>
<text transform="translate(2063.20 2543.00) rotate(-45)" font-size="37" text-anchor="end" font-style="italic" fill="#1a1a1a">Brd2</text>
<rect x="1601.70" y="2469.30" width="16.60" height="9.40" fill="#78c2a8" stroke="#000" stroke-width="2.6"/>
<rect x="1636.20" y="2473.30" width="16.90" height="5.40" fill="#e7362b" stroke="#000" stroke-width="2.6"/>
<rect x="1618.30" y="2452.30" width="17.90" height="26.40" fill="#4e4a94" stroke="#000" stroke-width="2.6"/>
<rect x="1686.60" y="2469.30" width="16.60" height="9.40" fill="#78c2a8" stroke="#000" stroke-width="2.6"/>
<rect x="1721.10" y="2467.30" width="16.90" height="11.40" fill="#e7362b" stroke="#000" stroke-width="2.6"/>
<rect x="1703.20" y="2449.30" width="17.90" height="29.40" fill="#4e4a94" stroke="#000" stroke-width="2.6"/>
<rect x="1772.00" y="2469.30" width="16.60" height="9.40" fill="#78c2a8" stroke="#000" stroke-width="2.6"/>
<rect x="1806.50" y="2470.30" width="16.90" height="8.40" fill="#e7362b" stroke="#000" stroke-width="2.6"/>
<rect x="1788.60" y="2418.50" width="17.90" height="60.20" fill="#4e4a94" stroke="#000" stroke-width="2.6"/>
<rect x="1857.30" y="2469.30" width="16.60" height="9.40" fill="#78c2a8" stroke="#000" stroke-width="2.6"/>
<rect x="1891.80" y="2472.30" width="16.90" height="6.40" fill="#e7362b" stroke="#000" stroke-width="2.6"/>
<rect x="1873.90" y="2310.30" width="17.90" height="168.40" fill="#4e4a94" stroke="#000" stroke-width="2.6"/>
<rect x="1941.90" y="2469.30" width="16.60" height="9.40" fill="#78c2a8" stroke="#000" stroke-width="2.6"/>
<rect x="1976.40" y="2458.00" width="16.90" height="20.70" fill="#e7362b" stroke="#000" stroke-width="2.6"/>
<rect x="1958.50" y="2089.20" width="17.90" height="389.50" fill="#4e4a94" stroke="#000" stroke-width="2.6"/>
<rect x="2026.90" y="2469.30" width="16.60" height="9.40" fill="#78c2a8" stroke="#000" stroke-width="2.6"/>
<rect x="2061.40" y="2468.30" width="16.90" height="10.40" fill="#e7362b" stroke="#000" stroke-width="2.6"/>
<rect x="2043.50" y="2465.30" width="17.90" height="13.40" fill="#4e4a94" stroke="#000" stroke-width="2.6"/>
<path d="M1627.80 2447.00V2456.00M1623.80 2447.00h8.00M1623.80 2456.00h8.00" stroke="#000" stroke-width="3.2" fill="none"/>
<path d="M1712.40 2440.00V2456.00M1708.40 2440.00h8.00M1708.40 2456.00h8.00" stroke="#000" stroke-width="3.2" fill="none"/>
<path d="M1797.00 2409.00V2425.00M1793.00 2409.00h8.00M1793.00 2425.00h8.00" stroke="#000" stroke-width="3.2" fill="none"/>
<path d="M1882.30 2234.00V2386.40M1878.30 2234.00h8.00M1878.30 2386.40h8.00" stroke="#000" stroke-width="3.2" fill="none"/>
<path d="M1967.30 1977.70V2201.00M1963.30 1977.70h8.00M1963.30 2201.00h8.00" stroke="#000" stroke-width="3.2" fill="none"/>
<path d="M1985.00 2448.00V2464.00M1981.00 2448.00h8.00M1981.00 2464.00h8.00" stroke="#000" stroke-width="3.2" fill="none"/>
<circle cx="1601.90" cy="2467.50" r="5.6" fill="#000"/>
<circle cx="1610.20" cy="2467.50" r="5.6" fill="#000"/>
<circle cx="1618.40" cy="2467.50" r="5.6" fill="#000"/>
<circle cx="1686.80" cy="2467.50" r="5.6" fill="#000"/>
<circle cx="1695.10" cy="2467.50" r="5.6" fill="#000"/>
<circle cx="1703.30" cy="2467.50" r="5.6" fill="#000"/>
<circle cx="1772.20" cy="2467.50" r="5.6" fill="#000"/>
<circle cx="1780.50" cy="2467.50" r="5.6" fill="#000"/>
<circle cx="1788.70" cy="2467.50" r="5.6" fill="#000"/>
<circle cx="1857.50" cy="2467.50" r="5.6" fill="#000"/>
<circle cx="1865.80" cy="2467.50" r="5.6" fill="#000"/>
<circle cx="1874.00" cy="2467.50" r="5.6" fill="#000"/>
<circle cx="1942.10" cy="2467.50" r="5.6" fill="#000"/>
<circle cx="1950.40" cy="2467.50" r="5.6" fill="#000"/>
<circle cx="1958.60" cy="2467.50" r="5.6" fill="#000"/>
<circle cx="2027.10" cy="2467.50" r="5.6" fill="#000"/>
<circle cx="2035.40" cy="2467.50" r="5.6" fill="#000"/>
<circle cx="2043.60" cy="2467.50" r="5.6" fill="#000"/>
<circle cx="1618.40" cy="2450.00" r="5.6" fill="#000"/>
<circle cx="1627.80" cy="2450.00" r="5.6" fill="#000"/>
<circle cx="1636.00" cy="2450.00" r="5.6" fill="#000"/>
<circle cx="1635.30" cy="2472.50" r="5.6" fill="#000"/>
<circle cx="1644.70" cy="2472.50" r="5.6" fill="#000"/>
<circle cx="1653.40" cy="2472.50" r="5.6" fill="#000"/>
<circle cx="1707.90" cy="2440.90" r="5.6" fill="#000"/>
<circle cx="1716.20" cy="2440.90" r="5.6" fill="#000"/>
<circle cx="1712.40" cy="2466.00" r="5.6" fill="#000"/>
<circle cx="1721.80" cy="2464.20" r="5.6" fill="#000"/>
<circle cx="1730.00" cy="2464.20" r="5.6" fill="#000"/>
<circle cx="1738.70" cy="2464.20" r="5.6" fill="#000"/>
<circle cx="1797.00" cy="2407.00" r="5.6" fill="#000"/>
<circle cx="1793.20" cy="2422.00" r="5.6" fill="#000"/>
<circle cx="1800.80" cy="2422.00" r="5.6" fill="#000"/>
<circle cx="1806.40" cy="2466.80" r="5.6" fill="#000"/>
<circle cx="1815.00" cy="2466.80" r="5.6" fill="#000"/>
<circle cx="1823.30" cy="2466.80" r="5.6" fill="#000"/>
<circle cx="1882.30" cy="2203.30" r="5.6" fill="#000"/>
<circle cx="1882.30" cy="2352.60" r="5.6" fill="#000"/>
<circle cx="1882.30" cy="2374.00" r="5.6" fill="#000"/>
<circle cx="1891.70" cy="2468.00" r="5.6" fill="#000"/>
<circle cx="1900.40" cy="2468.00" r="5.6" fill="#000"/>
<circle cx="1909.00" cy="2468.00" r="5.6" fill="#000"/>
<circle cx="1967.30" cy="1937.10" r="5.6" fill="#000"/>
<circle cx="1967.30" cy="2128.00" r="5.6" fill="#000"/>
<circle cx="1967.30" cy="2201.40" r="5.6" fill="#000"/>
<circle cx="1985.00" cy="2444.30" r="5.6" fill="#000"/>
<circle cx="1981.20" cy="2463.00" r="5.6" fill="#000"/>
<circle cx="1988.70" cy="2463.00" r="5.6" fill="#000"/>
<circle cx="2044.50" cy="2464.20" r="5.6" fill="#000"/>
<circle cx="2052.50" cy="2464.20" r="5.6" fill="#000"/>
<circle cx="2060.50" cy="2464.20" r="5.6" fill="#000"/>
<circle cx="2062.00" cy="2466.00" r="5.6" fill="#000"/>
<circle cx="2070.50" cy="2466.00" r="5.6" fill="#000"/>
<circle cx="2079.00" cy="2466.00" r="5.6" fill="#000"/>
<rect x="1555.60" y="2076.90" width="31.80" height="28.30" fill="#78c2a8" stroke="#173d31" stroke-width="1.5"/>
<text x="1592.50" y="2100.60" font-size="25" fill="#1a1a1a">-UNT</text>
<rect x="1555.60" y="2141.20" width="31.80" height="28.30" fill="#4e4a94" stroke="#19173a" stroke-width="1.5"/>
<text x="1592.50" y="2164.80" font-size="25" fill="#1a1a1a">-4h IAA</text>
<rect x="1555.60" y="2205.50" width="31.80" height="28.30" fill="#d62a40" stroke="#5a101b" stroke-width="1.5"/>
<text x="1592.50" y="2226.50" font-size="25" fill="#1a1a1a">-4h AGB1</text>
<path d="M1580.5 2663.5H1979M2015.5 2663.5H2063" stroke="#1a1a1a" stroke-width="3" fill="none"/>
<text x="1798.00" y="2697.50" font-size="35.5" text-anchor="middle" fill="#1a1a1a">Polycomb</text>
<text x="2038.50" y="2697.50" font-size="35.5" text-anchor="middle" fill="#1a1a1a">Ref</text>
</svg>
</body></html>
